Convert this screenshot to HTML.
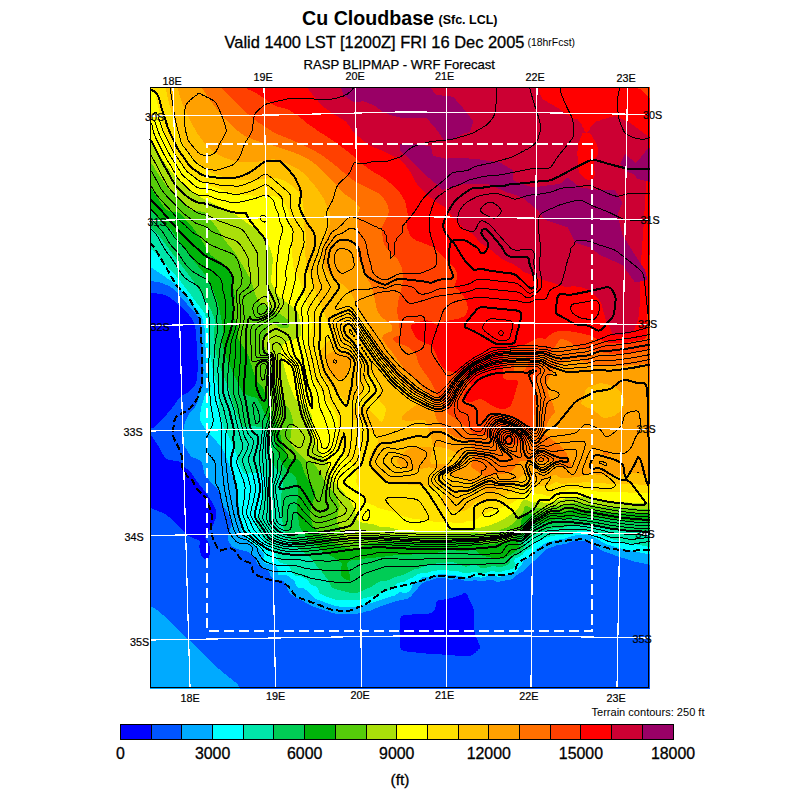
<!DOCTYPE html>
<html><head><meta charset="utf-8"><title>Cu Cloudbase</title>
<style>
html,body{margin:0;padding:0;background:#fff;}
body{width:800px;height:800px;overflow:hidden;font-family:"Liberation Sans",sans-serif;}
svg{display:block}
text{font-family:"Liberation Sans",sans-serif;fill:#000;shape-rendering:crispEdges;text-rendering:optimizeSpeed}
</style></head><body>
<svg width="800" height="800" viewBox="0 0 800 800">
<rect width="800" height="800" fill="#fff"/>
<g shape-rendering="crispEdges">
<rect x="150" y="87" width="499" height="601" fill="#0000ff"/>
<path fill="#0055ff" d="M152 87L154 87L156 87L158 87L160 87L162 87L164 87L166 87L168 87L170 87L172 87L174 87L176 87L178 87L180 87L182 87L184 87L186 87L188 87L190 87L192 87L194 87L196 87L198 87L200 87L202 87L204 87L206 87L208 87L210 87L212 87L214 87L216 87L218 87L220 87L222 87L224 87L226 87L228 87L230 87L232 87L234 87L236 87L238 87L240 87L242 87L244 87L246 87L248 87L250 87L252 87L254 87L256 87L258 87L260 87L262 87L264 87L266 87L268 87L270 87L272 87L274 87L276 87L278 87L280 87L282 87L284 87L286 87L288 87L290 87L292 87L294 87L296 87L298 87L300 87L302 87L304 87L306 87L308 87L310 87L312 87L314 87L316 87L318 87L320 87L322 87L324 87L326 87L328 87L330 87L332 87L334 87L336 87L338 87L340 87L342 87L344 87L346 87L348 87L350 87L352 87L354 87L356 87L358 87L360 87L362 87L364 87L366 87L368 87L370 87L372 87L374 87L376 87L378 87L380 87L382 87L384 87L386 87L388 87L390 87L392 87L394 87L396 87L398 87L400 87L402 87L404 87L406 87L408 87L410 87L412 87L414 87L416 87L418 87L420 87L422 87L424 87L426 87L428 87L430 87L432 87L434 87L436 87L438 87L440 87L442 87L444 87L446 87L448 87L450 87L452 87L454 87L456 87L458 87L460 87L462 87L464 87L466 87L468 87L470 87L472 87L474 87L476 87L478 87L480 87L482 87L484 87L486 87L488 87L490 87L492 87L494 87L496 87L498 87L500 87L502 87L504 87L506 87L508 87L510 87L512 87L514 87L516 87L518 87L520 87L522 87L524 87L526 87L528 87L530 87L532 87L534 87L536 87L538 87L540 87L542 87L544 87L546 87L548 87L550 87L552 87L554 87L556 87L558 87L560 87L562 87L564 87L566 87L568 87L570 87L572 87L574 87L576 87L578 87L580 87L582 87L584 87L586 87L588 87L590 87L592 87L594 87L596 87L598 87L600 87L602 87L604 87L606 87L608 87L610 87L612 87L614 87L616 87L618 87L620 87L622 87L624 87L626 87L628 87L630 87L632 87L634 87L636 87L638 87L640 87L642 87L644 87L646 87L648 87L650 87L650 89L650 91L650 93L650 95L650 97L650 99L650 101L650 103L650 105L650 107L650 109L650 111L650 113L650 115L650 117L650 119L650 121L650 123L650 125L650 127L650 129L650 131L650 133L650 135L650 137L650 139L650 141L650 143L650 145L650 147L650 149L650 151L650 153L650 155L650 157L650 159L650 161L650 163L650 165L650 167L650 169L650 171L650 173L650 175L650 177L650 179L650 181L650 183L650 185L650 187L650 189L650 191L650 193L650 195L650 197L650 199L650 201L650 203L650 205L650 207L650 209L650 211L650 213L650 215L650 217L650 219L650 221L650 223L650 225L650 227L650 229L650 231L650 233L650 235L650 237L650 239L650 241L650 243L650 245L650 247L650 249L650 251L650 253L650 255L650 257L650 259L650 261L650 263L650 265L650 267L650 269L650 271L650 273L650 275L650 277L650 279L650 281L650 283L650 285L650 287L650 289L650 291L650 293L650 295L650 297L650 299L650 301L650 303L650 305L650 307L650 309L650 311L650 313L650 315L650 317L650 319L650 321L650 323L650 325L650 327L650 329L650 331L650 333L650 335L650 337L650 339L650 341L650 343L650 345L650 347L650 349L650 351L650 353L650 355L650 357L650 359L650 361L650 363L650 365L650 367L650 369L650 371L650 373L650 375L650 377L650 379L650 381L650 383L650 385L650 387L650 389L650 391L650 393L650 395L650 397L650 399L650 401L650 403L650 405L650 407L650 409L650 411L650 413L650 415L650 417L650 419L650 421L650 423L650 425L650 427L650 429L650 431L650 433L650 435L650 437L650 439L650 441L650 443L650 445L650 447L650 449L650 451L650 453L650 455L650 457L650 459L650 461L650 463L650 465L650 467L650 469L650 471L650 473L650 475L650 477L650 479L650 481L650 483L650 485L650 487L650 489L650 491L650 493L650 495L650 497L650 499L650 501L650 503L650 505L650 507L650 509L650 511L650 513L650 515L650 517L650 519L650 521L650 523L650 525L650 527L650 529L650 531L650 533L650 535L650 537L650 539L650 541L650 543L650 545L650 547L650 549L650 551L650 553L650 555L650 557L650 559L650 561L650 563L650 565L650 567L650 569L650 571L650 573L650 575L650 577L650 579L650 581L650 583L650 585L650 587L650 589L650 591L650 593L650 595L650 597L650 599L650 601L650 603L650 605L650 607L650 609L650 611L650 613L650 615L650 617L650 619L650 621L650 623L650 625L650 627L650 629L650 631L650 633L650 635L650 637L650 639L650 641L650 643L650 645L650 647L650 649L650 651L650 653L650 655L650 657L650 659L650 661L650 663L650 665L650 667L650 669L650 671L650 673L650 675L650 677L650 679L650 681L650 683L650 685L650 687L650 689L648 689L646 689L644 689L642 689L640 689L638 689L636 689L634 689L632 689L630 689L628 689L626 689L624 689L622 689L620 689L618 689L616 689L614 689L612 689L610 689L608 689L606 689L604 689L602 689L600 689L598 689L596 689L594 689L592 689L590 689L588 689L586 689L584 689L582 689L580 689L578 689L576 689L574 689L572 689L570 689L568 689L566 689L564 689L562 689L560 689L558 689L556 689L554 689L552 689L550 689L548 689L546 689L544 689L542 689L540 689L538 689L536 689L534 689L532 689L530 689L528 689L526 689L524 689L522 689L520 689L518 689L516 689L514 689L512 689L510 689L508 689L506 689L504 689L502 689L500 689L498 689L496 689L494 689L492 689L490 689L488 689L486 689L484 689L482 689L480 689L478 689L476 689L474 689L472 689L470 689L468 689L466 689L464 689L462 689L460 689L458 689L456 689L454 689L452 689L450 689L448 689L446 689L444 689L442 689L440 689L438 689L436 689L434 689L432 689L430 689L428 689L426 689L424 689L422 689L420 689L418 689L416 689L414 689L412 689L410 689L408 689L406 689L404 689L402 689L400 689L398 689L396 689L394 689L392 689L390 689L388 689L386 689L384 689L382 689L380 689L378 689L376 689L374 689L372 689L370 689L368 689L366 689L364 689L362 689L360 689L358 689L356 689L354 689L352 689L350 689L348 689L346 689L344 689L342 689L340 689L338 689L336 689L334 689L332 689L330 689L328 689L326 689L324 689L322 689L320 689L318 689L316 689L314 689L312 689L310 689L308 689L306 689L304 689L302 689L300 689L298 689L296 689L294 689L292 689L290 689L288 689L286 689L284 689L282 689L280 689L278 689L276 689L274 689L272 689L270 689L268 689L266 689L264 689L262 689L260 689L258 689L256 689L254 689L252 689L250 689L248 689L246 689L244 689L242 689L240 689L238 689L236 689L234 689L232 689L230 689L228 689L226 689L224 689L222 689L220 689L218 689L216 689L214 689L212 689L210 689L208 689L206 689L204 689L202 689L200 689L198 689L196 689L194 689L192 689L190 689L188 689L186 689L184 689L182 689L180 689L178 689L176 689L174 689L172 689L170 689L168 689L166 689L164 689L162 689L160 689L158 689L156 689L154 689L152 689L150 689L150 687L150 685L150 683L150 681L150 679L150 677L150 675L150 673L150 671L150 669L150 667L150 665L150 663L150 661L150 659L150 657L150 655L150 653L150 651L150 649L150 647L150 645L150 643L150 641L150 639L150 637L150 635L150 633L150 631L150 629L150 627L150 625L150 623L150 621L150 619L150 617L150 615L150 613L150 611L150 609L150 607L150 605L150 603L150 601L150 599L150 597L150 595L150 593L150 591L150 589L150 587L150 585L150 583L150 581L150 579L150 577L150 575L150 573L150 571L150 569L150 567L150 565L150 563L150 561L150 559L150 557L150 555L150 553L150 551L150 549L150 547L150 545L150 543L150 541L150 539L150 537L150 535L150 533L150 531L150 529L150 527L150 525L150 523L150 521L150 519L150 517L150 515L150 513L150 511L150 509L150 507.4L152 508.5L153.1 509L154 509.4L156 510.2L158 510.9L158.1 511L160 511.8L162 512.6L163 513L164 513.5L166 514.7L166.4 515L168 516.2L168.9 517L170 517.9L171.3 519L172 519.6L173.6 521L174 521.4L175.8 523L176 523.1L178 525L179.8 527L180 527.2L181.5 529L182 529.6L183.2 531L184 532L185.1 533L186 533.9L187.7 535L188 535.3L190 536.5L191.1 537L192 537.6L194 538.6L195.5 539L196 539.3L198 539.8L199.9 541L199.7 543L199.5 545L199.4 547L199.6 549L200 550.8L200 551L200.5 553L201.1 555L202 556.6L202.3 557L204 558.6L205.3 559L206 559.3L206.9 559L208 558.6L208.9 557L209.7 555L209.9 553L209.9 551L209.8 549L209.6 547L209.3 545L208.6 543L208 541.3L207.4 541L206 539L206 538.8L204.6 537L206 535.7L206.1 535L207.5 533L208 532.6L208.8 531L210 529.8L210.4 529L211.8 527L212 526.7L212.8 525L213.8 523L214 522.6L214.6 521L215.4 519L216 517.1L216 517L216.2 515L216.2 513L216 511L216 510.9L215.4 509L214.4 507L214 506.1L213.3 505L212.3 503L212 502.3L211.2 501L210.1 499L210 498.8L208.8 497L208 495.8L207.4 495L206 493L204.5 491L204 490.4L202.9 489L202 487.8L201.4 487L200 485.2L199.8 485L198.3 483L198 482.6L196.8 481L196 479.8L195.4 479L194.1 477L194 476.8L192.7 475L192 473.9L191.2 473L190 471.7L189.3 471L188 469.9L187 469L186 468.4L184.5 467L184 466.6L182.7 465L182 463.8L181.1 463L180 462L178 461.3L176.5 461L176 460.9L174 460.6L172 460.3L170 460L168 459.6L167 459L166 458.4L164.8 457L164 456L163.4 455L162.2 453L162 452.7L161 451L160 449.2L159.9 449L158.8 447L158 445.6L157.6 445L156.4 443L156 442.2L155.1 441L154 439.1L153.9 439L152.3 437L152 436.4L150 435L150 433L150 431L150 429L150 428.7L152 428.2L154 427.4L154.5 427L156 425.9L156.9 425L158 423.9L158.8 423L160 421.8L160.7 421L162 419.7L162.6 419L164 417.5L164.4 417L166 415.1L166.1 415L167.8 413L168 412.8L169.5 411L170 410.4L171.1 409L172 407.9L172.6 407L174 405.2L174.2 405L175.6 403L176 402.4L177 401L178 399.7L178.5 399L180 397.2L180.2 397L182 395.4L183 395L184 394.4L186 393.6L187.4 393L188 392.6L189.7 391L190 390.8L191.4 389L192 388.5L193.2 387L194 386.2L194.9 385L196 383.4L196.1 383L196.5 381L196.7 379L196.9 377L197.1 375L197.4 373L197.7 371L198 369.1L198 369L198.1 367L198 365L198 364.7L197.8 363L197.6 361L197.4 359L197.3 357L197.1 355L197 353L196.9 351L196.8 349L196.7 347L196.6 345L196.6 343L196.5 341L196.4 339L196.4 337L196.3 335L196.2 333L196.1 331L196 330.3L195.6 329L195 327L194.5 325L194.1 323L194 322.8L193.1 321L192.2 319L192 318.7L190.7 317L190 316.2L189 315L188 314L187.1 313L186 311.9L185.1 311L184 309.8L183.1 309L182 307.9L181 307L180 306L178.8 305L178 304.2L176.5 303L176 302.5L174.2 301L174 300.8L172 299.1L171.9 299L170 297.7L168.7 297L168 296.7L166 295.7L164.6 295L164 294.8L162 294.3L160 293.9L158 293.6L156 293.3L154 293L152 293.1L150 293.7L150 293L150 291L150 289L150 287L150 285L150 283L150 281L150 279L150 277L150 275L150 273L150 271L150 269L150 267L150 265L150 263L150 261L150 259L150 257L150 255L150 253L150 251L150 249L150 247L150 245L150 243L150 241L150 239L150 237L150 235L150 233L150 231L150 229L150 227L150 225L150 223L150 221L150 219L150 217L150 215L150 213L150 211L150 209L150 207L150 205L150 203L150 201L150 199L150 197L150 195L150 193L150 191L150 189L150 187L150 185L150 183L150 181L150 179L150 177L150 175L150 173L150 171L150 169L150 167L150 165L150 163L150 161L150 159L150 157L150 155L150 153L150 151L150 149L150 147L150 145L150 143L150 141L150 139L150 137L150 135L150 133L150 131L150 129L150 127L150 125L150 123L150 121L150 119L150 117L150 115L150 113L150 111L150 109L150 107L150 105L150 103L150 101L150 99L150 97L150 95L150 93L150 91L150 89L150 87ZM464 593L462 593.7L461.3 595L460 595.1L458 595.9L456 596.7L455 597L454 597.3L452 597.9L450 598.4L448 598.8L446.2 599L446 599.1L444 599.5L442 600L440 600.3L438 600.3L436.9 601L436.3 603L436 603.4L435.9 605L435.6 607L435 609L434 611L432 612.5L431.1 613L430 613.3L428 613.6L426 613.8L424 613.9L422 614L420 614.1L418 614.2L416 614.3L414 614.4L412 614.5L410 614.6L408 614.7L406 614.8L404.3 615L404 615.1L402 616L400.9 617L400.2 619L400 621L400 623L400 625L400 627L400 629L400 631L400 633L400 635L400 637L400 639L400 641L400 643L400 645L400.1 647L400.8 649L402 650L404 651L404.2 651L406 651.4L408 651.7L410 651.9L412 652.1L414 652.3L416 652.5L418 652.7L420 652.9L421.5 653L422 653L424 653.3L426 653.5L428 653.7L430 653.8L432 653.9L434 654L436 654L438 654.2L440 654.3L442 654.5L444 654.6L446 654.8L448 655L448.5 655L450 655.1L452 655.3L454 655.4L456 655.6L458 655.7L460 655.9L462 656L464 656.2L466 656.3L468 656.4L470 656L472 655.2L472.6 655L474 653.5L475.3 653L476 651.5L477.6 651L478 649.5L479.7 649L479.9 647L479.5 645L478.6 643L478 642.2L477.9 641L477.1 639L476.1 637L476 636.8L475.5 635L474.8 633L474.2 631L474 629.8L473.9 629L473.8 627L473.8 625L473.8 623L473.8 621L473.8 619L473.8 617L473.8 615L473.8 613L473.7 611L473.5 609L473 607L472.1 605L472 604.6L471 603L470.1 601L470 600.3L469 599L468.1 597L468 595.5L467.2 595L466.1 593L466 593L464 593Z"/>
<path fill="#00aaff" d="M152 87L154 87L156 87L158 87L160 87L162 87L164 87L166 87L168 87L170 87L172 87L174 87L176 87L178 87L180 87L182 87L184 87L186 87L188 87L190 87L192 87L194 87L196 87L198 87L200 87L202 87L204 87L206 87L208 87L210 87L212 87L214 87L216 87L218 87L220 87L222 87L224 87L226 87L228 87L230 87L232 87L234 87L236 87L238 87L240 87L242 87L244 87L246 87L248 87L250 87L252 87L254 87L256 87L258 87L260 87L262 87L264 87L266 87L268 87L270 87L272 87L274 87L276 87L278 87L280 87L282 87L284 87L286 87L288 87L290 87L292 87L294 87L296 87L298 87L300 87L302 87L304 87L306 87L308 87L310 87L312 87L314 87L316 87L318 87L320 87L322 87L324 87L326 87L328 87L330 87L332 87L334 87L336 87L338 87L340 87L342 87L344 87L346 87L348 87L350 87L352 87L354 87L356 87L358 87L360 87L362 87L364 87L366 87L368 87L370 87L372 87L374 87L376 87L378 87L380 87L382 87L384 87L386 87L388 87L390 87L392 87L394 87L396 87L398 87L400 87L402 87L404 87L406 87L408 87L410 87L412 87L414 87L416 87L418 87L420 87L422 87L424 87L426 87L428 87L430 87L432 87L434 87L436 87L438 87L440 87L442 87L444 87L446 87L448 87L450 87L452 87L454 87L456 87L458 87L460 87L462 87L464 87L466 87L468 87L470 87L472 87L474 87L476 87L478 87L480 87L482 87L484 87L486 87L488 87L490 87L492 87L494 87L496 87L498 87L500 87L502 87L504 87L506 87L508 87L510 87L512 87L514 87L516 87L518 87L520 87L522 87L524 87L526 87L528 87L530 87L532 87L534 87L536 87L538 87L540 87L542 87L544 87L546 87L548 87L550 87L552 87L554 87L556 87L558 87L560 87L562 87L564 87L566 87L568 87L570 87L572 87L574 87L576 87L578 87L580 87L582 87L584 87L586 87L588 87L590 87L592 87L594 87L596 87L598 87L600 87L602 87L604 87L606 87L608 87L610 87L612 87L614 87L616 87L618 87L620 87L622 87L624 87L626 87L628 87L630 87L632 87L634 87L636 87L638 87L640 87L642 87L644 87L646 87L648 87L650 87L650 89L650 91L650 93L650 95L650 97L650 99L650 101L650 103L650 105L650 107L650 109L650 111L650 113L650 115L650 117L650 119L650 121L650 123L650 125L650 127L650 129L650 131L650 133L650 135L650 137L650 139L650 141L650 143L650 145L650 147L650 149L650 151L650 153L650 155L650 157L650 159L650 161L650 163L650 165L650 167L650 169L650 171L650 173L650 175L650 177L650 179L650 181L650 183L650 185L650 187L650 189L650 191L650 193L650 195L650 197L650 199L650 201L650 203L650 205L650 207L650 209L650 211L650 213L650 215L650 217L650 219L650 221L650 223L650 225L650 227L650 229L650 231L650 233L650 235L650 237L650 239L650 241L650 243L650 245L650 247L650 249L650 251L650 253L650 255L650 257L650 259L650 261L650 263L650 265L650 267L650 269L650 271L650 273L650 275L650 277L650 279L650 281L650 283L650 285L650 287L650 289L650 291L650 293L650 295L650 297L650 299L650 301L650 303L650 305L650 307L650 309L650 311L650 313L650 315L650 317L650 319L650 321L650 323L650 325L650 327L650 329L650 331L650 333L650 335L650 337L650 339L650 341L650 343L650 345L650 347L650 349L650 351L650 353L650 355L650 357L650 359L650 361L650 363L650 365L650 367L650 369L650 371L650 373L650 375L650 377L650 379L650 381L650 383L650 385L650 387L650 389L650 391L650 393L650 395L650 397L650 399L650 401L650 403L650 405L650 407L650 409L650 411L650 413L650 415L650 417L650 419L650 421L650 423L650 425L650 427L650 429L650 431L650 433L650 435L650 437L650 439L650 441L650 443L650 445L650 447L650 449L650 451L650 453L650 455L650 457L650 459L650 461L650 463L650 465L650 467L650 469L650 471L650 473L650 475L650 477L650 479L650 481L650 483L650 485L650 487L650 489L650 491L650 493L650 495L650 497L650 499L650 501L650 503L650 505L650 507L650 509L650 511L650 513L650 515L650 517L650 519L650 521L650 523L650 525L650 527L650 529L650 531L650 533L650 535L650 537L650 539L650 541L650 543L650 545L650 547L650 549L650 551L650 553L650 555L650 557L650 559L650 561L650 563L650 565L650 565.7L649.2 565L648 564.6L646 564.1L644 563.6L642 563.1L641.4 563L640 562.8L638 562.4L636 561.9L634 561.4L633 561L632 560.7L630 560.1L628 559.5L626.6 559L626 558.9L624 558.3L622 557.7L620 557.1L619.8 557L618 556.5L616 555.8L614.2 555L614 554.9L612 554.2L610 553.4L609 553L608 552.7L606 552.1L604 551.5L602.8 551L602 550.7L600 549.5L599.4 549L598 548L596.9 547L596 546.4L594.4 545L594 544.8L592 543.4L591.3 543L590 542.4L588 541.4L587 541L586 540.8L584 540.7L582 540.7L580 540.8L578 540.8L576 540.8L574 540.9L573.6 541L572 541.5L570 542.3L568 542.9L567.7 543L566 543.8L564 544.2L562 544.5L560 544.6L558 544.8L557.2 545L556 545.5L554 546.4L552 547L551.8 547L550 547.8L548 548.6L547.1 549L546 549.8L544.6 551L544 551.5L542.6 553L542 553.6L540.7 555L540 555.7L538.7 557L538 557.7L536.5 559L536 559.4L534 561L533.9 561L532 562.7L531.6 563L530 564.4L529.3 565L528 566.3L527.3 567L526 568.3L525.3 569L524 570.3L523.3 571L522 572L520.4 573L520 573.2L518 574.4L517.1 575L516 575.7L514.6 577L514 577.5L512.1 579L512 579L510 579.7L508 580.1L506 580.4L504 580.7L502.1 581L502 581L500 581.6L498 581.9L496 581.5L495.4 581L494 580.3L492 579.5L490 579.6L488 580L486 580.5L484 581L483.9 581L482 581.4L480 581.3L479 581L478 580.8L476 580.4L474 580.3L472 580.6L470 580.9L469.4 581L468 581.2L466 581L465.9 581L464 580.5L462 579.8L460 579.4L458 579.1L456.9 579L456 578.9L454.7 579L454 579.1L452 579.7L450 580L448 579.1L447.8 579L446 578.2L444 577.8L442 577.7L440 577.7L438 578L436 578.6L434.7 579L434 579.2L432 579.8L430 580.4L428 581L427.8 581L426 581.5L424 582.1L422.9 583L422 583.7L420.7 585L420 585.7L418.7 587L418 587.9L417.1 589L416 590.4L415.5 591L414 592.7L413.8 593L412 595L410.1 597L410 597.1L408 598.5L406.3 599L406 599.1L404 599.5L402 599.8L400 600.2L398 600.7L396.8 601L396 601.3L394 602L392 602.6L390.5 603L390 603.2L388 603.9L386 604.5L384.2 605L384 605.1L382 605.8L380 606.5L378.5 607L378 607.3L376 608.3L374.2 609L374 609.1L372 610.2L370 610.7L368 611L367.8 611L366 611.7L364 612.3L362 612.7L360 613L359.8 613L358 613.6L356 614L354 614.1L352 614.1L350 614.1L348 614.1L346 614.1L344 614.1L342 614.2L340 614.2L338 614.1L336 613.7L334 613L332 612.7L330 612.1L328 611.3L327.4 611L326 610.7L324 610.2L322 609.4L321 609L320 608.8L318 608.3L316 607.5L314.9 607L314 606.8L312 606.1L310.2 605L310 604.9L308 604L306.5 603L306 602.8L304 601.8L302.8 601L302 600.7L300 599.6L299.1 599L298 598.5L296 597.3L295.6 597L294 596.3L292.1 595L292 595L290 593.8L289.5 593L288.2 591L288 590.4L287.6 589L287.2 587L286.3 585L286 584.7L284.8 583L284 582L283.1 581L282 580.3L280 579.8L278 580L276 580.2L274 579.6L273.1 579L272 578L271.1 577L270 575L269.5 573L268.8 571L268 570.6L266 569.2L265.8 569L264 568.1L262.3 567L262 566.8L260 565.7L258.9 565L258 564.2L256.9 563L256.2 561L256 559.9L255.8 559L254.3 557L254 556.8L252 555.5L251.4 555L250 553.8L249 553L248 552L246.2 551L246 550.9L244 550.6L242 550.4L240 550.1L238 549.3L237.3 549L236 548.6L234 547.7L233.1 547L232 546.2L230.9 545L230 543.5L229.5 543L228.3 541L228 539.7L227.7 539L228 537.3L228 537L228.4 535L228.8 533L229.4 531L230 529.5L230.1 529L230.9 527L231.5 525L231.5 523L231 521L230.2 519L230 518.5L229.4 517L228.6 515L228 513.4L227.8 513L226.8 511L226 509.8L225.5 509L224 507L222.9 505L222.2 503L222 502.2L221.8 501L221.6 499L221.3 497L220.9 495L220.2 493L220 492.6L218.9 491L218 489.9L217.1 489L216 487.9L215.1 487L214 485.8L213.3 485L212 483.5L211.6 483L210 481.1L209.9 481L208.2 479L208 478.7L206.6 477L206 476.3L205.1 475L204 473L204 472.9L203.6 471L203.3 469L203 467L202.6 465L202 463.1L202 463L200.6 461L200 460.4L198 459.3L196.9 459L196 458.5L194 457.8L192 457.2L191.2 457L190 455.9L189.8 455L188.8 453L188 452.1L187.6 451L186.2 449L186 448.8L185.1 447L184.1 445L184 444.7L183.6 443L183.4 441L183.3 439L183.2 437L183 435L183 433L183.2 431L183.5 429L183.8 427L184 426.3L184.2 425L184.8 423L185.6 421L186 420.2L186.5 419L187.4 417L188 415.9L188.4 415L189.6 413L190 412.5L191.2 411L192 410.4L193.5 409L194 408.6L195.1 407L196 405.7L196.3 405L197.1 403L197.9 401L198 400.4L198.2 399L198.1 397L198.1 395L198.8 393L200 391.2L200.1 391L201.5 389L202 388.1L202.7 387L203.5 385L203.4 383L203.1 381L203.1 379L203.2 377L203.3 375L203.4 373L203.5 371L203.5 369L203.4 367L203.3 365L203.1 363L202.9 361L202.8 359L202.6 357L202.5 355L202.3 353L202.2 351L202.1 349L202 347L202 346.4L201.9 345L201.9 343L201.8 341L201.8 339L201.7 337L201.7 335L201.6 333L201.4 331L201.1 329L200.8 327L200.5 325L200.2 323L200 322.2L199.7 321L199 319L198 317L198 316.9L196.7 315L196 313.9L195.3 313L194 311.3L193.7 311L192 309.3L191.7 309L190 307.3L189.7 307L188 305.2L187.8 305L186.1 303L186 302.9L184.4 301L184 300.5L182.7 299L182 298.2L180.9 297L180 295.9L179.3 295L178 293.5L177.6 293L176 291.4L175.6 291L174 289.6L173.2 289L172 288L170.6 287L170 286.6L168 285.5L166.8 285L166 284.7L164 284L162 283.3L161.1 283L160 282.6L158 282.1L156 281.8L154 281.5L152 281.1L151.5 281L150 280.7L150 279L150 277L150 275L150 273L150 271L150 269L150 267L150 265L150 263L150 261L150 259L150 257L150 255L150 253L150 251L150 249L150 247L150 245L150 243L150 241L150 239L150 237L150 235L150 233L150 231L150 229L150 227L150 225L150 223L150 221L150 219L150 217L150 215L150 213L150 211L150 209L150 207L150 205L150 203L150 201L150 199L150 197L150 195L150 193L150 191L150 189L150 187L150 185L150 183L150 181L150 179L150 177L150 175L150 173L150 171L150 169L150 167L150 165L150 163L150 161L150 159L150 157L150 155L150 153L150 151L150 149L150 147L150 145L150 143L150 141L150 139L150 137L150 135L150 133L150 131L150 129L150 127L150 125L150 123L150 121L150 119L150 117L150 115L150 113L150 111L150 109L150 107L150 105L150 103L150 101L150 99L150 97L150 95L150 93L150 91L150 89L150 87ZM152 606.6L152.5 607L154 607.8L155.6 609L156 609.3L158 610.9L158.1 611L160 612.6L160.5 613L162 614.2L162.9 615L164 615.9L165.3 617L166 617.6L167.7 619L168 619.3L169.9 621L170 621.1L171.9 623L172 623.1L173.9 625L174 625.1L175.9 627L176 627.1L177.9 629L178 629.1L179.9 631L180 631.1L181.9 633L182 633.1L183.9 635L184 635.1L185.9 637L186 637.1L188 639L190 640.9L190.1 641L192 642.7L192.3 643L194 644.6L194.4 645L196 646.5L196.5 647L198 648.5L198.5 649L200 650.5L200.5 651L202 652.5L202.5 653L204 654.5L204.5 655L206 656.5L206.5 657L208 658.5L208.5 659L210 660.5L210.4 661L212 662.6L212.4 663L214 664.5L214.5 665L216 666.4L216.7 667L218 668.1L219.1 669L220 669.8L221.5 671L222 671.4L223.9 673L224 673.1L226 674.8L226.3 675L228 676.4L228.7 677L230 678.1L231.2 679L232 679.6L233.8 681L234 681.2L236 682.9L236.2 683L238 685L239.6 687L240 687.9L240.9 689L240 689L238 689L236 689L234 689L232 689L230 689L228 689L226 689L224 689L222 689L220 689L218 689L216 689L214 689L212 689L210 689L208 689L206 689L204 689L202 689L200 689L198 689L196 689L194 689L192 689L190 689L188 689L186 689L184 689L182 689L180 689L178 689L176 689L174 689L172 689L170 689L168 689L166 689L164 689L162 689L160 689L158 689L156 689L154 689L152 689L150 689L150 687L150 685L150 683L150 681L150 679L150 677L150 675L150 673L150 671L150 669L150 667L150 665L150 663L150 661L150 659L150 657L150 655L150 653L150 651L150 649L150 647L150 645L150 643L150 641L150 639L150 637L150 635L150 633L150 631L150 629L150 627L150 625L150 623L150 621L150 619L150 617L150 615L150 613L150 611L150 609L150 607L150 606.3Z"/>
<path fill="#00ffff" d="M152 87L154 87L156 87L158 87L160 87L162 87L164 87L166 87L168 87L170 87L172 87L174 87L176 87L178 87L180 87L182 87L184 87L186 87L188 87L190 87L192 87L194 87L196 87L198 87L200 87L202 87L204 87L206 87L208 87L210 87L212 87L214 87L216 87L218 87L220 87L222 87L224 87L226 87L228 87L230 87L232 87L234 87L236 87L238 87L240 87L242 87L244 87L246 87L248 87L250 87L252 87L254 87L256 87L258 87L260 87L262 87L264 87L266 87L268 87L270 87L272 87L274 87L276 87L278 87L280 87L282 87L284 87L286 87L288 87L290 87L292 87L294 87L296 87L298 87L300 87L302 87L304 87L306 87L308 87L310 87L312 87L314 87L316 87L318 87L320 87L322 87L324 87L326 87L328 87L330 87L332 87L334 87L336 87L338 87L340 87L342 87L344 87L346 87L348 87L350 87L352 87L354 87L356 87L358 87L360 87L362 87L364 87L366 87L368 87L370 87L372 87L374 87L376 87L378 87L380 87L382 87L384 87L386 87L388 87L390 87L392 87L394 87L396 87L398 87L400 87L402 87L404 87L406 87L408 87L410 87L412 87L414 87L416 87L418 87L420 87L422 87L424 87L426 87L428 87L430 87L432 87L434 87L436 87L438 87L440 87L442 87L444 87L446 87L448 87L450 87L452 87L454 87L456 87L458 87L460 87L462 87L464 87L466 87L468 87L470 87L472 87L474 87L476 87L478 87L480 87L482 87L484 87L486 87L488 87L490 87L492 87L494 87L496 87L498 87L500 87L502 87L504 87L506 87L508 87L510 87L512 87L514 87L516 87L518 87L520 87L522 87L524 87L526 87L528 87L530 87L532 87L534 87L536 87L538 87L540 87L542 87L544 87L546 87L548 87L550 87L552 87L554 87L556 87L558 87L560 87L562 87L564 87L566 87L568 87L570 87L572 87L574 87L576 87L578 87L580 87L582 87L584 87L586 87L588 87L590 87L592 87L594 87L596 87L598 87L600 87L602 87L604 87L606 87L608 87L610 87L612 87L614 87L616 87L618 87L620 87L622 87L624 87L626 87L628 87L630 87L632 87L634 87L636 87L638 87L640 87L642 87L644 87L646 87L648 87L650 87L650 89L650 91L650 93L650 95L650 97L650 99L650 101L650 103L650 105L650 107L650 109L650 111L650 113L650 115L650 117L650 119L650 121L650 123L650 125L650 127L650 129L650 131L650 133L650 135L650 137L650 139L650 141L650 143L650 145L650 147L650 149L650 151L650 153L650 155L650 157L650 159L650 161L650 163L650 165L650 167L650 169L650 171L650 173L650 175L650 177L650 179L650 181L650 183L650 185L650 187L650 189L650 191L650 193L650 195L650 197L650 199L650 201L650 203L650 205L650 207L650 209L650 211L650 213L650 215L650 217L650 219L650 221L650 223L650 225L650 227L650 229L650 231L650 233L650 235L650 237L650 239L650 241L650 243L650 245L650 247L650 249L650 251L650 253L650 255L650 257L650 259L650 261L650 263L650 265L650 267L650 269L650 271L650 273L650 275L650 277L650 279L650 281L650 283L650 285L650 287L650 289L650 291L650 293L650 295L650 297L650 299L650 301L650 303L650 305L650 307L650 309L650 311L650 313L650 315L650 317L650 319L650 321L650 323L650 325L650 327L650 329L650 331L650 333L650 335L650 337L650 339L650 341L650 343L650 345L650 347L650 349L650 351L650 353L650 355L650 357L650 359L650 361L650 363L650 365L650 367L650 369L650 371L650 373L650 375L650 377L650 379L650 381L650 383L650 385L650 387L650 389L650 391L650 393L650 395L650 397L650 399L650 401L650 403L650 405L650 407L650 409L650 411L650 413L650 415L650 417L650 419L650 421L650 423L650 425L650 427L650 429L650 431L650 433L650 435L650 437L650 439L650 441L650 443L650 445L650 447L650 449L650 451L650 453L650 455L650 457L650 459L650 461L650 463L650 465L650 467L650 469L650 471L650 473L650 475L650 477L650 479L650 481L650 483L650 485L650 487L650 489L650 491L650 493L650 495L650 497L650 499L650 501L650 503L650 505L650 507L650 509L650 511L650 513L650 515L650 517L650 519L650 521L650 523L650 525L650 527L650 529L650 531L650 533L650 535L650 537L650 539L650 541L650 543L650 545L650 547L650 549L650 551L650 553L650 554.4L648 554.1L646 553.7L644 553.3L642.4 553L642 552.9L640 552.5L638 552.2L636 551.7L634 551.3L632.8 551L632 550.8L630 550.4L628 550L626 549.6L624 549.2L623.2 549L622 548.8L620 548.3L618 547.8L616 547.2L615.4 547L614 546.6L612 545.9L610 545.3L609 545L608 544.7L606 544.1L604 543.3L603.5 543L602 542.1L600.4 541L600 540.7L598 539.4L597.2 539L596 538.4L594 537.5L593 537L592 536.5L590 535.6L588.2 535L588 534.9L586 534.6L584 534.7L582 534.9L580.5 535L580 535.1L578 535.2L576 535.4L574 535.7L572 536.1L570 536.7L569.1 537L568 537.4L566 538.2L564 538.8L562.9 539L562 539.2L560 539.4L558 539.6L556 539.9L554 540.5L552.4 541L552 541.1L550 541.7L548 542.3L546 543L545.9 543L544 544.1L542.7 545L542 545.6L540 546.8L539.7 547L538 548L536.8 549L536 550.1L535.5 551L534.2 553L534 553.3L532.3 555L532 555.2L530.2 557L530 557.1L528 558.6L526.7 559L526 559.3L524 559.1L522.8 561L522.8 563L522 564L521.4 565L520 566.6L519.7 567L518.1 569L518 569.1L516.2 571L516 571.2L514 572.7L513.2 573L512 573.7L510 574.5L508 574.9L507.8 575L506 575.4L504 575.8L502 576.3L500 576.7L498 576.7L496 576L494 575.1L493.4 575L492 574.8L491.2 575L490 575.2L488 575.8L486 576.5L484.5 577L484 577.2L482 577.6L480 577.6L478 577.1L477.5 577L476 576.6L474 576.5L472 576.8L471.1 577L470 577.3L468 577.6L466 577.5L464.1 577L464 577L462 576.5L460 576.2L458 575.9L456 575.5L454 575.3L452 575.4L450 575.3L448.7 575L448 574.8L446 574.5L444 574.3L442 574.2L440 574.2L438 574.4L436 574.9L435.5 575L434 575.5L432 576.1L430 576.7L428.7 577L428 577.2L426 577.3L424 577.2L422 577.5L420.3 579L420 579.4L418.9 581L418 581.9L416 583L415.9 583L414 583.5L412.1 585L412 585.3L411.8 587L411 589L410 590.3L409.4 591L408 592.2L406.2 593L406 593.1L404 593.2L403.5 593L402 592.5L400 592.1L398.2 593L398 593.1L396 594.9L395.9 595L394 595.7L392 596.3L390 596.9L389.7 597L388 597.5L386 598.1L384 598.8L383.5 599L382 599.5L380 600.2L378 600.9L377.7 601L376 601.6L374 602.1L372 602.7L370.8 603L370 603.2L368 603.7L366 604.2L364 604.7L362.8 605L362 605.2L360 605.7L358 606.1L356 606.5L354 606.6L352 606.6L350 606.6L348 606.6L346 606.6L344 606.6L342 606.6L340 606.6L338 606.4L336 606L334 605.4L332.7 605L332 604.8L330 604.1L328 603.4L326.9 603L326 602.7L324 602L322 601.3L321.2 601L320 600.6L318 599.8L316.2 599L316 598.9L314 597.4L313.5 597L312 595.6L311.4 595L310 593.6L309.3 593L308 591.7L307.1 591L306 589.9L304.7 589L304 588.6L302 588.2L300 588L298 587.5L297.1 587L296 585.7L295.7 585L295.4 583L294.3 581L294 580.7L292 579L290 577.3L289.7 577L288 575.7L286 575.1L284 575.3L282 575.5L280 575.3L278.6 575L278 574.3L277.5 573L277.6 571L277.5 569L276.9 567L276 565.9L274.8 565L274 564.5L272 563.7L270 563.5L268 563.6L266 563.5L264.8 563L264 562.5L262.8 561L263 559L263.9 557L264 556.4L264.3 555L264 554.3L263.4 553L262 551.2L261.8 551L260 549L258 547.2L257.5 547L256 546L254 545.1L253.6 545L252 543.5L251 543L250 541.8L248.6 541L248 540.2L247.1 539L246 537.6L245.8 537L244.1 535L244 534.9L242.9 533L242 531.8L241.7 531L241.2 529L240.9 527L240.6 525L240.4 523L240.2 521L240 519.6L239.9 519L239.8 517L239.8 515L239.7 513L239.6 511L239.4 509L239.1 507L238.9 505L238.5 503L238.1 501L238 500.7L237.7 499L237.5 497L237.3 495L237 493L236.8 491L236.5 489L236 487.1L236 487L235.3 485L234.6 483L234 481L234 480.9L233.4 479L232.8 477L232.2 475L232 474.4L231.4 473L230.8 471L230.3 469L230 467.8L229.7 467L229 465L228.4 463L228 461.6L227.8 461L227 459L226.3 457L226 456.2L225.6 455L224.7 453L224 451.4L223.8 451L222.4 449L222 448.4L220.9 447L220 445.8L219.4 445L218 443.1L217.9 443L216.3 441L216 440.6L214.5 439L214 438.5L212.6 437L212 436.4L210.7 435L210 434.1L209 433L208 431.7L207.4 431L206 429.3L205.7 429L204 427L202.4 425L202 424.3L201.4 423L200.6 421L200 419.1L200 419L199.6 417L199.7 415L200 413.9L200.2 413L200.7 411L201.1 409L201.4 407L201.8 405L202 404.2L202.5 403L203.2 401L203.7 399L204 397.6L204.2 397L205.1 395L206 393.7L206.5 393L208 391.1L208.1 391L209.8 389L210 388.6L210.7 387L210.7 385L210 383.3L209.9 383L208.6 381L208 379.7L207.8 379L207.5 377L207.4 375L207.3 373L207.2 371L207.1 369L206.9 367L206.7 365L206.6 363L206.4 361L206.2 359L206.1 357L206 355.7L206 355L205.8 353L205.7 351L205.6 349L205.5 347L205.3 345L205.2 343L205.2 341L205.1 339L205.1 337L205 335L204.9 333L204.8 331L204.6 329L204.3 327L204 325.1L204 325L203.6 323L203.2 321L202.6 319L202 317.6L201.8 317L200.7 315L200 313.9L199.4 313L198 311.1L198 311L196.5 309L196 308.4L194.8 307L194 306.1L192.9 305L192 304L191.1 303L190 301.6L189.5 301L188 299L186.4 297L186 296.5L184.6 295L184 294.3L182.9 293L182 292L181.3 291L180 289.3L179.8 289L178.3 287L178 286.6L176.5 285L176 284.5L174.1 283L174 282.9L172 281.5L171.2 281L170 280.1L168.2 279L168 278.9L166 277.4L165.3 277L164 276L162.5 275L162 274.6L160 273.3L159.5 273L158 271.9L156.6 271L156 270.6L154 269.3L153.6 269L152 268L150 267L150 265L150 263L150 261L150 259L150 257L150 255L150 253L150 251L150 249L150 247L150 245L150 243L150 241L150 239L150 237L150 235L150 233L150 231L150 229L150 227L150 225L150 223L150 221L150 219L150 217L150 215L150 213L150 211L150 209L150 207L150 205L150 203L150 201L150 199L150 197L150 195L150 193L150 191L150 189L150 187L150 185L150 183L150 181L150 179L150 177L150 175L150 173L150 171L150 169L150 167L150 165L150 163L150 161L150 159L150 157L150 155L150 153L150 151L150 149L150 147L150 145L150 143L150 141L150 139L150 137L150 135L150 133L150 131L150 129L150 127L150 125L150 123L150 121L150 119L150 117L150 115L150 113L150 111L150 109L150 107L150 105L150 103L150 101L150 99L150 97L150 95L150 93L150 91L150 89L150 87Z"/>
<path fill="#00e6aa" d="M152 87L154 87L156 87L158 87L160 87L162 87L164 87L166 87L168 87L170 87L172 87L174 87L176 87L178 87L180 87L182 87L184 87L186 87L188 87L190 87L192 87L194 87L196 87L198 87L200 87L202 87L204 87L206 87L208 87L210 87L212 87L214 87L216 87L218 87L220 87L222 87L224 87L226 87L228 87L230 87L232 87L234 87L236 87L238 87L240 87L242 87L244 87L246 87L248 87L250 87L252 87L254 87L256 87L258 87L260 87L262 87L264 87L266 87L268 87L270 87L272 87L274 87L276 87L278 87L280 87L282 87L284 87L286 87L288 87L290 87L292 87L294 87L296 87L298 87L300 87L302 87L304 87L306 87L308 87L310 87L312 87L314 87L316 87L318 87L320 87L322 87L324 87L326 87L328 87L330 87L332 87L334 87L336 87L338 87L340 87L342 87L344 87L346 87L348 87L350 87L352 87L354 87L356 87L358 87L360 87L362 87L364 87L366 87L368 87L370 87L372 87L374 87L376 87L378 87L380 87L382 87L384 87L386 87L388 87L390 87L392 87L394 87L396 87L398 87L400 87L402 87L404 87L406 87L408 87L410 87L412 87L414 87L416 87L418 87L420 87L422 87L424 87L426 87L428 87L430 87L432 87L434 87L436 87L438 87L440 87L442 87L444 87L446 87L448 87L450 87L452 87L454 87L456 87L458 87L460 87L462 87L464 87L466 87L468 87L470 87L472 87L474 87L476 87L478 87L480 87L482 87L484 87L486 87L488 87L490 87L492 87L494 87L496 87L498 87L500 87L502 87L504 87L506 87L508 87L510 87L512 87L514 87L516 87L518 87L520 87L522 87L524 87L526 87L528 87L530 87L532 87L534 87L536 87L538 87L540 87L542 87L544 87L546 87L548 87L550 87L552 87L554 87L556 87L558 87L560 87L562 87L564 87L566 87L568 87L570 87L572 87L574 87L576 87L578 87L580 87L582 87L584 87L586 87L588 87L590 87L592 87L594 87L596 87L598 87L600 87L602 87L604 87L606 87L608 87L610 87L612 87L614 87L616 87L618 87L620 87L622 87L624 87L626 87L628 87L630 87L632 87L634 87L636 87L638 87L640 87L642 87L644 87L646 87L648 87L650 87L650 89L650 91L650 93L650 95L650 97L650 99L650 101L650 103L650 105L650 107L650 109L650 111L650 113L650 115L650 117L650 119L650 121L650 123L650 125L650 127L650 129L650 131L650 133L650 135L650 137L650 139L650 141L650 143L650 145L650 147L650 149L650 151L650 153L650 155L650 157L650 159L650 161L650 163L650 165L650 167L650 169L650 171L650 173L650 175L650 177L650 179L650 181L650 183L650 185L650 187L650 189L650 191L650 193L650 195L650 197L650 199L650 201L650 203L650 205L650 207L650 209L650 211L650 213L650 215L650 217L650 219L650 221L650 223L650 225L650 227L650 229L650 231L650 233L650 235L650 237L650 239L650 241L650 243L650 245L650 247L650 249L650 251L650 253L650 255L650 257L650 259L650 261L650 263L650 265L650 267L650 269L650 271L650 273L650 275L650 277L650 279L650 281L650 283L650 285L650 287L650 289L650 291L650 293L650 295L650 297L650 299L650 301L650 303L650 305L650 307L650 309L650 311L650 313L650 315L650 317L650 319L650 321L650 323L650 325L650 327L650 329L650 331L650 333L650 335L650 337L650 339L650 341L650 343L650 345L650 347L650 349L650 351L650 353L650 355L650 357L650 359L650 361L650 363L650 365L650 367L650 369L650 371L650 373L650 375L650 377L650 379L650 381L650 383L650 385L650 387L650 389L650 391L650 393L650 395L650 397L650 399L650 401L650 403L650 405L650 407L650 409L650 411L650 413L650 415L650 417L650 419L650 421L650 423L650 425L650 427L650 429L650 431L650 433L650 435L650 437L650 439L650 441L650 443L650 445L650 447L650 449L650 451L650 453L650 455L650 457L650 459L650 461L650 463L650 465L650 467L650 469L650 471L650 473L650 475L650 477L650 479L650 481L650 483L650 485L650 487L650 489L650 491L650 493L650 495L650 497L650 499L650 501L650 503L650 505L650 507L650 509L650 511L650 513L650 515L650 517L650 519L650 521L650 523L650 525L650 527L650 529L650 531L650 533L650 535L650 537L650 539L650 541L650 543L650 545L650 547L649.7 547L648 546.7L646 546.3L644 545.9L642 545.5L640 545.2L639 545L638 544.8L636 544.4L634 544.1L632 543.7L630 543.4L628 543.1L627.6 543L626 542.7L624 542.2L622 541.8L620 541.4L618.2 541L618 540.9L616 540.3L614 539.7L612 539.2L611.3 539L610 538.6L608 538L606 537.4L604.9 537L604 536.7L602 535.9L600 535.1L599.9 535L598 534.2L596 533.4L595 533L594 532.6L592 531.8L590 531.2L589.1 531L588 530.8L586 530.7L584 530.8L582.3 531L582 531L580 531.2L578 531.4L576 531.6L574 531.7L572 532L570 532.4L568.2 533L568 533.1L566 533.7L564 534.4L562 534.9L561 535L560 535.1L558 535.2L556 535.3L554 535.6L552 536.1L550 536.6L548.6 537L548 537.1L546 537.6L544 538.3L542.7 539L542 539.3L540 540.5L538.5 541L538 541.2L536 541.6L534 542.8L533.8 543L533 545L532.3 547L532 547.5L530.4 549L530 549.2L528 549.7L526 550.3L525 551L524 552.2L523.5 553L522.3 555L522 555.2L520 556.4L518.6 557L518 557.3L516 558.2L514.7 559L514 561L515.3 563L515.6 565L514.7 567L514 567.9L512.6 569L512 569.3L510 569.5L508 569.6L506 570.1L504 570.7L503.2 571L502 571.4L500 572.1L498 572.4L496 572L494 571.3L492 571.2L490 571.6L488 572.2L486 572.8L485.3 573L484 573.3L482 573.7L480 573.5L478.5 573L478 572.8L476 572L474 571.8L472 572.1L470 572.7L469.1 573L468 573.3L466 573.4L464 573.1L463.7 573L462 572.5L460 571.7L458 571L457.9 571L456 570.6L454 570.6L452 570.6L450 570.6L448 570.3L446 570L444 569.6L442 569.5L440 569.8L438 570.2L436 570.7L434.6 571L434 571.1L432 571.4L430 571.8L428 572.4L426 573L424 572.9L422 572.9L421.5 573L420 573.3L418 574.2L416.6 575L416 575.5L414 576.8L413.7 577L412 577.8L410 578.7L409.3 579L408 579.7L406 580.7L405.3 581L404 581.9L402 582.3L400 582.5L398 582.9L397.8 583L396 584.3L395.2 585L394 586.6L393.6 587L392 588.5L391.2 589L390 589.6L388 590.5L386.8 591L386 591.3L384 592.1L382 592.9L381.8 593L380 593.6L378 594.3L376.2 595L376 595.1L374 595.7L372 596.3L370 596.8L369.4 597L368 597.3L366 597.8L364 598.3L362 598.9L361.5 599L360 599.4L358 599.9L356 600.3L354 600.4L352 600.4L350 600.4L348 600.4L346 600.4L344 600.4L342 600.4L340 600.3L338 600.1L336 599.7L334 599.1L333.7 599L332 598.4L330 597.7L328 597.1L327.7 597L326 596.4L324 595.7L322.3 595L322 594.8L320 593.4L319.6 593L318.7 591L318.4 589L318 588.2L317.1 587L316 586.5L314 585.9L312 585.2L311.6 585L310 583.5L309.5 583L308.6 581L308 580L306 579.1L305.6 579L304 578.2L303.1 577L302 576.6L300 576.4L298 576.4L296 576L294.4 575L294 574.7L292.5 573L292 572.1L291.4 571L290.6 569L290 567.4L289.7 567L288.1 565L288 565L286 564.3L284 563.8L282 563.1L281.7 563L280 562.4L278.3 561L278 560.4L277.3 559L276.8 557L276.3 555L276 553.8L275.7 553L274.3 551L274 550.7L272.5 549L272 548.5L270.5 547L270 546.5L268.5 545L268 544.5L266.7 543L266 542.2L265.1 541L264 539.5L263.6 539L262.2 537L262 536.7L260.8 535L260 533.8L259.5 533L258.6 531L258 529.3L257.9 529L257.4 527L256.7 525L256.1 523L256 522.3L255.9 521L256 520.5L256.4 519L257.2 517L258 515.2L258.1 515L259 513L259.7 511L260 509.8L260.3 509L260.8 507L261.2 505L261.5 503L261.8 501L262 499.3L262 499L262.2 497L262.3 495L262.6 493L263.2 491L264 489.3L264.2 489L265.4 487L266 485.4L266.3 485L267.4 483L266.8 481L266 479.3L266 479L265.1 477L264 475.2L263.9 475L262.3 473L262 472.8L260 472.2L258 472.4L256 472.6L254 472.8L252.6 473L252 473.1L250 473.4L248 473.7L246 473.8L244 473.4L243.6 473L242.2 471L242 470.5L241.4 469L240.5 467L240 466L239.5 465L238.6 463L238 461.2L237.9 461L237.5 459L237 457L236.4 455L236 453.5L235.9 453L235.3 451L234.5 449L234 447.7L233.7 447L232.9 445L232 443.1L232 443L231.1 441L230.1 439L230 438.8L229.1 437L228 435.1L227.9 435L226.8 433L226 431.6L225.7 431L224.5 429L224 427.9L223.6 427L222.9 425L222.4 423L222 421.6L221.9 421L221.3 419L220.8 417L220.2 415L220 413.8L219.8 413L219.5 411L219.3 409L219 407L218.8 405L218.6 403L218.5 401L218.5 399L218.4 397L218.4 395L218.5 393L218.5 391L218.5 389L218 387L218 386.9L217.5 385L216.8 383L216 381L216 380.9L215.3 379L214.7 377L214.1 375L214 374.5L213.6 373L213.2 371L212.8 369L212.4 367L212 365L212 364.8L211.7 363L211.4 361L211.1 359L210.8 357L210.5 355L210.3 353L210.1 351L210 350.6L209.8 349L209.6 347L209.4 345L209.2 343L209 341L208.8 339L208.7 337L208.5 335L208.4 333L208.2 331L208.1 329L208 327.6L208 327L207.9 325L207.7 323L207.4 321L206.8 319L206 317.1L206 317L205.3 315L204.3 313L204 312.5L203.1 311L202 309.4L201.7 309L200.1 307L200 306.9L198.5 305L198 304.4L196.9 303L196 302L195.2 301L194 299.4L193.7 299L192.3 297L192 296.6L190.9 295L190 293.8L189.4 293L188 291.2L187.9 291L186.3 289L186 288.6L184.8 287L184 285.9L183.3 285L182 283.2L181.8 283L180.4 281L180 280.6L178.6 279L178 278.3L176.8 277L176 276.1L175.1 275L174 273.8L173.3 273L172 271.5L171.6 271L170 269.3L169.7 269L168 267.1L167.9 267L166.1 265L166 264.8L164.4 263L164 262.5L162.7 261L162 260.2L160.9 259L160 258L159 257L158 255.9L157.1 255L156 253.9L155.1 253L154 251.9L153 251L152 250L150.6 249L150 248.6L150 247L150 245L150 243L150 241L150 239L150 237L150 235L150 233L150 231L150 229L150 227L150 225L150 223L150 221L150 219L150 217L150 215L150 213L150 211L150 209L150 207L150 205L150 203L150 201L150 199L150 197L150 195L150 193L150 191L150 189L150 187L150 185L150 183L150 181L150 179L150 177L150 175L150 173L150 171L150 169L150 167L150 165L150 163L150 161L150 159L150 157L150 155L150 153L150 151L150 149L150 147L150 145L150 143L150 141L150 139L150 137L150 135L150 133L150 131L150 129L150 127L150 125L150 123L150 121L150 119L150 117L150 115L150 113L150 111L150 109L150 107L150 105L150 103L150 101L150 99L150 97L150 95L150 93L150 91L150 89L150 87Z"/>
<path fill="#00cc55" d="M152 87L154 87L156 87L158 87L160 87L162 87L164 87L166 87L168 87L170 87L172 87L174 87L176 87L178 87L180 87L182 87L184 87L186 87L188 87L190 87L192 87L194 87L196 87L198 87L200 87L202 87L204 87L206 87L208 87L210 87L212 87L214 87L216 87L218 87L220 87L222 87L224 87L226 87L228 87L230 87L232 87L234 87L236 87L238 87L240 87L242 87L244 87L246 87L248 87L250 87L252 87L254 87L256 87L258 87L260 87L262 87L264 87L266 87L268 87L270 87L272 87L274 87L276 87L278 87L280 87L282 87L284 87L286 87L288 87L290 87L292 87L294 87L296 87L298 87L300 87L302 87L304 87L306 87L308 87L310 87L312 87L314 87L316 87L318 87L320 87L322 87L324 87L326 87L328 87L330 87L332 87L334 87L336 87L338 87L340 87L342 87L344 87L346 87L348 87L350 87L352 87L354 87L356 87L358 87L360 87L362 87L364 87L366 87L368 87L370 87L372 87L374 87L376 87L378 87L380 87L382 87L384 87L386 87L388 87L390 87L392 87L394 87L396 87L398 87L400 87L402 87L404 87L406 87L408 87L410 87L412 87L414 87L416 87L418 87L420 87L422 87L424 87L426 87L428 87L430 87L432 87L434 87L436 87L438 87L440 87L442 87L444 87L446 87L448 87L450 87L452 87L454 87L456 87L458 87L460 87L462 87L464 87L466 87L468 87L470 87L472 87L474 87L476 87L478 87L480 87L482 87L484 87L486 87L488 87L490 87L492 87L494 87L496 87L498 87L500 87L502 87L504 87L506 87L508 87L510 87L512 87L514 87L516 87L518 87L520 87L522 87L524 87L526 87L528 87L530 87L532 87L534 87L536 87L538 87L540 87L542 87L544 87L546 87L548 87L550 87L552 87L554 87L556 87L558 87L560 87L562 87L564 87L566 87L568 87L570 87L572 87L574 87L576 87L578 87L580 87L582 87L584 87L586 87L588 87L590 87L592 87L594 87L596 87L598 87L600 87L602 87L604 87L606 87L608 87L610 87L612 87L614 87L616 87L618 87L620 87L622 87L624 87L626 87L628 87L630 87L632 87L634 87L636 87L638 87L640 87L642 87L644 87L646 87L648 87L650 87L650 89L650 91L650 93L650 95L650 97L650 99L650 101L650 103L650 105L650 107L650 109L650 111L650 113L650 115L650 117L650 119L650 121L650 123L650 125L650 127L650 129L650 131L650 133L650 135L650 137L650 139L650 141L650 143L650 145L650 147L650 149L650 151L650 153L650 155L650 157L650 159L650 161L650 163L650 165L650 167L650 169L650 171L650 173L650 175L650 177L650 179L650 181L650 183L650 185L650 187L650 189L650 191L650 193L650 195L650 197L650 199L650 201L650 203L650 205L650 207L650 209L650 211L650 213L650 215L650 217L650 219L650 221L650 223L650 225L650 227L650 229L650 231L650 233L650 235L650 237L650 239L650 241L650 243L650 245L650 247L650 249L650 251L650 253L650 255L650 257L650 259L650 261L650 263L650 265L650 267L650 269L650 271L650 273L650 275L650 277L650 279L650 281L650 283L650 285L650 287L650 289L650 291L650 293L650 295L650 297L650 299L650 301L650 303L650 305L650 307L650 309L650 311L650 313L650 315L650 317L650 319L650 321L650 323L650 325L650 327L650 329L650 331L650 333L650 335L650 337L650 339L650 341L650 343L650 345L650 347L650 349L650 351L650 353L650 355L650 357L650 359L650 361L650 363L650 365L650 367L650 369L650 371L650 373L650 375L650 377L650 379L650 381L650 383L650 385L650 387L650 389L650 391L650 393L650 395L650 397L650 399L650 401L650 403L650 405L650 407L650 409L650 411L650 413L650 415L650 417L650 419L650 421L650 423L650 425L650 427L650 429L650 431L650 433L650 435L650 437L650 439L650 441L650 443L650 445L650 447L650 449L650 451L650 453L650 455L650 457L650 459L650 461L650 463L650 465L650 467L650 469L650 471L650 473L650 475L650 477L650 479L650 481L650 483L650 485L650 487L650 489L650 491L650 493L650 495L650 497L650 499L650 501L650 503L650 505L650 507L650 509L650 511L650 513L650 515L650 517L650 519L650 521L650 523L650 525L650 527L650 529L650 531L650 532.6L648 532.4L646 532.3L644 532.2L642 532.1L640 532L638 531.9L636 531.8L634 531.7L632 531.6L630 531.5L628 531.4L626 531.3L624 531.1L622 531L621.9 531L620 530.8L618 530.5L616 530.1L614 529.7L612 529.3L610.6 529L610 528.9L608 528.5L606 528.1L604 527.7L602 527.3L600.9 527L600 526.8L598 526.3L596 525.9L594 525.5L592 525.1L591.4 525L590 524.8L588 524.5L586 524.5L584 524.7L582 524.9L581 525L580 525.1L578 525.3L576 525.6L574 525.8L572 525.9L570 526L568 526.3L566 526.7L565 527L564 527.3L562 528L560 528.3L558 528.2L556 528L554 528.2L552 528.7L550.8 529L550 529.2L548 529.7L546 530.2L544 530.8L543.4 531L542 531.5L540 532.5L538.8 533L538 533.4L536 534.1L534.1 535L534 535L532 536.5L531.6 537L530 537.9L528 538.7L526.8 539L526 539.2L524 540.1L523 541L522.8 543L523.9 545L524 545.8L524.3 547L524 547.2L522.8 549L522 549.9L521.2 551L520 552.9L519.9 553L518 554.6L517.4 555L516 555.6L514 556.5L513.2 557L512 557.9L510.7 559L510 560.6L509.7 561L509.6 563L508 564.8L507.7 565L506 565.6L504 566.2L502 566.7L500.7 567L500 567.1L498 567.1L497.5 567L496 566.4L494 565.9L492 566.1L490 566.7L488.9 567L488 567.3L486 567.8L484 568.2L482 568.2L480 567.5L479.3 567L478 565.9L476.6 565L476 564.6L474 564.1L472 564.5L471 565L470 565.4L468 566.3L466 566.7L464 566.3L462 565.5L460.6 565L460 564.7L458 563.9L456 563.2L455.4 563L454 562.4L452 561.7L450 561.6L448 562L446 562.6L444 563L443.9 563L442 563.1L440 563.1L438 563.2L436 563.4L434 563.9L432 564.4L430 564.9L429.5 565L428 565.3L426 565.7L424 566.3L422.7 567L422 567.3L420 568.1L418 568.7L416.9 569L416 569.2L414 569.6L412 570.3L410.7 571L410 571.4L408 572.6L407.3 573L406 573.5L404 574.4L402.7 575L402 575.2L400 575.7L398 576.1L396 576.8L395.5 577L394 577.5L392 578.4L390.9 579L390 579.4L388 580.2L386 580.8L384 580.8L382 580.8L381.2 581L380 581.3L378 582.4L377.2 583L376 583.7L374.2 585L374 585.1L372 586.3L370.7 587L370 587.3L368 588.2L366.3 589L366 589.1L364 590L362 590.8L361.6 591L360 591.7L358 592.4L356.3 593L356 593.1L354 593.4L352 593.2L351 593L350 592.8L348 592.2L346 591.7L344 591.2L343.1 591L342 590.8L340 590.3L338 589.8L336 589.3L334.9 589L334 588.7L332 587.3L331.7 587L330.5 585L330 584.2L329.4 583L328.4 581L328 580.3L327.2 579L326 577.2L325.8 577L324.4 575L324 574.5L322.9 573L322 571.9L321.3 571L320 569.4L319.6 569L318 567.3L317.7 567L316 565L314.5 563L314 562.4L312.9 561L312 559.8L311.3 559L310 557.5L309.5 557L308 555.6L307.4 555L306 554L304.7 553L304 552.5L302 551.1L301.8 551L300 549.8L298.8 549L298 548.5L296 547L295.9 547L294.1 545L294 544.9L292.6 543L292 542.1L291.2 541L290 539.2L289.8 539L288.4 537L288 536.4L287 535L286 533.5L285.7 533L284.5 531L284 529.6L283.8 529L283.3 527L283 525L282.6 523L282.3 521L282 519L282 518.9L281.7 517L281.3 515L281.1 513L281 511L281.1 509L281.1 507L281.1 505L281.1 503L281.1 501L281.1 499L281.1 497L281.2 495L281.5 493L282 491L282 490.7L282.3 489L282.6 487L282.8 485L283 483L283.1 481L282.9 479L282 477.1L282 477L280.6 475L280 474.2L279.2 473L278 471.3L277.8 471L276.4 469L276 468.5L274.9 467L274 465.6L273.6 465L272.6 463L272 461.2L271.9 461L271.5 459L271 457L270.5 455L270 453L270 452.8L269.6 451L269.3 449L269 447L268.7 445L268.4 443L268.1 441L268 440.7L267.6 439L267 437L266.5 435L266 433L266 432.8L265.4 431L264.6 429L264 428.2L262 427.2L260.4 427L260 427L258 426.7L256 426.5L254 426.3L252 426.3L250 426.4L248 426.5L246 426.8L244 427L242 426.2L241.1 425L240.3 423L240 422.3L239.5 421L238.7 419L238 417L238 416.9L237.3 415L236.5 413L236 411.6L235.8 411L235 409L234.3 407L234 406.2L233.6 405L232.9 403L232.3 401L232 400.1L231.7 399L231.1 397L230.5 395L230 393L229.4 391L228.7 389L228 387.1L228 387L227.2 385L226.5 383L226 381.7L225.7 381L224.9 379L224.1 377L224 376.8L223.2 375L222.4 373L222 372.1L221.5 371L220.8 369L220.1 367L220 366.8L219.4 365L218.8 363L218.2 361L218 360.5L217.6 359L217 357L216.5 355L216 353L216 352.9L215.7 351L215.4 349L215.2 347L214.9 345L214.6 343L214.5 341L214.4 339L214.1 337L214 336.4L213.8 335L213.7 333L213.8 331L214 329.6L214.1 329L214.5 327L214.8 325L215 323L214.9 321L214.5 319L214 317.6L213.8 317L213 315L212.3 313L212 312.1L211.6 311L210.7 309L210 307.5L209.7 307L208.5 305L208 304.1L207.3 303L206.1 301L206 300.9L204.8 299L204 297.7L203.6 297L202.3 295L202 294.5L201.1 293L200 291.3L199.8 291L198.6 289L198 288.1L197.3 287L196.1 285L196 284.9L194.8 283L194 281.9L193.3 281L192 279.3L191.8 279L190.3 277L190 276.6L188.8 275L188 273.9L187.3 273L186 271.3L185.8 271L184.2 269L184 268.7L182.7 267L182 266.1L181.2 265L180 263.4L179.7 263L178.2 261L178 260.7L176.7 259L176 258.1L175.1 257L174 255.5L173.6 255L172.1 253L172 252.8L170.6 251L170 250.2L169.1 249L168 247.5L167.6 247L166 245L166 244.9L164.5 243L164 242.3L163 241L162 239.6L161.5 239L160 237L158.4 235L158 234.6L156.5 233L156 232.5L154.5 231L154 230.5L152.5 229L152 228.6L150 227L150 225L150 223L150 221L150 219L150 217L150 215L150 213L150 211L150 209L150 207L150 205L150 203L150 201L150 199L150 197L150 195L150 193L150 191L150 189L150 187L150 185L150 183L150 181L150 179L150 177L150 175L150 173L150 171L150 169L150 167L150 165L150 163L150 161L150 159L150 157L150 155L150 153L150 151L150 149L150 147L150 145L150 143L150 141L150 139L150 137L150 135L150 133L150 131L150 129L150 127L150 125L150 123L150 121L150 119L150 117L150 115L150 113L150 111L150 109L150 107L150 105L150 103L150 101L150 99L150 97L150 95L150 93L150 91L150 89L150 87Z"/>
<path fill="#00b30a" d="M152 87L154 87L156 87L158 87L160 87L162 87L164 87L166 87L168 87L170 87L172 87L174 87L176 87L178 87L180 87L182 87L184 87L186 87L188 87L190 87L192 87L194 87L196 87L198 87L200 87L202 87L204 87L206 87L208 87L210 87L212 87L214 87L216 87L218 87L220 87L222 87L224 87L226 87L228 87L230 87L232 87L234 87L236 87L238 87L240 87L242 87L244 87L246 87L248 87L250 87L252 87L254 87L256 87L258 87L260 87L262 87L264 87L266 87L268 87L270 87L272 87L274 87L276 87L278 87L280 87L282 87L284 87L286 87L288 87L290 87L292 87L294 87L296 87L298 87L300 87L302 87L304 87L306 87L308 87L310 87L312 87L314 87L316 87L318 87L320 87L322 87L324 87L326 87L328 87L330 87L332 87L334 87L336 87L338 87L340 87L342 87L344 87L346 87L348 87L350 87L352 87L354 87L356 87L358 87L360 87L362 87L364 87L366 87L368 87L370 87L372 87L374 87L376 87L378 87L380 87L382 87L384 87L386 87L388 87L390 87L392 87L394 87L396 87L398 87L400 87L402 87L404 87L406 87L408 87L410 87L412 87L414 87L416 87L418 87L420 87L422 87L424 87L426 87L428 87L430 87L432 87L434 87L436 87L438 87L440 87L442 87L444 87L446 87L448 87L450 87L452 87L454 87L456 87L458 87L460 87L462 87L464 87L466 87L468 87L470 87L472 87L474 87L476 87L478 87L480 87L482 87L484 87L486 87L488 87L490 87L492 87L494 87L496 87L498 87L500 87L502 87L504 87L506 87L508 87L510 87L512 87L514 87L516 87L518 87L520 87L522 87L524 87L526 87L528 87L530 87L532 87L534 87L536 87L538 87L540 87L542 87L544 87L546 87L548 87L550 87L552 87L554 87L556 87L558 87L560 87L562 87L564 87L566 87L568 87L570 87L572 87L574 87L576 87L578 87L580 87L582 87L584 87L586 87L588 87L590 87L592 87L594 87L596 87L598 87L600 87L602 87L604 87L606 87L608 87L610 87L612 87L614 87L616 87L618 87L620 87L622 87L624 87L626 87L628 87L630 87L632 87L634 87L636 87L638 87L640 87L642 87L644 87L646 87L648 87L650 87L650 89L650 91L650 93L650 95L650 97L650 99L650 101L650 103L650 105L650 107L650 109L650 111L650 113L650 115L650 117L650 119L650 121L650 123L650 125L650 127L650 129L650 131L650 133L650 135L650 137L650 139L650 141L650 143L650 145L650 147L650 149L650 151L650 153L650 155L650 157L650 159L650 161L650 163L650 165L650 167L650 169L650 171L650 173L650 175L650 177L650 179L650 181L650 183L650 185L650 187L650 189L650 191L650 193L650 195L650 197L650 199L650 201L650 203L650 205L650 207L650 209L650 211L650 213L650 215L650 217L650 219L650 221L650 223L650 225L650 227L650 229L650 231L650 233L650 235L650 237L650 239L650 241L650 243L650 245L650 247L650 249L650 251L650 253L650 255L650 257L650 259L650 261L650 263L650 265L650 267L650 269L650 271L650 273L650 275L650 277L650 279L650 281L650 283L650 285L650 287L650 289L650 291L650 293L650 295L650 297L650 299L650 301L650 303L650 305L650 307L650 309L650 311L650 313L650 315L650 317L650 319L650 321L650 323L650 325L650 327L650 329L650 331L650 333L650 335L650 337L650 339L650 341L650 343L650 345L650 347L650 349L650 351L650 353L650 355L650 357L650 359L650 361L650 363L650 365L650 367L650 369L650 371L650 373L650 375L650 377L650 379L650 381L650 383L650 385L650 387L650 389L650 391L650 393L650 395L650 397L650 399L650 401L650 403L650 405L650 407L650 409L650 411L650 413L650 415L650 417L650 419L650 421L650 423L650 425L650 427L650 429L650 431L650 433L650 435L650 437L650 439L650 441L650 443L650 445L650 447L650 449L650 451L650 453L650 455L650 457L650 459L650 461L650 463L650 465L650 467L650 469L650 471L650 473L650 475L650 477L650 479L650 481L650 483L650 485L650 487L650 489L650 491L650 493L650 495L650 497L650 499L650 501L650 503L650 505L650 507L650 509L650 511L650 513L650 515L650 517L650 519L650 521L650 521.6L648 521.6L646 521.5L644 521.3L642 521.2L640 521.1L638 521L637.3 521L636 520.9L634 520.9L632 520.8L630 520.7L628 520.6L626 520.5L624 520.4L622 520.3L620 520.2L618 520.1L616 519.8L614 519.6L612 519.4L610 519.2L608.2 519L608 519L606 518.8L604 518.6L602 518.4L600 518.2L598 518L596 517.7L594 517.5L592 517.3L590 517.1L589.2 517L588 516.9L586 516.8L584 516.8L582 516.8L580 516.8L578 516.8L576 516.9L575.1 517L574 517.1L572 517.6L570 518.1L568 518.6L566.1 519L566 519L564 519.4L562 519.5L560 519.3L558.1 519L558 519L557.7 519L556 519.1L554 519.7L552 520.6L550.7 521L550 521.2L548 521.7L546 522.2L544 522.7L542.9 523L542 523.2L540 523.7L538 524.2L536 524.4L534 524.4L532 524.2L530 524L528 523.5L526.7 523L526 522.5L525 523L524 524L523.8 525L523.8 527L524 528.1L524.2 529L525 531L525.5 533L524.1 535L524 535L522 536.2L521 537L520 537.9L519 539L518.1 541L518.3 543L519 545L519.1 547L518 548.9L517.9 549L516.1 551L516 551.1L514 552.7L513.5 553L512 553.7L510 554.9L509.8 555L508 556L506.3 557L506 557.3L504 558.5L502 558.9L500 558.8L498 558.4L496 558.2L494 558L492 557.7L490 557.4L488 557L487.9 557L486 556.6L484 556.2L482 555.5L481.3 555L480 554.2L478.8 553L478 552.2L476.7 551L476 550.3L474 549.5L472 549.6L470 550.2L468 550.7L466.4 551L466 551.1L464 551.1L462.9 551L462 550.9L460 550.7L458 550.6L456 550.5L454 550.3L452 550.2L450 550.2L448 550.4L446 550.8L445.1 551L444 551.2L442 551.7L440 552.2L438 552.6L436 553L434 553.3L432 553.4L430 553.6L428 553.7L426 553.8L424 553.9L422 554L420 554.2L418 554.3L416 554.4L414 554.4L412 554.5L410 554.5L408 554.5L406 554.5L404 554.5L402 554.6L400 554.8L398 554.9L397.4 555L396 555.1L394 555.3L392 555.6L390 555.8L388 556.1L386 556.4L384 556.7L382 556.9L381 557L380 557.1L378 557.4L376 557.5L374 557.6L372 557.7L370 557.8L368 558L366 558.3L364 558.7L362.7 559L362 559.2L360 559.5L358 559.7L356 559.7L354 559.8L352 560L350 560.8L349.4 561L348 562.7L347.3 563L346.8 565L347.4 567L348 568.4L348.1 569L348.6 571L349.2 573L349.8 575L350 576L350.2 577L350.4 579L350 581L348 580.3L346 579.3L345.3 579L344 578.3L342 577.2L341.8 577L340.7 575L340.5 573L340.6 571L340.9 569L341.3 567L341.8 565L341.6 563L340 562L338.9 561L338 560.4L336 559.1L335.9 559L334 557.7L332.8 557L332 556.5L330 555.3L329.4 555L328 554.2L326 553L325.9 553L324 551.9L322.5 551L322 550.7L320 549.2L319.8 549L318 547.5L317.4 547L316 545.8L315 545L314 544.1L312.7 543L312 542.4L310.4 541L310 540.7L308.3 539L308 538.7L306.6 537L306 536.2L305.1 535L304 533.5L303.6 533L302.2 531L302 530.8L300.8 529L300 527.2L299.9 527L299.3 525L299 523L298.6 521L298.3 519L298 517L298 516.9L297.7 515L297.3 513L297 511L296.8 509L296.8 507L296.9 505L297.1 503L297.3 501L297.5 499L297.7 497L297.9 495L298 493.4L298 493L298.1 491L298 489L297.7 487L297.4 485L297.1 483L296.8 481L296.4 479L296 477.8L295.6 477L294 475.1L293.9 475L292 473.7L291 473L290 472.3L288.4 471L288 470.7L286.4 469L286 468.6L284.8 467L284 465.9L283.4 465L282.1 463L282 462.9L280.9 461L280 459L280 458.9L279.3 457L278.5 455L278 453.6L277.8 453L277.2 451L276.6 449L276.1 447L276 446.6L275.6 445L275.2 443L274.7 441L274.1 439L274 438.4L273.7 437L273.2 435L272.7 433L272.1 431L272 430.5L271.6 429L271.1 427L270.4 425L270 424.1L269.5 423L268.6 421L268 419.9L267.6 419L266.6 417L266 415.9L265.6 415L264.6 413L264 411.7L263.7 411L262.7 409L262 407.4L261.8 407L260.8 405L260 403.5L259.7 403L258.7 401L258 399.7L257.5 399L256 397.7L254 397.2L253.1 397L252 396.8L250 396.2L248 395.4L247 395L246 394.5L244 393.5L243.4 393L242 391.3L241.8 391L240.8 389L240 387.4L239.8 387L238.8 385L238 383.4L237.8 383L236.9 381L236 379L236 378.9L235.2 377L234.2 375L234 374.6L233.2 373L232.2 371L232 370.6L231.3 369L230.3 367L230 366.2L229.5 365L228.6 363L228 361.7L227.7 361L226.9 359L226 357.1L226 357L225.2 355L224.4 353L224 351.5L223.9 351L223.4 349L223.1 347L222.8 345L222.4 343L222.2 341L222.1 339L222.3 337L222.6 335L222.8 333L222.9 331L222.8 329L222.6 327L222.3 325L222 323L222 322.7L221.7 321L221.3 319L220.9 317L220.6 315L220.2 313L220 312.2L219.7 311L219.3 309L218.8 307L218.2 305L218 304.1L217.7 303L217.1 301L216.4 299L216 298L215.6 297L214.9 295L214.1 293L214 292.7L213.4 291L212.5 289L212 288L211.5 287L210.5 285L210 284L209.5 283L208.5 281L208 280L207.5 279L206.5 277L206 276.2L205.3 275L204 273.3L203.8 273L202.1 271L202 270.9L200.5 269L200 268.4L198.8 267L198 266L197.2 265L196 263.5L195.7 263L194.1 261L194 260.8L192.7 259L192 258.1L191.2 257L190 255.5L189.7 255L188.2 253L188 252.8L186.7 251L186 250L185.2 249L184 247.4L183.7 247L182.2 245L182 244.7L180.7 243L180 242L179.2 241L178 239.3L177.8 239L176.3 237L176 236.6L174.9 235L174 233.8L173.5 233L172 231L170.2 229L170 228.8L168 227.1L167.8 227L166 225.5L165.4 225L164 223.8L163 223L162 222.1L160.8 221L160 220.3L158.7 219L158 218.3L156.8 217L156 216L155.1 215L154 213.5L153.7 213L152.6 211L152 209.9L151.5 209L150 207L150 205L150 203L150 201L150 199L150 197L150 195L150 193L150 191L150 189L150 187L150 185L150 183L150 181L150 179L150 177L150 175L150 173L150 171L150 169L150 167L150 165L150 163L150 161L150 159L150 157L150 155L150 153L150 151L150 149L150 147L150 145L150 143L150 141L150 139L150 137L150 135L150 133L150 131L150 129L150 127L150 125L150 123L150 121L150 119L150 117L150 115L150 113L150 111L150 109L150 107L150 105L150 103L150 101L150 99L150 97L150 95L150 93L150 91L150 89L150 87Z"/>
<path fill="#55cc0a" d="M152 87L154 87L156 87L158 87L160 87L162 87L164 87L166 87L168 87L170 87L172 87L174 87L176 87L178 87L180 87L182 87L184 87L186 87L188 87L190 87L192 87L194 87L196 87L198 87L200 87L202 87L204 87L206 87L208 87L210 87L212 87L214 87L216 87L218 87L220 87L222 87L224 87L226 87L228 87L230 87L232 87L234 87L236 87L238 87L240 87L242 87L244 87L246 87L248 87L250 87L252 87L254 87L256 87L258 87L260 87L262 87L264 87L266 87L268 87L270 87L272 87L274 87L276 87L278 87L280 87L282 87L284 87L286 87L288 87L290 87L292 87L294 87L296 87L298 87L300 87L302 87L304 87L306 87L308 87L310 87L312 87L314 87L316 87L318 87L320 87L322 87L324 87L326 87L328 87L330 87L332 87L334 87L336 87L338 87L340 87L342 87L344 87L346 87L348 87L350 87L352 87L354 87L356 87L358 87L360 87L362 87L364 87L366 87L368 87L370 87L372 87L374 87L376 87L378 87L380 87L382 87L384 87L386 87L388 87L390 87L392 87L394 87L396 87L398 87L400 87L402 87L404 87L406 87L408 87L410 87L412 87L414 87L416 87L418 87L420 87L422 87L424 87L426 87L428 87L430 87L432 87L434 87L436 87L438 87L440 87L442 87L444 87L446 87L448 87L450 87L452 87L454 87L456 87L458 87L460 87L462 87L464 87L466 87L468 87L470 87L472 87L474 87L476 87L478 87L480 87L482 87L484 87L486 87L488 87L490 87L492 87L494 87L496 87L498 87L500 87L502 87L504 87L506 87L508 87L510 87L512 87L514 87L516 87L518 87L520 87L522 87L524 87L526 87L528 87L530 87L532 87L534 87L536 87L538 87L540 87L542 87L544 87L546 87L548 87L550 87L552 87L554 87L556 87L558 87L560 87L562 87L564 87L566 87L568 87L570 87L572 87L574 87L576 87L578 87L580 87L582 87L584 87L586 87L588 87L590 87L592 87L594 87L596 87L598 87L600 87L602 87L604 87L606 87L608 87L610 87L612 87L614 87L616 87L618 87L620 87L622 87L624 87L626 87L628 87L630 87L632 87L634 87L636 87L638 87L640 87L642 87L644 87L646 87L648 87L650 87L650 89L650 91L650 93L650 95L650 97L650 99L650 101L650 103L650 105L650 107L650 109L650 111L650 113L650 115L650 117L650 119L650 121L650 123L650 125L650 127L650 129L650 131L650 133L650 135L650 137L650 139L650 141L650 143L650 145L650 147L650 149L650 151L650 153L650 155L650 157L650 159L650 161L650 163L650 165L650 167L650 169L650 171L650 173L650 175L650 177L650 179L650 181L650 183L650 185L650 187L650 189L650 191L650 193L650 195L650 197L650 199L650 201L650 203L650 205L650 207L650 209L650 211L650 213L650 215L650 217L650 219L650 221L650 223L650 225L650 227L650 229L650 231L650 233L650 235L650 237L650 239L650 241L650 243L650 245L650 247L650 249L650 251L650 253L650 255L650 257L650 259L650 261L650 263L650 265L650 267L650 269L650 271L650 273L650 275L650 277L650 279L650 281L650 283L650 285L650 287L650 289L650 291L650 293L650 295L650 297L650 299L650 301L650 303L650 305L650 307L650 309L650 311L650 313L650 315L650 317L650 319L650 321L650 323L650 325L650 327L650 329L650 331L650 333L650 335L650 337L650 339L650 341L650 343L650 345L650 347L650 349L650 351L650 353L650 355L650 357L650 359L650 361L650 363L650 365L650 367L650 369L650 371L650 373L650 375L650 377L650 379L650 381L650 383L650 385L650 387L650 389L650 391L650 393L650 395L650 397L650 399L650 401L650 403L650 405L650 407L650 409L650 411L650 413L650 415L650 417L650 419L650 421L650 423L650 425L650 427L650 429L650 431L650 433L650 435L650 437L650 439L650 441L650 443L650 445L650 447L650 449L650 451L650 453L650 455L650 457L650 459L650 461L650 463L650 465L650 467L650 469L650 471L650 473L650 475L650 477L650 479L650 481L650 483L650 485L650 487L650 489L650 491L650 493L650 495L650 497L650 499L650 501L650 503L650 505L650 507L650 509L650 511L650 513L650 514L648 514L646 513.9L644 513.8L642 513.7L640 513.7L638 513.6L636 513.6L634 513.5L632 513.4L630 513.4L628 513.3L626 513.3L624 513.2L622 513.2L620 513.1L618 513L617.6 513L616 512.9L614 512.8L612 512.7L610 512.6L608 512.5L606 512.4L604 512.3L602 512.1L600 511.8L598 511.5L596 511.2L594.5 511L594 510.9L592 510.6L590 510.3L588 510.1L586 509.9L584 509.7L582 509.6L580 509.5L578 509.3L576 509.2L574 509.1L572 509.4L570 509.9L568 510.5L566.3 511L566 511.1L564 511.6L562 511.8L560 511.6L558 511.3L556 511.4L554 512.1L552.2 513L552 513.1L550 513.8L548 514L546 513.7L544 513.4L542 513.3L540 513.8L538 514.6L536 515L534 514.7L532 514.1L530 513.7L528 513.9L526 514.6L525.4 515L524 516L523 517L522 518.5L521.7 519L521.1 521L520.8 523L520.6 525L520.5 527L520.4 529L520 530.8L519.9 531L518.3 533L518 533.2L516.3 535L516 535.3L514.3 537L514 537.4L512.4 539L512 539.5L510 540.6L508.7 541L508 541.2L506 541.6L504 542L502 542.4L500 542.8L498.9 543L498 543.2L496 543.4L494 543.6L492 543.8L490 543.9L488 544.1L486 544.3L484 544.4L482 544.1L480.1 543L480 542.9L478 541.1L477.8 541L476 539.7L474 539.2L472 539.5L470 540.1L468 540.7L466.5 541L466 541.1L464 541.3L462 541.1L460.9 541L460 540.9L458 540.7L456 540.6L454 540.5L452 540.5L450 540.8L448.8 541L448 541.2L446 541.4L444 541.6L442 541.7L440 541.9L438 542.1L436 542.3L434 542.4L432 542.5L430 542.5L428 542.5L426 542.5L424 542.5L422 542.5L420 542.5L418 542.5L416 542.5L414 542.4L412 542.3L410 542.2L408 542.1L406 542L404 541.8L402 541.7L400 541.6L398 541.5L396 541.4L394 541.3L392 541.2L390 541.1L388 541.1L386 541.3L384 541.6L382 541.9L380 542.2L378 542.6L376.3 543L376 543.1L374 543.4L372 543.5L370 543.3L368 543.7L366 544.5L365.1 545L364 545.5L362 546.7L361.5 547L360 547.7L358 548.3L356 548.5L354 548.5L352 548.5L350 548.5L348 548.3L346 547.9L344 547.1L343.8 547L342 546.3L340 545.5L338.6 545L338 544.7L336 543.9L334.4 543L334 542.8L332 541.5L331.2 541L330 540.2L328.1 539L328 539L326 537.7L324.9 537L324 536.4L322 535L320 533.4L319.6 533L318 531.7L317.2 531L316 530L315 529L314 527.9L313.4 527L312.5 525L312 523.3L311.9 523L311.5 521L311.1 519L310.6 517L310.2 515L310.1 513L310.3 511L310.8 509L311.3 507L311.9 505L312 504.6L312.6 503L313.3 501L314 499L314.8 497L315.4 495L315.3 493L314.3 491L314 490.6L313.4 489L312.4 487L312 486.4L311.3 485L310.1 483L310 482.9L308.8 481L308 479.6L307.6 479L306.5 477L306 476.2L305.5 475L304.7 473L304 471.6L303.8 471L303.1 469L302.4 467L302 465.7L301.8 465L301 463L300 461.5L299.7 461L298 459.4L297.1 459L296 458.6L294 458.9L293.7 459L292 459.7L290 459.4L289.7 459L288.3 457L288 456.5L287.3 455L286.3 453L286 452.5L285.3 451L284.4 449L284 447.9L283.7 447L282.9 445L282.2 443L282 442.1L281.7 441L281.3 439L280.9 437L280.4 435L280 433.5L279.9 433L279.5 431L279 429L278.5 427L278 425.6L277.8 425L277 423L276 421.2L275.9 421L275 419L274 417.2L273.9 417L273 415L272 413L272 412.9L271.4 411L270.7 409L270.1 407L270 406.8L269.5 405L268.9 403L268.2 401L268 400.6L267.4 399L266.6 397L266 395.5L265.8 395L265 393L264.2 391L264 390L263.5 389L262.3 387L262 385.9L260.4 385L260 383.8L258.1 383L258 382.8L256.6 381L256 379.2L256 379L255.5 377L254.4 375L254 373.7L253.9 373L253.2 371L252.3 369L252 367.4L252 367L251.4 365L250.5 363L250 361L250 360.9L249.6 359L248.8 357L248 355L247 353L246 351.7L245.8 351L244.5 349L244 348.5L243.4 347L242 345L240.8 343L240 341.8L239.7 341L238.6 339L238 337L238 335.9L238 335L238 334L238.1 333L238.3 331L238.5 329L238.2 327L238 326.3L237.4 325L236.1 323L236 322.6L235.3 321L234.5 319L234.2 317L234.1 315L234 313L234 311L234.1 309L234 307L234.1 305L234.2 303L234.4 301L234.5 299L234.5 297L234.5 295L234.4 293L234.2 291L234 290.5L233.5 289L232.8 287L232.3 285L232.1 283L232 282.1L231.9 281L231.8 279L231.5 277L230.8 275L230 273.6L229.7 273L228.5 271L228 270.2L227.3 269L226.2 267L226 266.7L224.8 265L224 264L222.7 263L222 262.5L220 261.4L219.2 261L218 260.3L216 259.1L215.9 259L214 257.6L213.3 257L212 256L210.8 255L210 254.1L209.1 253L208 251.1L207.9 251L206.9 249L206 247.5L205.7 247L204.5 245L204 244.2L203.2 243L202 241L200.7 239L200 237.9L199.4 237L198.1 235L198 234.9L196.7 233L196 232.1L195.2 231L194 229.4L193.7 229L192.2 227L192 226.8L190.6 225L190 224.3L188.8 223L188 222.3L186.8 221L186 220.2L185 219L184 217.9L183.2 217L182 215.6L181.4 215L180 213.6L179 213L178 212.5L176 212L174 211.7L172 211.5L170 211.2L169.2 211L168 210.7L166 209.6L165.4 209L164 207.3L163.8 207L162.5 205L162 204.3L161.1 203L160 201.3L159.8 201L158.4 199L158 198.4L157.1 197L156 195.5L155.7 195L154.3 193L154 192.6L152.9 191L152 189.7L151.3 189L150 187.7L150 187L150 185L150 183L150 181L150 179L150 177L150 175L150 173L150 171L150 169L150 167L150 165L150 163L150 161L150 159L150 157L150 155L150 153L150 151L150 149L150 147L150 145L150 143L150 141L150 139L150 137L150 135L150 133L150 131L150 129L150 127L150 125L150 123L150 121L150 119L150 117L150 115L150 113L150 111L150 109L150 107L150 105L150 103L150 101L150 99L150 97L150 95L150 93L150 91L150 89L150 87Z"/>
<path fill="#aae00a" d="M152 87L154 87L156 87L158 87L160 87L162 87L164 87L166 87L168 87L170 87L172 87L174 87L176 87L178 87L180 87L182 87L184 87L186 87L188 87L190 87L192 87L194 87L196 87L198 87L200 87L202 87L204 87L206 87L208 87L210 87L212 87L214 87L216 87L218 87L220 87L222 87L224 87L226 87L228 87L230 87L232 87L234 87L236 87L238 87L240 87L242 87L244 87L246 87L248 87L250 87L252 87L254 87L256 87L258 87L260 87L262 87L264 87L266 87L268 87L270 87L272 87L274 87L276 87L278 87L280 87L282 87L284 87L286 87L288 87L290 87L292 87L294 87L296 87L298 87L300 87L302 87L304 87L306 87L308 87L310 87L312 87L314 87L316 87L318 87L320 87L322 87L324 87L326 87L328 87L330 87L332 87L334 87L336 87L338 87L340 87L342 87L344 87L346 87L348 87L350 87L352 87L354 87L356 87L358 87L360 87L362 87L364 87L366 87L368 87L370 87L372 87L374 87L376 87L378 87L380 87L382 87L384 87L386 87L388 87L390 87L392 87L394 87L396 87L398 87L400 87L402 87L404 87L406 87L408 87L410 87L412 87L414 87L416 87L418 87L420 87L422 87L424 87L426 87L428 87L430 87L432 87L434 87L436 87L438 87L440 87L442 87L444 87L446 87L448 87L450 87L452 87L454 87L456 87L458 87L460 87L462 87L464 87L466 87L468 87L470 87L472 87L474 87L476 87L478 87L480 87L482 87L484 87L486 87L488 87L490 87L492 87L494 87L496 87L498 87L500 87L502 87L504 87L506 87L508 87L510 87L512 87L514 87L516 87L518 87L520 87L522 87L524 87L526 87L528 87L530 87L532 87L534 87L536 87L538 87L540 87L542 87L544 87L546 87L548 87L550 87L552 87L554 87L556 87L558 87L560 87L562 87L564 87L566 87L568 87L570 87L572 87L574 87L576 87L578 87L580 87L582 87L584 87L586 87L588 87L590 87L592 87L594 87L596 87L598 87L600 87L602 87L604 87L606 87L608 87L610 87L612 87L614 87L616 87L618 87L620 87L622 87L624 87L626 87L628 87L630 87L632 87L634 87L636 87L638 87L640 87L642 87L644 87L646 87L648 87L650 87L650 89L650 91L650 93L650 95L650 97L650 99L650 101L650 103L650 105L650 107L650 109L650 111L650 113L650 115L650 117L650 119L650 121L650 123L650 125L650 127L650 129L650 131L650 133L650 135L650 137L650 139L650 141L650 143L650 145L650 147L650 149L650 151L650 153L650 155L650 157L650 159L650 161L650 163L650 165L650 167L650 169L650 171L650 173L650 175L650 177L650 179L650 181L650 183L650 185L650 187L650 189L650 191L650 193L650 195L650 197L650 199L650 201L650 203L650 205L650 207L650 209L650 211L650 213L650 215L650 217L650 219L650 221L650 223L650 225L650 227L650 229L650 231L650 233L650 235L650 237L650 239L650 241L650 243L650 245L650 247L650 249L650 251L650 253L650 255L650 257L650 259L650 261L650 263L650 265L650 267L650 269L650 271L650 273L650 275L650 277L650 279L650 281L650 283L650 285L650 287L650 289L650 291L650 293L650 295L650 297L650 299L650 301L650 303L650 305L650 307L650 309L650 311L650 313L650 315L650 317L650 319L650 321L650 323L650 325L650 327L650 329L650 331L650 333L650 335L650 337L650 339L650 341L650 343L650 345L650 347L650 349L650 351L650 353L650 355L650 357L650 359L650 361L650 363L650 365L650 367L650 369L650 371L650 373L650 375L650 377L650 379L650 381L650 383L650 385L650 387L650 389L650 391L650 393L650 395L650 397L650 399L650 401L650 403L650 405L650 407L650 409L650 411L650 413L650 415L650 417L650 419L650 421L650 423L650 425L650 427L650 429L650 431L650 433L650 435L650 437L650 439L650 441L650 443L650 445L650 447L650 449L650 451L650 453L650 455L650 457L650 459L650 461L650 463L650 465L650 467L650 469L650 471L650 473L650 475L650 477L650 479L650 481L650 483L650 485L650 487L650 489L650 491L650 493L650 495L650 497L650 499L650 501L650 503L650 505L650 507L650 508.9L648 508.8L646 508.8L644 508.7L642 508.7L640 508.6L638 508.6L636 508.5L634 508.4L632 508.4L630 508.3L628 508.3L626 508.2L624 508.1L622 508.1L620 508L618 507.9L616 507.8L614 507.7L612 507.6L610 507.5L608 507.4L606 507.3L604 507.1L603.2 507L602 506.8L600 506.5L598 506.1L596 505.7L594 505.4L592.1 505L592 505L590 504.6L588 504.2L586 503.9L584 503.7L582 503.5L580 503.3L578 503.1L576.7 503L576 502.9L574 502.9L572 502.9L571.7 503L570 503.4L568 504L566 504.6L564.8 505L564 505.3L562 505.7L560 505.8L558 505.8L556 506L554 506.5L552.5 507L552 507.2L550 507.9L548 508.4L546 508.5L544 508.2L542 507.8L540 507.6L538 507.8L536 508.3L534 508.5L532 508.2L530 507.5L529 507L528 506.5L526 506L524.5 507L524 508.1L523.8 509L523.7 511L522.5 513L522 513.5L520.5 515L520 515.7L518.8 517L518 518.2L517.3 519L516 520.8L515.8 521L514 522.7L513.6 523L512 524.3L511.1 525L510 525.8L508 526.9L507.9 527L506 527.9L504 528.6L502.9 529L502 529.3L500 530.1L498 530.8L497.3 531L496 531.4L494 531.9L492 532.4L490 532.8L488.9 533L488 533.2L486 533.6L484 534L482 534.1L480 533.8L478 533.5L476 533.2L474 533.2L472 533.4L470 533.7L468 534L466 534.3L464 534.6L462 534.8L460 534.9L458 534.8L456 534.8L454 534.7L452 534.6L450 534.9L449.7 535L448 535.6L446 536.3L444 536.6L442 536.8L440 536.9L438 536.8L436 536.8L434 536.8L432 536.9L430 537L428 537L426 537L424.4 537L424 537L422 537L421.9 537L420 537L418 537L416 537L414 536.9L412 536.8L410 536.7L408 536.6L406 536.4L404 536.2L402 536.1L400 535.9L398 535.7L396 535.5L394 535.3L392 535.1L391.2 535L390 534.8L388 534.7L386 534.7L384 534.9L383.6 535L382 535.2L380 535.5L378 535.9L376 536L374 535.7L372.2 535L372 534.9L370 534.5L368 534.7L366 534.9L364 535L362 534.9L361.6 535L360 535.6L359.2 537L358 538L357.4 539L356 540.3L355.2 541L354 541.6L352 541.9L350 541.2L349.7 541L348 539.5L347.5 539L346 537.4L345.5 537L344 535.2L343.8 535L342.5 533L342 532.2L341.3 531L340.2 529L340 528.7L338.9 527L338 525.2L337.9 525L337.1 523L337 521L337.1 519L337.4 517L337.7 515L338 513.8L338.1 513L338.6 511L339.1 509L339.6 507L339.5 505L338.6 503L338 501.3L337.9 501L337.1 499L336.3 497L336 496.4L335.3 495L334 493.2L333.8 493L332.2 491L332 490.8L330.5 489L330 488.4L328.8 487L328 486L327.2 485L326 483.1L325.9 483L324.7 481L324 479.7L323.6 479L322.5 477L322 476L321.4 475L320.4 473L320 472.3L319.2 471L318 469.4L317.7 469L316.3 467L316 466.6L314.8 465L314 463.8L313 463L312 462.2L310 461.8L308 461.6L306.6 461L306 460.7L304.3 459L304 458.7L302.7 457L302 456.2L300.9 455L300 454L298.8 453L298 452.2L296.6 451L296 450.4L294.8 449L294 448.1L293.2 447L292 445.5L291.6 445L290.6 443L290.3 441L290.4 439L290.6 437L290.8 435L291 433L291.3 431L291.7 429L292 427.8L292.3 427L292.9 425L293.2 423L292.9 421L292.4 419L292 417.4L291.9 417L291.4 415L290.8 413L290.2 411L290 410.7L289 409L288 407.6L287.5 407L286.1 405L286 404.8L284.7 403L284 401.9L283.4 401L282.4 399L282 398L281.6 397L280.7 395L280 393.1L280 393L279.1 391L278.4 389L278 388L277.6 387L277 385L276.4 383L276 381.1L276 381L275.6 379L275.1 377L274.7 375L274.3 373L274 371.5L273.9 371L273.3 369L272.6 367L272 365L271.3 363L270.6 361L270 359L269.2 357L268.5 355L268 353.4L267.8 353L266.8 351L266 349.9L265.5 349L264.3 347L264 346.5L263.3 345L262.7 343L262.5 341L262.4 339L263.1 337L264 336.3L264.8 335L266 333.4L266.2 333L267 331L267.8 329L268 328.5L268.5 327L269.4 325L270 324.1L272 323.3L274 323.9L276 325L278 326.2L279.3 327L280 327.4L282 328.2L284 328.5L286 328.4L288 327.9L289.1 327L289.5 325L289.3 323L288.7 321L288 320L287.1 319L286 318.1L284.5 317L284 316.7L282 315.4L281.3 315L280 314.1L278.2 313L278 312.9L276 311.5L275.2 311L274 310.2L272.3 309L272 308.8L270 307.5L269.2 307L268 306.4L266 305.4L265.2 305L264 304.4L262 303.6L260.3 303L260 302.8L258.1 301L258 300.7L257.2 299L256.4 297L256 296L255.6 295L254.9 293L254.3 291L254 290.1L253.7 289L253.1 287L252.5 285L252 283.2L251.9 283L251.1 281L250.2 279L250 278.4L249.3 277L248 275L248 274.9L247 273L246 271.3L245.9 271L244.6 269L244 267.8L243.6 267L242.3 265L242 264.5L241.2 263L240 261.2L239.9 261L238.7 259L238 257.9L237.6 257L236.3 255L236 254.5L235.1 253L234 251.5L233.7 251L232 249L230.4 247L230 246.6L228.7 245L228 244.3L227 243L226 241.9L225.5 241L224.1 239L224 238.9L222.8 237L222 235.8L221.5 235L220.2 233L220 232.7L219 231L218 229.5L217.7 229L216.3 227L216 226.6L214.8 225L214 224.1L213.2 223L212 221.3L211.8 221L210.5 219L210 218.3L209.1 217L208 215.3L207.8 215L206 213.1L205.9 213L204 212.1L202 211.6L200 211.3L198 211.1L196.8 211L196 210.9L194 210.6L192 210.1L190 209L189.9 209L188 207.4L187.6 207L186 205.6L185.3 205L184 203.9L183 203L182 202.2L180.5 201L180 200.6L178 199.1L177.9 199L176 197.1L175.9 197L174.2 195L174 194.8L172.4 193L172 192.5L170.7 191L170 190.2L168.9 189L168 187.9L167.2 187L166 185.4L165.7 185L164.4 183L164 182.5L163 181L162 179.5L161.7 179L160.4 177L160 176.5L159 175L158 173.5L157.7 173L156.4 171L156 170.4L155.1 169L154 167.2L153.9 167L152.5 165L152 164.2L151 163L150 161.9L150 161L150 159L150 157L150 155L150 153L150 151L150 149L150 147L150 145L150 143L150 141L150 139L150 137L150 135L150 133L150 131L150 129L150 127L150 125L150 123L150 121L150 119L150 117L150 115L150 113L150 111L150 109L150 107L150 105L150 103L150 101L150 99L150 97L150 95L150 93L150 91L150 89L150 87Z"/>
<path fill="#ffff00" d="M152 87L154 87L156 87L158 87L160 87L162 87L164 87L166 87L168 87L170 87L172 87L174 87L176 87L178 87L180 87L182 87L184 87L186 87L188 87L190 87L192 87L194 87L196 87L198 87L200 87L202 87L204 87L206 87L208 87L210 87L212 87L214 87L216 87L218 87L220 87L222 87L224 87L226 87L228 87L230 87L232 87L234 87L236 87L238 87L240 87L242 87L244 87L246 87L248 87L250 87L252 87L254 87L256 87L258 87L260 87L262 87L264 87L266 87L268 87L270 87L272 87L274 87L276 87L278 87L280 87L282 87L284 87L286 87L288 87L290 87L292 87L294 87L296 87L298 87L300 87L302 87L304 87L306 87L308 87L310 87L312 87L314 87L316 87L318 87L320 87L322 87L324 87L326 87L328 87L330 87L332 87L334 87L336 87L338 87L340 87L342 87L344 87L346 87L348 87L350 87L352 87L354 87L356 87L358 87L360 87L362 87L364 87L366 87L368 87L370 87L372 87L374 87L376 87L378 87L380 87L382 87L384 87L386 87L388 87L390 87L392 87L394 87L396 87L398 87L400 87L402 87L404 87L406 87L408 87L410 87L412 87L414 87L416 87L418 87L420 87L422 87L424 87L426 87L428 87L430 87L432 87L434 87L436 87L438 87L440 87L442 87L444 87L446 87L448 87L450 87L452 87L454 87L456 87L458 87L460 87L462 87L464 87L466 87L468 87L470 87L472 87L474 87L476 87L478 87L480 87L482 87L484 87L486 87L488 87L490 87L492 87L494 87L496 87L498 87L500 87L502 87L504 87L506 87L508 87L510 87L512 87L514 87L516 87L518 87L520 87L522 87L524 87L526 87L528 87L530 87L532 87L534 87L536 87L538 87L540 87L542 87L544 87L546 87L548 87L550 87L552 87L554 87L556 87L558 87L560 87L562 87L564 87L566 87L568 87L570 87L572 87L574 87L576 87L578 87L580 87L582 87L584 87L586 87L588 87L590 87L592 87L594 87L596 87L598 87L600 87L602 87L604 87L606 87L608 87L610 87L612 87L614 87L616 87L618 87L620 87L622 87L624 87L626 87L628 87L630 87L632 87L634 87L636 87L638 87L640 87L642 87L644 87L646 87L648 87L650 87L650 89L650 91L650 93L650 95L650 97L650 99L650 101L650 103L650 105L650 107L650 109L650 111L650 113L650 115L650 117L650 119L650 121L650 123L650 125L650 127L650 129L650 131L650 133L650 135L650 137L650 139L650 141L650 143L650 145L650 147L650 149L650 151L650 153L650 155L650 157L650 159L650 161L650 163L650 165L650 167L650 169L650 171L650 173L650 175L650 177L650 179L650 181L650 183L650 185L650 187L650 189L650 191L650 193L650 195L650 197L650 199L650 201L650 203L650 205L650 207L650 209L650 211L650 213L650 215L650 217L650 219L650 221L650 223L650 225L650 227L650 229L650 231L650 233L650 235L650 237L650 239L650 241L650 243L650 245L650 247L650 249L650 251L650 253L650 255L650 257L650 259L650 261L650 263L650 265L650 267L650 269L650 271L650 273L650 275L650 277L650 279L650 281L650 283L650 285L650 287L650 289L650 291L650 293L650 295L650 297L650 299L650 301L650 303L650 305L650 307L650 309L650 311L650 313L650 315L650 317L650 319L650 321L650 323L650 325L650 327L650 329L650 331L650 333L650 335L650 337L650 339L650 341L650 343L650 345L650 347L650 349L650 351L650 353L650 355L650 357L650 359L650 361L650 363L650 365L650 367L650 369L650 371L650 373L650 375L650 377L650 379L650 381L650 383L650 385L650 387L650 389L650 391L650 393L650 395L650 397L650 399L650 401L650 403L650 405L650 407L650 409L650 411L650 413L650 415L650 417L650 419L650 421L650 423L650 425L650 427L650 429L650 431L650 433L650 435L650 437L650 439L650 441L650 443L650 445L650 447L650 449L650 451L650 453L650 455L650 457L650 459L650 461L650 463L650 465L650 467L650 469L650 471L650 473L650 475L650 477L650 479L650 481L650 483L650 485L650 487L650 489L650 491L650 493L650 495L650 497L650 499L650 501L650 503L650 503.4L648 503.4L646 503.3L644 503.2L642 503.2L640 503.1L638 503L637.9 503L636 502.9L634 502.8L632 502.7L630 502.6L628 502.5L626 502.4L624 502.3L622 502.2L620 502.1L618 501.9L616 501.8L614 501.6L612 501.4L610 501.3L608 501.1L606.4 501L606 501L604 500.8L602 500.5L600 500.1L598 499.7L596 499.3L594.4 499L594 498.9L592 498.5L590 498.1L588 497.7L586 497.5L584 497.4L582 497.4L580 497.3L578 497.3L576 497.2L574.4 497L574 496.9L572 496.7L570 497L568 497.6L566 498.3L564.2 499L564 499.1L562 499.7L560 500L558 499.9L556 500.2L554.3 501L554 501.1L552 502.1L550 502.8L549 503L548 503.2L546 503.4L544 503L542 502.1L540 501.5L538 501.6L536 502.1L534 502.6L532 502.6L530 501.7L529 501L528 500.4L526 499.8L524 500.2L522.6 501L522 501.5L520.9 503L520 505L520 505.2L519.2 507L518 509L516 510.7L515.6 511L514 512.2L512.9 513L512 513.7L510.1 515L510 515.1L508 516.4L507.1 517L506 517.7L504 518.9L503.8 519L502 519.9L500 520.9L499.7 521L498 521.8L496 522.8L495.6 523L494 523.7L492 524.5L490.5 525L490 525.1L488 525.7L486 526.3L484 527L483.9 527L482 527.4L480 527.7L478 527.8L476 527.7L474 527.7L472 527.9L470 528.1L468 528.5L466 528.9L465.7 529L464 529.4L462 529.9L460 530.1L458 530L456 529.5L454.3 529L454 528.9L452 528.3L450 528.2L448 528.7L447.3 529L446 529.8L444 530.9L443.3 531L442 531.2L440.9 531L440 530.9L438 530.5L436 530.5L434 530.8L433 531L432 531.2L430 531.4L428 531.5L426 531.5L424 531.5L422 531.5L420 531.5L418 531.5L416 531.5L414 531.5L412 531.3L410 531.2L408 531L406 530.7L404 530.5L402 530.2L400 529.8L398 529.5L396 529.1L395.5 529L394 528.6L392 528.1L390 527.6L388 527.2L386.5 527L386 526.9L384 526.8L382 526.7L380 526.6L378 526.3L376 525.2L375.7 525L374 524.3L372 523.8L370 523.6L368 523.5L366 523.4L364 523.2L362.9 523L362 522.7L360 521.3L358.8 521L358 520.1L357 519L356.2 517L356 516L355.8 515L355.4 513L354.9 511L354.2 509L354 508.6L353.6 507L352.8 505L352 503.7L351.7 503L350.4 501L350 500.5L348.8 499L348 498L347.2 497L346 495.5L345.7 495L344.2 493L344 492.8L342.6 491L342 490.3L340.8 489L340 488.1L338.9 487L338 486L337 485L336 483.9L335.3 483L334 481.3L333.8 481L332.5 479L332 478.3L331.2 477L330 475L329.4 473L329 471L328.7 469L328.3 467L328 465.5L327.9 465L327.1 463L326 461.5L325.2 461L324 459.8L322.8 459L322 457.6L321.8 457L321.2 455L320.3 453L320 452.3L319.6 451L318.7 449L318 447.6L317.7 447L316.7 445L316 443.4L315.8 443L314.8 441L314 439.3L313.8 439L313 437L312.7 435L312.7 433L312.6 431L312.6 429L312.6 427L312.5 425L312.4 423L312.4 421L312.3 419L312.2 417L312 416.2L311.7 415L310.6 413L310 412L309.4 411L308.1 409L308 408.9L306.8 407L306 406.1L305.1 405L304 404.2L302.2 403L302 402.9L300 401.8L298.6 401L298 400.6L296 399.2L295.8 399L294.5 397L294 396.1L293.6 395L292.8 393L292 391.2L291.9 391L291.2 389L290.4 387L290 386.2L289.6 385L288.8 383L288.1 381L288 380.6L287.6 379L287 377L286.4 375L286 373.9L285.8 373L285.2 371L284.7 369L284.1 367L284 366.6L283.7 365L283.2 363L282.7 361L282.1 359L282 358.6L281.7 357L281.3 355L281.1 353L281.2 351L281.7 349L282 347.3L282.2 347L283.1 345L283.8 343L284 342.8L286 342L288 341.2L288.6 341L290 340.8L292 340.2L294 339.5L295.5 339L296 338.9L298 338.2L299.5 337L300 336.6L300.8 335L301.1 333L301.1 331L300.9 329L300.7 327L300.5 325L300.2 323L300 321.5L299.9 321L299.6 319L299.2 317L298.8 315L298.2 313L298 312.5L297.1 311L296 309.7L295.2 309L294 308L292.7 307L292 306.4L290.1 305L290 304.9L288 303.4L287.4 303L286 301.9L284.7 301L284 300.4L282.1 299L282 298.9L280 297.2L279.7 297L278 295.1L278 295L276.7 293L276 291.8L275.6 291L274.5 289L274 288.2L273.4 287L272.3 285L272 284.5L271.4 283L271 281L271 279L271.2 277L271.5 275L271.7 273L271.8 271L272 269L272.2 267L272.4 265L272.7 263L272.9 261L272.8 259L272.5 257L272 255L272 254.8L271.5 253L270.9 251L270.3 249L270 248.3L269.4 247L268.3 245L268 244.5L267 243L266 241.5L265.7 241L264.2 239L264 238.8L262.4 237L262 236.5L260.6 235L260 234.3L258.9 233L258 232L257.2 231L256 229.7L255.3 229L254 227.8L252.9 227L252 226.3L250.1 225L250 225L248 223.6L247.1 223L246 222.2L244.3 221L244 220.8L242 219.3L241.7 219L240 217.8L238.9 217L238 216.4L236 215.1L235.9 215L234 213.7L232.8 213L232 212.5L230 211.5L228.8 211L228 210.6L226 209.8L224.3 209L224 208.9L222 208L220 207L219.9 207L218 206L216.2 205L216 204.9L214 203.8L212.3 203L212 202.8L210 201.8L208.3 201L208 200.9L206 199.8L204.2 199L204 198.9L202 197.9L200.3 197L200 196.8L198 195.5L197.4 195L196 194L194.5 193L194 192.6L192 191.2L191.6 191L190 189.9L188.8 189L188 188.5L186.1 187L186 187L184 185.1L183.9 185L182 183.2L181.8 183L180 181.2L179.8 181L178 179.2L177.8 179L176 177.1L175.9 177L174 175L172.3 173L172 172.6L170.8 171L170 169.9L169.3 169L168 167.2L167.8 167L166.3 165L166 164.6L164.9 163L164 161.7L163.5 161L162.3 159L162 158.6L161 157L160 155.4L159.8 155L158.5 153L158 152.1L157.3 151L156.2 149L156 148.7L155.1 147L154 145.1L153.9 145L152.7 143L152 141.8L151.3 141L150 139.1L150 139L150 137L150 135L150 133L150 131L150 129L150 127L150 125L150 123L150 121L150 119L150 117L150 115L150 113L150 111L150 109L150 107L150 105L150 103L150 101L150 99L150 97L150 95L150 93L150 91L150 89L150 87Z"/>
<path fill="#ffe000" d="M152 87L154 87L156 87L158 87L160 87L162 87L164 87L166 87L168 87L170 87L172 87L174 87L176 87L178 87L180 87L182 87L184 87L186 87L188 87L190 87L192 87L194 87L196 87L198 87L200 87L202 87L204 87L206 87L208 87L210 87L212 87L214 87L216 87L218 87L220 87L222 87L224 87L226 87L228 87L230 87L232 87L234 87L236 87L238 87L240 87L242 87L244 87L246 87L248 87L250 87L252 87L254 87L256 87L258 87L260 87L262 87L264 87L266 87L268 87L270 87L272 87L274 87L276 87L278 87L280 87L282 87L284 87L286 87L288 87L290 87L292 87L294 87L296 87L298 87L300 87L302 87L304 87L306 87L308 87L310 87L312 87L314 87L316 87L318 87L320 87L322 87L324 87L326 87L328 87L330 87L332 87L334 87L336 87L338 87L340 87L342 87L344 87L346 87L348 87L350 87L352 87L354 87L356 87L358 87L360 87L362 87L364 87L366 87L368 87L370 87L372 87L374 87L376 87L378 87L380 87L382 87L384 87L386 87L388 87L390 87L392 87L394 87L396 87L398 87L400 87L402 87L404 87L406 87L408 87L410 87L412 87L414 87L416 87L418 87L420 87L422 87L424 87L426 87L428 87L430 87L432 87L434 87L436 87L438 87L440 87L442 87L444 87L446 87L448 87L450 87L452 87L454 87L456 87L458 87L460 87L462 87L464 87L466 87L468 87L470 87L472 87L474 87L476 87L478 87L480 87L482 87L484 87L486 87L488 87L490 87L492 87L494 87L496 87L498 87L500 87L502 87L504 87L506 87L508 87L510 87L512 87L514 87L516 87L518 87L520 87L522 87L524 87L526 87L528 87L530 87L532 87L534 87L536 87L538 87L540 87L542 87L544 87L546 87L548 87L550 87L552 87L554 87L556 87L558 87L560 87L562 87L564 87L566 87L568 87L570 87L572 87L574 87L576 87L578 87L580 87L582 87L584 87L586 87L588 87L590 87L592 87L594 87L596 87L598 87L600 87L602 87L604 87L606 87L608 87L610 87L612 87L614 87L616 87L618 87L620 87L622 87L624 87L626 87L628 87L630 87L632 87L634 87L636 87L638 87L640 87L642 87L644 87L646 87L648 87L650 87L650 89L650 91L650 93L650 95L650 97L650 99L650 101L650 103L650 105L650 107L650 109L650 111L650 113L650 115L650 117L650 119L650 121L650 123L650 125L650 127L650 129L650 131L650 133L650 135L650 137L650 139L650 141L650 143L650 145L650 147L650 149L650 151L650 153L650 155L650 157L650 159L650 161L650 163L650 165L650 167L650 169L650 171L650 173L650 175L650 177L650 179L650 181L650 183L650 185L650 187L650 189L650 191L650 193L650 195L650 197L650 199L650 201L650 203L650 205L650 207L650 209L650 211L650 213L650 215L650 217L650 219L650 221L650 223L650 225L650 227L650 229L650 231L650 233L650 235L650 237L650 239L650 241L650 243L650 245L650 247L650 249L650 251L650 253L650 255L650 257L650 259L650 261L650 263L650 265L650 267L650 269L650 271L650 273L650 275L650 277L650 279L650 281L650 283L650 285L650 287L650 289L650 291L650 293L650 295L650 297L650 299L650 301L650 303L650 305L650 307L650 309L650 311L650 313L650 315L650 317L650 319L650 321L650 323L650 325L650 327L650 329L650 331L650 333L650 335L650 337L650 339L650 341L650 343L650 345L650 347L650 349L650 351L650 353L650 355L650 357L650 359L650 361L650 363L650 365L650 367L650 369L650 371L650 373L650 375L650 377L650 379L650 381L650 383L650 385L650 387L650 389L650 391L650 393L650 395L650 397L650 399L650 401L650 403L650 405L650 407L650 409L650 411L650 413L650 415L650 417L650 419L650 421L650 423L650 425L650 427L650 429L650 431L650 433L650 435L650 437L650 439L650 441L650 443L650 445L650 447L650 449L650 451L650 453L650 455L650 457L650 459L650 461L650 463L650 465L650 467L650 469L650 471L650 473L650 475L650 477L650 479L650 481L650 483L650 485L650 487L650 489L650 491L650 493L650 493.5L648 493.4L646 493.3L644 493.2L642 493.1L640 493L639.8 493L638 492.9L636 492.8L634 492.7L632 492.6L630 492.5L628 492.5L626 492.4L624 492.3L622 492.2L620 492.1L618 492.1L616 492.1L614 492.2L612 492.3L610 492.3L608 492.3L606 492.2L604 492.1L602 492L600 491.9L598 491.7L596 491.4L594.2 491L594 491L592 490.4L590 489.8L588 489.3L586.2 489L586 489L584 488.9L582 488.9L580 488.9L578 488.9L576 488.9L574 488.8L572 489L571.8 489L570 489.3L568 489.9L566 490.5L564.2 491L564 491.1L562 491.3L560 491.2L558.7 491L558 490.9L557.5 491L556 491.3L554 492.8L553.8 493L552 494.9L551.8 495L550 496.2L548 496.3L546 495.5L544.5 495L544 494.8L542 494.3L540 494L538 493.7L536 493.5L534 493.4L532 493.2L530.4 493L530 493L528 492.9L527.3 493L526 493.2L524 494.7L523.7 495L522 496.1L520.8 497L520 497.5L518 498.8L517.7 499L516 500.2L514.9 501L514 501.7L512 502.8L511.7 503L510 503.9L508 504.9L507.7 505L506 505.8L504 506.7L503 507L502 507.4L500 508.1L498 508.8L497.3 509L496 509.5L494 510.3L492.3 511L492 511.1L490 511.9L488 512.7L487.3 513L486 513.5L484 514.3L482.4 515L482 515.2L480 516.5L479.4 517L478 518.2L477.1 519L476 519.8L474 520.6L472 521L471.3 521L470 521.1L468 521.2L466 521.6L464 522.4L462.7 523L462 523.3L460 523.5L458 523.3L456 523L455.7 523L454 522.7L452 522.5L450 522.3L448 522.3L446 522.3L444 522.4L442 522.4L440 522.2L438 522L436 521.8L434 521.6L432 521.4L430 521.1L429.3 521L428 520.7L426 520.3L424 520L422 519.7L420 519.5L418 519.3L416 519.1L414.4 519L414 518.9L412 518.6L410 518.1L408 517.6L406 517.1L405.7 517L404 516.4L402 515.8L400 515L399.9 515L398 514L396 513.1L395.8 513L394 512.2L392 511.5L390 511L388 510.5L386 510L384 509.6L382 509.1L381.3 509L380 508.6L378 507.8L376.3 507L376 506.7L374 505.4L372.7 505L372 504.7L370 504L368 503.1L367.9 503L366 501.2L365.9 501L364.6 499L364 498.1L363.4 497L362 495L361.1 493L360.2 491L360 490.5L359.5 489L358.7 487L358 485.5L357.7 485L356.5 483L356.2 481L356.6 479L356.8 477L356.5 475L356.2 473L356 471.5L355.9 471L355.5 469L355 467L354.1 465L354 465L352 463.7L351.5 463L350 461.8L349.4 461L348 459.2L347.9 459L346.5 457L346 456.3L345.1 455L344 453.4L343.7 453L342.3 451L342 450.6L340.9 449L340 447.7L339.5 447L338.3 445L338 444.3L337.5 443L337.2 441L337.2 439L337.3 437L337.5 435L337.7 433L337.8 431L337.8 429L337.9 427L337.9 425L338 423.2L338 423L338 421L338 420.9L337.6 419L336.9 417L336.1 415L336 414.8L335.2 413L334.1 411L334 410.8L332.8 409L332 407.8L331.4 407L330 405L328.5 403L328 402.3L327.1 401L326 399.3L325.8 399L324.5 397L324 396.2L323.2 395L322 393L320.7 391L320 389.9L319.4 389L318.1 387L318 386.9L316.8 385L316 383.2L315.9 383L314.8 381L314 379.2L313.9 379L312.8 377L312 375L312 374.9L311.2 373L310.7 371L310.2 369L310 368.1L309.7 367L309.2 365L308.8 363L308.4 361L308 359.1L308 359L307.4 357L306.9 355L306.5 353L306.2 351L306.4 349L306.9 347L307.4 345L307.9 343L308 342.5L308.4 341L308.9 339L309.4 337L309.9 335L310 334.5L310.4 333L311 331L311.6 329L312 327.7L312.3 327L312.6 325L312.2 323L312 322.4L311.6 321L311 319L310.4 317L310 315.6L309.8 315L309.2 313L308.7 311L308.1 309L308 308.6L307.6 307L307.2 305L306.7 303L306.3 301L306 299.6L305.9 299L305.3 297L304.7 295L304 293L303.1 291L302.4 289L302 287.5L301.8 287L301.1 285L300.4 283L300 281.6L299.8 281L298.9 279L298.1 277L298 276.9L297 275L296.1 273L296 272.8L295 271L294.2 269L294 268.4L293.5 267L293.2 265L293 263L292.8 261L292.6 259L292.4 257L292.2 255L292 253L292 252.5L291.9 251L291.8 249L291.8 247L291.8 245L291.8 243L291.8 241L291.8 239L291.8 237L291.8 235L291.8 233L291.7 231L291.5 229L291 227L290.5 225L290.2 223L290 221L290 220.5L289.8 219L289.5 217L289.2 215L288.7 213L288.1 211L288 210.4L287.3 209L286.3 207L286 205.9L285.4 205L284.1 203L284 202.9L282.4 201L282 200.7L280.2 199L280 198.9L278 197.7L277 197L276 196.7L274 196.1L272 196L270 196.1L268 196.2L266 196.3L264 196.4L262 196.3L260 196L258 195.9L256 195.7L254 195.6L252 195.5L250 195.4L248 195.2L246.3 195L246 195L244 194.7L242 194.3L240 194L238 193.6L236 193.3L234.4 193L234 192.9L232 192.6L230 192.3L228 191.9L226 191.3L225.2 191L224 190.6L222 190L220 189.3L219.2 189L218 188.6L216 188L214 187.3L213.2 187L212 186.6L210 185.8L208.4 185L208 184.8L206 183.7L204.8 183L204 182.6L202 181.5L201.1 181L200 180.4L198 179.3L197.5 179L196 178.2L194 177L192 175.5L191.4 175L190 173.7L189.2 173L188 171.8L187.2 171L186 169.8L185.2 169L184 167.8L183.2 167L182 165.7L181.3 165L180 163.5L179.6 163L178.1 161L178 160.9L176.7 159L176 157.9L175.4 157L174 155L174 154.9L172.7 153L172 151.9L171.5 151L170.3 149L170 148.3L169.4 147L168.7 145L168 143.3L167.9 143L167.1 141L166.4 139L166 138L165.6 137L165 135L164.4 133L164 131.3L163.9 131L163.4 129L162.9 127L162.4 125L162 123.3L161.9 123L161.4 121L161 119L160.5 117L160.1 115L160 114.4L159.7 113L159.3 111L158.8 109L158.4 107L158 105L157.3 103L156.7 101L156.4 99L156.1 97L156 96.1L155.4 95L154.6 93L154.1 91L154 90.6L152.1 89L152 88.5L150 87.3L150 87Z"/>
<path fill="#ffc000" d="M166 87L168 87L170 87L172 87L174 87L176 87L178 87L180 87L182 87L184 87L186 87L188 87L190 87L192 87L194 87L196 87L198 87L200 87L202 87L204 87L206 87L208 87L210 87L212 87L214 87L216 87L218 87L220 87L222 87L224 87L226 87L228 87L230 87L232 87L234 87L236 87L238 87L240 87L242 87L244 87L246 87L248 87L250 87L252 87L254 87L256 87L258 87L260 87L262 87L264 87L266 87L268 87L270 87L272 87L274 87L276 87L278 87L280 87L282 87L284 87L286 87L288 87L290 87L292 87L294 87L296 87L298 87L300 87L302 87L304 87L306 87L308 87L310 87L312 87L314 87L316 87L318 87L320 87L322 87L324 87L326 87L328 87L330 87L332 87L334 87L336 87L338 87L340 87L342 87L344 87L346 87L348 87L350 87L352 87L354 87L356 87L358 87L360 87L362 87L364 87L366 87L368 87L370 87L372 87L374 87L376 87L378 87L380 87L382 87L384 87L386 87L388 87L390 87L392 87L394 87L396 87L398 87L400 87L402 87L404 87L406 87L408 87L410 87L412 87L414 87L416 87L418 87L420 87L422 87L424 87L426 87L428 87L430 87L432 87L434 87L436 87L438 87L440 87L442 87L444 87L446 87L448 87L450 87L452 87L454 87L456 87L458 87L460 87L462 87L464 87L466 87L468 87L470 87L472 87L474 87L476 87L478 87L480 87L482 87L484 87L486 87L488 87L490 87L492 87L494 87L496 87L498 87L500 87L502 87L504 87L506 87L508 87L510 87L512 87L514 87L516 87L518 87L520 87L522 87L524 87L526 87L528 87L530 87L532 87L534 87L536 87L538 87L540 87L542 87L544 87L546 87L548 87L550 87L552 87L554 87L556 87L558 87L560 87L562 87L564 87L566 87L568 87L570 87L572 87L574 87L576 87L578 87L580 87L582 87L584 87L586 87L588 87L590 87L592 87L594 87L596 87L598 87L600 87L602 87L604 87L606 87L608 87L610 87L612 87L614 87L616 87L618 87L620 87L622 87L624 87L626 87L628 87L630 87L632 87L634 87L636 87L638 87L640 87L642 87L644 87L646 87L648 87L650 87L650 89L650 91L650 93L650 95L650 97L650 99L650 101L650 103L650 105L650 107L650 109L650 111L650 113L650 115L650 117L650 119L650 121L650 123L650 125L650 127L650 129L650 131L650 133L650 135L650 137L650 139L650 141L650 143L650 145L650 147L650 149L650 151L650 153L650 155L650 157L650 159L650 161L650 163L650 165L650 167L650 169L650 171L650 173L650 175L650 177L650 179L650 181L650 183L650 185L650 187L650 189L650 191L650 193L650 195L650 197L650 199L650 201L650 203L650 205L650 207L650 209L650 211L650 213L650 215L650 217L650 219L650 221L650 223L650 225L650 227L650 229L650 231L650 233L650 235L650 237L650 239L650 241L650 243L650 245L650 247L650 249L650 251L650 253L650 255L650 257L650 259L650 261L650 263L650 265L650 267L650 269L650 271L650 273L650 275L650 277L650 279L650 281L650 283L650 285L650 287L650 289L650 291L650 293L650 295L650 297L650 299L650 301L650 303L650 305L650 307L650 309L650 311L650 313L650 315L650 317L650 319L650 321L650 323L650 325L650 327L650 329L650 331L650 333L650 335L650 337L650 339L650 341L650 343L650 345L650 347L650 349L650 351L650 353L650 355L650 357L650 359L650 361L650 363L650 365L650 367L650 369L650 371L650 373L650 375L650 377L650 379L650 381L650 383L650 385L650 387L650 389L650 391L650 393L650 395L650 397L650 399L650 401L650 403L650 405L650 407L650 409L650 411L650 413L650 415L650 417L650 419L650 421L650 423L650 425L650 427L650 429L650 431L650 433L650 435L650 437L650 439L650 441L650 443L650 445L650 447L650 449L650 451L650 453L650 455L650 457L650 459L650 461L650 463L650 465L650 467L650 469L650 471L650 473L650 475L650 477L650 479L650 481L650 483L650 485L650 485.5L648 485.2L646 485L645.9 485L644 484.8L642 484.7L640 484.6L638 484.5L636 484.4L634 484.3L632 484.2L630 484.1L628 484L626 483.9L624 483.8L622 483.8L620 483.9L618 484L616 484L614 484L612 483.9L610 483.8L608 483.6L606 483.5L604 483.4L602 483.3L600 483.2L598 483.1L596.4 483L596 483L594 482.9L592 482.7L590 482.5L588 482.4L586 482.3L584 482.4L582 482.5L580 482.5L578 482.6L576 482.6L574 482.7L572 482.9L570.9 483L570 483.1L568 483.4L566 483.7L564 483.9L562 483.9L560 483.4L559 483L558 482.6L556 482.2L554 482.7L553.5 483L552 484L550.3 485L550 485.2L548 485.8L546 486L544 486L542 486L540 486L538 485.9L536 485.9L534 486L532 486.1L530 486.2L528 486L526 485.5L524 485.3L522 485.6L520 486.3L518.7 487L518 487.5L516.1 489L516 489.1L514 490.7L513.6 491L512 492.1L510.3 493L510 493.2L508 494.2L506.3 495L506 495.2L504 496.2L502.1 497L502 497.1L500 497.9L498 498.6L497 499L496 499.4L494 500.1L492 500.7L491.1 501L490 501.3L488 501.8L486 502.2L484 502.4L482 502.5L480 502.2L478 501.8L476 501.4L474.4 503L474 503.2L472.7 505L472 505.5L470.4 507L470 507.3L468 508.9L467.9 509L466 510.1L464 510.8L462.9 511L462 511.1L460 511.1L458 511L456 510.8L454 510.7L452 510.4L450 509.8L448.4 509L448 508.8L446 507.4L445.5 507L444 505.8L443.1 505L442 503.4L441.6 503L441.2 501L441.6 499L442 497.2L442.1 497L442.7 495L443.2 493L443.5 491L442 489.7L441.3 489L440 488.7L438 488L436 487.7L434 487.5L432 487.2L430.9 487L430 486.9L428 486.7L426 486.5L424 486.2L422 485.9L420 485.7L418 485.4L416 485.2L414 485L413.7 485L412 484.9L410 484.7L408 484.5L406 484.3L404 484.1L402 483.9L400 483.6L398 483.4L396 483.1L395.4 483L394 482.7L392 482.2L390 481.7L388 481.1L387.4 481L386 480.7L384 480.1L382 479.2L381.7 479L380 477.9L378.9 477L378 476.2L376.5 475L376 474.6L374.2 473L374 472.8L372.5 471L372 470.2L371.3 469L370.4 467L370 466L369.6 465L369 463L369 461L369.2 459L369.3 457L369.6 455L370 454.4L370.9 453L372 451.5L372.4 451L373.7 449L374 448.6L375.1 447L376 445.6L376.4 445L377.6 443L378 442L378.5 441L378.4 439L378 438.3L377 437L376 436L374.8 435L374 434.3L372.6 433L372 432.5L370.3 431L370 430.7L368.3 429L368 428.7L366.7 427L366 426L365.5 425L364.4 423L364 422.4L362.6 421L362 420.6L360 420.2L358 420.2L356 420.2L354 420L352.1 419L352 418.6L351.9 417L352 415.5L352.1 415L352.3 413L352.6 411L353.3 409L354 408.3L356 407.7L358 407.3L359.8 407L360 407L362 406.6L364 406.4L366 406.9L366.2 407L368 408.2L368.8 409L370 410.1L370.9 411L372 412.1L372.9 413L374 414.2L374.8 415L376 416.5L376.5 417L378 418.9L378.1 419L379.9 421L380 421.1L382 422.1L382.8 421L383.7 419L384 418.1L384.2 417L384.7 415L385.2 413L385.8 411L386 409.1L386 409L386 408.9L385.3 407L384 405.4L383.6 405L382 403.3L381.7 403L380 401.1L380 401L378.9 399L378.7 397L379 395L379.4 393L379.8 391L380 389.9L380.1 389L380.2 387L380 386L379.7 385L378.4 383L378 382.4L376.8 381L376 379.9L375.3 379L374 377.2L373.8 377L372.1 375L372 374.8L370 373.2L368 374.9L368 375L367.4 377L366.7 379L366 381L365.5 383L365 385L364.4 387L364 388.4L363.8 389L363.3 391L362.8 393L362 394.8L361.9 395L360 396.7L359.5 397L358 397.7L356 398.4L354 399L353.9 399L352 399.9L350 400.6L348 401L346 400.6L344 399.4L343.5 399L342 397.8L341.2 397L340 395.8L339.2 395L338 393.8L337.2 393L336 391.8L335.3 391L334 389.8L333.3 389L332 387.7L331.4 387L330 385.4L329.6 385L328 383.1L327.9 383L326.4 381L326 380.5L325.1 379L324 377L322.9 375L322 373.1L321.9 373L320.9 371L320.2 369L320 368.1L319.7 367L319.4 365L319.3 363L319.1 361L319 359L318.9 357L318.8 355L319 353L319.8 351L320 350.8L321.4 349L322 348.5L323.1 347L324 345.9L324.7 345L326 343.5L326.5 343L328 341.7L328.9 341L330 340.1L331.5 339L332 338.4L333.5 337L333.7 335L333 333L332 331.1L332 331L331 329L330 327.1L330 327L329 325L328.1 323L328 322.8L327.3 321L326.5 319L326 317.9L325.7 317L324.9 315L324 313L324 312.9L323.3 311L322.5 309L322 307.9L321.7 307L320.9 305L320 303L319.2 301L318.4 299L318 298L317.6 297L316.9 295L316.1 293L316 292.7L315.4 291L314.7 289L314 287L313.4 285L312.7 283L312 281L311.3 279L310.6 277L310 275.6L309.8 275L309.1 273L308.3 271L308 270.3L307.5 269L306.9 267L306.4 265L306.1 263L306 262.2L305.9 261L305.7 259L305.5 257L305.3 255L305.2 253L305.1 251L305.2 249L305.4 247L305.6 245L305.8 243L306 241.2L306 241L306.2 239L306.3 237L306.1 235L306 234.5L305.7 233L305.3 231L304.8 229L304.3 227L304 225L303.9 223L303.8 221L303.9 219L303.9 217L304 215L304 213.1L304 213L303.9 211L303.7 209L303.3 207L303 205L302.7 203L302.5 201L302.2 199L302 198.5L301.6 197L300.5 195L300 194.3L299 193L298 191.8L297.3 191L296 189.4L295.6 189L294 187.3L293.7 187L292 185.6L291.1 185L290 184.2L288.1 183L288 182.9L286 181.7L284.6 181L284 180.7L282 179.9L280 179.2L279.2 179L278 178.6L276 178.1L274 177.9L272 178L270 178.2L268 178.4L266 178.7L264 178.9L263.4 179L262 179.2L260 179.4L258 179.6L256 179.8L254 180L252 180.2L250 180.3L248 180.4L246 180.4L244 180.2L242 180L240 179.8L238 179.7L236 179.5L234 179.4L232 179.2L230.1 179L230 179L228 178.6L226 178L224 177.3L223.1 177L222 176.6L220 175.9L218 175.2L217.6 175L216 174.4L214 173.7L212.4 173L212 172.8L210 171.7L208.9 171L208 170.4L206.2 169L206 168.8L204 167.3L203.6 167L202 165.7L201.1 165L200 164.2L198.6 163L198 162.5L196.4 161L196 160.6L194.5 159L194 158.4L192.8 157L192 156.1L191 155L190 153.8L189.3 153L188 151.5L187.6 151L186.1 149L186 148.8L185 147L184 145L184 144.9L183.1 143L182.2 141L182 140.5L181.3 139L180.4 137L180 136L179.6 135L178.7 133L178 131.1L178 131L177.2 129L176.5 127L176 125.5L175.8 125L175.1 123L174.5 121L174 119.7L173.8 119L173.1 117L172.5 115L172 113.5L171.9 113L171.3 111L170.7 109L170.1 107L170 106.8L169.5 105L169 103L168.5 101L168 99L168 98.8L167.6 97L167.2 95L166.8 93L166.4 91L166.1 89L166 88.1L165.9 87ZM448.9 457L448 457.4L447.3 459L448 459.4L450 460.5L451.9 461L452 461L453.6 459L452 457.6L450.4 457L450 456.9Z"/>
<path fill="#ffa000" d="M178 87L180 87L182 87L184 87L186 87L188 87L190 87L192 87L194 87L196 87L198 87L200 87L202 87L204 87L206 87L208 87L210 87L212 87L214 87L216 87L218 87L220 87L222 87L224 87L226 87L228 87L230 87L232 87L234 87L236 87L238 87L240 87L242 87L244 87L246 87L248 87L250 87L252 87L254 87L256 87L258 87L260 87L262 87L264 87L266 87L268 87L270 87L272 87L274 87L276 87L278 87L280 87L282 87L284 87L286 87L288 87L290 87L292 87L294 87L296 87L298 87L300 87L302 87L304 87L306 87L308 87L310 87L312 87L314 87L316 87L318 87L320 87L322 87L324 87L326 87L328 87L330 87L332 87L334 87L336 87L338 87L340 87L342 87L344 87L346 87L348 87L350 87L352 87L354 87L356 87L358 87L360 87L362 87L364 87L366 87L368 87L370 87L372 87L374 87L376 87L378 87L380 87L382 87L384 87L386 87L388 87L390 87L392 87L394 87L396 87L398 87L400 87L402 87L404 87L406 87L408 87L410 87L412 87L414 87L416 87L418 87L420 87L422 87L424 87L426 87L428 87L430 87L432 87L434 87L436 87L438 87L440 87L442 87L444 87L446 87L448 87L450 87L452 87L454 87L456 87L458 87L460 87L462 87L464 87L466 87L468 87L470 87L472 87L474 87L476 87L478 87L480 87L482 87L484 87L486 87L488 87L490 87L492 87L494 87L496 87L498 87L500 87L502 87L504 87L506 87L508 87L510 87L512 87L514 87L516 87L518 87L520 87L522 87L524 87L526 87L528 87L530 87L532 87L534 87L536 87L538 87L540 87L542 87L544 87L546 87L548 87L550 87L552 87L554 87L556 87L558 87L560 87L562 87L564 87L566 87L568 87L570 87L572 87L574 87L576 87L578 87L580 87L582 87L584 87L586 87L588 87L590 87L592 87L594 87L596 87L598 87L600 87L602 87L604 87L606 87L608 87L610 87L612 87L614 87L616 87L618 87L620 87L622 87L624 87L626 87L628 87L630 87L632 87L634 87L636 87L638 87L640 87L642 87L644 87L646 87L648 87L650 87L650 89L650 91L650 93L650 95L650 97L650 99L650 101L650 103L650 105L650 107L650 109L650 111L650 113L650 115L650 117L650 119L650 121L650 123L650 125L650 127L650 129L650 131L650 133L650 135L650 137L650 139L650 141L650 143L650 145L650 147L650 149L650 151L650 153L650 155L650 157L650 159L650 161L650 163L650 165L650 167L650 169L650 171L650 173L650 175L650 177L650 179L650 181L650 183L650 185L650 187L650 189L650 191L650 193L650 195L650 197L650 199L650 201L650 203L650 205L650 207L650 209L650 211L650 213L650 215L650 217L650 219L650 221L650 223L650 225L650 227L650 229L650 231L650 233L650 235L650 237L650 239L650 241L650 243L650 245L650 247L650 249L650 251L650 253L650 255L650 257L650 259L650 261L650 263L650 265L650 267L650 269L650 271L650 273L650 275L650 277L650 279L650 281L650 283L650 285L650 287L650 289L650 291L650 293L650 295L650 297L650 299L650 301L650 303L650 305L650 307L650 309L650 311L650 313L650 315L650 317L650 319L650 321L650 323L650 325L650 327L650 329L650 331L650 333L650 335L650 337L650 339L650 341L650 343L650 345L650 347L650 349L650 351L650 353L650 355L650 357L650 359L650 361L650 363L650 365L650 367L650 369L650 371L650 373L650 375L650 377L650 379L650 381L650 383L650 385L650 387L650 389L650 391L650 393L650 395L650 397L650 399L650 401L650 403L650 405L650 407L650 409L650 411L650 413L650 415L650 417L650 419L650 421L650 423L650 425L650 427L650 429L650 431L650 433L650 435L650 437L650 439L650 441L650 443L650 445L650 447L650 449L650 451L650 453L650 455L650 457L650 459L650 461L650 463L650 465L650 467L650 469L650 471L650 473L650 475L650 476.8L648 476.1L646 475.6L644 475.1L643.6 475L642 474.4L640 473.8L638 473.4L636 473.1L634.5 473L634 473L632 473L631.9 473L630 473.2L628 473.6L626 474.1L624 474.8L623.4 475L622 475.4L620 476L618 476.3L616 476.4L614 476.2L612 476.1L610 475.9L608 475.7L606 475.5L604 475.3L602 475.1L600.3 475L600 475L598 474.8L596 474.5L594 474.4L592 474.2L590 474.1L588 474.2L586 474.8L585.4 475L584 475.4L582 476L580 476.5L578 476.9L577.3 477L576 477.2L574 477.3L572 477.5L570 477.6L568 477.8L566 478L564 478.2L562 478.2L560 477.7L559 477L558 476.3L556 475L554 474.9L553.8 475L552 475.8L550 477L548 478.1L546.3 479L546 479.1L544 479.8L542 479.9L540 479.8L538 479.5L536 479.3L534 479.2L533 479L532 478.8L530 477.9L528.8 477L528 476.4L526 475.1L525.5 475L524 474.7L523.3 475L522 475.6L520.4 477L520 477.4L518.4 479L518 479.5L516.3 481L516 481.3L514 482.6L513.2 483L512 483.6L510 484.5L509 485L508 485.4L506 486.3L504.2 487L504 487.1L502 487.9L500 488.7L499.3 489L498 489.5L496 490.4L494.5 491L494 491.2L492 491.9L490 492.2L488 492.1L486 491.6L484.4 491L484 490.8L482 489.5L481.6 489L480 487.3L479.8 487L478.4 485L478 484.5L476.6 483L476 482.5L474 481.6L472 481.5L470 481.6L468 481.5L466.7 481L466 480.8L464 479.6L463.2 479L462 478.3L460 477.3L459.1 477L458 476.7L456 476.5L454 476.5L452 476.5L450 475.4L449.7 475L448 473.8L447.2 473L446 472.3L444 471.4L442.6 471L442 470.8L440 470.2L438 469.6L436 469.1L435.1 469L434 468.5L432 468L430 467.4L428 467.5L426 467.9L424 468.4L422 468.8L421.1 469L420 469.1L418 469.3L416 469.5L414 469.5L412 469.4L410 469.2L408.3 469L408 469L406 468.6L404 468.2L402 467.4L401.3 467L400 465.9L399.1 465L398 463.8L397.3 463L396.6 461L397.6 459L398 458.6L399.4 457L400 456.4L401.4 455L402 454.4L403.5 453L404 452.5L405.7 451L406 450.8L408 449.4L408.8 449L410 448.4L412 447.7L414 447.3L416 447.2L418 447.1L420 447L420.3 447L422 447L424 446.9L426 446.9L428 447L428.2 447L430 447.1L432 448L432.1 449L432 449.7L431.8 451L431.3 453L430.9 455L430.5 457L430.3 459L430.2 461L430.8 463L432 464.1L434 464.3L436 464.4L438 464.2L440 464.1L442 464.2L444 464.4L446 464.5L448 464.8L449.8 465L450 465L452 465.3L454 465.5L456 465.3L456.8 465L458 464.2L459 463L459.8 461L459.6 459L458.9 457L458 455L458 454.9L456.6 453L456 452.4L454 451.4L453.2 451L452 450.5L450 449.6L448.5 449L448 448.8L446 448.2L444 447.8L442 447.5L440 447.3L438 447.1L437 447L436 446.9L434 446.8L432.5 445L432.3 443L432 441.2L432 441L431.4 439L430.9 437L430.3 435L430 434L429.6 433L429 431L428.6 429L428.1 427L428 426.4L427.5 425L426.7 423L426 421.2L425.6 421L424 419.9L422 420L420 420.2L418 420.3L416 420.4L414 420.5L412 420.6L410 420.7L408 420.7L406 420.7L404 420.4L402 419.6L401.5 419L401.6 417L402 416.2L403 415L404 414L405.3 413L406 412.4L407.9 411L408 410.9L410 409.5L410.7 409L412 408.1L413.5 407L414 406.7L416 405.3L416.6 405L418 404.1L419.4 403L420 401L419.2 399L418 397.5L417.6 397L416 395.6L415.3 395L414 393.9L413 393L412 392.2L410.6 391L410 390.4L408.3 389L408 388.8L406 387.1L405.9 387L404 385.3L403.7 385L402 383.2L401.9 383L400.1 381L400 380.9L398.4 379L398 378.5L396.7 377L396 376.2L395 375L394 373.8L393.3 373L392 371.4L391.7 371L390 369L388.2 367L388 366.7L386.5 365L386 364.4L384.9 363L384 361.8L383.4 361L382.1 359L382 358.8L380.8 357L380 355.6L379.6 355L378.3 353L378 352.5L376.8 351L376 349.8L375.3 349L374.2 347L374 346.6L373.1 345L372.1 343L372 342.8L370.8 341L370 339.2L369.8 339L369.4 337L369.4 335L369.5 333L369.6 331L369.7 329L368.9 327L368 325.6L367.6 325L366.1 323L366 322.8L364.7 321L364 319.5L363.7 319L362.3 317L362 316L361.4 315L360.1 313L360 312.5L359.2 311L358.1 309L358 308.1L357.5 307L356.2 305L356 303.5L355.9 303L354.7 301L354 299L354 298.8L353.1 297L352 295L350.6 293L350 291.8L349.8 291L348 289.2L347.9 289L346 287.2L345.9 287L344 285.6L343.7 285L342 284.2L341 283L340 282.8L338 281.1L337.9 281L336 279.7L335.4 279L334 278.4L332.3 277L332 276.9L330 275.2L329.9 275L328.2 273L328 272.7L327.1 271L326 269.1L326 269L325 267L324 265L323.2 263L322.7 261L322.5 259L322.4 257L322.4 255L322.4 253L322.4 251L322.5 249L322.7 247L323.3 245L324 243L324.9 241L325.7 239L326 238L326.4 237L326.9 235L327.4 233L328 231L328 230.9L328.5 229L329.1 227L329.6 225L329.8 223L329.9 221L329.9 219L329.9 217L329.9 215L329.8 213L329.1 211L328.2 209L328 208.7L327.4 207L326.4 205L326 204.2L325.7 203L324.8 201L324 199.3L323.9 199L322.8 197L322 195.9L321.5 195L320.1 193L320 192.8L318.8 191L318 189.9L317.4 189L316 187.2L315.8 187L314.2 185L314 184.8L312.5 183L312 182.4L310.8 181L310 180.1L309 179L308 177.9L307.1 177L306 175.9L305.1 175L304 173.9L303.1 173L302 172L300.9 171L300 170.3L298 169L297.9 169L296 168L294 167L292 166L290 165L288 164.1L286 163.3L285.3 163L284 162.5L282 161.8L280 161L279.9 161L278 160.3L276 159.7L274 159.4L272 159.4L270 159.7L268 160L266 160.3L264 160.6L262 161L261.9 161L260 161.3L258 161.6L256 161.7L254 161.7L252 161.7L250 161.7L248 161.7L246 161.7L244 161.7L242 161.7L240 161.7L238 161.5L236 161.2L235.2 161L234 160.7L232 160L230 159.5L228.4 159L228 158.9L226 158.2L224 157.5L222.7 157L222 156.7L220 155.5L219.2 155L218 154.2L216.1 153L216 152.9L214 151.5L213.2 151L212 150.2L210.2 149L210 148.8L208 147.1L207.9 147L206.1 145L206 144.9L204.5 143L204 142.3L203 141L202 139.7L201.5 139L200 137.2L199.9 137L198.4 135L198 134.5L197.1 133L196 131.2L195.9 131L194.8 129L194 127.6L193.7 127L192.6 125L192 124L191.5 123L190.4 121L190 120.3L189.4 119L188.4 117L188 116.2L187.5 115L186.6 113L186 111.7L185.7 111L184.8 109L184 107.3L183.9 107L183.1 105L182.2 103L182 102.6L181.5 101L180.8 99L180.2 97L180 96.5L179.6 95L179 93L178.4 91L178 89.7L177.8 89L177.5 87ZM593.5 385L592 386.1L590 386.9L588.4 387L588 387.8L586 388.9L585.6 389L585.3 391L584.7 393L584.1 395L584 395.6L583.9 397L582.8 399L582 401L582 401.4L581 403L582 404.2L582.1 405L584 405.5L585.1 407L586 407.1L588 407.8L590 408.7L590.4 409L592 409.5L594 410.7L594.4 411L596 412.2L597 413L598 413.8L599.4 415L600 415.6L601.9 417L602 417.1L604 417.8L606 417.8L608 417.5L610 417.1L610.7 417L612 416.7L614 415.9L615.3 415L616 414.5L618 413L620 411.5L620.6 411L622 409.2L622.1 409L623.2 407L623.8 405L624 403.9L624.3 403L624.2 401L624 400.3L623.8 399L623.2 397L622.5 395L622 394.1L621.5 393L620 391.3L619.7 391L618 389.5L617.4 389L616 387.9L614.8 387L614 386.6L612 385.8L610 385.1L609.6 385L608 384.6L606 384.1L604 383.7L602 383.3L600 383.3L598 383.7L596 384.4L594 385ZM330 352.8L332 351.8L334 351.4L336 351.8L338 352.6L339.2 353L340 353.3L342 353.9L344 354L346 353.9L348 353.7L350 353.7L351.3 355L351.8 357L352 358.2L352.1 359L352.1 361L352 361.9L351.9 363L351.3 365L350.4 367L350 367.8L349.2 369L348.1 371L348 371.2L347 373L346 375L346 375.1L344.9 377L344 378.3L342.5 379L342 379.1L340.8 379L340 378.9L338 378.4L336 377.9L334 377.2L333.7 377L332 375.7L331.4 375L330 373.3L329.8 373L328.6 371L328 370L327.5 369L326.8 367L326.3 365L326 363.3L326 363L325.8 361L325.7 359L325.7 357L326 356.1L326.8 355L328 354.2L329.7 353Z"/>
<path fill="#ff7000" d="M202 87L204 87L206 87L208 87L210 87L212 87L214 87L216 87L218 87L220 87L222 87L224 87L226 87L228 87L230 87L232 87L234 87L236 87L238 87L240 87L242 87L244 87L246 87L248 87L250 87L252 87L254 87L256 87L258 87L260 87L262 87L264 87L266 87L268 87L270 87L272 87L274 87L276 87L278 87L280 87L282 87L284 87L286 87L288 87L290 87L292 87L294 87L296 87L298 87L300 87L302 87L304 87L306 87L308 87L310 87L312 87L314 87L316 87L318 87L320 87L322 87L324 87L326 87L328 87L330 87L332 87L334 87L336 87L338 87L340 87L342 87L344 87L346 87L348 87L350 87L352 87L354 87L356 87L358 87L360 87L362 87L364 87L366 87L368 87L370 87L372 87L374 87L376 87L378 87L380 87L382 87L384 87L386 87L388 87L390 87L392 87L394 87L396 87L398 87L400 87L402 87L404 87L406 87L408 87L410 87L412 87L414 87L416 87L418 87L420 87L422 87L424 87L426 87L428 87L430 87L432 87L434 87L436 87L438 87L440 87L442 87L444 87L446 87L448 87L450 87L452 87L454 87L456 87L458 87L460 87L462 87L464 87L466 87L468 87L470 87L472 87L474 87L476 87L478 87L480 87L482 87L484 87L486 87L488 87L490 87L492 87L494 87L496 87L498 87L500 87L502 87L504 87L506 87L508 87L510 87L512 87L514 87L516 87L518 87L520 87L522 87L524 87L526 87L528 87L530 87L532 87L534 87L536 87L538 87L540 87L542 87L544 87L546 87L548 87L550 87L552 87L554 87L556 87L558 87L560 87L562 87L564 87L566 87L568 87L570 87L572 87L574 87L576 87L578 87L580 87L582 87L584 87L586 87L588 87L590 87L592 87L594 87L596 87L598 87L600 87L602 87L604 87L606 87L608 87L610 87L612 87L614 87L616 87L618 87L620 87L622 87L624 87L626 87L628 87L630 87L632 87L634 87L636 87L638 87L640 87L642 87L644 87L646 87L648 87L650 87L650 89L650 91L650 93L650 95L650 97L650 99L650 101L650 103L650 105L650 107L650 109L650 111L650 113L650 115L650 117L650 119L650 121L650 123L650 125L650 127L650 129L650 131L650 133L650 135L650 137L650 139L650 141L650 143L650 145L650 147L650 149L650 151L650 153L650 155L650 157L650 159L650 161L650 163L650 165L650 167L650 169L650 171L650 173L650 175L650 177L650 179L650 181L650 183L650 185L650 187L650 189L650 191L650 193L650 195L650 197L650 199L650 201L650 203L650 205L650 207L650 209L650 211L650 213L650 215L650 217L650 219L650 221L650 223L650 225L650 227L650 229L650 231L650 233L650 235L650 237L650 239L650 241L650 243L650 245L650 247L650 249L650 251L650 253L650 255L650 257L650 259L650 261L650 263L650 265L650 267L650 269L650 271L650 273L650 275L650 277L650 279L650 281L650 283L650 285L650 287L650 289L650 291L650 293L650 295L650 297L650 299L650 301L650 303L650 305L650 307L650 309L650 311L650 313L650 315L650 317L650 319L650 321L650 323L650 325L650 327L650 329L650 331L650 333L650 335L650 337L650 339L650 341L650 343L650 345L650 347L650 349L650 351L650 353L650 355L650 357L650 359L650 361L650 363L650 365L650 367L650 369L650 371L650 373L650 375L650 377L650 379L650 381L650 383L650 385L650 385.7L649.9 385L649.6 383L649.3 381L649 379L648.7 377L648.4 375L648.2 373L648 371L648 370.9L647.7 369L647.3 367L646.4 365L646 364.6L644 364.2L642 364.4L640 364.6L638 364.8L636 364.9L635.2 365L634 365.1L632 365.3L630 365.4L628 365.5L626 365.6L624 365.8L622 365.9L620 366L618 366.1L616 366.2L614 366.3L612 366.3L610 366.2L608 366L606 365.8L604 365.6L602 365.4L600 365.2L598 365L597.8 365L596 364.8L594 364.6L592 364.4L590 363.8L588 363.1L587.6 363L586 362.4L584 361.8L582 361.3L580.8 361L580 360.7L578 360.1L576 359.6L574 359.5L572 359.7L570 360.3L568.1 361L568 361L566 361.6L564 362.4L562.4 363L562 363.2L560 363.9L558 364.8L557.7 365L556 366.9L555.9 367L554.5 369L554 369.7L553.2 371L552 372.7L551.8 373L550.6 375L550 376L549.5 377L548.5 379L548 380.1L547.6 381L547.2 383L547.3 385L547.8 387L548 388L548.2 389L548.3 391L548.4 393L548.7 395L549.5 397L550 397.9L550.6 399L551.7 401L552 401.9L552.5 403L553.2 405L553.8 407L554 408.4L554.3 409L555 411L555.3 413L554 413.6L553.2 415L552 415.5L551.2 417L550 418.1L549.7 419L548.7 421L548 422.2L547.7 423L546.8 425L546 426.4L545.8 427L545 429L544.3 431L544.3 433L545.7 435L546 435.2L548 436.6L548.6 437L550 438L551.3 439L552 439.5L554 441L556 442.6L556.4 443L558 444.3L558.9 445L560 445.9L561.3 447L562 447.6L563.6 449L564 449.4L565.1 451L566 452.3L566.3 453L567.2 455L568 456.7L568.1 457L568.9 459L569.7 461L570 461.8L570.4 463L571 465L571.4 467L570 467.9L568 467.8L566 467.6L564 467.5L562 467.3L560.6 467L560 466.7L558 465.4L557.3 465L556 463.9L554.3 463L554 462.8L552 461.6L550 461.1L548.8 461L548 460.7L546 460.5L544 460.6L542 460.8L540 461L540 461.1L538 461.4L536 461.9L535.9 461L534 460.4L532 460.4L530 460.4L528 460.5L526 460.6L524 460.9L522.2 461L522 461L520 461.2L518.2 463L518 463L516.9 465L516 465.5L515.5 467L514 468.4L513.8 469L512 471L510 472.3L508.4 473L508 473.1L506 473.4L504 473.7L502 473.9L500 474.1L498 474.4L496 474.8L495.2 475L494 475.3L492 475.8L490 476.2L488 476.6L486 476.6L484 475.9L482.5 475L482 474.6L480 473.3L479.5 473L478 471.7L476.6 471L476 470.2L474 469.1L473.4 469L472 467.2L470.5 467L471.3 465L471.9 463L472 461.7L472.1 461L472.7 459L473.4 457L473.8 455L474 453.6L474.1 453L474 452.8L473.8 451L472.8 449L472 448.1L471.8 447L470.6 445L470 444.3L469.3 443L468 441.7L467 441L466 440.3L464 439.4L462 439L461.9 439L460 438.7L458 438.3L456 437.5L454.4 437L454 436.7L452 435.1L451.5 435L450 434.2L448.6 433L448 432.8L446.5 431L446 430.8L444.3 429L444 428.9L442.6 427L442 426.8L441 425L440 424.4L439.3 423L438 421.9L437.7 421L436.5 419L436 418.1L435.7 417L435.3 415L435.1 413L434.9 411L434.7 409L434.5 407L434 405.3L433.9 405L433.1 403L432.1 401L432 400.9L431 399L430 397.2L429.9 397L428.6 395L428 394.2L427 393L426 391.7L425.4 391L424 389.4L423.7 389L422 387.1L421.9 387L420 385L418 383L416 381L414 379L412 377L410.1 375L410 374.9L408.1 373L408 372.9L406.1 371L406 370.9L404.3 369L404 368.5L402.9 367L402 365.8L401.4 365L400 363L398.6 361L398 360.2L397.1 359L396 357.6L395.6 357L394 355L392.6 353L392 352.2L391.2 351L390 349.5L389.6 349L388 347.1L387.9 347L386.3 345L386 344.6L384.9 343L384 341.6L383.6 341L382.5 339L382.3 337L383.7 335L384 334.8L386 333.5L387.5 333L388 332.7L390 331.7L391.9 331L392 330.9L392.4 329L392.2 327L392 326.5L391.3 325L390 323.7L389.2 323L388 322.1L386.4 321L386 320.7L384 319.1L383.9 319L382 317.1L381.9 317L380 315L378.3 313L378 312.4L377.3 311L376.7 309L376.3 307L376 305.5L375.9 305L375.6 303L375.2 301L374.8 299L374.4 297L374 295.8L373.8 295L373.3 293L372.7 291L372.1 289L372 288.6L371.6 287L370.9 285L370 283.3L369.8 283L368.8 281L368 279.7L367.6 279L366.5 277L366 276.2L365.3 275L364.2 273L364 272.6L363.4 271L362.6 269L362 267.4L361.8 267L361.2 265L360.4 263L360 262L359.6 261L358.8 259L358.2 257L358 255.3L358 255L357.9 253L357.8 251L357.7 249L357.6 247L357.6 245L357.5 243L357.5 241L357.5 239L357.6 237L357.6 235L357.7 233L357.7 231L357.7 229L357.7 227L357.7 225L357.7 223L357.7 221L357.7 219L357.7 217L357.8 215L358 213.4L358.1 213L358.8 211L359.7 209L359.8 207L358 205.1L357.9 205L356.1 203L356 202.9L354.1 201L354 200.9L352 199.2L351.8 199L350 197.7L349 197L348 196.4L346 195L344 193.5L343.5 193L342 191.5L341.6 191L340 189.2L339.9 189L338.2 187L338 186.8L336.5 185L336 184.4L334.7 183L334 182.3L332.8 181L332 180.2L330.8 179L330 178.2L328.8 177L328 176.2L326.8 175L326 174.3L324.8 173L324 172.2L322.8 171L322 170.2L320.8 169L320 168.3L318.7 167L318 166.4L316.4 165L316 164.7L314 163.2L313.8 163L312 161.7L311 161L310 160.3L308.1 159L308 158.9L306 157.8L304.5 157L304 156.8L302 155.9L300 155.1L299.8 155L298 154.3L296 153.5L294.8 153L294 152.7L292 151.9L290 151.1L289.8 151L288 150.4L286 149.7L284 149.1L283.8 149L282 148.4L280 147.8L278 147.1L277.6 147L276 146.5L274 145.9L272 145.3L271 145L270 144.7L268 144.2L266 143.6L264 143.1L263.8 143L262 142.5L260 142L258 141.3L257.2 141L256 140.5L254 139.8L252 139L251.9 139L250 138.3L248 137.6L246.7 137L246 136.6L244 135.4L243.5 135L242 133.9L240.8 133L240 132.4L238.1 131L238 130.9L236 129.4L235.5 129L234 127.7L233.2 127L232 125.9L231.1 125L230 123.9L229.1 123L228 121.9L227.1 121L226 119.9L225.1 119L224 117.9L223.2 117L222 115.6L221.5 115L220 113L218.4 111L218 110.5L216.8 109L216 107.9L215.3 107L214 105.3L213.8 105L212.3 103L212 102.6L210.8 101L210 99.8L209.4 99L208.1 97L208 96.9L206.6 95L206 94.1L205.2 93L204 91.2L203.9 91L202.6 89L202 87.7L201.7 87ZM604 451.6L606 451.5L608 452.3L608.8 453L608.5 455L608 455.2L606 455.4L604.2 455L604 454.9L602.7 453Z"/>
<path fill="#ff4000" d="M222 87L224 87L226 87L228 87L230 87L232 87L234 87L236 87L238 87L240 87L242 87L244 87L246 87L248 87L250 87L252 87L254 87L256 87L258 87L260 87L262 87L264 87L266 87L268 87L270 87L272 87L274 87L276 87L278 87L280 87L282 87L284 87L286 87L288 87L290 87L292 87L294 87L296 87L298 87L300 87L302 87L304 87L306 87L308 87L310 87L312 87L314 87L316 87L318 87L320 87L322 87L324 87L326 87L328 87L330 87L332 87L334 87L336 87L338 87L340 87L342 87L344 87L346 87L348 87L350 87L352 87L354 87L356 87L358 87L360 87L362 87L364 87L366 87L368 87L370 87L372 87L374 87L376 87L378 87L380 87L382 87L384 87L386 87L388 87L390 87L392 87L394 87L396 87L398 87L400 87L402 87L404 87L406 87L408 87L410 87L412 87L414 87L416 87L418 87L420 87L422 87L424 87L426 87L428 87L430 87L432 87L434 87L436 87L438 87L440 87L442 87L444 87L446 87L448 87L450 87L452 87L454 87L456 87L458 87L460 87L462 87L464 87L466 87L468 87L470 87L472 87L474 87L476 87L478 87L480 87L482 87L484 87L486 87L488 87L490 87L492 87L494 87L496 87L498 87L500 87L502 87L504 87L506 87L508 87L510 87L512 87L514 87L516 87L518 87L520 87L522 87L524 87L526 87L528 87L530 87L532 87L534 87L536 87L538 87L540 87L542 87L544 87L546 87L548 87L550 87L552 87L554 87L556 87L558 87L560 87L562 87L564 87L566 87L568 87L570 87L572 87L574 87L576 87L578 87L580 87L582 87L584 87L586 87L588 87L590 87L592 87L594 87L596 87L598 87L600 87L602 87L604 87L606 87L608 87L610 87L612 87L614 87L616 87L618 87L620 87L622 87L624 87L626 87L628 87L630 87L632 87L634 87L636 87L638 87L640 87L642 87L644 87L646 87L648 87L650 87L650 89L650 91L650 93L650 95L650 97L650 99L650 101L650 103L650 105L650 107L650 109L650 111L650 113L650 115L650 117L650 119L650 121L650 123L650 125L650 127L650 129L650 131L650 133L650 135L650 137L650 139L650 141L650 143L650 145L650 147L650 149L650 151L650 153L650 155L650 157L650 159L650 161L650 163L650 165L650 167L650 169L650 171L650 173L650 175L650 177L650 179L650 181L650 183L650 185L650 187L650 189L650 191L650 193L650 195L650 197L650 199L650 201L650 203L650 205L650 207L650 209L650 211L650 213L650 215L650 217L650 219L650 221L650 223L650 225L650 227L650 229L650 231L650 233L650 235L650 237L650 239L650 241L650 243L650 245L650 247L650 249L650 251L650 253L650 255L650 257L650 259L650 261L650 263L650 265L650 267L650 269L650 271L650 273L650 275L650 277L650 279L650 281L650 283L650 285L650 287L650 289L650 291L650 293L650 295L650 297L650 299L650 301L650 303L650 305L650 307L650 309L650 311L650 313L650 315L650 317L650 319L650 321L650 323L650 325L650 327L650 329L650 331L650 333L650 335L650 337L650 339L650 339.8L649.8 341L649.5 343L649 345L648.4 347L648 348L647.2 349L646 350.3L644 350.9L643.4 351L642 351.2L640 351.6L638 351.9L636 352.2L634 352.5L632 352.8L630.1 353L630 353L628 353.2L626 353.3L624 353.4L622 353.5L620 353.6L618 353.7L616 353.9L614 353.9L612 353.9L610 353.8L608 353.4L606 353.1L605.5 353L604 352.7L602 352.4L600 352L598 351.7L596 351.3L594.6 351L594 350.9L592 350.5L590 350L588 349.4L586.1 349L586 349L584 348.5L582 348.1L580 347.7L578 347.3L577.2 347L576 346.6L574 345.3L573.7 345L572 343.4L571.5 343L570 341.8L568.4 341L568 340.8L566 340L564 339.4L562 339L560 339.5L558.5 341L558 341.8L557.3 343L556.1 345L556 345.2L554.8 347L554 347.9L553.3 349L552 350.6L551.8 351L550.3 353L550 353.4L548.6 355L548 355.6L546 356.2L544.1 355L544 355L542 353.5L540.4 353L540 352.8L539.7 353L538.8 355L538.3 357L538 358.3L537.9 359L537.7 361L538 363L538.9 365L539.8 367L540 368.1L540.2 369L540 369.9L539.8 371L539.2 373L538.7 375L538.2 377L538 377.7L537.7 379L537.2 381L536.7 383L536.3 385L536.1 387L536 389L536 389.8L535.9 391L535.9 393L535.8 395L535.7 397L535.7 399L535.5 401L535.2 403L534.9 405L534.6 407L534.5 409L534.5 411L534.6 413L534.5 415L534.2 417L534 419L533.8 421L533.6 423L533.4 425L532.9 427L532.2 429L532 429.4L531.1 431L530 432.7L529.8 433L528.4 435L528 436L527.3 437L526.5 439L526 440.9L525.9 441L524.1 443L524 443L522 443L520.9 443L520 443L519.9 443L518 443.1L516 443.5L514 444L512 444.6L510 445L509.9 445L508 445.1L506.6 445L506 445L504 444.7L502 444.4L500 444.1L498 443.6L496.6 443L496 442.6L494 441.2L493.8 441L492 439.5L491.3 439L490 438L488.4 437L488 436.8L486 435.6L484.2 435L484 434.9L482 433.8L480 433.7L478 434.7L476 435L474 434.3L472.3 433L472 432.8L470.3 431L470 430.7L468.4 429L468 428.6L466.3 427L466 426.8L464 425.1L463.9 425L462 423.4L461.5 423L460 421.9L458.8 421L458 420.5L456 419.1L455.8 419L454 417.8L452.8 417L452 416.4L450 415L448 413.3L447.7 413L446 411L444.4 409L444 408.4L443.2 407L442.6 405L442.5 403L442.6 401L442 399.7L441.6 399L440 398.1L439.1 397L438 396L437.4 395L436.4 393L436 392.2L435.5 391L434.6 389L434 387.6L433.7 387L432.7 385L432 383.7L431.5 383L430.2 381L430 380.7L428.9 379L428 377.7L427.5 377L426.2 375L426 374.7L424.8 373L424 371.9L423.3 371L422 369.2L421.9 369L420.5 367L420 366.2L419.2 365L418.4 363L418 361.8L417.8 361L417.3 359L416.7 357L416.1 355L416 354.7L415 353L414 351.9L413.1 351L412 350.1L410.6 349L410 348.5L408.1 347L408 346.9L406 345.7L404.1 345L404 345L402 344.4L400 343.8L398 343.1L397.7 343L396 342.3L394 341.1L393.9 341L392.8 339L394 337.7L394.8 337L396 336.6L398 335.9L400 335.1L400.2 335L401.2 333L400.7 331L400 329.5L399.7 329L399.1 327L399.1 325L399.2 323L398.9 321L398.5 319L398.1 317L398 316.6L397.7 315L397.3 313L397.3 311L397.4 309L397.5 307L397.6 305L397.9 303L398 302.1L398.2 301L398.7 299L399.2 297L399.7 295L400 293.7L400.2 293L400.8 291L401.3 289L401.8 287L402 285.7L402.1 285L402.5 283L402.9 281L403.2 279L403.2 277L402.9 275L402.6 273L402.3 271L402 269.3L401.9 269L401.4 267L400.5 265L400 263.8L399.7 263L398.6 261L398 260L397.4 259L396 258L395.3 257L394 256.3L392.9 255L392 254.4L390.8 253L390 252.3L389 251L388 249.8L387.4 249L386 247.1L386 247L384.6 245L384 243.7L383.7 243L383.2 241L382.9 239L382.6 237L382.3 235L382 233L382 232.9L381.7 231L381.6 229L382 227L382 226.9L382.9 225L383.9 223L384 222.7L385.1 221L385.9 219L386 218.7L386.9 217L387.8 215L388 213.7L388.4 213L388.9 211L388.4 209L388 207.2L388 207L387.4 205L386.3 203L386 202.7L385.3 201L384 199.1L384 199L382.7 197L382 196.3L380.7 195L380 194.4L378 193.2L377.5 193L376 192.2L374 191.2L373.5 191L372 190.2L370 189.2L369.6 189L368 188.2L366 187.2L365.6 187L364 186.2L362 185.2L361.6 185L360 184.2L358 183.1L357.8 183L356 181.9L354.6 181L354 180.6L352 179.2L351.8 179L350 177.7L349 177L348 176.3L346.4 175L346 174.7L344.1 173L344 172.9L342 171.2L341.8 171L340 169.4L339.5 169L338 167.7L337.2 167L336 166L334.8 165L334 164.3L332.3 163L332 162.7L330 161.2L329.7 161L328 159.7L327.1 159L326 158.2L324.4 157L324 156.7L322 155.3L321.5 155L320 154L318.2 153L318 152.9L316 151.7L314.6 151L314 150.7L312 149.5L310.9 149L310 148.4L308 147.4L307.2 147L306 146.3L304 145.4L303 145L302 144.5L300 143.6L298.6 143L298 142.7L296 141.8L294.1 141L294 140.9L292 140L290 139.2L289.5 139L288 138.3L286 137.5L284.6 137L284 136.8L282 135.9L280 135.2L279.6 135L278 134.3L276 133.5L274.9 133L274 132.6L272 131.4L271.3 131L270 130.1L268.3 129L268 128.8L266 127.5L265.3 127L264 126.1L262.3 125L262 124.8L260 123.5L259.2 123L258 122.2L256.3 121L256 120.8L254 119.2L253.8 119L252 117.5L251.5 117L250 115.7L249.2 115L248 114L246.9 113L246 112.2L244.6 111L244 110.5L242.3 109L242 108.8L240.1 107L240 106.9L238.1 105L238 104.9L236.1 103L236 102.9L234.1 101L234 100.9L232.1 99L232 98.9L230.2 97L230 96.8L228.2 95L228 94.8L226.2 93L226 92.8L224.2 91L224 90.7L222.4 89L222 88.4L221.1 87ZM519.4 357L518 357.3L516 358.1L515 359L514.2 361L514.1 363L514 364.5L514 365L513.9 367L514 369L514 369.2L514.5 371L516 371.8L518 372.1L520 371.9L522 371.2L522.4 371L524 370L525.1 369L526 368.1L526.9 367L528 365L528.5 363L528.1 361L528 360.8L526.9 359L526 357.5L525 357L524 356.6L522 356.6L520 356.9Z"/>
<path fill="#ff0000" d="M246 87L248 87L250 87L252 87L254 87L256 87L258 87L260 87L262 87L264 87L266 87L268 87L270 87L272 87L274 87L276 87L278 87L280 87L282 87L284 87L286 87L288 87L290 87L292 87L294 87L296 87L298 87L300 87L302 87L304 87L306 87L308 87L310 87L312 87L314 87L316 87L318 87L320 87L322 87L324 87L326 87L328 87L330 87L332 87L334 87L336 87L338 87L340 87L342 87L344 87L346 87L348 87L350 87L352 87L354 87L356 87L358 87L360 87L362 87L364 87L366 87L368 87L370 87L372 87L374 87L376 87L378 87L380 87L382 87L384 87L386 87L388 87L390 87L392 87L394 87L396 87L398 87L400 87L402 87L404 87L406 87L408 87L410 87L412 87L414 87L416 87L418 87L420 87L422 87L424 87L426 87L428 87L430 87L432 87L434 87L436 87L438 87L440 87L442 87L444 87L446 87L448 87L450 87L452 87L454 87L456 87L458 87L460 87L462 87L464 87L466 87L468 87L470 87L472 87L474 87L476 87L478 87L480 87L482 87L484 87L486 87L488 87L490 87L492 87L494 87L496 87L498 87L500 87L502 87L504 87L506 87L508 87L510 87L512 87L514 87L516 87L518 87L520 87L522 87L524 87L526 87L528 87L530 87L532 87L534 87L536 87L538 87L540 87L542 87L544 87L546 87L548 87L550 87L552 87L554 87L556 87L558 87L560 87L562 87L564 87L566 87L568 87L570 87L572 87L574 87L576 87L578 87L580 87L582 87L584 87L586 87L588 87L590 87L592 87L594 87L596 87L598 87L600 87L602 87L604 87L606 87L608 87L610 87L612 87L614 87L616 87L618 87L620 87L622 87L624 87L626 87L628 87L630 87L632 87L634 87L636 87L638 89L640 89L642 91L644 93L646 95L648 97L650 99L650 101L650 103L650 105L650 107L650 109L650 111L650 113L650 115L650 117L650 119L650 121L650 123L650 125L650 127L650 129L650 131L650 133L650 135L650 137L650 139L650 141L650 143L650 145L650 147L650 149L650 151L650 153L650 155L650 157L650 159L650 161L650 163L650 165L650 167L650 169L650 171L650 173L650 175L650 177L650 179L650 181L650 183L650 185L650 187L650 189L650 191L650 193L650 195L650 197L650 199L650 201L650 203L650 205L650 207L650 209L650 211L650 213L650 215L650 217L650 219L650 221L650 223L650 225L650 227L650 229L650 231L650 233L650 235L650 237L650 239L650 241L650 243L650 244.7L650 245L649.9 247L649.8 249L649.7 251L649.6 253L649.5 255L649.4 257L649.3 259L649.2 261L649.2 263L649.1 265L649 267L648.9 269L648.8 271L648.8 273L648.7 275L648.6 277L648.6 279L648.5 281L648.4 283L648.4 285L648.3 287L648.2 289L648.2 291L648.1 293L648 295L648 296.7L648 297L647.9 299L647.8 301L647.8 303L647.7 305L647.6 307L647.6 309L647.5 311L647.5 313L647.4 315L647.4 317L647.3 319L647.3 321L647.2 323L647.1 325L647.1 327L647 329L646.9 331L646.8 333L646.6 335L646.2 337L646 337.6L644.3 339L644 339.2L642 339.7L640 340.2L638 340.6L636 341L634 341.4L632 341.8L630 342.2L628 342.5L626 342.7L624 342.8L622 342.9L620.5 343L620 343L618 343.2L616 343.3L614 343.3L612 343.2L610.6 343L610 342.9L608 342.4L606 341.8L604 341.1L603.6 341L602 340.5L600 339.9L598 339.1L597.6 339L596 338.4L594 337.5L592.8 337L592 336.5L590 335.6L588.1 335L588 334.9L586 334.4L584 333.9L582 333.5L580 333.1L579.1 333L578 332.7L576 332.3L574 331.9L572 331.6L570 331.4L568 331.4L566 331.3L564 331.3L562 331.3L560 331.3L558 331.4L556 331.6L554 332.4L553 333L552 333.5L550.1 335L550 335.1L548 336.7L547.4 337L546 338.5L544 338.9L542 337.9L540 337.6L538 338L536 339L535.9 339L534 339.9L532.1 341L532 341L530 342L528.2 343L528 343.1L526 344L524.2 345L524 345.1L522 345.7L520 346.3L518 346.9L517.6 347L516 347.3L514 347.7L512 348.1L510 348.5L508 348.9L507.7 349L506 349.6L504.1 351L504 351.1L503.4 353L503.2 355L503.2 357L503.1 359L503 361L503 363L502.9 365L502.9 367L502.8 369L502.8 371L502.7 373L502.7 375L502.8 377L504 379L506 379.6L508 379.8L510 379.8L512 379.8L514 379.8L516 380L518 380.9L518.1 381L518 382.7L518 383L517.4 385L516.8 387L516.3 389L516 390.4L515.8 391L515.1 393L514.5 395L514 397L514 397.2L513.4 399L512.6 401L512 403L512 403.1L510.9 405L510 406.3L509.4 407L508 407.4L506 408.4L504.4 409L504 409L502 409.2L500.7 409L500 408.9L498 408.2L496 407.4L495 407L494 406.5L492 405.6L490.9 405L490 404.4L488 403.1L487.8 403L486 401.7L484.8 401L484 400.4L482 399.3L480 399L478 399.4L476 400.2L474.4 401L474 401.1L472 401.7L470 402.1L468 401.9L466.6 401L466 400.4L465.2 399L464.7 397L464.4 395L464.4 393L465.2 391L466 390.1L468 389.4L469.5 389L470 388.7L471.7 387L471.1 385L470 383.1L469.9 383L468.6 381L468 380.2L467.2 379L466 377.3L465.8 377L464.1 375L464 374.9L462 374L460 373.6L458 373.1L457.5 373L456 372.7L454 372.2L452 371.8L450 371.4L448 371.1L447.2 371L446 370.8L444 369L442.5 367L442 366.5L441.1 365L440 363.4L439.8 363L438.8 361L438 359.2L437.9 359L437.3 357L436.4 355L436 354.2L435.5 353L434.7 351L434 349.7L433.7 349L432.8 347L432 345.9L430.8 345L430 344.7L428 344.1L426 343.5L424.9 343L424 342.6L422 341.7L420.7 341L420 340.6L418 339.3L417.6 339L416 337.4L415.6 337L414.3 335L414 334.4L413.3 333L412.4 331L412 330L411.6 329L411.1 327L411.6 325L412 324.7L414 323.7L415.9 323L416 323L418 322.2L420 321.4L421.4 321L422 320.7L424 320.4L426 320.4L428 320.5L430 320.8L430.8 321L432 321.5L434 323L434 323.2L436 324.9L438 324L439.4 323L440 322.9L442 322.1L444 321.5L446 321L446.1 321L448 320.6L450 320.3L452 320L454 319.5L456 319.1L456.7 319L458 318.7L460 318L462 317.3L462.8 317L464 316.3L465.7 315L466 314.6L466.7 313L467.4 311L467.7 309L467.7 307L467.4 305L466.9 303L466.2 301L466 300.4L465.3 299L464 297L462.6 295L462 294.1L461 293L460 291.7L459 291L458 289.7L456.6 289L456 287.9L454.8 287L454.6 285L455.5 283L456 282.4L456.3 281L457 279L457.4 277L457.3 275L456.7 273L456 271L456 270.9L455 269L454 267.4L453.7 267L452 265.2L451.8 265L450 263L448 261.1L447.9 261L446 259.4L445.5 259L444 257.8L443.1 257L442 255.9L441.1 255L440 253.8L439.3 253L438 251.7L437.4 251L436 249.6L435.4 249L434 247.8L432.8 247L432 246.6L430 245.7L428 245L426 244.2L424 243.4L422.9 243L422 242.5L420 241.7L418 241.1L417.2 241L416 240.4L414 239.2L413.6 239L412 237.4L411.7 237L410 235L409.3 233L408.3 231L408 230.5L407.6 229L406.9 227L406.6 225L406.8 223L407.1 221L407.4 219L407.6 217L407.7 215L407.6 213L407.2 211L406.7 209L406.4 207L406 205L406 204.9L405.6 203L404.9 201L404 199.4L403.8 199L402.6 197L402 196L401.4 195L400 193L398.3 191L398 190.7L396.3 189L396 188.7L394.3 187L394 186.7L392.2 185L392 184.8L390 183L388 181.3L387.6 181L386 179.7L385.1 179L384 178.2L382.2 177L382 176.9L380 175.7L378.8 175L378 174.6L376 173.4L375.3 173L374 172.3L372 171.1L371.9 171L370 169.7L369 169L368 168.3L366.3 167L366 166.8L364 165.3L363.6 165L362 163.8L361 163L360 162.1L358.7 161L358 160.3L356.6 159L356 158.5L354.3 157L354 156.7L352 155L350 153.4L349.5 153L348 151.9L346.9 151L346 150.3L344.4 149L344 148.7L342 147.2L341.8 147L340 145.7L339 145L338 144.3L336.2 143L336 142.8L334 141.4L333.5 141L332 139.9L330.7 139L330 138.5L328 137.2L327.7 137L326 135.9L324.5 135L324 134.7L322 133.4L321.3 133L320 132.2L318.1 131L318 130.9L316 129.5L315.2 129L314 128.1L312.4 127L312 126.7L310 125.3L309.6 125L308 123.9L306.8 123L306 122.3L304.4 121L304 120.7L302 119L300 117.4L299.5 117L298 115.8L296.8 115L296 114.5L294 113.2L293.7 113L292 111.9L290.6 111L290 110.6L288 109.5L286.7 109L286 108.7L284 108.2L282 107.8L280 107.4L278.4 107L278 106.9L276 106.2L274 105.2L273.6 105L272 103.9L270.6 103L270 102.6L268 101.2L267.7 101L266 99.8L264.9 99L264 98.3L262.1 97L262 96.9L260 95.5L259.3 95L258 94.2L256 93.1L255.9 93L254 92.1L252 91.2L251.6 91L250 90.2L248 89.3L247.4 89L246 88.1L244.3 87Z"/>
<path fill="#cc0033" d="M308 87L310 87L312 87L314 87L316 87L318 87L320 87L322 87L324 87L326 87L328 87L330 87L332 87L334 87L336 87L338 87L340 87L342 87L344 87L346 87L348 87L350 87L352 87L354 87L356 87L358 87L360 87L362 87L364 87L366 87L368 87L370 87L372 87L374 87L376 87L378 87L380 87L382 87L384 87L386 87L388 87L390 87L392 87L394 87L396 87L398 87L400 87L402 87L404 87L406 87L408 87L410 87L412 87L414 87L416 87L418 87L420 87L422 87L424 87L426 87L428 87L430 87L432 87L434 87L436 87L438 87L440 87L442 87L444 87L446 87L448 87L450 87L452 87L454 87L456 87L458 87L460 87L462 87L464 87L466 87L468 87L470 87L472 87L474 87L476 87L478 87L480 87L482 87L484 87L486 87L488 87L490 87L492 87L494 87L496 87L498 87L500 87L502 87L504 87L506 87L508 87L510 87L512 87L514 87L516 87L518 87L520 87L522 87L524 87L526 87L528 87L530 87L532 87L534 87L536 87L537.1 87L538 88.1L538.4 89L539.3 91L539.9 93L540 93.3L540.6 95L541.4 97L542 98L542.9 99L544 100L545.6 101L546 101.2L548 102.4L549.1 103L550 103.5L552 104.6L552.7 105L554 105.7L556 106.9L556.3 107L558 108.2L559.5 109L560 109.6L562 110.9L562.3 111L564 112.5L565.7 113L566 113.5L568 114.9L568.9 115L570 116.5L571.7 117L572 117.7L574 119L576 119L578 119L578 121L580 123L582 125L582 127L584 129L584 131L586 133L584 133L582 133.3L582 135L581.3 137L580.1 139L580 139L579.4 141L578.6 143L578 145L578 145.2L577.8 147L577.6 149L577.5 151L577.4 153L577.4 155L577.6 157L577.9 159L578 161L578 163L578 163.1L578.1 165L578.3 167L578.5 169L578.9 171L579.7 173L580 173.5L581.2 175L582 175.8L583.3 177L584 177.6L585.9 179L586 179.1L588 179.7L590 179.6L592 179.1L592.2 179L594 177.6L594.4 177L594.8 175L594.7 173L594.5 171L594.3 169L594.1 167L594 166.1L593.8 165L593.5 163L594 161.5L594.1 161L595.2 159L596 157.7L596.4 157L597.5 155L598 153.6L598.3 153L598.5 151L598.1 149L598 148.6L597.5 147L596.8 145L596 143L594.8 141L594 139.1L593.7 139L592.3 137L592 135.1L590.8 135L590 133L588 133L586 133L588 131L590 129L590 127L592 125L594 123L596 121L598 121L600 120.6L602 119.6L602.7 119L604 119L606 118.6L608 117.8L610 117.2L610.4 117L612 116.8L614 116.4L616 116.5L618 117L620 117.9L622 118.9L622.2 119L624 119.9L626 120.9L626.2 121L628 121.9L630 123L632 124.4L632.9 125L634 125.9L635.5 127L636 127.4L638 128.8L638.2 129L640 130.4L640.9 131L642 131.8L643.7 133L644 133.3L646 134.8L646.3 135L648 136.6L648.5 137L649.4 139L649.1 141L648.9 143L648.7 145L648.5 147L648.4 149L648.2 151L648.1 153L648 154.5L648 155L647.8 157L647.6 159L647.5 161L647.4 163L647.2 165L647.1 167L647 169L646.9 171L646.8 173L646.7 175L646.6 177L646.4 179L646.4 181L646.3 183L646.2 185L646.1 187L646 188.2L645.9 189L645.8 191L645.7 193L645.5 195L645.4 197L645.3 199L645.2 201L645 203L644.9 205L644.8 207L644.6 209L644.5 211L644.4 213L644.3 215L644.2 217L644 219L644 219.7L643.9 221L643.8 223L643.6 225L643.5 227L643.3 229L643.2 231L643.1 233L642.9 235L642.8 237L642.6 239L642.5 241L642.3 243L642.2 245L642.1 247L642 248.1L641.9 249L641.8 251L641.7 253L641.5 255L641.4 257L641.3 259L641.2 261L641.1 263L641 265L640.9 267L640.8 269L640.7 271L640.6 273L640.6 275L640.5 277L640.4 279L640.3 281L640.3 283L640.2 285L640.1 287L640.1 289L640 291L640 291.2L639.9 293L639.9 295L639.8 297L639.8 299L639.7 301L639.6 303L639.6 305L639.5 307L639.4 309L639.3 311L639.2 313L639 315L638.6 317L638.1 319L638 319.5L637.5 321L636.7 323L636 324.9L636 325L635.2 327L634.4 329L634 329.8L633.3 331L632 332.1L630.4 333L630 333.1L628 333.7L626 334.2L624 334.5L622 334.9L621.2 335L620 335.2L618 335.3L616 335.3L614 335.1L613.8 335L612 333.3L611.8 333L611.1 331L610.4 329L610 327.9L609.7 327L608.6 325L608 324.2L607.2 323L606.1 321L606 320.8L605.5 319L605.1 317L604.6 315L604 313L603.3 311L602.7 309L602.3 307L602 305.6L601.9 305L601.1 303L600 301.4L599.8 301L598.2 299L598 298.8L596.5 297L596 296.4L594.7 295L594 294.3L592.5 293L592 292.5L590.1 291L590 290.9L588 289.6L586.8 289L586 288.7L584 288L582 287.6L580 287.1L579.2 287L578 286.8L576 286.5L574 286.4L572 286.4L570 286.6L568 286.7L566 286.8L564 286.5L562 285.9L560 285.3L559.3 285L558 284.7L556 283.9L554 283.1L553.8 283L552 282.4L550 281.9L548 281.5L546.1 281L546 281L544 280.3L542 279.4L541.2 279L540 278.4L538 277.3L537.3 277L536 276.3L534 275.4L532.8 275L532 274.7L530 274.1L528 273.6L526.1 273L526 273L524 271.9L522.8 271L522 270.5L520.1 269L520 268.9L518 267.3L517.6 267L516 265.9L514.6 265L514 264.7L512 263.7L510.5 263L510 262.8L508 261.9L506 261L504 260.1L502.1 259L502 258.9L500 257.5L499.4 257L498 255.9L497 255L496 254.1L494.7 253L494 252.4L492.3 251L492 250.7L490 249.2L489.8 249L488 247.8L486.8 247L486 246.5L484 245.2L483.6 245L482 244L480.6 243L480 242.6L478.4 241L478 240.4L477.1 239L476 237.2L475.8 237L474 235L472 233.5L471.1 233L470 232.3L468 231.1L467.8 231L466 229.9L464.8 229L464 228.3L462.7 227L462 226.3L460.9 225L460 224.1L459 223L458 222L457 221L456 220L454.7 219L454 218.2L452.6 217L452 216.2L451.2 215L450 213.4L449.8 213L448.2 211L448 210.7L446.5 209L446 208.5L444.4 207L444 206.7L442 205.4L441.4 205L440 204.3L438 203.2L437.8 203L436 201.9L434.8 201L434 200.4L432.2 199L432 198.8L430 197.1L429.8 197L428 195.4L427.6 195L426 193.4L425.6 193L424 191.4L423.6 191L422 189.4L421.6 189L420 187.4L419.6 187L418 185.3L417.7 185L416.2 183L416 182.7L415.1 181L414 179L413.1 177L412 175L411 173L410 171.5L409.7 171L408.3 169L408 168.7L406.7 167L406 166.1L405.2 165L404 163.5L403.6 163L402 161L400 159.1L399.8 159L398 158L396 157.2L395.6 157L394 156.4L392 155.5L390.7 155L390 154.6L388 153.6L386.6 153L386 152.7L384 151.7L382.5 151L382 150.7L380 149.8L378 149.1L377.8 149L376 148.2L374 147.4L372.8 147L372 146.6L370 145.4L369.2 145L368 144.1L366.5 143L366 142.6L364 141.2L363.7 141L362 139.6L361.2 139L360 137.9L358.9 137L358 136.1L356.7 135L356 134.3L354.6 133L354 132.4L352.8 131L352 130L351.3 129L350 127.2L349.9 127L348.6 125L348 124.2L347.1 123L346 121.9L344.9 121L344 120.3L342 119.2L341.7 119L340 117.9L338.3 117L338 116.8L336 115.5L335.1 115L334 114.2L332.1 113L332 112.9L330 111.5L329.2 111L328 110.1L326.2 109L326 108.8L324 107.3L323.6 107L322 105.4L321.7 105L320 103.2L319.8 103L318 101L316.2 99L316 98.7L314.6 97L314 96.3L312.9 95L312 94L311.1 93L310 91.6L309.6 91L308.5 89L308 87.2L307.9 87Z"/>
<path fill="#990066" d="M340.6 87.0L343.8 95.6L353.0 101.8L364.0 101.4L375.0 105.8L382.8 112.0L390.6 115.0L400.0 117.5L415.6 117.5L426.6 118.0L437.5 130.8L443.8 140.0L451.5 140.0L462.5 134.0L470.0 132.0L473.4 121.4L462.5 107.3L453.0 96.7L436.0 94.8L429.7 87.0Z"/>
<path fill="#990066" d="M400.0 144.0L415.6 144.0L431.0 146.4L432.8 155.8L446.9 158.9L450.0 157.5L475.0 158.8L500.0 162.5L512.5 170.0L512.5 180.0L532.5 187.5L560.0 183.8L567.5 177.5L580.0 187.5L600.0 190.0L615.0 190.0L622.5 202.5L617.5 215.0L622.5 235.0L635.0 255.0L645.0 270.0L647.5 280.0L635.0 282.5L622.5 265.0L600.0 255.0L590.0 247.5L575.0 242.5L567.5 227.5L545.0 220.0L537.5 210.0L522.5 197.5L507.5 192.5L487.5 183.8L465.0 183.8L450.0 187.5L442.0 190.0L436.0 183.9L425.0 174.5L412.5 162.0L400.0 150.3Z"/>
<path fill="#990066" d="M620.3 163.5L625.0 154.0L636.0 163.0L648.4 148.0L649.5 148.0L649.5 182.0L637.5 179.0L634.0 174.5L626.5 171.4Z"/>
</g>
<g fill="none" stroke="#000" shape-rendering="crispEdges"><path stroke-width="1" d="M650 541.8L648 541.9L646 542L644 542.3L642 542.6L640 542.9L639.5 543L638 543.3L636 543.7L634 544L632 544.3L630 544.2L628 543.8L626 543.1L625.4 543L624 542.7L622 542.4L620 542.3L618 542.3L616 542.3L614 542.3L612 542.2L610 541.9L608 541.2L607.5 541L606 540.3L604 539.4L603.1 539L602 538.5L600 537.8L598 537.2L597.5 537L596 536.6L594 536L592 535.3L591.3 535L590 534.6L588 533.9L586 533.2L584.8 533L584 532.9L582 532.7L580 532.7L578 532.8L576 532.8L574 532.9L572.7 533L572 533L570 533.2L568 533.3L566 533.4L564 533.6L562 533.7L560 533.8L558 533.8L556 533.8L554 533.6L552 533.6L550 533.8L548 534.6L547.2 535L546 535.8L544.2 537L544 537.2L542 538.6L541.4 539L540 540L538.1 541L538 541.1L536 542.2L534.4 543L534 543.2L532 544.4L531.1 545L530 545.7L528 546.9L527.9 547L526 548.3L524.8 549L524 549.5L522 550.9L521.8 551L520 552.3L518.8 553L518 553.5L516 554.4L514.4 555L514 555.2L512 556.4L511.4 557L510 558.4L509.5 559L508 560.7L507.6 561L506 562.5L504.7 563L504 563.3L502 563.5L500 563.4L498 563.4L496 563.4L494 563.5L492 563.7L490 563.8L488 563.9L486 564L484 564L482 564.1L480 564.1L478 564.1L476 564.2L474 564.3L472 564.4L470 564.4L468 564.5L466 564.5L464 564.5L462 564.5L460 564.5L458 564.4L456 564.3L454 564.3L452 564.2L450 564.2L448 564.2L446 564.1L444 564.1L442 564.1L440 564.1L438 564.1L436 564.1L434 564.2L432 564.4L430 564.6L428 564.9L426.9 565L426 565.1L424 565.4L422 565.7L420 565.9L418 566.2L416 566.4L414 566.6L412 566.7L410 566.8L408 566.7L406 566.6L404 566.5L402 566.4L400 566.3L398 566.2L396 566.1L394 566L392 566L390 566L388 566.1L386 566.4L384 566.9L383.7 567L382 567.6L380 568.3L378 568.9L377.6 569L376 569.6L374 570.3L372 570.9L371.6 571L370 571.6L368 572.3L366.1 573L366 573L364 574.1L362.5 575L362 575.3L360 576.7L359.5 577L358 578L356.5 579L356 579.3L354 580.6L353.3 581L352 581.7L350 582.4L348 582.7L346 582.7L344 582.6L342 582.5L340 582.4L338 582.3L336 582.1L334 582L332 581.9L330 581.7L328 581.4L326 581L325.9 581L324 580.7L322 580.3L320 579.9L318 579.6L316 579.2L315.2 579L314 578.8L312 578.4L310 577.9L308 577.2L307.5 577L306 576.5L304 575.8L302 575.1L301.7 575L300 574.5L298 573.9L296 573.2L295.4 573L294 572.6L292 571.9L290 571.4L288 571.1L286.3 571L286 571L285.8 571L284 571.1L282 571.2L280 571.4L278 571.5L276 571.5L274 571.4L272 571L272 571L270 570.4L268 569.8L266 569.1L265.7 569L264 568.4L262 567.5L261.4 567L260 565.5L259.7 565L258.7 563L258 561.5L257.8 561L256.5 559L256 558.5L254.3 557L254 556.8L252 555L252 554.9L251.2 553L252 551.1L252 551L252.7 549L252.2 547L252 546.8L250 545L250 545L248 544L246 543.5L244 543.4L242 543.5L240 543.3L239.3 543L238 542.6L236 541.3L235.7 541L234 539.1L233.9 539L232.3 537L232 536.5L230.8 535L230 533.6L229.6 533L228.6 531L228.1 529L228 528.4L227.7 527L227.2 525L226.8 523L226.3 521L226 519.4L225.9 519L225.4 517L224.8 515L224.3 513L224 511.6L223.8 511L223.3 509L222.8 507L222.3 505L222 503.3L221.9 503L221.5 501L221.1 499L220.7 497L220.3 495L220 493.5L219.9 493L219.3 491L218.6 489L218 487.4L217.7 487L216.3 485L216 483.8L215.7 483L215.5 481L215.5 479L215.6 477L215.7 475L215.8 473L215.8 471L215.9 469L215.8 467L215.5 465L214.9 463L214.1 461L214 460.5L212.6 459L212 457.5L210.8 457L210 455.2L209 455L208 453.1L207.1 453L206 451L206 449L206 447L206 445L206 443L206 441L206 439L206.6 437L208 435.2L208 435L208.6 433L209.9 431L210 430.9L210.5 429L211.6 427L212 426.4L212.3 425L212.8 423L213.1 421L213.1 419L212.9 417L212.6 415L212.2 413L212 411.8L211.8 411L211.4 409L211.1 407L210.9 405L210.7 403L210.5 401L210.3 399L210.1 397L210 396.4L209.8 395L209.6 393L209.4 391L209.3 389L209.3 387L209.2 385L209.1 383L208.9 381L208.6 379L208.5 377L208.4 375L208.4 373L208.4 371L208.4 369L208.4 367L208.5 365L208.6 363L208.8 361L208.9 359L209.1 357L209.2 355L209.3 353L209.3 351L209.4 349L209.5 347L209.5 345L209.6 343L209.6 341L209.7 339L209.8 337L209.9 335L209.8 333L209.7 331L209.6 329L209.5 327L209.4 325L209.3 323L209.2 321L209.1 319L209 317L208.8 315L208.6 313L208.2 311L208 310.4L207.6 309L206.8 307L206.1 305L206 304.6L205.4 303L204.7 301L204 299L204 298.9L203.3 297L202.6 295L202 293.2L201.9 293L201.1 291L200.2 289L200 288.7L198.7 287L198 286.4L196.1 285L196 284.9L194 283.7L192.8 283L192 282.6L190 281.4L189.3 281L188 280.2L186.3 279L186 278.7L184.1 277L184 276.9L182.5 275L182 274.4L181 273L180 271.4L179.7 271L178.4 269L178 268.3L177.2 267L176 265.2L175.9 265L174.6 263L174 262L173.3 261L172 259L172 258.9L170.7 257L170 256.1L169.1 255L168 253.7L167.4 253L166 251.1L165.9 251L164.6 249L164 247.9L163.5 247L162.4 245L162 244.4L161.2 243L160.1 241L160 240.8L159 239L158 237.3L157.8 237L156.5 235L156 234.3L155 233L154 231.9L153.2 231L152 229.8L150.9 229L150 228.4M650 537.9L648 537.9L646 537.9L644 538L642 538.1L640 538.3L638 538.6L636 538.9L635.6 539L634 539.3L632 539.5L630 539.5L628 539L628 539L626 538.5L624 538.1L622 537.8L620 537.7L618 537.6L616 537.5L614 537.5L612 537.4L610 537.1L609.7 537L608 536.4L606 535.6L604.7 535L604 534.7L602 534.1L600 533.5L598 533L597.9 533L596 532.5L594 532L592 531.4L590.9 531L590 530.7L588 530.2L586 529.7L584 529.4L582 529.2L580 529L578.8 529L578 529L576 529L575.1 529L574 529L572 529.1L570 529.2L568 529.3L566 529.4L564 529.6L562 529.8L560 529.9L558 530.1L556 530.1L554 530L552 530L550 530.1L548 530.6L546.8 531L546 531.4L544 532.4L542.9 533L542 533.6L540 534.9L539.7 535L538 536L536 537L536 537L534 538.1L532.5 539L532 539.3L530 540.8L529.7 541L528 542.4L527.2 543L526 543.9L524.4 545L524 545.3L522 546.6L521.2 547L520 547.8L518 548.8L517.1 549L516 549.3L514 549.5L512 549.7L510 550.6L509.5 551L508 552.7L507.8 553L506.3 555L506 555.3L504.1 557L504 557.1L502 557.8L500 558L498 558.1L496 558.1L494 558.3L492 558.4L490 558.5L488 558.5L486 558.6L484 558.6L482 558.7L480 558.7L478 558.7L476 558.7L474 558.7L472 558.7L470 558.7L468 558.7L466 558.7L464 558.6L462 558.6L460 558.6L458 558.5L456 558.4L454 558.3L452 558.3L450 558.3L448 558.3L446 558.3L444 558.3L442 558.3L440 558.3L438 558.3L436 558.3L434 558.3L432 558.3L430 558.4L428 558.6L426 558.8L424.1 559L424 559L422 559.3L420 559.5L418 559.6L416 559.7L414 559.7L412 559.7L410 559.6L408 559.5L406 559.4L404 559.3L402 559.2L400 559.1L398.3 559L398 559L396 558.9L394 558.8L392 558.7L390 558.6L388 558.5L386 558.5L384 558.6L382 558.9L381.6 559L380 559.4L378 560L376 560.7L375.1 561L374 561.4L372 562L370 562.6L368.3 563L368 563.1L366 563.5L364 563.8L362 564.2L360 564.8L359.5 565L358 565.7L356 566.9L355.9 567L354 568.2L352.7 569L352 569.4L350 570.2L348 570.6L346 570.6L344 570.5L342 570.4L340 570.3L338 570.3L336 570.3L334 570.5L332 570.7L330 570.8L328 570.8L326 570.7L324 570.3L322 570L320 569.6L318 569.3L316 569.1L314.8 569L314 569L312 569L311.8 569L310 569L309.8 569L308 568.9L306 568.5L304 568L302 567.4L300.9 567L300 566.7L298 566.2L296 565.7L294 565.3L292 565.1L290 565.1L288 565.1L286 565.1L284 565.3L282 565.4L280 565.4L278 565.3L276.1 565L276 565L274 564.5L272 563.9L270 563.2L269.3 563L268 562.6L266 561.8L264.6 561L264 560.6L262.5 559L262 558.4L261.1 557L260 555.4L259.7 555L258.2 553L258 552.3L257.7 551L257.4 549L256.4 547L256 546.7L254.2 545L254 544.9L252 543.4L251.5 543L250 541.9L248.6 541L248 540.6L246 539.7L244 539.2L243.2 539L242 538.8L240 538.2L238.2 537L238 536.8L236.6 535L236 534.1L235.4 533L234.4 531L234 529.9L233.7 529L233 527L232.5 525L232 523.3L231.9 523L231.4 521L230.9 519L230.4 517L230 515.4L229.9 515L229.4 513L228.9 511L228.5 509L228.1 507L228 506.4L227.7 505L227.3 503L226.9 501L226.5 499L226.1 497L226 496.4L225.7 495L225.3 493L224.9 491L224.5 489L224.2 487L224 485.4L223.9 485L223.7 483L223.5 481L223.3 479L223.1 477L222.9 475L222.7 473L222.5 471L222.3 469L222.1 467L222 465.6L221.9 465L221.8 463L221.7 461L221.6 459L221.6 457L221.6 455L221.6 453L221.6 451L221.6 449L221.6 447L221.6 445L221.6 443L221.6 441L221.6 439L221.5 437L221.3 435L221.1 433L221 431L221 429L221.1 427L221.3 425L221.2 423L220.9 421L220.4 419L220 417L220 417L219.6 415L219.2 413L218.7 411L218.2 409L218 408.3L217.6 407L217 405L216.4 403L216 401.4L215.9 401L215.5 399L215.2 397L214.9 395L214.7 393L214.4 391L214.3 389L214.2 387L214.1 385L214 383L214 382.8L213.9 381L213.7 379L213.4 377L213.3 375L213.2 373L213.1 371L213.1 369L213.2 367L213.3 365L213.5 363L213.7 361L214 359L214 358.5L214.2 357L214.3 355L214.5 353L214.6 351L214.7 349L214.8 347L214.9 345L215.1 343L215.4 341L215.8 339L216 338.2L216.3 337L216.8 335L217.1 333L217.3 331L217.2 329L217.2 327L217.1 325L217 323L216.9 321L216.8 319L216.9 317L217 315L217.1 313L217.2 311L217.2 309L217 307L216.7 305L216.2 303L216 302.1L215.7 301L215 299L214.3 297L214 296L213.6 295L212.9 293L212.3 291L212 290.2L211.6 289L211.2 287L210.7 285L210 283.4L209.8 283L208.2 281L208 280.8L206 279.2L205.7 279L204 277.9L202.2 277L202 276.9L200 275.8L198.5 275L198 274.7L196 273.6L195.1 273L194 272.3L192.2 271L192 270.9L190 269.1L189.9 269L188 267.2L187.8 267L186.1 265L186 264.9L184.6 263L184 262.1L183.2 261L182 259.1L182 259L180.7 257L180 255.9L179.4 255L178 253L178 253L176.4 251L176 250.6L174.5 249L174 248.5L172.6 247L172 246.4L170.8 245L170 244L169.3 243L168.1 241L168 240.8L167 239L166 237.3L165.8 237L164.6 235L164 234L163.3 233L162 231.3L161.8 231L160.1 229L160 228.9L158.4 227L158 226.6L156.6 225L156 224.3L154.8 223L154 222.1L152.9 221L152 220.1L150.5 219L150 218.7M650 534.9L648 534.8L646 534.7L644 534.6L642 534.6L640 534.5L638 534.6L636 534.7L634 534.8L632 535L630 534.9L628 534.7L626 534.3L624 534L622 533.8L620 533.5L618 533.3L616 533.1L614 533L613.9 533L612 532.9L610 532.5L608 532L606 531.3L604.9 531L604 530.8L602 530.3L600 529.9L598 529.5L596 529.1L595.6 529L594 528.6L592 528.1L590 527.6L588 527.1L587.4 527L586 526.8L584 526.5L582 526.2L580 526L578 525.9L576 525.7L574 525.6L572 525.6L570 525.6L568 525.7L566 525.9L564 526L562 526.2L560 526.5L558 526.7L556 526.8L554 526.9L552 527L551.7 527L550 527.1L548 527.5L546 528.1L544 528.9L543.8 529L542 529.8L540 530.8L539.6 531L538 531.9L536 532.8L535.6 533L534 533.8L532 535L532 535L530 536.7L529.6 537L528 538.5L527.5 539L526 540.4L525.3 541L524 542L522.6 543L522 543.4L520 544.3L518 544.7L516 544.5L514 544L512 544L510 544.4L508.3 545L508 545.1L506 546.4L505.4 547L504.3 549L504 549.5L503.2 551L502 552.4L500.9 553L500 553.4L498 553.7L496 553.8L494 553.9L492 553.9L490 554L488 554L486 554L484 554L482 554L480 554L478 554L476 554L474 554L472 554L470 554L468 554L466 553.9L464 553.8L462 553.7L460 553.7L458 553.6L456 553.5L454 553.4L452 553.3L450 553.3L448 553.3L446 553.3L444 553.3L442 553.3L440 553.3L438 553.3L436 553.3L434 553.3L432 553.3L430 553.3L428 553.4L426 553.5L424 553.7L422 553.8L420 553.9L418 553.9L416 553.9L414 553.8L412 553.7L410 553.6L408 553.5L406 553.4L404 553.3L402 553.2L400 553.1L399 553L398 553L396 552.9L394 552.8L392 552.7L390 552.6L388 552.5L386 552.4L384 552.3L382 552.3L380 552.4L378 552.6L376.4 553L376 553.1L374 553.7L372 554.2L370 554.6L368 554.9L367.3 555L366 555.2L364 555.4L362 555.7L360 555.9L358 556.2L356 556.7L355.1 557L354 557.4L352 558.4L350.4 559L350 559.2L348 559.5L346 559.6L344 559.6L342 559.7L340 559.9L338 560.1L336 560.4L334 560.6L332 560.9L331 561L330 561.1L328 561.3L326 561.2L324 561L323.6 561L322 560.8L320 560.7L318 560.7L316 560.8L314 560.9L313.4 561L312 561.1L310 561.3L308 561.3L306 561.2L305.2 561L304 560.8L302 560.3L300 559.9L298 559.7L296 559.5L294 559.4L292 559.3L290 559.2L288 559.2L286 559.2L284 559.2L282 559.1L280.9 559L280 558.9L278 558.4L276 557.9L274 557.3L272.9 557L272 556.7L270 556.1L268 555.3L267.4 555L266 554.1L264.9 553L264 552.1L263.3 551L262 549.2L261.9 549L260.2 547L260 546.8L258 545.2L257.7 545L256 543.9L254.8 543L254 542.4L252.1 541L252 540.9L250 539.3L249.6 539L248 537.8L246.5 537L246 536.7L244 535.7L242.6 535L242 534.6L240.3 533L240 532.6L239.1 531L238.3 529L238 528.1L237.6 527L237 525L236.4 523L236 521.8L235.8 521L235.2 519L234.7 517L234.1 515L234 514.5L233.6 513L233.2 511L232.8 509L232.4 507L232 505.1L232 505L231.6 503L231.2 501L230.8 499L230.4 497L230 495.1L230 495L229.6 493L229.2 491L228.8 489L228.5 487L228.2 485L228 483.1L228 483L227.8 481L227.6 479L227.4 477L227.2 475L227 473L226.8 471L226.6 469L226.4 467L226.2 465L226 463L226 462.7L225.9 461L225.9 459L225.9 457L225.9 455L225.9 453L225.9 451L225.9 449L225.9 447L225.9 445L225.9 443L225.9 441L225.9 439L225.8 437L225.8 435L226 433.4L226 433L226.6 431L227.3 429L227.6 427L227.4 425L227 423L226.6 421L226.1 419L226 418.7L225.6 417L225.1 415L224.7 413L224.2 411L224 410.5L223.6 409L222.9 407L222.2 405L222 404.6L221.4 403L220.7 401L220 399L220 398.8L219.5 397L219.1 395L218.8 393L218.5 391L218.4 389L218.4 387L218.3 385L218.3 383L218.3 381L218.3 379L218.2 377L218.1 375L218 373.7L218 373L217.9 371L217.9 369L218 367L218 366.9L218.2 365L218.4 363L218.6 361L218.9 359L219.1 357L219.4 355L219.6 353L219.7 351L219.9 349L220 347.7L220.1 347L220.4 345L220.9 343L221.5 341L222 339.3L222.1 339L222.8 337L223.4 335L224 333L224 332.9L224.4 331L224.7 329L224.8 327L224.8 325L224.8 323L224.8 321L225 319L225.2 317L225.5 315L225.7 313L225.9 311L226 309L225.9 307L225.8 305L225.5 303L225.3 301L225 299L224.7 297L224.2 295L224 294.1L223.7 293L223.1 291L222.5 289L222.1 287L222 285L222 284.9L222 283L221.6 281L220.6 279L220 278.3L218.8 277L218 276.2L216.7 275L216 274.3L214.5 273L214 272.5L212.1 271L212 271L210 269.7L208.6 269L208 268.7L206 267.8L204.4 267L204 266.8L202 265.7L200.9 265L200 264.4L198.1 263L198 262.9L196 261.1L195.8 261L194 259.3L193.7 259L192 257.5L191.6 257L190 255.4L189.7 255L188.1 253L188 252.8L186.8 251L186 250L185.3 249L184 247.4L183.6 247L182 245.3L181.7 245L180 243.3L179.7 243L178 241.2L177.8 241L176 239.2L175.8 239L174.1 237L174 236.8L172.8 235L172 233.9L171.5 233L170.1 231L170 230.9L168.5 229L168 228.3L166.9 227L166 226L165.2 225L164 223.6L163.4 223L162 221.3L161.7 221L160 219L160 219L158.2 217L158 216.8L156.4 215L156 214.5L154.6 213L154 212.4L152.6 211L152 210.4L150 209L150 209.0M650 529L648 528.9L646 528.7L644 528.6L642 528.5L640 528.4L638 528.2L636 528.1L634 528L632 527.9L630 527.7L628 527.5L626 527.2L624.1 527L624 527L622 526.7L620 526.5L618 526.2L616 526L614 525.7L612 525.5L610 525.2L609.1 525L608 524.8L606 524.4L604 524.1L602 523.7L600 523.3L598.4 523L598 522.9L596 522.6L594 522.2L592 521.8L590 521.5L588 521.2L586.5 521L586 520.9L584 520.7L582 520.4L580 520.2L578 519.9L576 519.6L574 519.3L572.3 519L572 518.9L570 518.8L568 518.8L566 519L565.3 519L564 519L562.6 519L562 519L560 518.8L558 518.7L556 518.5L554 518.3L552 518.2L550 518.5L548.7 519L548 519.4L546 520.6L545.3 521L544 521.9L542.2 523L542 523.1L540 524.4L539 525L538 525.6L536 526.7L535.4 527L534 527.8L532.1 529L532 529L530 530.7L529.7 531L528 532.6L527.6 533L526 534.6L525.6 535L524 536.5L523.3 537L522 538L520 538.7L518 538.4L516 537.7L514 537.5L512 537.8L510 538.4L508 538.9L507.8 539L506 539.7L504 540.4L502 540.9L501.7 541L500 541.6L498 542L496 542.2L494 542.4L492 542.6L490 542.9L488.8 543L488 543.2L486 543.5L484 543.8L482 544.1L480 544.3L478 544.6L476 544.8L474 544.9L472 545L471 545L470 545L468 545.1L466 545.3L464 545.4L462 545.6L460 545.8L458 546L456 546.2L454 546.3L452 546.5L450 546.6L448 546.6L446 546.7L444 546.7L442 546.7L440 546.7L438 546.7L436 546.7L434 546.7L432 546.7L430 546.7L428 546.7L426 546.6L424 546.6L422 546.5L420 546.5L418 546.4L416 546.3L414 546.2L412 546.1L410 546L408 545.8L406 545.7L404 545.6L402 545.5L400 545.4L398 545.3L396 545.2L394 545.1L392 545L392 545L390 544.9L388 544.8L386 544.7L384 544.6L382 544.5L380 544.4L378 544.3L376 544.2L374 544.2L372 544.2L370 544.3L368 544.4L366 544.5L364 544.6L362 544.8L360 544.9L359.4 545L358 545.2L356 545.4L354 545.6L352 545.8L350 546L348 546.2L346 546.4L344 546.6L342 546.9L341 547L340 547.2L338 547.5L336 547.7L334 548L332 548.3L330 548.6L328 548.9L327.1 549L326 549.2L324 549.5L322 549.7L320 549.9L318 550.1L316 550.3L314 550.5L312 550.7L310 550.9L309.4 551L308 551.2L306 551.3L304 551.5L302 551.6L300 551.6L298 551.6L296 551.6L294 551.6L292 551.5L290 551.4L288 551.3L286 551.2L285.1 551L284 550.8L282 550.4L280 549.9L278 549.3L277 549L276 548.7L274 548.1L272 547.5L270.6 547L270 546.8L268 546L266 545L266 545L264 543.9L262.5 543L262 542.7L260 541.3L259.6 541L258 539.5L257.4 539L256 537.5L255.5 537L254 535.6L253.4 535L252 533.7L251.2 533L250 531.7L249.4 531L248.1 529L248 528.7L247.3 527L246.6 525L246 523L246 523L245.3 521L244.5 519L244 517.8L243.7 517L242.9 515L242.4 513L242.3 511L242.6 509L242.9 507L243.3 505L243.6 503L243.8 501L244 499.7L244.1 499L244.3 497L244.5 495L244.7 493L244.9 491L245 489L245 487L244.7 485L244.2 483L244 482.4L243.6 481L242.9 479L242.1 477L242 476.7L241.3 475L240.5 473L240 471.6L239.7 471L238.9 469L238.1 467L238 466.6L237.4 465L236.8 463L236.7 461L237.2 459L238 457.4L238.2 457L239.2 455L240 453.7L240.4 453L241.5 451L242 449.9L242.4 449L242.9 447L242.9 445L242.3 443L242 442.3L241.5 441L240.8 439L240.3 437L240 435.9L239.8 435L239.3 433L238.8 431L238.3 429L238 427.8L237.8 427L237.3 425L236.8 423L236.3 421L236 419.7L235.8 419L235.4 417L234.9 415L234.5 413L234.2 411L234 410.3L233.7 409L233.1 407L232.5 405L232 403.7L231.7 403L231 401L230.2 399L230 398.4L229.5 397L228.8 395L228.3 393L228 391.3L228 391L227.8 389L227.8 387L227.8 385L227.8 383L227.8 381L227.8 379L227.8 377L227.9 375L228 373L228 372.2L228.1 371L228.2 369L228.4 367L228.7 365L228.9 363L229.2 361L229.4 359L229.6 357L229.9 355L230 353.8L230.1 353L230.2 351L230.3 349L230.4 347L230.7 345L231 343L231.5 341L232 339.1L232 339L232.6 337L233.3 335L233.9 333L234 332.8L234.6 331L235.2 329L235.7 327L236 325.8L236.2 325L236.5 323L236.8 321L237 319L237.2 317L237.5 315L237.6 313L237.7 311L237.6 309L237.4 307L237.2 305L237 303L236.8 301L236.6 299L236.4 297L236.2 295L236.3 293L236.8 291L238 289L238 289L239.9 287L240 286.8L241.1 285L241.7 283L241.9 281L242 279.3L242 279L242 277.6L242 277L241.8 275L241.5 273L241 271L240.3 269L240 267.9L239.7 267L239.3 265L238.8 263L238.1 261L238 260.7L237.1 259L236 257.4L235.7 257L234 255.1L233.8 255L232 253.7L230.5 253L230 252.8L228 252L226 251.2L225.5 251L224 250.4L222 249.7L220.3 249L220 248.9L218 248L216 247.2L215.6 247L214 246.3L212 245.5L211 245L210 244.5L208 243.3L207.7 243L206 241.7L205.2 241L204 239.9L203 239L202 238.1L200.6 237L200 236.5L198 235.3L197.3 235L196 234.4L194 233.4L193.4 233L192 232L190.9 231L190 230.2L188.8 229L188 228.2L186.7 227L186 226.3L184.7 225L184 224.3L182.5 223L182 222.6L180.1 221L180 220.9L178.1 219L178 218.9L176.3 217L176 216.7L174.5 215L174 214.4L172.8 213L172 212L171.1 211L170 209.8L169.3 209L168 207.6L167.5 207L166 205.5L165.6 205L164 203.3L163.7 203L162 201.1L161.9 201L160.1 199L160 198.9L158.3 197L158 196.7L156.7 195L156 194L155.3 193L154.1 191L154 190.8L152.9 189L152 187.4L151.7 187L150.1 185L150 184.8M650 526L648 525.9L646 525.8L644 525.6L642 525.5L640 525.4L638 525.2L636 525.1L634.4 525L634 525L632 524.8L630 524.6L628 524.4L626 524.2L624 523.9L622 523.7L620 523.4L618 523.2L616.7 523L616 522.9L614 522.6L612 522.4L610 522L608 521.7L606 521.3L604.2 521L604 521L602 520.6L600 520.2L598 519.8L596 519.5L594 519.1L593.5 519L592 518.7L590 518.4L588 518.2L586 517.9L584 517.7L582 517.4L580 517.1L579.3 517L578 516.8L576 516.3L574 515.8L572 515.4L570 515.2L568 515.3L566 515.7L564 516.1L562 516.3L560 516.3L558 516.1L556 515.9L554 515.7L552 515.7L550 515.9L548 516.7L547.6 517L546 517.9L544.4 519L544 519.2L542 520.6L541.3 521L540 521.9L538.2 523L538 523.1L536 524.3L534.9 525L534 525.5L532 526.9L531.8 527L530 528.5L529.5 529L528 530.4L527.4 531L526 532.4L525.4 533L524 534.3L523.1 535L522 535.9L520 536.6L518 536.3L516 535.9L514 535.9L512 536.3L510 536.8L509.4 537L508 537.5L506 538.2L504 538.8L503.2 539L502 539.4L500 539.9L498 540.3L496 540.5L494 540.6L492 540.8L490 541L489.9 541L488 541.3L486 541.6L484 541.9L482 542.1L480 542.4L478 542.7L476 542.9L474 543L473.3 543L472 543L470 543L468 543.1L466 543.1L464 543.3L462 543.4L460 543.6L458 543.8L456 544L454 544.2L452 544.4L450 544.5L448 544.5L446 544.6L444 544.6L442 544.6L440 544.6L438 544.6L436 544.6L434 544.6L432 544.6L430 544.6L428 544.6L426 544.5L424 544.5L422 544.4L420 544.3L418 544.2L416 544.1L414 544L412 543.9L410 543.8L408 543.7L406 543.6L404 543.5L402 543.4L400 543.3L398 543.2L396 543.1L394 543L393.9 543L392 542.9L390 542.8L388 542.7L386 542.6L384 542.5L382 542.3L380 542.2L378 542L376 541.9L374 541.9L372 541.9L370 541.9L368 542L366 542.1L364 542.2L362 542.3L360 542.4L358 542.6L356 542.7L354 542.9L352.9 543L352 543.1L350 543.3L348 543.5L346 543.7L344 543.9L342 544.1L340 544.3L338 544.6L336 544.8L334.7 545L334 545.1L332 545.4L330 545.7L328 545.9L326 546.2L324 546.5L322 546.8L320 547L320 547L318 547.2L316 547.5L314 547.7L312 547.9L310 548.1L308 548.3L306 548.5L304 548.7L302 548.8L300 548.9L298 549L297.6 549L296 549L294 549.1L292 549.1L290 549L289.3 549L288 548.9L286 548.8L284 548.5L282 548L280 547.5L278.5 547L278 546.9L276 546.2L274 545.6L272.2 545L272 544.9L270 544.2L268 543.3L267.3 543L266 542.3L264 541L264 541L262 539.2L261.8 539L260.2 537L260 536.7L258.7 535L258 534.1L256.9 533L256 532L255 531L254 529.7L253.5 529L252.4 527L252 525.9L251.6 525L250.8 523L250 521.3L249.9 521L248.8 519L248 517.5L247.7 517L246.9 515L246.5 513L246.6 511L247 509L247.5 507L248 505L248 504.8L248.4 503L248.8 501L249.2 499L249.5 497L249.8 495L250 493.1L250 493L250.2 491L250.3 489L250.3 487L250 485L250 484.9L249.6 483L249.1 481L248.6 479L248 477L248 477L247.4 475L246.7 473L246 471.3L245.9 471L245.1 469L244.3 467L244 466.2L243.5 465L242.9 463L242.5 461L242.8 459L243.5 457L244 456L244.5 455L245.6 453L246 452.2L246.6 451L247.3 449L247.9 447L248 446.4L248.2 445L248.1 443L248 442.7L247.2 441L246 439.4L245.8 439L244.7 437L244 435L244 435L243.4 433L242.9 431L242.4 429L242 427.3L241.9 427L241.4 425L240.9 423L240.5 421L240 419L240 419L239.6 417L239.2 415L238.9 413L238.6 411L238.2 409L238 407.7L237.9 407L237.4 405L236.8 403L236.1 401L236 400.8L235.3 399L234.6 397L234 395.1L234 395L233.5 393L233.2 391L233.1 389L233.1 387L233.1 385L233.1 383L233.1 381L233.2 379L233.3 377L233.4 375L233.6 373L233.7 371L233.9 369L234 367.6L234.1 367L234.3 365L234.5 363L234.7 361L235 359L235.2 357L235.4 355L235.5 353L235.5 351L235.5 349L235.5 347L235.5 345L235.6 343L235.7 341L236 339.1L236 339L236.4 337L237 335L237.5 333L238 331.5L238.1 331L238.8 329L239.3 327L239.8 325L240 323.7L240.1 323L240.4 321L240.6 319L240.8 317L240.9 315L240.8 313L240.7 311L240.6 309L240.4 307L240.1 305L240 303.9L239.9 303L239.7 301L239.5 299L239.5 297L239.8 295L240 294.5L240.9 293L242 292L243.4 291L244 290.6L246 289.2L246.3 289L248 287.5L248.6 287L249.8 285L250 284.3L250.3 283L250.5 281L250.4 279L250.4 277L250.3 275L250.1 273L250 271.6L249.9 271L249.6 269L249.1 267L248.7 265L248.4 263L248.4 261L248.2 259L248 258.2L247.6 257L246.7 255L246 253.8L245.5 253L244.3 251L244 250.5L243.1 249L242 247.3L241.8 247L240.4 245L240 244.4L238.7 243L238 242.3L236 241L235.9 241L234 240.1L232 239.4L230.9 239L230 238.7L228 238L226 237.3L225.3 237L224 236.5L222 235.7L220.4 235L220 234.8L218 234.1L216 233.4L215.1 233L214 232.6L212 231.6L211.2 231L210 230.2L208.6 229L208 228.5L206.1 227L206 227L204 225.9L202 225.2L201.4 225L200 224.6L198 224.1L196 223.3L195.5 223L194 222.1L192.7 221L192 220.4L190.5 219L190 218.5L188.3 217L188 216.8L186 215.3L185.6 215L184 213.9L182.8 213L182 212.3L180.7 211L180 210.3L178.9 209L178 208L177.1 207L176 205.7L175.4 205L174 203.6L173.5 203L172 201.5L171.5 201L170 199.5L169.5 199L168 197.4L167.6 197L166 195.2L165.8 195L164.1 193L164 192.9L162.5 191L162 190.2L161.2 189L160.1 187L160 186.9L159 185L158 183.3L157.9 183L156.8 181L156 179.5L155.7 179L154.7 177L154 175.7L153.6 175L152.5 173L152 172.1L151.1 171L150 169.5M260 304.9L259.9 305L258 306.9L257.9 307L257.1 309L257.1 311L257.8 313L258 313.3L260 314.2L262 314L264 313.2L264.4 313L266 311.5L266.5 311L267.2 309L267.1 307L266.2 305L266 304.7L264 303.3L262 303.7ZM650 523L649.7 523L648 522.9L646 522.8L644 522.6L642 522.5L640 522.4L638 522.2L636 522.1L634 522L632 521.8L630 521.6L628 521.4L626 521.1L625.1 521L624 520.9L622 520.6L620 520.4L618 520.1L616 519.9L614 519.6L612 519.3L610.2 519L610 519L608 518.6L606 518.2L604 517.9L602 517.5L600 517.1L599.4 517L598 516.7L596 516.4L594 516L592 515.7L590 515.4L588 515.1L587.1 515L586 514.9L584 514.6L582 514.3L580 513.9L578 513.4L576.8 513L576 512.7L574 512.1L572 511.7L570 511.5L568 511.6L566 511.9L564 512.6L563.1 513L562 513.3L560 513.7L558 513.7L556 513.6L554 513.5L552 513.4L550 513.7L548 514.5L547.1 515L546 515.7L544 517L543.9 517L542 518.3L540.9 519L540 519.6L538 520.9L537.8 521L536 522.1L534.6 523L534 523.4L532 524.8L531.8 525L530 526.5L529.5 527L528 528.4L527.4 529L526 530.4L525.4 531L524 532.3L523.2 533L522 533.9L520 534.7L518 534.6L516 534.4L514 534.5L512 534.9L511.8 535L510 535.6L508 536.2L506 536.8L505.5 537L504 537.5L502 538.1L500 538.6L498 538.9L496.6 539L496 539.1L494 539.2L492 539.4L490 539.6L488 539.8L486 540L484 540.3L482 540.6L480 540.8L478.7 541L478 541.1L476 541.3L474 541.4L472 541.5L470 541.4L468 541.4L466 541.4L464 541.5L462 541.6L460 541.7L458 541.9L456 542L454 542.2L452 542.4L450 542.5L448 542.6L446 542.6L444 542.6L442 542.6L440 542.6L438 542.6L436 542.6L434 542.6L432 542.6L430 542.6L428 542.6L426 542.6L424 542.6L422 542.5L420 542.4L418 542.3L416 542.2L414 542.1L412 542L410 541.9L408 541.8L406 541.7L404 541.6L402 541.5L400 541.4L398 541.3L396 541.2L394 541.1L392.4 541L392 541L390 540.9L388 540.8L386 540.6L384 540.5L382 540.3L380 540.1L378 540L376 539.8L374 539.8L372 539.8L370 539.8L368 539.9L366 539.9L364 540L362 540.1L360 540.1L358 540.2L356 540.3L354 540.5L352 540.6L350 540.8L348 541L347.6 541L346 541.2L344 541.4L342 541.6L340 541.8L338 542L336 542.2L334 542.5L332 542.7L330 542.9L329.5 543L328 543.2L326 543.5L324 543.7L322 544L320 544.3L318 544.5L316 544.8L314 545L314 545L312 545.2L310 545.5L308 545.7L306 545.9L304 546.1L302 546.2L300 546.4L298 546.5L296 546.6L294 546.7L292 546.7L290 546.7L288 546.7L286 546.5L284 546.2L282 545.7L280 545.1L279.5 545L278 544.5L276 543.9L274 543.2L273.4 543L272 542.5L270 541.6L268.8 541L268 540.5L266.1 539L266 538.9L264.4 537L264 536.4L263.1 535L262 533.3L261.8 533L260.4 531L260 530.5L258.8 529L258 527.8L257.4 527L256.3 525L256 524.6L255.1 523L254 521.4L253.8 521L252.5 519L252 518.1L251.4 517L250.7 515L250.6 513L250.9 511L251.4 509L251.9 507L252 506.5L252.4 505L252.9 503L253.4 501L253.8 499L254 498.3L254.3 497L254.7 495L255.1 493L255.4 491L255.6 489L255.6 487L255.3 485L254.9 483L254.4 481L254 479.4L253.9 479L253.4 477L252.9 475L252.3 473L252 471.8L251.8 471L251.1 469L250.4 467L250 465.9L249.7 465L248.9 463L248.4 461L248.3 459L248.8 457L249.7 455L250 454.4L250.6 453L251.4 451L252 449.1L252 449L252.6 447L253.1 445L253.5 443L253.5 441L252.7 439L252 438.2L250.7 437L250 436.3L248.9 435L248 433.5L247.8 433L247.1 431L246.5 429L246 427L246 426.9L245.5 425L245.1 423L244.6 421L244.2 419L244 417.7L243.9 417L243.6 415L243.2 413L242.9 411L242.6 409L242.3 407L242 405.2L242 405L241.6 403L241 401L240.4 399L240 397.8L239.7 397L239.1 395L238.7 393L238.5 391L238.4 389L238.4 387L238.4 385L238.5 383L238.6 381L238.8 379L238.9 377L239.1 375L239.2 373L239.4 371L239.5 369L239.7 367L239.9 365L240 363.9L240.1 363L240.3 361L240.5 359L240.7 357L240.8 355L240.8 353L240.8 351L240.8 349L240.8 347L240.7 345L240.7 343L240.7 341L240.7 339L240.8 337L241.1 335L241.4 333L241.8 331L242 330.4L242.4 329L242.9 327L243.3 325L243.7 323L243.9 321L244 319.6L244 319L244.1 317L244 315.9L244 315L243.8 313L243.6 311L243.5 309L243.2 307L243 305L242.8 303L242.7 301L242.9 299L243.7 297L244 296.5L245.7 295L246 294.8L248 293.5L248.9 293L250 292.3L252 291.1L252.1 291L254 289.8L255.1 289L256 288.2L257.3 287L258 285.8L258.5 285L258.8 283L258.9 281L258.8 279L258.7 277L258.6 275L258.5 273L258.4 271L258.2 269L258 267L258 266.6L257.8 265L257.6 263L257.5 261L257.6 259L257.7 257L257.6 255L257.2 253L256.3 251L256 250.5L255.1 249L254 247.2L253.9 247L252.7 245L252 243.9L251.4 243L250.2 241L250 240.7L249 239L248 237.4L247.7 237L246.5 235L246 234.2L245.2 233L244 231.4L243.6 231L242 229.5L241.1 229L240 228.4L238 227.6L236.2 227L236 226.9L234 226.2L232 225.6L230.4 225L230 224.9L228 224.1L226 223.4L225 223L224 222.6L222 221.9L220 221.3L219.2 221L218 220.6L216 219.7L214.7 219L214 218.6L212 217.4L211.3 217L210 216.4L208 215.7L206 215.2L205.1 215L204 214.7L202 214.3L200 213.8L198 213.2L197.7 213L196 212.1L194.4 211L194 210.7L192 209.2L191.7 209L190 207.9L188.5 207L188 206.7L186 205.4L185.5 205L184 203.7L183.3 203L182 201.7L181.4 201L180 199.5L179.5 199L178 197.5L177.5 197L176 195.5L175.5 195L174 193.5L173.5 193L172 191.4L171.6 191L170 189.2L169.9 189L168.4 187L168 186.4L167.1 185L166 183L166 183L164.9 181L164 179.4L163.8 179L162.7 177L162 175.8L161.6 175L160.5 173L160 172.1L159.4 171L158.4 169L158 168.3L157.4 167L156.3 165L156 164.3L155.3 163L154.3 161L154 160.4L153.2 159L152.1 157L152 156.8L150.6 155L150 154.2M264 296.5L263 297L262 297.5L260 298.9L259.9 299L258 300.5L257.4 301L256 302.2L255.1 303L254 304.3L253.5 305L252.9 307L252.9 309L253.2 311L253.7 313L254 314.1L254.3 315L256 317L256 317L258 317.3L259.8 317L260 317L262 316.3L264 315.6L265.2 315L266 314.5L268 313.1L268.2 313L269.9 311L270 310.7L270.9 309L271.3 307L271.1 305L270.3 303L270 302.3L269.3 301L268.2 299L268 298.6L266.5 297L266 296.6ZM264 362.9L263.8 363L262 364L261 365L260.4 367L260.2 369L260.2 371L260.3 373L260.5 375L260.9 377L261.6 379L262 380.1L264 379.7L264.1 379L264.5 377L264.9 375L265.2 373L265.6 371L266 369L266 368.8L266.1 367L266.1 365L266 364.7L264.2 363L264 362.9M650 517.1L648.6 517L648 517L646 516.8L644 516.7L642 516.5L640 516.4L638 516.2L636 516.1L634 515.9L632 515.7L630 515.5L628 515.3L626 515L625.9 515L624 514.8L622 514.5L620 514.3L618 514L616 513.8L614 513.5L612 513.2L611.1 513L610 512.8L608 512.4L606 512.1L604 511.7L602 511.3L600.3 511L600 510.9L598 510.6L596 510.2L594 509.9L592 509.5L590 509.2L588.5 509L588 508.9L586 508.5L584 508L582 507.3L581.1 507L580 506.6L578 505.9L576 505.2L575.4 505L574 504.6L572 504.3L570 504.3L568 504.4L566 504.5L564 504.7L562.9 505L562 505.2L560 506.4L559.1 507L558 507.7L556 508.5L554 508.8L552 508.9L551.6 509L550 509.3L548 510.1L546.4 511L546 511.2L544 512.5L543.3 513L542 513.9L540.3 515L540 515.2L538 516.5L537.3 517L536 517.8L534.3 519L534 519.2L532 520.8L531.8 521L530 522.6L529.6 523L528 524.6L527.6 525L526 526.5L525.5 527L524 528.5L523.4 529L522 530.2L520.4 531L520 531.2L518 531.5L516 531.6L514 532L512 532.5L510.5 533L510 533.1L508 533.8L506 534.4L504.2 535L504 535.1L502 535.6L500 536.1L498 536.4L496 536.6L494 536.7L492 536.8L490 537L489.7 537L488 537.1L486 537.3L484 537.5L482 537.7L480 537.9L478 538.2L476 538.4L474 538.5L472 538.5L470 538.4L468 538.3L466 538.3L464 538.2L462 538.2L460 538.2L458 538.3L456 538.4L454 538.5L452 538.6L450 538.8L448 538.8L446 538.9L444 538.9L442 538.9L440 538.9L438 538.9L436 538.9L434 538.9L432 538.9L430 538.9L428 538.9L426 538.8L424 538.8L422 538.7L420 538.6L418 538.5L416 538.4L414 538.3L412 538.2L410 538.1L408 538L406 537.9L404 537.8L402 537.7L400 537.6L398 537.5L396 537.4L394 537.3L392 537.2L390 537L389.9 537L388 536.8L386 536.7L384 536.5L382 536.3L380 536.1L378 535.9L376 535.8L374 535.7L372 535.7L370 535.7L368 535.7L366 535.8L364 535.8L362 535.8L360 535.8L358 535.8L356 535.8L354 535.7L352 535.7L350 535.8L348 535.9L346 536.2L344 536.5L342 536.8L340.3 537L340 537L338 537.3L336 537.5L334 537.7L332 537.9L330 538.1L328 538.3L326 538.6L324 538.9L323.2 539L322 539.2L320 539.5L318 539.8L316 540L314 540.3L312 540.5L310 540.8L308.2 541L308 541L306 541.3L304 541.5L302 541.7L300 541.9L298 542.1L296 542.2L294 542.3L292 542.4L290 542.4L288 542.3L286 542L284 541.6L282 541L281.9 541L280 540.4L278 539.7L276 539L276 539L274 538.1L272.3 537L272 536.8L270.2 535L270 534.7L268.8 533L268 531.8L267.5 531L266.2 529L266 528.7L264.9 527L264 525.7L263.5 525L262 523L262 523L260.5 521L260 520L259.4 519L258.8 517L258.8 515L259.1 513L259.6 511L260 509.5L260.1 509L260.6 507L261.1 505L261.5 503L261.9 501L262 500.5L262.2 499L262.5 497L262.6 495L262.8 493L262.9 491L262.9 489L262.8 487L262.6 485L262.4 483L262.1 481L262 479.9L261.9 479L261.6 477L261.3 475L261 473L260.7 471L260.4 469L260.2 467L260 465.7L259.9 465L259.6 463L259.3 461L259.1 459L259 457L259.2 455L259.5 453L259.9 451L260 450.6L260.3 449L260.6 447L260.9 445L261.2 443L261.4 441L261.5 439L261.7 437L261.8 435L262 433.9L262.1 433L262.3 431L262.5 429L262.7 427L262.8 425L262.9 423L262.9 421L263.3 419L264 418.1L264.3 417L265.2 415L266 414L266.3 413L266.9 411L267.6 409L268 407.7L268.1 407L268.5 405L268.8 403L268.9 401L268.9 399L268.7 397L268.6 395L268.4 393L268.4 391L268.4 389L268.4 387L268.5 385L268.6 383L268.7 381L268.8 379L268.9 377L269.1 375L269.2 373L269.3 371L269.5 369L269.6 367L269.6 365L269.5 363L269 361L268 359.7L266 359L264 359.2L262 359.6L260 360.1L258 360.6L256.6 361L256 361.3L254 361.8L252.2 361L252 360.8L251.5 359L251.3 357L251.2 355L251.1 353L251.1 351L251.1 349L251 347L251 345L250.9 343L250.9 341L250.9 339L250.8 337L250.8 335L250.8 333L250.8 331L251 329L251.4 327L252 326L252.8 325L254 324.3L256 323.4L256.7 323L258 322.5L260 321.6L261.2 321L262 320.7L264 319.8L265.6 319L266 318.8L268 317.9L269.6 317L270 316.8L272 315.4L272.5 315L274 313.4L274.3 313L275.8 311L276 310.7L277.2 309L278 307.6L278.3 307L279.1 305L279.1 303L278.6 301L278 299.4L277.8 299L277 297L276.3 295L276 293.8L275.8 293L275.6 291L275.7 289L276 287.5L276.1 287L276.5 285L276.6 283L276.7 281L276.6 279L276.5 277L276.4 275L276.3 273L276.2 271L276.2 269L276.2 267L276.4 265L276.8 263L277.2 261L277.5 259L277.7 257L277.9 255L278 253.9L278.1 253L278.3 251L278.5 249L278.7 247L279 245L279.4 243L279.9 241L280 240.5L280.3 239L280.7 237L281.3 235L282 233L282 233L282.7 231L282.8 229L282.2 227L282 226.6L281.3 225L280.4 223L280 221.7L279.8 221L279.4 219L279 217L278.5 215L278 213.3L277.9 213L277 211L276.1 209L276 208.7L275.3 207L274.7 205L274.2 203L274 202.3L273.5 201L272.1 199L272 198.9L270 197.1L269.9 197L268 195.7L266 195L264 195.3L262 196L260 196.8L259.3 197L258 197.5L256 198.2L254 198.8L253.3 199L252 199.4L250 199.9L248 200.3L246 200.8L245 201L244 201.2L242 201.7L240 202.1L238 202.6L236 202.9L234.3 203L234 203L233.8 203L232 202.8L230 202.3L228 201.6L226 201L225.9 201L224 200.5L222 200.1L220 199.8L218 199.4L216.7 199L216 198.8L214 198L212 197.1L211.6 197L210 196.4L208 195.8L206 195.5L204 195.3L202 195.4L200 195.3L198.2 195L198 195L196 194.2L194 193.1L193.8 193L192 191.9L190.9 191L190 190.3L188.6 189L188 188.4L186.6 187L186 186.4L184.5 185L184 184.5L182.4 183L182 182.7L180.2 181L180 180.8L178.4 179L178 178.4L177.1 177L176 175.2L175.9 175L174.8 173L174 171.6L173.7 171L172.6 169L172 168L171.4 167L170.3 165L170 164.6L169 163L168 161.4L167.7 161L166.5 159L166 158.2L165.4 157L164.3 155L164 154.4L163.3 153L162.3 151L162 150.4L161.3 149L160.3 147L160 146.4L159.3 145L158.3 143L158 142.4L157.3 141L156.3 139L156 138.4L155.3 137L154.5 135L154 133.5L153.8 133L153.3 131L152.8 129L152.5 127L152 125L152 124.9L151.1 123L150 122.3M264 215L264 215L265.7 217L266 217.7L266.3 219L266.1 221L266 221.3L264 222.2L262 221.1L261.8 221L260.3 219L260.2 217L262 215L263.9 215ZM512 366.9L510.8 367L510 367L508 367.2L506 367.5L504 367.8L502 368.1L500 368.4L498 368.7L496 368.9L495.6 369L494 369.3L492 369.7L490 370.3L488 370.9L487.8 371L486 371.7L484 372.4L482.1 373L482 373L480 373.9L478 374.8L477.7 375L476 376.2L475.1 377L474 378L472.9 379L472 379.9L470.9 381L470 381.9L469 383L468 384L467.1 385L466 386.4L465.6 387L464.3 389L464 389.5L463.2 391L462 392.8L461.9 393L460.7 395L460 396L459.4 397L458.3 399L458 399.7L457.5 401L457.1 403L457 405L457.3 407L458 409L458 409L459.6 411L460 411.4L462 412.4L464 413L464 413L466 413.8L467.6 415L468 415.6L468.6 417L468.9 419L469 421L469.1 423L469.3 425L469.9 427L470 427.1L471.3 429L472 429.6L474 430.7L474.8 431L476 431.2L478 431.5L480 431.4L481 431L482 430.3L482.7 429L483.8 427L484 426.7L485.1 425L486 423.7L486.5 423L488 421L488 421L489.5 419L490 418.5L491.6 417L492 416.7L494 415.9L496 415.8L498 416L500 416.4L502 416.9L502.5 417L504 417.3L506 417.7L508 418.1L510 418.7L510.8 419L512 419.4L514 420.3L515.2 421L516 421.4L518 422.7L518.5 423L520 423.9L521.7 425L522 425.2L524 426.4L524.8 427L526 427.7L527.9 429L528 429.1L530 430.4L530.8 431L532 432.1L533.2 433L534 433.7L536 433.8L536.8 433L538 431.3L538.2 431L538.7 429L539 427L539.2 425L539.2 423L539.3 421L539.3 419L539.4 417L539.6 415L539.7 413L540 411L540 410.7L540.2 409L540.4 407L540.5 405L540.6 403L540.8 401L541 399L541 397L540.6 395L540.1 393L540 392.7L539.5 391L538.9 389L538.2 387L538 386.2L537.6 385L537 383L536.4 381L536 379L536.3 377L538 375.2L538.2 375L540 373.4L540.3 373L541.1 371L540.5 369L540 368.5L538 367.1L537.6 367L536 366.7L534 366.6L532 366.6L530 366.7L528 366.7L526 366.8L524 366.8L522 366.8L520 366.8L518 366.8L516 366.9L514 366.9L512 366.9M254 402.3L254.3 403L255.5 405L256 405.6L256.5 407L257.4 409L258 410.5L258.2 411L258.8 413L259.3 415L259.7 417L259.8 419L259.3 421L258.2 423L258 423.3L256 423.6L255.7 423L255.2 421L254.8 419L254.4 417L254 415.3L254 415L253.8 413L253.5 411L253.3 409L253 407L252.8 405L253.1 403ZM650 514.1L648 514L646 513.8L644 513.7L642 513.5L640 513.4L638 513.2L636 513.1L635.2 513L634 512.9L632 512.7L630 512.5L628 512.2L626 512L624 511.7L622 511.5L620 511.2L618.3 511L618 511L616 510.7L614 510.4L612 510.1L610 509.7L608 509.4L606.1 509L606 509L604 508.6L602 508.2L600 507.9L598 507.5L596 507.1L595.3 507L594 506.8L592 506.4L590 506L588 505.6L586.1 505L586 505L584 504.3L582 503.5L580.6 503L580 502.8L578 502L576 501.4L574.4 501L574 500.9L572 500.7L570 500.7L568 500.8L566 500.9L565 501L564 501.1L562 501.3L560 501.9L558.2 503L558 503.1L556 504.9L555.8 505L554 505.9L552 506.4L550 507L550 507L548 507.8L546 509L546 509L544 510.2L542.9 511L542 511.6L540 512.9L539.9 513L538 514.3L536.9 515L536 515.6L534.1 517L534 517.1L532 518.7L531.7 519L530 520.5L529.5 521L528 522.4L527.4 523L526 524.4L525.4 525L524 526.4L523.4 527L522 528.2L520.8 529L520 529.4L518 529.9L516 530.2L514 530.6L512.8 531L512 531.2L510 531.8L508 532.4L506.3 533L506 533.1L504 533.7L502 534.3L500 534.8L498.9 535L498 535.1L496 535.3L494 535.4L492 535.5L490 535.6L488 535.7L486 535.8L484 536L482 536.2L480 536.4L478 536.6L476 536.8L474 536.9L472 536.9L470 536.8L468 536.7L466 536.6L464 536.6L462 536.5L460 536.4L458 536.5L456 536.5L454 536.6L452 536.7L450 536.8L448 536.9L446 536.9L444 536.9L442 536.9L440 536.9L438 536.9L436 536.9L434 536.9L432 536.9L430 536.9L428 536.9L426 536.9L424 536.8L422 536.7L420 536.6L418 536.5L416 536.4L414 536.3L412 536.2L410 536.1L408 536L406 535.9L404 535.8L402 535.7L400 535.6L398 535.5L396 535.4L394 535.3L392 535.1L390.2 535L390 535L388 534.8L386 534.6L384 534.4L382 534.2L380 534L378 533.8L376 533.6L374 533.6L372 533.6L370 533.6L368 533.6L366 533.6L364 533.6L362 533.5L360 533.5L358 533.4L356 533.3L354 533.1L352 533.1L350 533.1L348 533.3L346 533.6L344 534L342 534.3L340 534.6L338 534.9L337.5 535L336 535.2L334 535.4L332 535.6L330 535.9L328 536.1L326 536.4L324 536.7L322.2 537L322 537L320 537.3L318 537.6L316 537.9L314 538.2L312 538.4L310 538.7L308 538.9L307.6 539L306 539.2L304 539.5L302 539.7L300 539.9L298 540.1L296 540.3L294 540.4L292 540.4L290 540.3L288 540L286 539.7L284 539.2L283.4 539L282 538.6L280 538L278 537.2L277.5 537L276 536.3L274.1 535L274 534.9L272.1 533L272 532.8L270.6 531L270 530.3L269.1 529L268 527.3L267.8 527L266.5 525L266 524.3L265.1 523L264 521.2L263.9 521L263 519L262.8 517L263 515L263.4 513L263.9 511L264 510.3L264.2 509L264.5 507L264.7 505L264.9 503L265 501L265.1 499L265.1 497L265.2 495L265.2 493L265.1 491L265.1 489L265 487L264.8 485L264.6 483L264.4 481L264.2 479L264 477.1L264 477L263.8 475L263.6 473L263.4 471L263.3 469L263.2 467L263.1 465L263 463L262.9 461L262.7 459L262.6 457L262.5 455L262.6 453L262.7 451L263 449L263.2 447L263.4 445L263.6 443L263.7 441L263.8 439L264 437L264 436.9L264.3 435L264.7 433L265.1 431L265.5 429L266 427.1L266 427L266.4 425L266.9 423L267.5 421L268 419.7L268.2 419L268.9 417L269.5 415L270 413L270 412.8L270.3 411L270.7 409L271 407L271.2 405L271.3 403L271.2 401L271 399L270.8 397L270.6 395L270.3 393L270.2 391L270.1 389L270 387L270 385L270.1 383L270.2 381L270.3 379L270.4 377L270.5 375L270.6 373L270.7 371L270.9 369L271 367L271 365L270.9 363L270.6 361L270 359.1L269.9 359L268 357.7L266 357.5L264 357.7L262 357.9L260 358L258 357.9L256.3 357L256 356.2L255.6 355L255.5 353L255.4 351L255.4 349L255.3 347L255.3 345L255.2 343L255.2 341L255.1 339L255.1 337L255.1 335L255.2 333L255.5 331L256 329.6L256.3 329L258 327.1L258.1 327L260 325.7L260.9 325L262 324.4L264 323L264.1 323L266 322L267.5 321L268 320.8L270 319.7L271.2 319L272 318.6L274 317.2L274.3 317L276 315.5L276.4 315L277.9 313L278 312.9L279.4 311L280 310.1L280.8 309L282 307L282 306.9L282.9 305L283.4 303L283.3 301L283 299L282.8 297L282.8 295L283.2 293L283.7 291L284 289.9L284.3 289L284.8 287L285.3 285L285.7 283L286 281L286 280.6L286 279L286 277.3L286 277L285.9 275L285.8 273L285.9 271L286 269.8L286.1 269L286.5 267L287.1 265L287.7 263L288 261.4L288.1 261L288.4 259L288.6 257L288.8 255L289.1 253L289.4 251L289.8 249L290 248.4L290.5 247L291.2 245L291.8 243L292 241.7L292.1 241L292.2 239L292.3 237L292.6 235L293 233L293.1 231L292.4 229L292 228.3L291.3 227L290 225.1L290 225L288.7 223L288 221.6L287.7 221L286.7 219L286 217L286 217L285.5 215L285 213L284.3 211L284 210.1L283.6 209L282.9 207L282.5 205L282.4 203L282.5 201L282.3 199L282 198.4L281.3 197L280 195.5L279.5 195L278 193.6L277.3 193L276 191.9L275 191L274 190.2L272.6 189L272 188.5L270.2 187L270 186.8L268 185.4L266.9 185L266 184.7L264 184.9L263.9 185L262 186L260.4 187L260 187.2L258 188.2L256.1 189L256 189.1L254 189.8L252 190.6L251 191L250 191.4L248 192L246 192.6L244.3 193L244 193.1L242 193.5L240 194L238 194.4L236 194.6L234 194.5L232 194.1L230 193.5L228 193.1L227.5 193L226 192.8L224 192.7L222 192.6L220 192.4L218 192L216 191.4L215 191L214 190.6L212 190L210 189.6L208 189.3L206 189L205.9 189L204 188.9L202 188.8L200 188.5L198 187.8L196.5 187L196 186.7L194 185.2L193.8 185L192 183.4L191.6 183L190 181.5L189.5 181L188 179.8L187 179L186 178.2L184.5 177L184 176.6L182.5 175L182 174.4L181.1 173L180 171.2L179.9 171L178.7 169L178 167.7L177.6 167L176.4 165L176 164.4L175.1 163L174 161.4L173.7 161L172.3 159L172 158.5L171 157L170 155.4L169.7 155L168.7 153L168 151.7L167.6 151L166.6 149L166 147.7L165.6 147L164.6 145L164 143.7L163.6 143L162.6 141L162 139.7L161.6 139L160.6 137L160 135.7L159.7 135L158.8 133L158 131L158 130.9L157.4 129L156.7 127L156.1 125L156 124.7L155.5 123L154.6 121L154 120.2L152 119.6L150 119.8M508 364.9L507 365L506 365.1L504 365.4L502 365.7L500 366L498 366.3L496 366.6L494 366.9L493.7 367L492 367.4L490 368L488 368.7L487.2 369L486 369.5L484 370.2L482 370.9L481.7 371L480 371.6L478 372.5L477.1 373L476 373.7L474.3 375L474 375.3L472.1 377L472 377.1L470.1 379L470 379.1L468.1 381L468 381.1L466.1 383L466 383.2L464.5 385L464 385.7L463.1 387L462 388.8L461.9 389L460.7 391L460 392.1L459.4 393L458.2 395L458 395.3L457.1 397L456.1 399L456 399.2L455.3 401L454.6 403L454.2 405L454 406.9L454 407L454 407.4L454.1 409L454.4 411L454.8 413L455.3 415L456 416.9L456.1 417L457.3 419L458 420L459.1 421L460 422.2L460.5 423L461.3 425L462 426.8L462.1 427L463.3 429L464 429.8L465 431L466 432.1L467 433L468 433.7L470 434.5L472 434.7L474 434.8L476 434.9L477.4 435L478 435.1L480 435.3L482 435.3L483.4 435L484 434.7L484.8 433L485.1 431L485.6 429L486 428.2L486.6 427L487.9 425L488 424.9L489.4 423L490 422.2L490.9 421L492 419.7L492.8 419L494 418.2L496 417.7L498 417.8L500 418.1L502 418.4L504 418.9L504.5 419L506 419.3L508 419.8L510 420.3L511.9 421L512 421L514 422L515.7 423L516 423.2L518 424.4L518.9 425L520 425.7L522 426.9L522.1 427L524 428.2L525.2 429L526 429.5L528 430.9L528.1 431L530 432.6L530.5 433L532 434.8L532.3 435L534 436.8L536 437L536 437L536 437L538 435.1L538.1 435L539.2 433L540 431.1L540 431L540.7 429L541 427L541.2 425L541.3 423L541.4 421L541.5 419L541.7 417L541.9 415L542 414.1L542.1 413L542.4 411L542.7 409L543 407L543.2 405L543.5 403L544 401.1L544 401L544.8 399L545.1 397L544.8 395L544.2 393L544 392.5L543.5 391L542.9 389L542.3 387L542 386.2L541.6 385L541 383L540.6 381L540.5 379L541.3 377L542 376.1L542.6 375L543.7 373L544 372.2L544.5 371L544.1 369L544 368.9L542.4 367L542 366.7L540 365.4L538.8 365L538 364.8L536 364.5L534 364.5L532 364.5L530 364.4L528 364.4L526 364.4L524 364.4L522 364.5L520 364.5L518 364.5L516 364.5L514 364.6L512 364.6L510 364.7L508 364.9M650 511L648 510.8L646 510.7L644 510.5L642 510.4L640 510.2L638 510.1L636 509.9L634 509.7L632 509.5L630 509.3L628 509L627.8 509L626 508.8L624 508.5L622 508.2L620 508L618 507.8L616 507.5L614 507.2L612.7 507L612 506.9L610 506.5L608 506.1L606 505.8L604 505.4L602 505L601.9 505L600 504.6L598 504.2L596 503.9L594 503.5L592 503.1L591.7 503L590 502.5L588 501.9L586 501.1L585.6 501L584 500.4L582 499.6L580.3 499L580 498.9L578 498.2L576 497.5L574 497.2L572 497L570 497.1L568 497.2L566 497.3L564 497.4L562 497.6L560 497.8L558 498.4L557.1 499L556 499.8L554.8 501L554 501.8L552.6 503L552 503.3L550 504.2L548.4 505L548 505.2L546 506.3L544.9 507L544 507.6L542 509L541.9 509L540 510.2L538.9 511L538 511.6L536.1 513L536 513L534 514.4L533.3 515L532 516L531 517L530 517.9L528.9 519L528 519.8L526.8 521L526 521.8L524.8 523L524 523.8L522.8 525L522 525.7L520.4 527L520 527.2L518 527.9L516 528.3L514 528.9L513.8 529L512 529.4L510 530L508 530.7L507.2 531L506 531.3L504 531.9L502 532.5L500.6 533L500 533.1L498 533.4L496 533.5L494 533.6L492 533.7L490 533.8L488 533.9L486 534L484 534.1L482 534.3L480 534.5L478 534.7L476 534.9L475 535L474 535L472 535L471.3 535L470 534.9L468 534.8L466 534.7L464 534.6L462 534.5L460 534.4L458 534.3L456 534.3L454 534.4L452 534.5L450 534.6L448 534.6L446 534.6L444 534.6L442 534.6L440 534.6L438 534.6L436 534.6L434 534.6L432 534.6L430 534.6L428 534.6L426 534.5L424 534.4L422 534.3L420 534.3L418 534.1L416 534L414 533.9L412 533.8L410 533.7L408 533.6L406 533.5L404 533.4L402 533.3L400 533.3L398 533.2L396 533.1L394.3 533L394 533L392 532.8L390 532.6L388 532.4L386 532.1L384 531.9L382 531.7L380 531.5L378 531.4L376 531.2L374 531.1L372 531.1L370 531.1L368 531.1L366.1 531L366 531L364 530.9L362 530.7L360 530.5L358 530.4L356 530.2L354 530.1L352 530.1L350 530.2L348 530.5L346 530.8L345.2 531L344 531.2L342 531.6L340 532L338 532.3L336 532.6L334 533L333.9 533L332 533.2L330 533.5L328 533.8L326 534.1L324 534.4L322 534.8L320.6 535L320 535.1L318 535.4L316 535.7L314 535.9L312 536.1L310 536.4L308 536.6L306 536.9L305.5 537L304 537.2L302 537.4L300 537.7L298 537.9L296 538.1L294 538.2L292 538.1L290 537.9L288 537.6L286 537.1L285.4 537L284 536.6L282 536L280 535.4L279.2 535L278 534.4L276.1 533L276 532.9L274.1 531L274 530.9L272.4 529L272 528.5L270.8 527L270 525.9L269.4 525L268.1 523L268 522.7L267.2 521L266.7 519L266.6 517L266.8 515L267 513L267.2 511L267.3 509L267.4 507L267.4 505L267.4 503L267.4 501L267.4 499L267.4 497L267.3 495L267.2 493L267.2 491L267.1 489L267 487L266.9 485L266.8 483L266.7 481L266.6 479L266.4 477L266.4 475L266.3 473L266.3 471L266.3 469L266.3 467L266.4 465L266.4 463L266.3 461L266.1 459L266 458.6L265.7 457L265.4 455L265.3 453L265.3 451L265.4 449L265.5 447L265.6 445L265.7 443L265.7 441L265.8 439L266 437L266 437L266.3 435L266.7 433L267.2 431L267.7 429L268 427.7L268.2 427L268.7 425L269.4 423L270 421.3L270.1 421L270.9 419L271.7 417L272 415.8L272.2 415L272.6 413L273 411L273.3 409L273.5 407L273.6 405L273.5 403L273.3 401L273 399L272.7 397L272.5 395L272.2 393L272 391.3L272 391L271.8 389L271.7 387L271.6 385L271.6 383L271.6 381L271.7 379L271.7 377L271.9 375L272 373L272 372.4L272.1 371L272.2 369L272.3 367L272.3 365L272.2 363L272.1 361L272 360.7L271.6 359L270.4 357L270 356.6L268 356L266 355.9L264 355.9L262 355.6L260.5 355L260 354L259.6 353L259.5 351L259.4 349L259.4 347L259.3 345L259.3 343L259.2 341L259.2 339L259.3 337L259.6 335L260 333.7L260.3 333L262 331L262 331L264 329.4L264.5 329L266 327.9L267.2 327L268 326.4L269.9 325L270 325L272 323.6L273.3 323L274 322.7L276 322.3L278 322.5L279.3 323L280 323.2L282 324L284 324.7L286 325L286 325L286 325L288 323.4L288.1 323L288.4 321L288.5 319L288.5 317L288.5 315L288.5 313L288.4 311L288.5 309L288.6 307L288.8 305L289.1 303L289.6 301L290 299.7L290.2 299L290.9 297L291.5 295L292 293L292 293L292.5 291L293 289L293.5 287L294 285.3L294.1 285L294.6 283L295 281L295.3 279L295.5 277L295.5 275L295.7 273L296 271.7L296.2 271L296.7 269L297.4 267L298 265.1L298 265L298.6 263L299 261L299.4 259L299.7 257L300 255.8L300.2 255L300.9 253L301.7 251L302 250.2L302.5 249L303.2 247L303.8 245L304 243L304 243L304 242.8L304 241L303.8 239L303.8 237L303.7 235L303.5 233L302.8 231L302 229.7L301.6 229L300.2 227L300 226.8L298.7 225L298 224L297.3 223L296.1 221L296 220.8L295.1 219L294.1 217L294 216.9L293.1 215L292.3 213L292 212.3L291.6 211L290.9 209L290.4 207L290.2 205L290.3 203L290.6 201L290.8 199L290.8 197L290.3 195L290 194.4L289 193L288 192L286.9 191L286 190.2L284.6 189L284 188.5L282.2 187L282 186.8L280 185.1L279.9 185L278 183.4L277.6 183L276 181.7L275.2 181L274 179.9L272.9 179L272 178.2L270.5 177L270 176.6L268 175.1L267.7 175L266 174.3L264 174.4L262.7 175L262 175.3L260 176.8L259.7 177L258 178.3L256.9 179L256 179.6L254 180.6L253 181L252 181.4L250 182.3L248.2 183L248 183.1L246 183.9L244 184.6L242.9 185L242 185.3L240 185.8L238 186.1L236 186.2L234 186L232 185.7L230 185.5L228 185.5L226 185.4L224 185.4L222 185.4L220 185.1L219.3 185L218 184.7L216 184.3L214 183.8L212 183.5L210 183.2L208.8 183L208 182.9L206 182.6L204 182.4L202 182L200 181.3L199.4 181L198 180.1L196.6 179L196 178.5L194.1 177L194 176.9L192 175.4L191.4 175L190 174L188.7 173L188 172.4L186.6 171L186 170.3L185 169L184 167.4L183.7 167L182.5 165L182 164.3L181.1 163L180 161.4L179.7 161L178.3 159L178 158.6L176.9 157L176 155.7L175.5 155L174.2 153L174 152.7L173 151L172 149.1L172 149L171 147L170 145.1L170 145L169 143L168 141.1L168 141L167 139L166 137.1L166 137L165 135L164 133L164 133L163.1 131L162.4 129L162 127.9L161.7 127L161 125L160.4 123L160 121.9L159.7 121L159 119L158.3 117L158 116L157.5 115L156.4 113L156 112.3L154.6 113L154 113.2L152.8 115L152 115.7L150.7 117L150 117.3M350 329.4L349 331L349.9 333L350 333.1L352 334.9L352.6 333L352 331.7L351.4 331L350 329.4M354 335L353.3 335L353.9 337L354 337.1L354.1 337L354 335ZM356 338.7L355.8 339L356 339.5L356.1 339ZM358 342.7L358 343L358 343.1L358.1 343ZM360 344.6L359.7 345L360 345.8L360.2 345ZM362 347.3L361.8 349L362 349.3L362.5 349ZM364 350.2L363.5 351L364 352.2L364.4 351L364 350.2M366 352.9L365.4 353L365.9 355L366 355.2L366.5 355L366.1 353L366 352.9M368 356.1L367.6 357L368 357.9L368.4 357ZM370 358.8L369.4 359L369.9 361L370 361.4L370.8 361L370.1 359ZM372 361.5L371.1 363L371.5 365L371.7 367L371.8 369L372 370L372.2 371L373 373L374 374.9L374 375L375.2 377L376 378.3L376.4 379L377.6 381L378 381.7L378.8 383L380 385L380 385.1L381.1 387L382 389L382 389L382.4 391L382 392.4L381.8 393L380.5 395L380 395.6L378.7 397L378 397.7L376.8 399L376 399.9L374.9 401L374 402L373 403L372 404.1L371.2 405L370 406.3L369.3 407L368 408.5L367.7 409L366.7 411L366.6 413L367.2 415L367.8 417L368 417.6L368.7 419L369.5 421L370 422.6L370.2 423L371.1 425L371.8 427L372 427.8L372.6 429L373.3 431L373.9 433L374 433.6L374.6 435L376 437L378 437L378 437L378 437L380 436.5L382 436L384 435.5L385.9 435L386 435L388 434.2L390 433.6L392 433L392 433L394 432.2L396 431.5L397.7 431L398 430.9L400 430L402 429.3L402.8 429L404 428.4L406 427.4L407.1 427L408 426.5L410 425.5L411.2 425L412 424.7L414 424L416 423.6L418 423.2L420 423.2L422 423.4L424 423.8L426 424.1L428 424.2L430 424.1L432 424L434 423.7L436 423.5L438 423.3L440 423.5L442 423.9L444 424.6L445.2 425L446 425.3L448 426L450 426.7L450.7 427L452 427.6L454 428.8L454.2 429L456 430.5L456.5 431L458 432.4L458.5 433L460 434.4L460.5 435L462 436.4L462.8 437L464 437.7L466 438.2L468 438.3L470 438.2L472 438.1L474 438.1L476 438.2L478 438.5L480 438.8L481.8 439L482 439L484 439.2L486 439.1L486.3 439L487.7 437L487.7 435L487.5 433L487.5 431L488 429.2L488.1 429L489.2 427L490 425.8L490.6 425L492 423.1L492.1 423L493.8 421L494 420.9L496 419.8L498 419.5L500 419.6L502 419.9L504 420.3L506 420.8L507 421L508 421.2L510 421.8L512 422.5L513 423L514 423.5L516 424.7L516.5 425L518 425.9L519.7 427L520 427.2L522 428.5L522.8 429L524 429.8L525.7 431L526 431.2L528 432.8L528.2 433L529.9 435L530 435.1L531.3 437L532 438L533 439L534 440L536 440.1L537.3 439L538 438.4L539 437L540 435.2L540.1 435L541.2 433L542 431L542 430.9L542.8 429L543.4 427L543.7 425L543.8 423L544 421.2L544 421L544.3 419L544.6 417L544.9 415L545.2 413L545.4 411L545.7 409L546 407L546 406.9L546.4 405L547.2 403L548 401.9L549.1 401L550 400.3L552 399.5L553.8 399L554 398.9L556 397.9L557.8 397L558 396.7L559.2 395L558.9 393L558 392.3L556 391.4L554.8 391L554 390.8L552 390.3L550 389.5L549.5 389L548 387.6L547.7 387L546.6 385L546 384L545.7 383L545.2 381L545.1 379L545.7 377L546 376.3L547.3 375L548 374.3L550 374.1L552 374.8L552.9 375L554 375.2L556 375.2L556.7 375L556 374.5L555.4 373L554 372.5L552 371.2L551.8 371L550 370.3L548.6 369L548 368.6L546.2 367L546 366.9L544 365.3L543.6 365L542 364L540 363.1L539.5 363L538 362.7L536 362.6L534 362.5L532 362.5L530 362.4L528 362.4L526 362.4L524 362.4L522 362.4L520 362.4L518 362.4L516 362.5L514 362.5L512 362.6L510 362.7L508 362.9L506.6 363L506 363.1L504 363.3L502 363.6L500 363.9L498 364.2L496 364.5L494 364.8L493.4 365L492 365.3L490 366L488 366.8L487.4 367L486 367.6L484 368.3L482.1 369L482 369L480 369.8L478 370.6L477.3 371L476 371.7L474.2 373L474 373.1L472 374.8L471.8 375L470 376.7L469.7 377L468 378.7L467.7 379L466 380.8L465.8 381L464 382.9L463.9 383L462.3 385L462 385.5L461.1 387L460 388.7L459.8 389L458.6 391L458 392L457.4 393L456.2 395L456 395.5L455.2 397L454.3 399L454 399.7L453.4 401L452.4 403L452 404L451.3 405L450 406.8L449.7 407L448 408.3L446.7 409L446 409.4L444 410.4L442.6 411L442 411.3L440 411.9L438 412L436 411.6L434.3 411L434 410.9L432 410.3L430 409.7L428.4 409L428 408.8L426 408.1L424 407L424 407L422 406L420.1 405L420 404.9L418 404L416.1 403L416 402.9L414 402L412.2 401L412 400.9L410 399.8L408.8 399L408 398.4L406.2 397L406 396.8L404 395.2L403.8 395L402 393.5L401.4 393L400 391.8L399.1 391L398 390.1L396.8 389L396 388.3L394.5 387L394 386.6L392.3 385L392 384.7L390.3 383L390 382.7L388.6 381L388 380.3L386.9 379L386 377.8L385.3 377L384 375.3L383.7 375L382.1 373L382 372.8L380.5 371L380 370.4L378.7 369L378 368.1L376.9 367L376 366L374.9 365L374 363.8L372.9 363L372 361.5M600 461.6L599.5 463L600 463.2L602 463.8L604 465L604 465L606 465.4L607.2 465L606.1 463L606 463L604 462.2L602 461.5L600 461.6M638 472L637.9 473L638 473.2L638 473ZM386 498.8L385.8 499L386 500.5L386.1 501L387.4 503L388 503.6L389.2 505L390 505.8L391.1 507L392 507.9L393.1 509L394 509.9L395.1 511L396 511.9L397.1 513L398 513.9L399.1 515L400 515.9L401.2 517L402 517.8L403.3 519L404 519.6L405.9 521L406 521L408 521.8L410 522.1L412 522.3L414 522.4L416 522.4L418 522.3L420 522.1L422 521.7L424 521.2L424.8 521L426 520.5L428 519.3L428.4 519L428.8 517L428.2 515L428 514.7L427.1 513L426 511.1L425.9 511L424.7 509L424 507.9L423.4 507L422.2 505L422 504.7L420.8 503L420 501.9L419.1 501L418 500.2L416 499.3L414.5 499L414 498.9L412 498.6L410 498.3L408 498.1L406 497.8L404 497.6L402 497.4L400 497.2L398 497.1L396 497.1L394 497.2L392 497.3L390 497.4L388 497.8ZM486 508.6L485.2 509L484 510.1L483.3 511L482.9 513L483.2 515L484 516.2L486 517L488 516.7L490 516.2L492 515.4L493 515L494 514.5L496 513.3L496.5 513L498 511.4L498.4 511L498 510L497.4 509L496 508.5L494 508.1L492 507.8L490 507.7L488 507.9L486 508.6M368 509.7L366.8 511L366 511.6L365 513L364 514.2L363.5 515L362.5 517L362.2 519L364 520.6L366 520.8L368 519.7L368.5 519L369.2 517L369.6 515L369.8 513L369.8 511ZM354.2 87L354 87.2L352.7 89L352 90.1L350.9 91L350 92.2L348.5 93L348 93.7L346 94.9L345.3 95L344 95.8L342 96.6L340 97L340 97L338 97.5L336 98.3L334 98.8L332 99L332 99L330 99.2L328 99.2L326 99.1L324 99L322 99L320 99L318 99L316 99L314 99L313.7 99L312 98.9L310 98.9L308 98.8L306 98.8L304 98.8L302 98.8L300 98.7L298 98.7L296 98.6L294 98.6L292 98.6L290 98.7L288 98.8L286.9 99L286 99.2L284 99.7L282 100.2L280 100.7L278.2 101L278 101.1L276 101.5L274 102L272 102.6L270 103L269.9 103L268 103.5L266 104.2L264.2 105L264 105.1L262 106.8L261.9 107L260 108.6L259.8 109L258 110.5L257.7 111L256 112.6L255.8 113L254.6 115L254 116.6L253.9 117L253.5 119L253.3 121L253.1 123L252.9 125L252.7 127L252.5 129L252 131L252 131.1L251.2 133L250.1 135L250 135.1L248.8 137L248 138.2L247.5 139L246.2 141L246 141.3L245.1 143L244.2 145L244 145.5L243.5 147L242.8 149L242.1 151L242 151.3L241.4 153L240.7 155L240 156.4L239.7 157L238.4 159L238 159.6L236.9 161L236 162L235.1 163L234 164L232.5 165L232 165.3L230 166.1L228 166.8L227.3 167L226 167.4L224 168L222 168.7L221.1 169L220 169.3L218 169.8L216 170.1L214 170.1L212 169.9L210 169.7L208 169.3L206.9 169L206 168.7L204 167.9L202.5 167L202 166.7L200 165.5L199.3 165L198 164.1L196.5 163L196 162.6L194.4 161L194 160.5L192.9 159L192 157.8L191.5 157L190.1 155L190 154.9L188.7 153L188 152L187.2 151L186 149.4L185.7 149L184 147.1L184 147L182.4 145L182 144.3L181.4 143L180.8 141L180.2 139L180 138.1L179.7 137L179.2 135L178.6 133L178.1 131L178 130.7L177.5 129L176.9 127L176.4 125L176 123L176 123L175.6 121L175.1 119L174.8 117L174.4 115L174.1 113L174 112.5L173.7 111L173.4 109L173.1 107L172.8 105L172.4 103L172.1 101L172 100.2L171.8 99L171.5 97L171.1 95L170.9 93L170.6 91L170.5 89L170.3 87M650 359.7L648 359.9L646 360.3L644 360.6L642 361L642 361L640 361.4L638 361.8L636 362.1L634 362.5L632 362.9L631.1 363L630 363.2L628 363.5L626 363.7L624 364L622 364.3L620 364.5L618 364.8L616 365L616 365L614 365.2L612 365.5L610 365.6L608 365.6L606 365.5L604 365.4L602 365.3L600 365.1L598 365.1L596 365.2L594 365.5L592 366L590 366.5L588 366.9L587.1 367L586 367.1L584 367.3L582 367.4L580 367.6L578 367.7L576 367.8L574 368L572 368.2L570 368.4L568 368.6L566 368.5L564 368.2L562 367.7L560 367.1L559.6 367L558 366.5L556 365.8L554 365.1L553.7 365L552 364.4L550 363.6L548.8 363L548 362.6L546 361.4L545.4 361L544 360.2L542 359.3L540.2 359L540 359L538 358.8L536 358.7L534 358.7L532 358.6L530 358.5L528 358.5L526 358.4L524 358.4L522 358.4L520 358.4L518 358.5L516 358.5L514 358.6L512 358.7L510 358.8L508 359L507.4 359L506 359.1L504 359.3L502 359.5L500 359.8L498 360.1L496 360.4L494 360.8L493.3 361L492 361.4L490 362.1L488 363L487.9 363L486 363.9L484 364.7L483.3 365L482 365.5L480 366.2L478.1 367L478 367L476 368.1L474.5 369L474 369.3L472 370.8L471.8 371L470 372.5L469.4 373L468 374.4L467.3 375L466 376.3L465.3 377L464 378.3L463.3 379L462 380.4L461.4 381L460 382.7L459.8 383L458.4 385L458 385.6L457.1 387L456 388.8L455.9 389L454.8 391L454 392.4L453.7 393L452.6 395L452 396.3L451.6 397L450.3 399L450 399.5L448.7 401L448 401.7L446.5 403L446 403.4L444 404.7L443.6 405L442 405.9L440 406.8L438.2 407L438 407L437.8 407L436 406.8L434 406.2L432 405.5L430.7 405L430 404.7L428 403.8L426.5 403L426 402.7L424 401.6L422.8 401L422 400.6L420 399.5L419 399L418 398.5L416 397.5L415.1 397L414 396.4L412 395.2L411.8 395L410 393.7L409.2 393L408 392L406.8 391L406 390.3L404.5 389L404 388.6L402.2 387L402 386.8L400 385.1L399.9 385L398 383.4L397.6 383L396 381.6L395.4 381L394 379.7L393.4 379L392 377.4L391.6 377L390 375L390 375L388.4 373L388 372.5L386.8 371L386 370L385.2 369L384 367.6L383.5 367L382 365.3L381.8 365L380.1 363L380 362.9L378.4 361L378 360.5L376.9 359L376 357.8L375.4 357L374.1 355L374 354.9L372.7 353L372 352L371.3 351L370 349.1L369.9 349L368.5 347L368 346.2L367.1 345L366 343.4L365.7 343L364.4 341L364 340.5L363 339L362 337.5L361.7 337L360.4 335L360 334.5L359.1 333L358 331.4L357.8 331L356.5 329L356 328.3L355.1 327L354 325.3L353.8 325L352.2 323L352 322.7L350 321L349.9 321L348 320.6L346.1 321L346 321L344 321.9L342.1 323L342 323.1L340.5 325L340.2 327L340.6 329L341.1 331L341.6 333L342 334.1L342.3 335L343.1 337L344 338.6L344.4 339L346 340.3L347.4 341L348 341.3L350 342.6L350.3 343L352 344.8L352.1 345L353.6 347L354 347.6L354.9 349L356 350.6L356.2 351L357.6 353L358 353.6L358.9 355L360 356.6L360.3 357L361.6 359L362 359.6L362.8 361L363.8 363L364 363.6L364.4 365L364.5 367L364.4 369L364.1 371L364 372.5L364 373L363.9 375L364 375.4L364.3 377L365 379L366 380.9L366 381L367.2 383L368 384.4L368.3 385L369.3 387L369.7 389L369.3 391L368 393L368 393L366.2 395L366 395.2L364.2 397L364 397.2L362.3 399L362 399.3L360.8 401L360 402.3L359.7 403L359.1 405L358.8 407L358.5 409L358.5 411L358.8 413L359.4 415L360 416.8L360.1 417L360.8 419L361.5 421L362 422.7L362.1 423L362.6 425L362.9 427L363 429L363 431L362.9 433L362.8 435L362.6 437L362.4 439L362.2 441L362 442.1L361.9 443L361.4 445L361 447L360.4 449L360 450.7L359.9 451L359.4 453L358.9 455L358.3 457L358 458.1L357.7 459L356.9 461L356 462.3L355.5 463L354 464.5L353.4 465L352 466.1L350.9 467L350 467.8L348.4 469L348 469.4L346 471L345.9 471L344 472.6L343.5 473L342 474.4L341.4 475L340 476.6L339.7 477L338.5 479L338 480.1L337.7 481L337.3 483L337.2 485L337.5 487L338 488.4L338.3 489L339.7 491L340 491.4L341.5 493L342 493.6L343.6 495L344 495.3L346 496.8L346.3 497L348 498.1L349.4 499L350 499.4L352 500.6L352.6 501L354 502L355.1 503L356 505L355.6 507L354.8 509L354 510.4L353.7 511L352.5 513L352 513.8L351.3 515L350 517L350 517L348.4 519L348 519.5L346 520.9L345.6 521L344 521.6L342 522.1L340 522.6L338.5 523L338 523.1L336 523.7L334 524.4L332.2 525L332 525.1L330 525.7L328 526.3L326 526.8L325.1 527L324 527.2L322 527.5L320 527.9L318 528.2L316 528.3L314 527.9L312.3 527L312 526.8L310 525.1L309.9 525L308 523.2L307.8 523L306 521.3L305.7 521L304 519.3L303.7 519L302 517.4L301.6 517L300 515.4L299.6 515L298 513.4L297.4 513L296 512L294 512.1L293.4 513L292.7 515L292.3 517L292.1 519L292 519.7L291.9 521L291.7 523L291.5 525L291.2 527L290.5 529L290 529.7L288 530.7L286 530.6L284 530.3L282 529.6L280.7 529L280 528.6L278 527L278 527L276.1 525L276 524.9L274.5 523L274 522.1L273.4 521L272.9 519L272.7 517L272.6 515L272.5 513L272.5 511L272.4 509L272.3 507L272.2 505L272.1 503L272 501.4L272 501L271.8 499L271.7 497L271.5 495L271.4 493L271.2 491L271.1 489L271.1 487L271.4 485L271.9 483L272 482.6L272.4 481L272.8 479L273.1 477L273.3 475L273.4 473L273.5 471L273.6 469L273.7 467L273.7 465L273.5 463L273.3 461L273.1 459L273.1 457L273.3 455L273 453L272 451L272 451L271 449L270.3 447L270 445.8L269.9 445L269.7 443L269.7 441L269.7 439L269.9 437L270 436.3L270.2 435L270.7 433L271.2 431L271.8 429L272 428.4L272.5 427L273.3 425L274 423.5L274.2 423L275.2 421L276 419.2L276.1 419L276.8 417L277.4 415L277.8 413L278 411L278 410.3L278 409L278 408.1L278 407L277.8 405L277.5 403L277.2 401L276.9 399L276.6 397L276.3 395L276 393.2L276 393L275.7 391L275.4 389L275.2 387L275 385L274.8 383L274.7 381L274.6 379L274.6 377L274.6 375L274.7 373L274.8 371L274.9 369L274.9 367L274.9 365L274.9 363L274.7 361L274.5 359L274.1 357L274 356.5L273.4 355L272 353.2L271.6 353L270 352L268.4 351L268 350.1L267.6 349L267.4 347L267.5 345L267.7 343L268 342.1L268.4 341L270 339L270 339L272 337.5L272.8 337L274 336.3L276 335.9L278 336.2L279.9 337L280 337.1L282 338.2L283.1 339L284 339.8L284.9 341L285.8 343L286 343.5L286.4 345L287 347L287.5 349L288 350.7L288.1 351L288.9 353L290 355L290 355L291.5 357L292 357.6L293.2 359L294 359.8L295.1 361L296 362L296.8 363L297.8 365L298 365.4L298.6 367L299.1 369L299.5 371L299.8 373L300 373.8L300.3 375L300.7 377L301.1 379L301.5 381L301.8 383L302 384L302.2 385L302.6 387L303 389L303.3 391L303.7 393L304 394.7L304.1 395L304.6 397L305 399L305.5 401L305.9 403L306 403.3L306.5 405L307 407L307.6 409L308 410.6L308.1 411L308.8 413L309.4 415L310 417L310 417.1L310.8 419L311.6 421L312 421.9L312.5 423L313.4 425L314 426.4L314.3 427L315.2 429L316 430.9L316.1 431L317.1 433L317.9 435L318 435.3L318.9 437L319.7 439L320 440L320.5 441L321.1 443L321.4 445L321.7 447L322 447.5L324 449L326 448.3L327.4 447L328 446L328.4 445L329 443L329.3 441L329.5 439L329.5 437L329.3 435L328.9 433L328.4 431L328 429.7L327.8 429L327.2 427L326.6 425L326 423.1L326 423L325.3 421L324.7 419L324 417L324 416.9L323.2 415L322.2 413L322 412.6L321.2 411L320.4 409L320 407.8L319.8 407L319.4 405L319 403L318.7 401L318.4 399L318.1 397L318 396.4L317.8 395L317.4 393L316.8 391L316 389L316 389L314.9 387L314 385.4L313.8 385L313 383L312.3 381L312 379.7L311.8 379L311.4 377L311 375L310.5 373L310.1 371L310 370.4L309.7 369L309.3 367L308.9 365L308.4 363L308 361L308 361L307.5 359L307 357L306.5 355L306 353L306 352.9L305.5 351L305 349L304.5 347L304 345L304 344.8L303.6 343L303.2 341L302.9 339L302.7 337L302.7 335L302.7 333L302.8 331L302.8 329L302.8 327L302.7 325L302.6 323L302.4 321L302.2 319L302.1 317L302 316.2L301.9 315L301.7 313L301.6 311L301.7 309L302 307.4L302.1 307L302.9 305L304 303.1L304.1 303L305.3 301L306 299.9L306.6 299L307.8 297L308 296.7L309.1 295L310 293.6L310.4 293L311.7 291L312 290.6L312.9 289L313.4 287L313.3 285L312.8 283L312.4 281L312.1 279L312 278.5L311.8 277L311.5 275L311.4 273L311.7 271L312 269.6L312.1 269L312.7 267L313.4 265L314 263.2L314.1 263L314.8 261L315.6 259L316 258L316.4 257L317.2 255L318 253L318 252.9L318.6 251L319.1 249L319.8 247L320 246.3L320.5 245L321.2 243L322 241.1L322.1 241L322.8 239L323.7 237L324 236.2L324.5 235L325.3 233L326 231.2L326.1 231L326.7 229L327.4 227L327.9 225L328 223L327.7 221L327.4 219L327.1 217L326.8 215L326.7 213L327 211L327.8 209L328 208.6L328.8 207L330 205.1L330 205L331.2 203L332 201.5L332.3 201L333.1 199L333.8 197L334 196.1L334.3 195L334.8 193L335.3 191L335.9 189L336 188.8L336.7 187L337.8 185L338 184.7L339.5 183L340 182.5L341.6 181L342 180.6L343.8 179L344 178.8L345.9 177L346 176.9L347.8 175L348 174.7L349.4 173L350 171.7L350.6 171L351.5 169L352 167.2L352.1 167L353 165L353.9 163L354 162.7L356 162.7L357.2 163L358 163L360 163.2L362 163.4L364 163.4L366 163.1L366.9 163L368 162.8L370 162.3L372 161.9L374 161.5L376 161.3L378 161.3L380 161.3L382 161.3L384 161.4L386 161.3L387.7 161L388 160.9L390 160.4L392 159.7L394 159.1L394.3 159L396 158.4L398 157.7L399.8 157L400 156.9L402 155.8L403 155L404 154.2L405.3 153L406 152.3L407.3 151L408 150.3L409.4 149L410 148.6L412 147.3L412.5 147L414 146.4L416 145.7L418 145.1L418.3 145L420 144.5L422 143.9L424 143.4L425.3 143L426 142.8L428 142.2L430 141.8L432 141.4L434 141.2L435.9 141L436 141L438 140.8L440 140.6L442 140.5L444 140.3L446 140.1L448 139.9L450 139.6L452 139.2L452.8 139L454 138.7L456 138.2L458 137.6L460 137.1L460.2 137L462 136.5L464 135.9L466 135.4L467.2 135L468 134.8L470 134.1L472 133.3L472.7 133L474 132.4L476 131.3L476.6 131L478 130.2L480 129L480 129L482 127.8L483.3 127L484 126.6L486 125.3L486.4 125L488 123.6L488.7 123L490 121.4L490.4 121L491.9 119L492 118.9L493.3 117L494 115.6L494.3 115L494.9 113L495.4 111L495.6 109L495.8 107L495.9 105L496 104.1L496.1 103L496.2 101L496.4 99L496.5 97L496.6 95L496.6 93L496.6 91L496.2 89L496 88.2L495.4 87M636 410.9L636.6 411L638 411.3L638.9 413L639.5 415L639.9 417L640 418.5L640 419L640.1 421L640.1 423L640.1 425L640 427L640 427.1L639.8 429L639.3 431L638.4 433L638 433.5L637 435L636 436.6L635.8 437L634.8 439L634.1 441L634 441.4L633.2 443L632.4 445L632 446.2L631.4 447L630 449L630 449L628 450.8L627.7 451L626 452.3L624.8 453L624 453.3L622 453.6L620 453.7L618 453.7L616 453.5L614 453.3L612 453L611.9 453L610 452.5L608 452L606 451.6L604 451.2L603.3 451L602 450.6L600 450L598 449.5L596 449.1L595.6 449L594 448.7L592.4 449L592 449.1L590 450.9L589.9 451L588.9 453L588 455L588 455.1L587.2 457L586.4 459L586 460.1L585.7 461L584.9 463L584.1 465L584 465.3L583.3 467L582.7 469L582.1 471L582.2 473L584 474.3L586 474.4L588 474.1L590 473.8L592 473.3L593 473L594 472.8L596 472.3L598 472L600 472.1L602 472.9L602.2 473L604 474.2L605.2 475L606 475.7L607.9 477L608 477.1L610 478.7L610.4 479L612 480.5L612.7 481L614 482.4L614.6 483L615.7 485L614.2 487L614 487.1L612 487.9L610 488.5L608 488.9L606 488.9L604 488.8L602 488.5L600 488.1L598 487.9L596 487.7L594 487.6L592 487.6L590 487.5L588 487.5L586 487.4L584 487.1L583.3 487L582 486.7L580 486.2L578 485.7L576 485.2L574.2 485L574 485L572 485L571.8 485L570 485.2L568 485.5L566 485.9L564 486.3L562 486.8L561.3 487L560 487.3L558 487.9L556 488.5L554.8 489L554 489.3L552 490.3L550 491L548 490.4L546.6 489L546 488L545.6 487L546 485L546 485L547.3 483L548 482L548.8 481L550 479.2L550.2 479L550.6 477L550 476.8L549.7 477L548 477.9L546 478.5L544 478.9L543.7 479L542 479.6L540.9 481L540 482.1L539.4 483L538 484.1L536.9 485L536 485.6L534.3 487L534 487.3L532.6 489L532 489.8L531.2 491L530 492.7L529.8 493L528.3 495L528 495.4L526.4 497L526 497.5L524 498.5L522 498.8L520 498.7L518 498.6L516 498.6L514 498.6L512 498.8L510 498.7L508 498.4L506 497.6L504.9 497L504 496.6L502 495.4L501.1 495L500 494.4L498 493.7L496 493.2L495.2 493L494 492.7L492 492.4L490 492.2L488 492.3L486 492.8L485.4 493L484 493.6L482 494.5L481 495L480 495.5L478 496.5L476.9 497L476 497.5L474 498.5L472.9 499L472 499.5L470 500.5L469.1 501L468 501.7L466.2 503L466 503.2L464.6 505L464 506L463.4 507L462 508.5L461.6 509L460 510.4L459.4 511L458 512.2L456.9 513L456 513.7L454 514.7L452 514.3L450.6 513L450 512.2L449.2 511L448 509.2L447.9 509L446.7 507L446 506L445.4 505L444.1 503L444 502.8L442.9 501L442 499.6L441.6 499L440.2 497L440 496.8L438.6 495L438 494.3L436.8 493L436 492.2L434.8 491L434 490.3L432.6 489L432 488.5L430.5 487L430 486.4L429 485L428.3 483L428.1 481L428.2 479L428.8 477L430 475.2L430.1 475L431.8 473L432 472.8L433.9 471L434 470.8L435.7 469L436 468.1L436.5 467L436.6 465L436.4 463L436.2 461L436 460L435.8 459L435.4 457L434.9 455L434.4 453L434 451L434 450.5L433.9 449L434 447.2L434 447L434.3 445L434.8 443L436 441.1L436.1 441L438 440.3L440 440.6L441.2 441L442 441.2L444 442L446 442.7L446.8 443L448 443.3L450 443.8L452 444.1L454 444.4L456 444.6L458 444.7L460 444.9L462 444.9L464 444.7L466 444.5L468 444.4L470 444.4L472 444.5L474 444.8L475.5 445L476 445.1L478 445.3L480 445.6L482 445.9L484 446.2L486 446.5L488 446.8L490 447L492 447L494 445L493.8 443L493.3 441L492.7 439L492.2 437L492 436.3L491.7 435L491.5 433L492 431L492 430.9L493.1 429L494 427.7L494.5 427L496 425.1L496.1 425L498 423.5L499.6 423L500 422.9L502 422.9L502.5 423L504 423.2L506 423.6L508 424L510 424.6L511 425L512 425.4L514 426.4L514.9 427L516 427.6L518 428.9L518.1 429L520 430.2L521.2 431L522 431.6L523.7 433L524 433.3L525.6 435L526 435.5L527 437L528 438.6L528.2 439L529.4 441L530 442.3L530.4 443L531.5 445L532 446L533.5 447L534 447.2L534.4 447L536 446.4L537.8 445L538 444.8L540 443.2L540.5 443L542 441.9L543.7 441L544 440.8L546 439.3L546.5 439L548 438L550 437.1L550.3 437L552 436.6L554 436.3L556 436.1L558 435.8L560 435.6L562 435.4L564 435.2L565.4 435L566 434.9L568 434.6L570 434.3L572 433.8L574 433.3L575 433L576 432.5L578 431.2L578.3 431L580 429.3L580.3 429L582 427L582 427L584 425.1L584.3 425L586 424.3L588 424.4L590 425L590.1 425L592 425.7L594 426.5L595.2 427L596 427.4L598 428.3L599.3 429L600 429.6L601.5 431L602 431.7L603 433L604 434.8L604.2 435L606 436.7L608 436.7L610 435.6L610.8 435L612 434.1L613.4 433L614 432.6L616 431L616 431L618 429.3L618.4 429L620 427.3L620.3 427L621.5 425L622 423.8L622.3 423L622.9 421L623.5 419L624 417.3L624.1 417L625.1 415L626 414L627.6 413L628 412.8L630 412.1L632 411.6L634 411.2L635.2 411ZM408 446.9L410 446.4L412 446.2L414 446.2L416 446.6L417 447L418 447.4L420 448.4L421.2 449L422 449.5L424 450.6L424.7 451L426 452.3L426.7 453L426.8 455L426 456.7L425.9 457L424.6 459L424 459.8L423.1 461L422 462.5L421.6 463L420.2 465L420 465.4L419.2 467L418.8 469L418.5 471L418 471.9L417.3 473L416 473.8L414 474.4L412 474.8L410.6 475L410 475.1L408 475.4L406 475.6L404 475.9L402 476.2L400 476.4L398 476.7L396 476.9L394 477L392 476.8L390 476.2L388.1 475L388 474.9L386 473.2L385.7 473L384 471.5L383.5 471L382 469.7L381.3 469L380 467.9L379.1 467L378 465.9L377.1 465L376 463.1L375.9 463L375.8 461L376 460.3L376.4 459L377.5 457L378 456.1L378.7 455L380 453.2L380.2 453L381.6 451L382 450.6L383.5 449L384 448.7L386 448L388 447.9L390 448L392 448.3L394 448.7L395.7 449L396 449L398 449.1L398.9 449L400 448.9L402 448.4L404 447.9L406 447.4L407.4 447ZM650 354.7L648 354.9L647.5 355L646 355.3L644 355.6L642 356L640 356.4L638 356.7L636.7 357L636 357.1L634 357.5L632 357.9L630 358.2L628 358.5L626 358.7L624 359L624 359L622 359.2L620 359.5L618 359.7L616 360L614 360.2L612 360.5L610 360.6L608 360.6L606 360.5L604 360.4L602 360.3L600 360.3L598 360.4L596 360.8L595.2 361L594 361.3L592 361.9L590 362.6L588.1 363L588 363L586 363.3L584 363.5L582 363.6L580 363.8L578 363.9L576 364.1L574 364.3L572 364.5L570 364.8L568.4 365L568 365L566 365.2L564 365.2L562.7 365L562 364.9L560 364.4L558 363.8L556 363.2L555.4 363L554 362.5L552 361.8L550 361L550 361L548 360L546.4 359L546 358.8L544 357.8L542 357.2L540.1 357L540 357L538 356.9L536 356.8L534 356.7L532 356.7L530 356.6L528 356.5L526 356.5L524 356.4L522 356.4L520 356.4L518 356.5L516 356.5L514 356.6L512 356.7L510 356.9L508.1 357L508 357L506 357.2L504 357.3L502 357.5L500 357.8L498 358L496 358.4L494 358.8L493.4 359L492 359.4L490 360.2L488.1 361L488 361.1L486 362L484 362.9L483.7 363L482 363.7L480 364.5L478.7 365L478 365.3L476 366.3L474.8 367L474 367.5L472 369L472 369L470 370.5L469.4 371L468 372.3L467.2 373L466 374.1L465.1 375L464 376.1L463.2 377L462 378.2L461.2 379L460 380.3L459.4 381L458 382.7L457.8 383L456.4 385L456 385.7L455.2 387L454 389L454 389L452.9 391L452 392.7L451.8 393L450.6 395L450 396L449.3 397L448 398.6L447.6 399L446 400.6L445.6 401L444 402.2L442.8 403L442 403.5L440 404.5L438 404.8L436 404.6L434 404.1L432 403.3L431.2 403L430 402.4L428 401.4L427.3 401L426 400.3L424 399.1L423.7 399L422 398.1L420 397L420 397L418 396L416.1 395L416 394.9L414 393.7L412.9 393L412 392.3L410.4 391L410 390.7L408.1 389L408 388.9L406 387.2L405.7 387L404 385.5L403.4 385L402 383.7L401.1 383L400 382L398.9 381L398 380.2L396.7 379L396 378.4L394.7 377L394 376.3L392.9 375L392 373.9L391.3 373L390 371.4L389.7 371L388 369L388 369L386.4 367L386 366.6L384.6 365L384 364.3L382.9 363L382 362L381.2 361L380 359.6L379.5 359L378 357L378 357L376.5 355L376 354.2L375.1 353L374 351.3L373.8 351L372.4 349L372 348.5L371 347L370 345.6L369.6 345L368.2 343L368 342.7L366.8 341L366 339.8L365.4 339L364 337L364 336.9L362.7 335L362 334L361.4 333L360.1 331L360 330.9L358.8 329L358 327.8L357.5 327L356.2 325L356 324.8L354.8 323L354 321.8L353.4 321L352 319.3L351.7 319L350 317.6L348 317.1L346 317.6L344 318.4L342.6 319L342 319.3L340 320.2L338.7 321L338 321.6L336.9 323L336.6 325L336.8 327L337.3 329L337.9 331L338 331.3L338.5 333L339.1 335L339.7 337L340 338L340.4 339L341.2 341L342 342.3L342.8 343L344 343.8L346 344.6L347.2 345L348 345.3L350 346.6L350.4 347L352 348.8L352.2 349L353.6 351L354 351.6L355 353L356 354.5L356.3 355L357.7 357L358 357.5L358.9 359L360 360.9L360.1 361L360.9 363L361.2 365L361.2 367L360.9 369L360.7 371L360.4 373L360.1 375L360 377L360.1 379L360.6 381L361.5 383L362 384L362.5 385L363.3 387L363.5 389L362.6 391L362 391.8L361 393L360 394.1L359.2 395L358 396.6L357.8 397L356.9 399L356.3 401L356 402.9L356 403L355.7 405L355.5 407L355.4 409L355.4 411L355.6 413L356 414.6L356.1 415L356.7 417L357.2 419L357.6 421L357.8 423L357.9 425L357.8 427L357.6 429L357.5 431L357.3 433L357.1 435L357 437L356.8 439L356.6 441L356.4 443L356.1 445L356 445.6L355.7 447L355.3 449L354.7 451L354.2 453L354 453.8L353.7 455L353 457L352 459L352 459.1L350.4 461L350 461.4L348.1 463L348 463.1L346 464.7L345.6 465L344 466.3L343.3 467L342 468.1L341.2 469L340 470.3L339.5 471L338 473L338 473L336.7 475L336 476.3L335.6 477L334.8 479L334.2 481L334 482.2L333.8 483L333.5 485L333.3 487L333.3 489L333.5 491L334 492.8L334.1 493L335.3 495L336 496L336.7 497L338 498.7L338.2 499L339.8 501L340 501.3L341.4 503L342 503.8L343.1 505L344 506L345 507L346 508.4L346.4 509L346.5 511L346 512.3L345.6 513L344 514.5L343.2 515L342 515.5L340 516.3L338.1 517L338 517L336 517.8L334 518.6L332.9 519L332 519.3L330 520.1L328 520.8L327.4 521L326 521.4L324 521.9L322 522.3L320 522.6L318 522.8L316 522.6L314 521.6L313.2 521L312 520L310.9 519L310 518.1L308.8 517L308 516.2L306.8 515L306 514.2L304.9 513L304 512L303.2 511L302 509.5L301.7 509L300.2 507L300 506.7L298.6 505L298 504.4L296 503.2L294.6 503L294 502.9L293.3 503L292 503.2L290 504.1L289.2 505L288.3 507L288 508.7L288 509L287.8 511L287.7 513L287.6 515L287.4 517L287.3 519L287.1 521L286.7 523L286 524.6L285.6 525L284 525.7L282 525.5L280.9 525L280 524.6L278.1 523L278 522.9L276.7 521L276 519.4L275.9 519L275.5 517L275.4 515L275.3 513L275.2 511L275.1 509L274.9 507L274.8 505L274.6 503L274.4 501L274.2 499L274 497.7L273.9 497L273.7 495L273.5 493L273.3 491L273.2 489L273.3 487L273.7 485L274 484.1L274.4 483L275.1 481L275.8 479L276 478.3L276.4 477L276.8 475L277.1 473L277.3 471L277.4 469L277.4 467L277.4 465L277.4 463L277.6 461L278 459.6L278.3 459L279.5 457L280 455.3L280.1 455L280 454.7L279.6 453L278 451L278 451L276 449L276 449L274 447.1L274 447L272.8 445L272.1 443L272 442.4L271.8 441L271.8 439L271.9 437L272 436.3L272.2 435L272.7 433L273.3 431L274 429.2L274.1 429L274.9 427L275.9 425L276 424.7L276.8 423L277.8 421L278 420.5L278.7 419L279.4 417L279.9 415L280 414.6L280.2 413L280.3 411L280.2 409L280 407L280 407L279.7 405L279.4 403L279.1 401L278.8 399L278.5 397L278.2 395L278 393.8L277.9 393L277.6 391L277.3 389L277.1 387L276.8 385L276.6 383L276.4 381L276.2 379L276.1 377L276.1 375L276.1 373L276.2 371L276.2 369L276.3 367L276.3 365L276.2 363L276.1 361L276 360.3L275.9 359L275.7 357L275.4 355L274.8 353L274 351.6L273.5 351L272.2 349L272 347.3L272 347L272 346.8L272.7 345L274 343.4L275.1 343L276 342.7L278 343L278 343L280 344.4L280.5 345L281.6 347L282 347.8L282.5 349L283.4 351L284 351.8L284.7 353L286 354.5L286.3 355L288 356.8L288.2 357L290 358.7L290.2 359L292 360.6L292.4 361L294 362.6L294.3 363L295.8 365L296 365.5L296.6 367L297.2 369L297.6 371L298 372.9L298 373L298.4 375L298.8 377L299.2 379L299.6 381L299.9 383L300 383.4L300.3 385L300.7 387L301 389L301.4 391L301.7 393L302 394.3L302.1 395L302.5 397L303 399L303.4 401L303.8 403L304 403.7L304.3 405L304.8 407L305.3 409L305.8 411L306 411.6L306.4 413L307 415L307.6 417L308 418L308.4 419L309.2 421L310 422.9L310 423L310.9 425L311.8 427L312 427.5L312.7 429L313.5 431L314 432.1L314.4 433L315.3 435L316 436.7L316.1 437L316.9 439L317.5 441L317.8 443L317.7 445L317.3 447L317.1 449L317.8 451L318 451.2L320 452.5L321.2 453L322 453.2L324 453.3L324.8 453L326 452.6L328 451.3L328.4 451L330 449.4L330.4 449L331.5 447L332 445.7L332.2 445L332.8 443L333.2 441L333.7 439L334 437.7L334.2 437L334.5 435L334.8 433L335.1 431L335.1 429L335 427L334.7 425L334.2 423L334 422.2L333.6 421L333 419L332.4 417L332 416L331.6 415L330.7 413L330 411.6L329.7 411L328.6 409L328 408L327.4 407L326.4 405L326 404L325.6 403L325 401L324.6 399L324.3 397L324 395.3L324 395L323.6 393L323.2 391L322.4 389L322 388.2L321.4 387L320.2 385L320 384.8L318.9 383L318 381.5L317.7 381L316.8 379L316.1 377L316 376.6L315.6 375L315.1 373L314.7 371L314.3 369L314 367.6L313.9 367L313.5 365L313 363L312.6 361L312.1 359L312 358.5L311.6 357L311.1 355L310.6 353L310.1 351L310 350.4L309.6 349L309.2 347L308.8 345L308.5 343L308.3 341L308.3 339L308.3 337L308.4 335L308.4 333L308.5 331L308.6 329L308.6 327L308.6 325L308.6 323L308.4 321L308.3 319L308.1 317L308 315.6L308 315L307.9 313L308 311L308 311L308.5 309L309.4 307L310 306.1L310.6 305L311.9 303L312 302.8L313.2 301L314 299.7L314.5 299L315.9 297L316 296.8L317.3 295L318 294.1L318.8 293L320 291.2L320.2 291L321.3 289L321.7 287L321.3 285L320.4 283L320 282.1L319.6 281L319 279L318.6 277L318 275L318 274.9L317.5 273L317.1 271L317.1 269L317.4 267L317.9 265L318 264.6L318.5 263L319.2 261L320 259L320 259L320.7 257L321.3 255L321.8 253L322 252.1L322.2 251L322.7 249L323.4 247L324 245.8L324.5 245L325.7 243L326 242.6L327.1 241L328 239.4L328.2 239L329.2 237L330 235.3L330.1 235L331.4 233L332 232.2L333.5 231L334 230.6L336 229.4L336.7 229L338 228L339.3 227L340 226.3L341.4 225L342 224.4L343.4 223L344 222.3L345.3 221L346 220.2L347.3 219L348 218.2L350 217L350.1 217L352 216.7L353.3 217L354 217.1L356 217.8L358 218.7L358.7 219L360 219.5L362 220.3L363.7 221L364 221.1L366 221.9L368 222.9L368.3 223L370 223.9L372 224.9L372.4 225L374 226L376 226.9L377 227L378 227.8L380 228.9L381.5 229L382 230L384 231L384 233L384 233L386 235L386 237L386 239L386 241L386 241L388 243L388 245L388 247L388 249L388 249L390 251L390 253L390 255L390 257L390 259L390 259L390 259L392 257L392 257L394 255L394 255L394 253L394 251L394 249L394 247L394 245L394 243L396 241L396 241L396 239L398 237L398 237L400 235L400 235L402 233L402 233L402 231L402 229L402 227L403.4 225L404 224.9L404.7 223L406 222.6L406.5 221L408 220.2L408.3 219L410 217.6L410.2 217L412 215L412 215L413.4 213L414 212.5L414.9 211L416 209.6L416.3 209L417.6 207L418 206.4L418.8 205L420 203.2L420.1 203L421.3 201L422 200.2L422.8 199L424 197.7L424.6 197L426 195.5L426.5 195L428 193.4L428.5 193L430 191.5L430.6 191L432 189.7L432.9 189L434 188.1L435.4 187L436 186.5L437.9 185L438 184.9L440 183.3L440.4 183L442 181.5L442.8 181L444 179.9L445.2 179L446 178.3L447.5 177L448 176.5L449.3 175L450 174.5L452 173.1L452.3 173L454 172.4L456 172L458 171.7L460 171.4L462 171.2L464 171L464.3 171L466 170.7L468 170.2L470 169.3L470.6 169L472 168L474 167L474.1 167L476 166.2L478 165.7L480 165.3L481.6 165L482 164.9L484 164.5L486 164L488 163.6L490 163.2L491.1 163L492 162.7L494 162.2L496 161.6L498 161.1L498.5 161L500 160.5L502 159.9L504 159.4L505.6 159L506 158.9L508 158.3L510 157.7L512 157L512.1 157L514 155.9L516 155L516 155L518 153.8L520 153L520 153L522 151.7L523.8 151L524 150.8L526 149.5L527.7 149L528 148.8L530 147.5L531.2 147L532 146.2L533.4 145L534 144.4L535.4 143L536 142.3L537 141L538 139.3L538 139L538.5 137L539.1 135L539.8 133L540 132.2L540.1 131L540.4 129L540.5 127L540.4 125L540 123L540 122.9L539.6 121L539 119L538.4 117L538 115.5L537.9 115L537.3 113L536.6 111L536 109.3L535.9 109L535.2 107L534.5 105L534 103.4L533.9 103L533.3 101L532.7 99L532.2 97L532 96.4L531.6 95L531 93L530.4 91L530 89.2L530 89L529.6 87M198 93.5L200 93.2L202 94.4L202.3 95L204 95.3L206 96.4L206.5 97L208 97.4L210 98.5L210.5 99L212 99.6L213.9 101L214 101L215.9 103L216 103.1L217.1 105L218 106.7L218.1 107L219 109L219.8 111L220 111.5L220.6 113L221.4 115L222 116.4L222.2 117L223 119L223.7 121L224 122L224.3 123L225 125L225.6 127L226 128.6L226.1 129L226.2 131L226 131.8L225.7 133L224.7 135L224 136.3L223.6 137L222.4 139L222 139.7L221.2 141L220.1 143L220 143.3L219 145L218.1 147L218 147.7L217.2 149L216.3 151L216 151.6L214.4 153L214 153.3L212 154.6L210.6 155L210 155.1L208 155.2L206 155.2L204 155.2L202.7 155L202 154.9L200 154L198.8 153L198 152.4L196.8 151L196 150.2L195 149L194 147.8L193.4 147L192 145.4L191.7 145L190 143L190 143L188.7 141L188 139.7L187.7 139L187.2 137L186.7 135L186.2 133L186 132.4L185.8 131L185.4 129L185 127L184.7 125L184.4 123L184.2 121L184.2 119L184.3 117L184.4 115L184.6 113L184.7 111L185 109L185.4 107L185.9 105L186 104.7L187.4 103L188 101.8L189.4 101L190 100L191.7 99L192 98.4L194 97L194.1 97L196 95.2L197.4 95ZM500 424.9L502 424.6L504 424.7L506 425L506 425L508 425.4L510 426L512 426.8L512.3 427L514 427.9L515.8 429L516 429.1L518 430.4L518.9 431L520 431.8L521.5 433L522 433.5L523.5 435L524 435.7L524.9 437L526 438.8L526.1 439L527.2 441L528 442.9L528 443L528.7 445L529.2 447L529.8 449L530 449.4L532 450.9L534 450.4L536 449.1L536.1 449L538 447.4L538.6 447L540 446.1L542 445.6L544 445.8L546 446.2L548 446.3L550 445.8L551.7 445L552 444.8L554 444L556 443.5L558 443.2L560 443L560.1 443L562 442.8L564 442.6L566 442.4L568 442.2L570 442L572 441.8L574 441.6L576 441.4L578 441.2L580 441L582 441L584 441.6L585 443L585.2 445L584.9 447L584.4 449L584 450.4L583.8 451L583.1 453L582.4 455L582 456.1L581.6 457L580.9 459L580.1 461L580 461.2L579.3 463L578.5 465L578 466.3L577.7 467L576.9 469L576.1 471L576 471.2L575 473L574 474.2L572 474.5L570 473.2L569.8 473L568 471.4L567.7 471L566 469.3L565.7 469L564 467.4L563.4 467L562 466.3L560 466L558 466.3L556.1 467L556 467L554 468.5L553.3 469L552 470.1L550.9 471L550 471.8L548.5 473L548 473.4L546 474.8L545.3 475L544 475.4L542 475.1L541.7 475L540 474.3L538.1 473L538 472.9L536 471.9L534.8 473L535.4 475L536 476.6L536.2 477L536.7 479L536.4 481L536 481.5L534.8 483L534 483.7L532.6 485L532 485.7L530.8 487L530 488.1L529.2 489L528 490.6L527.6 491L526 492.6L525.2 493L524 493.6L522 493.8L520 493.4L518.7 493L518 492.8L516 492.2L514 491.7L512 491.1L511.7 491L510 490.6L508 490.1L506 489.7L504 489.2L503.2 489L502 488.8L500 488.5L498 488.2L496 488L494 487.7L492 487.4L490 487.1L488 487.1L486 487.7L484 488.5L483 489L482 489.6L480 490.6L479.3 491L478 491.7L476 492.8L475.6 493L474 493.9L472 494.9L471.9 495L470 496L468 497L468 497L466 497.9L464 498.8L463.6 499L462 500.3L461.3 501L460 502.7L459.7 503L458 504.7L456.9 505L456 505.3L455.5 505L454 504L453.3 503L452 501.4L451.7 501L450 499L450 499L448 497L448 497L446 495.1L445.9 495L444 493.4L443.5 493L442 491.8L441.1 491L440 490.1L438.6 489L438 488.5L436.1 487L436 486.9L434 485.2L433.8 485L432.2 483L432 482.3L431.6 481L431.6 479L432 477.8L432.3 477L433.7 475L434 474.7L436 473L436 473L438 471.5L438.8 471L440 470.1L441.9 469L442 468.9L444 467.4L444.7 467L446 465.8L447.3 465L448 464L449.2 463L450 461.7L450.6 461L452 459.2L452.2 459L453.7 457L454 456.6L455 455L456 453.8L456.6 453L458 451.5L458.4 451L460 450L461.4 449L462 448.8L464 448L466 447.5L468 447.3L470 447.4L472 447.6L474 447.9L476 448.2L478 448.5L480 448.8L481.7 449L482 449L484 449.3L486 449.6L488 449.9L490 450.2L492 450.4L494 450.6L496 450.3L496.9 449L496.9 447L496.5 445L496 443.4L495.9 443L495.1 441L494.5 439L494 437.5L493.8 437L493.5 435L493.6 433L494 431.9L494.4 431L495.7 429L496 428.6L497.3 427L498 426.2L499.9 425ZM390 452.3L392 452.1L394 452.5L396 453L396.1 453L398 453.5L400 454.1L402 454.7L403.3 455L404 455.2L406 455.6L408 456.2L409.3 457L410 457.9L410.6 459L411.2 461L411.7 463L412 463.9L412.4 465L412.8 467L412.6 469L412 469.8L410 470.8L409.4 471L408 471.3L406 471.6L404 471.8L402 472.1L400 472.3L398 472.5L396 472.4L394 472L392.1 471L392 471L390 469.3L389.6 469L388 467.6L387.4 467L386 465.7L385.3 465L384 463.3L383.7 463L383.2 461L383.8 459L384 458.6L385 457L386 455.6L386.4 455L388 453.2L388.3 453ZM620.1 87L620 87.1L619.5 89L619 91L618.5 93L618.2 95L618 96.1L617.9 97L617.5 99L617.3 101L617.2 103L617.2 105L617.4 107L617.6 109L617.9 111L618 111.7L618.1 113L618.4 115L618.6 117L619 119L619.6 121L620 122.1L620.3 123L621.1 125L621.9 127L622 127.2L622.8 129L623.7 131L624 131.6L625 133L626 134L627.6 135L628 135.2L630 136.1L632 136.9L632.3 137L634 137.7L636 138.3L638 138.8L640 139L640 139L642 139.1L644 139L644.8 139L646 138.9L648 138.5L650 137.7M650 349.7L648 349.9L646 350.3L644 350.6L642 351L642 351L640 351.4L638 351.7L636 352.1L634 352.5L632 352.9L631.1 353L630 353.2L628 353.5L626 353.7L624 354L622 354.2L620 354.5L618 354.7L616 355L616 355L614 355.2L612 355.5L610 355.6L608 355.6L606 355.5L604 355.4L602 355.4L600 355.6L598 356.1L596 356.6L594.9 357L594 357.3L592 358L590 358.6L588.6 359L588 359.2L586 359.5L584 359.7L582 359.9L580 360L578 360.2L576 360.4L574 360.6L572 360.9L571 361L570 361.1L568 361.4L566 361.7L564 361.9L562 361.8L560 361.6L558 361.2L557.4 361L556 360.6L554 359.9L552 359.2L551.5 359L550 358.4L548 357.4L547.3 357L546 356.3L544 355.6L542 355.2L540 355L538.9 355L538 355L536 354.9L534 354.8L532 354.7L530 354.6L528 354.6L526 354.5L524 354.5L522 354.4L520 354.5L518 354.5L516 354.6L514 354.7L512 354.8L510 354.9L508.9 355L508 355.1L506 355.2L504 355.4L502 355.5L500 355.8L498 356L496 356.4L494 356.8L493.4 357L492 357.5L490 358.3L488.3 359L488 359.2L486 360.1L484 361L484 361L482 361.9L480 362.7L479.3 363L478 363.5L476 364.5L475.1 365L474 365.7L472.2 367L472 367.1L470 368.6L469.5 369L468 370.3L467.1 371L466 372L465 373L464 374L463 375L462 376L461 377L460 378L459.1 379L458 380.2L457.3 381L456 382.7L455.8 383L454.5 385L454 385.8L453.3 387L452.1 389L452 389.2L450.9 391L450 392.5L449.6 393L448.2 395L448 395.2L446.5 397L446 397.5L444.5 399L444 399.5L442.1 401L442 401.1L440 402.1L438 402.6L436 402.5L434 401.9L432 401.1L431.9 401L430 400L428.1 399L428 398.9L426 397.8L424.6 397L424 396.7L422 395.6L420.9 395L420 394.5L418 393.5L417.2 393L416 392.3L414.1 391L414 390.9L412 389.3L411.6 389L410 387.6L409.3 387L408 385.9L407 385L406 384.1L404.7 383L404 382.4L402.4 381L402 380.6L400.2 379L400 378.9L398 377.1L397.9 377L396 375.1L395.9 375L394.2 373L394 372.8L392.6 371L392 370.3L390.9 369L390 367.9L389.2 367L388 365.6L387.5 365L386 363.3L385.8 363L384 361L384 361L382.3 359L382 358.7L380.6 357L380 356.2L379.1 355L378 353.6L377.6 353L376.2 351L376 350.7L374.8 349L374 347.8L373.4 347L372 345L372 344.9L370.6 343L370 342.1L369.2 341L368 339.2L367.8 339L366.5 337L366 336.3L365.1 335L364 333.4L363.7 333L362.4 331L362 330.4L361.1 329L360 327.3L359.8 327L358.5 325L358 324.3L357.1 323L356 321.3L355.8 321L354.4 319L354 318.4L352.9 317L352 315.8L351 315L350 314.1L348 313.7L346 314.1L344 314.9L343.8 315L342 315.8L340 316.7L339.2 317L338 317.6L336 318.6L335.2 319L334 320.1L333.3 321L332.9 323L333.1 325L333.6 327L334 328.4L334.2 329L334.8 331L335.4 333L335.9 335L336 335.2L336.5 337L337.1 339L337.7 341L338 341.8L338.4 343L339.4 345L340 345.9L341.3 347L342 347.4L344 348.1L346 348.6L347.3 349L348 349.2L350 350.5L350.4 351L352 352.7L352.2 353L353.7 355L354 355.5L355 357L356 358.6L356.2 359L357.2 361L357.8 363L358 365L357.8 367L357.5 369L357.2 371L356.9 373L356.6 375L356.4 377L356.2 379L356.1 381L356.4 383L356.9 385L357.3 387L357 389L356 390.9L355.9 391L354.8 393L354 395L354 395L353.5 397L353.2 399L352.9 401L352.7 403L352.4 405L352.2 407L352.1 409L352 411L352.1 413L352.3 415L352.5 417L352.6 419L352.6 421L352.5 423L352.3 425L352.2 427L352 429L352 429L351.8 431L351.7 433L351.5 435L351.3 437L351.2 439L351 441L350.9 443L350.6 445L350.4 447L350 449L350 449L349.5 451L349 453L348.3 455L348 455.5L347.1 457L346 458.2L345.2 459L344 460.1L343 461L342 461.9L341 463L340 464L339.3 465L338 466.8L337.8 467L336.6 469L336 469.9L335.3 471L334.1 473L334 473.2L333 475L332.2 477L332 477.5L331.6 479L331.1 481L330.8 483L330.4 485L330.1 487L330 487.5L329.8 489L329.5 491L329.4 493L329.5 495L330 497L330 497L331 499L332 500.4L332.4 501L333.9 503L334 503.1L335.3 505L336 506.1L336.6 507L337.2 509L336.5 511L336 511.3L334 512.6L333.3 513L332 513.6L330 514.4L328.4 515L328 515.2L326 515.9L324 516.5L322 516.9L321.6 517L320 517.2L318 517.1L317.6 517L316 516.4L314 515L314 515L312 513.1L311.9 513L310 511.1L309.9 511L308.2 509L308 508.7L306.8 507L306 505.9L305.4 505L304.1 503L304 502.8L302.8 501L302 499.9L301.3 499L300 497.3L299.6 497L298 495.8L296 495.3L294 495.3L292 495.5L290 495.8L288 496.2L286 496.9L285.9 497L284.3 499L284 499.7L283.6 501L283.3 503L283.1 505L282.9 507L282.8 509L282.6 511L282.5 513L282.4 515L282.1 517L282 517.5L280 518L279.7 517L279.3 515L279.1 513L278.8 511L278.4 509L278 507.1L278 507L277.7 505L277.5 503L277.2 501L276.9 499L276.5 497L276.1 495L276 494.3L275.8 493L275.6 491L275.4 489L275.6 487L276 485.2L276.1 485L276.9 483L277.7 481L278 480.4L278.6 479L279.4 477L280 475.2L280.1 475L280.7 473L281 471L281.3 469L281.5 467L281.9 465L282 464.8L282.9 463L284 461.6L284.5 461L286 459.2L286.2 459L287.4 457L287.4 455L286.2 453L286 452.8L284.3 451L284 450.8L282 449L282 449L280 447.3L279.7 447L278 445.6L277.4 445L276 443.6L275.6 443L274.6 441L274.1 439L274.1 437L274.4 435L275 433L275.8 431L276 430.4L276.6 429L277.6 427L278 426.1L278.5 425L279.5 423L280 421.9L280.4 421L281.3 419L282 417.1L282 417L282.5 415L282.6 413L282.5 411L282.4 409L282.1 407L282 406.5L281.8 405L281.5 403L281.2 401L280.8 399L280.5 397L280.2 395L280 393.8L279.9 393L279.6 391L279.4 389L279.1 387L278.8 385L278.5 383L278.3 381L278.1 379L278 378.4L277.9 377L277.8 375L277.7 373L277.7 371L277.7 369L277.8 367L277.8 365L277.7 363L277.7 361L277.7 359L277.7 357L277.8 355L278 354.1L280 353.2L282 354.5L282.5 355L284 356.2L284.8 357L286 358L287.1 359L288 359.7L289.5 361L290 361.4L291.8 363L292 363.2L293.6 365L294 365.6L294.7 367L295.3 369L295.8 371L296 371.8L296.2 373L296.6 375L296.9 377L297.3 379L297.7 381L298 382.7L298.1 383L298.4 385L298.7 387L299 389L299.4 391L299.8 393L300 394L300.2 395L300.5 397L300.9 399L301.3 401L301.8 403L302 403.9L302.2 405L302.6 407L303.1 409L303.6 411L304 412.4L304.2 413L304.7 415L305.3 417L306 418.7L306.1 419L306.9 421L307.7 423L308 423.6L308.6 425L309.4 427L310 428.2L310.3 429L311.2 431L312 432.8L312.1 433L312.9 435L313.7 437L314 438L314.3 439L314.6 441L314.5 443L314 444.9L314 445L313.3 447L312.7 449L312.5 451L313.1 453L314 453.8L315.9 455L316 455.1L318 455.9L320 456.6L321.7 457L322 457.1L323.3 457L324 457L326 456.2L327.8 455L328 454.9L330 453.4L330.5 453L332 451.7L332.8 451L334 449.3L334.2 449L335.1 447L335.7 445L336 443.8L336.2 443L336.7 441L337.2 439L337.8 437L338 436L338.3 435L338.8 433L339.2 431L339.7 429L340 427.5L340.1 427L340.5 425L340.7 423L340.8 421L340.8 419L340.5 417L340 415L340 415L339.2 413L338.3 411L338 410.5L337.2 409L336 407L336 407L334.9 405L334 403.5L333.7 403L332.6 401L332 399.8L331.6 399L330.8 397L330.3 395L330 393.8L329.8 393L329.4 391L328.8 389L328 387.2L327.9 387L326.7 385L326 383.8L325.5 383L324.2 381L324 380.8L322.9 379L322 377.6L321.6 377L320.7 375L320 373.3L319.9 373L319.4 371L318.9 369L318.5 367L318.1 365L318 364.8L317.6 363L317.2 361L316.7 359L316.2 357L316 356.1L315.7 355L315.2 353L314.8 351L314.4 349L314 347L314 346.5L313.9 345L313.8 343L313.8 341L313.9 339L314 337L314 336.3L314.1 335L314.1 333L314.2 331L314.3 329L314.4 327L314.4 325L314.4 323L314.4 321L314.3 319L314.2 317L314.1 315L314.3 313L315 311L316 309L316 309L317.2 307L318 305.8L318.6 305L320 303L320 303L321.4 301L322 300.2L322.9 299L324 297.4L324.3 297L325.8 295L326 294.7L327.2 293L328 291.9L328.6 291L329.7 289L330 287.8L330.2 287L330 286.3L329.7 285L328.5 283L328 282.2L327.3 281L326.3 279L326 278.3L325.5 277L324.9 275L324.3 273L324 272.1L323.6 271L323.1 269L322.7 267L322.8 265L323.1 263L323.6 261L324 259.6L324.2 259L324.6 257L325 255L325.3 253L325.6 251L326 249.6L326.2 249L327.2 247L328 245.8L328.6 245L330 243.2L330.1 243L331.6 241L332 240.4L333 239L334 237.4L334.4 237L336 235.6L337.3 235L338 234.7L340 234L342 233.3L342.6 233L344 232.2L345.7 231L346 230.7L348 229.2L348.5 229L350 228.3L352 228.2L354 228.8L354.4 229L356 229.8L357.6 231L358 231.4L359.4 233L360 233.8L360.9 235L362 236.5L362.4 237L363.9 239L364 239.1L365.1 241L365.8 243L366 243.8L366.3 245L366.7 247L367 249L367.3 251L367.7 253L368 254.4L368.1 255L368.6 257L369.2 259L369.9 261L370 261.5L370.5 263L371 265L371.4 267L371.8 269L372 269.7L372.3 271L373.3 273L374 273.8L375 275L376 275.8L377.5 277L378 277.4L380 278.6L380.9 279L382 279.5L384 280L386 279.9L388 279.3L388.5 279L390 278.3L392 277.2L392.5 277L394 276.2L396 275.2L396.4 275L398 274.3L400 273.6L402 273.3L404 273.2L406 273.3L408 273.5L410 273.6L412 273.7L414 273.8L416 273.7L418 273.5L420 273.1L420.6 273L422 272.6L424 271.9L426 271.1L426.4 271L428 270.3L430 269.5L431.2 269L432 268.6L434 267.4L434.6 267L436 265.1L436 265L436.3 263L436.4 261L436.4 259L436.4 257L436.2 255L436 253.4L435.9 253L435.4 251L434.8 249L434.2 247L434 246.5L433.5 245L432.9 243L432.2 241L432 240.2L431.7 239L431.1 237L430.6 235L430.1 233L430 232.5L429.6 231L429.2 229L429 227L429 225L429.1 223L429.2 221L429.4 219L429.6 217L429.9 215L430 214.4L430.3 213L430.9 211L431.5 209L432 207.6L432.2 207L432.9 205L433.6 203L434 202L434.4 201L435.6 199L436 198.5L437.4 197L438 196.5L439.9 195L440 194.9L442 193.6L442.8 193L444 192.2L445.8 191L446 190.8L448 189.5L448.8 189L450 188.3L452 187.3L452.6 187L454 186.5L456 185.9L458 185.2L458.6 185L460 184.4L462 183.4L462.8 183L464 182.4L466 181.4L466.8 181L468 180.5L470 179.8L472 179.2L472.8 179L474 178.7L476 178.2L478 177.7L480 177.3L481.3 177L482 176.9L484 176.5L486 176.1L488 175.9L490 175.8L492 175.7L494 175.6L496 175.5L498 175.2L499.4 175L500 174.9L502 174.6L504 174.2L506 173.8L508 173.4L510 173.1L510.3 173L512 172.7L514 172.3L516 171.9L518 171.5L520 171.1L520.3 171L522 170.6L524 170.2L526 169.8L528 169.4L529.9 169L530 169L532 168.7L534 168.4L536 168.1L538 168L540 168L542 168.1L544 168.3L546 168.5L548 168.4L550 167.6L550.8 167L552 165.7L552.5 165L553.7 163L554 162.6L554.9 161L556 159.3L556.2 159L557.5 157L558 156.4L559.1 155L560 153.8L560.7 153L562 151.4L562.3 151L563.9 149L564 148.9L565.6 147L566 146.5L567.2 145L568 144L568.9 143L570 141.6L570.5 141L572 139L572 138.9L573 137L573.5 135L573.7 133L573.7 131L573.6 129L573.5 127L573.3 125L573.2 123L572.9 121L572.4 119L572 117.9L571.7 117L570.8 115L570 113.5L569.8 113L568.8 111L568 109.5L567.8 109L566.8 107L566 105.3L565.9 105L565 103L564.1 101L564 100.7L563.3 99L562.5 97L562 95.9L561.7 95L561 93L560.4 91L560.2 89L560.5 87M502 426.5L504 426.3L506 426.5L508 426.9L508.5 427L510 427.4L512 428.3L513.4 429L514 429.3L516 430.6L516.6 431L518 432L519.3 433L520 433.6L521.4 435L522 435.9L522.8 437L524 439L524 439L524.9 441L525.6 443L526 445L526 445.2L526.1 447L526.5 449L527.1 451L528 452.8L528.1 453L530 454.2L532 453.9L533.8 453L534 452.9L536 451.4L536.5 451L538 449.7L539.2 449L540 448.5L542 448.2L544 448.7L544.6 449L546 449.5L548 450.4L549.7 451L550 451.1L552 451.5L554 451.6L556 451.4L557.5 451L558 450.9L560 450.5L562 450.2L564 450L566 449.8L568 449.6L570 449.4L572 449.2L574 449.3L576 450.1L576.7 451L576.8 453L576.5 455L576 456.9L576 457L575.3 459L574.5 461L574 462.4L573.8 463L572.9 465L572 466.8L571.8 467L570 468L568 467.4L567.5 467L566 466.1L564.3 465L564 464.9L562 464.1L560 463.9L558 464.1L556 464.6L555.1 465L554 465.6L552 467L551.9 467L550 468.6L549.5 469L548 470.3L547 471L546 471.8L544 472.6L542 472.5L540 471.5L539.3 471L538 470.1L536.8 469L536 468.3L534.6 467L534 466.4L532.3 465L532 464.8L530 464.4L529.2 465L528.8 467L529.2 469L529.8 471L530 471.4L530.8 473L531.8 475L532 475.5L532.7 477L533.2 479L532.8 481L532 482L531.2 483L530 484.3L529.4 485L528 486.7L527.7 487L526 488.6L525.3 489L524 489.7L522 489.8L520 489.4L518.6 489L518 488.8L516 488.2L514 487.6L512 487.1L511.7 487L510 486.6L508 486.3L506 486.1L504 485.9L502 485.8L500 485.7L498 485.5L496 485.3L494.5 485L494 484.9L492 484.4L490 484L488 484.1L486 484.6L484.9 485L484 485.4L482 486.4L480.9 487L480 487.5L478 488.6L477.2 489L476 489.7L474 490.8L473.6 491L472 491.9L470 492.9L469.8 493L468 493.8L466 494.5L464 494.8L463 495L462 495.2L460 496.2L458.7 497L458 497.5L456 497.5L455.1 497L454 496.5L452 495L452 495L450 493.5L449.4 493L448 491.9L446.8 491L446 490.4L444.2 489L444 488.8L442 487.3L441.7 487L440 485.7L439.1 485L438 484.1L436.8 483L436 482L435.3 481L434.9 479L435.3 477L436 476L436.7 475L438 474L439.2 473L440 472.4L442 471.1L442.2 471L444 469.8L445.6 469L446 468.7L448 467.6L449.4 467L450 466.6L452 465.5L453 465L454 464.2L455.5 463L456 462.5L457.3 461L458 460.2L458.9 459L460 457.6L460.4 457L461.9 455L462 454.9L463.5 453L464 452.5L465.8 451L466 450.9L468 450.2L470 450.1L472 450.3L474 450.6L476 450.9L477 451L478 451.1L480 451.4L482 451.7L484 452L486 452.3L488 452.6L490 452.9L490.5 453L492 453.3L494 453.8L496 454.4L497.7 455L498 455.1L500 455.7L502 455.6L502.7 455L502.2 453L502 452.8L500.9 451L500 449.3L499.9 449L499.1 447L498.3 445L498 444.2L497.5 443L496.8 441L496.1 439L496 438.7L495.5 437L495.4 435L495.8 433L496 432.7L497 431L498 429.6L498.4 429L500 427.4L500.7 427ZM394 456.7L396 456.4L398 456.7L399.2 457L400 457.2L402 458L404 459L404 459L406 460.8L406.2 461L407.3 463L407.8 465L406.5 467L406 467.2L404 467.7L402 468L400 468L398 467.8L396.2 467L396 466.9L394 465.3L393.6 465L392 463.1L391.9 463L391.2 461L391.6 459L392 458.4L393.3 457ZM650 339.7L648 339.9L646 340.3L644 340.6L642 341L642 341L640 341.4L638 341.7L636 342.1L634 342.5L632 342.9L631.1 343L630 343.2L628 343.5L626 343.7L624 344L622 344.2L620 344.5L618 344.7L616 345L616 345L614 345.2L612 345.5L610 345.6L608 345.7L606 345.8L604 346.1L602 346.6L600.9 347L600 347.3L598 348L596 348.7L595.1 349L594 349.4L592 350.1L590 350.8L589.3 351L588 351.4L586 351.8L584 352.1L582 352.3L580 352.5L578 352.7L576 353L576 353L574 353.3L572 353.6L570 353.8L568 354.1L566 354.4L564 354.7L562 355L561.7 355L560 355.2L558 355.2L556 355L555.9 355L554 354.6L552 354L550 353.2L549.5 353L548 352.4L546 351.7L544 351.4L542 351.2L540 351.1L538 351.1L536.5 351L536 351L534 350.9L532 350.8L530 350.7L528 350.6L526 350.6L524 350.5L522 350.5L520 350.5L518 350.5L516 350.6L514 350.7L512 350.9L510.5 351L510 351L508 351.2L506 351.3L504 351.5L502 351.6L500 351.8L498 352L496 352.3L494 352.8L493.4 353L492 353.5L490 354.3L488.6 355L488 355.3L486 356.2L484.4 357L484 357.2L482 358.1L480.1 359L480 359L478 359.9L476 360.9L475.8 361L474 362L472.6 363L472 363.4L470 364.9L469.9 365L468 366.4L467.2 367L466 368L464.8 369L464 369.7L462.6 371L462 371.5L460.5 373L460 373.5L458.5 375L458 375.6L456.6 377L456 377.6L454.7 379L454 379.8L453 381L452 382.5L451.6 383L450.3 385L450 385.5L448.9 387L448 388.2L447.3 389L446 390.6L445.6 391L444 392.8L443.8 393L442 395L441.9 395L440 396.7L439.5 397L438 397.6L436 397.6L434.1 397L434 397L432 395.9L430.3 395L430 394.8L428 393.6L426.9 393L426 392.5L424 391.4L423.3 391L422 390.2L420 389.1L419.8 389L418 387.7L417 387L416 386.2L414.6 385L414 384.5L412.3 383L412 382.7L410 381L410 381L408 379.2L407.7 379L406 377.5L405.4 377L404 375.7L403.1 375L402 374L400.9 373L400 372.1L398.9 371L398 370.1L397.1 369L396 367.8L395.3 367L394 365.5L393.6 365L392 363.2L391.8 363L390.1 361L390 360.9L388.4 359L388 358.6L386.6 357L386 356.3L384.9 355L384 354L383.2 353L382 351.5L381.6 351L380.2 349L380 348.8L378.8 347L378 345.9L377.4 345L376 343.1L376 343L374.6 341L374 340.1L373.2 339L372 337.3L371.8 337L370.4 335L370 334.4L369 333L368 331.6L367.6 331L366.2 329L366 328.7L364.9 327L364 325.7L363.6 325L362.2 323L362 322.7L360.9 321L360 319.7L359.6 319L358.2 317L358 316.7L356.9 315L356 313.7L355.5 313L354.1 311L354 310.8L352.6 309L352 308.3L350.2 307L350 306.9L348 306.4L346 306.8L345.4 307L344 307.4L342 308L340 308.7L338.8 309L338 309.2L336 309.1L335.7 309L335.8 307L336 306.6L337 305L338 303.5L338.4 303L339.9 301L340 300.9L341.5 299L342 298.3L343.1 297L344 296L345.1 295L346 294.2L347.8 293L348 292.9L350 291.8L351.5 291L352 290.8L354 289.8L356 289.2L357.7 289L358 289L358.2 289L360 289.3L362 289.7L364 289.9L366 289.7L368 289.4L369.5 289L370 288.9L372 288.3L374 287.7L376 287.2L377.4 287L378 286.9L378.6 287L380 287.1L382 287.7L384 288.1L386 288.2L388 287.7L389.4 287L390 286.7L392 285.7L394 285L394.1 285L396 284.7L398 284.7L400 284.9L401 285L402 285.1L404 285.4L406 285.6L408 286L410 286.4L412 286.9L412.2 287L414 288L415.2 289L416 290L416.7 291L418 292.6L418.4 293L420 293.9L422 294.2L424 294.1L426 293.7L428 293.2L428.7 293L430 292.6L432 291.9L434 291L434 291L436 290.1L438 289.3L439 289L440 288.7L442 288.3L444 288.2L446 288L448 287.8L450 287.6L452 287.3L454 287L454.2 287L456 286.7L458 286.4L460 286.1L462 285.7L464 285.3L465.2 285L466 284.8L468 284.2L470 283.4L470.7 283L472 282.3L474 281.1L474.2 281L476 280.1L478 279.3L480 279L482 279L484 279.2L486 279.5L488 279.7L490 280L492 280.3L494 280.5L496 280.7L498 281L498.3 281L500 281.2L502 281.4L504 281.6L506 281.8L508 282L510 282.2L512 282.4L514 282.7L515.2 283L516 283.2L518 284.1L519.2 285L520 285.5L521.7 287L522 287.2L523.9 289L524 289.1L526 291L526 291L528 292.7L529 293L530 293.2L530.8 293L532 292.7L534 291.4L534.5 291L536 289.6L536.5 289L537.6 287L537.9 285L537.7 283L537.3 281L537 279L536.7 277L536.4 275L536 273.1L536 273L535.6 271L535.1 269L534.4 267L534 265.2L533.9 265L533.8 263L533.9 261L534 259.1L534 259L534.2 257L534.2 255L534.1 253L534 252.6L533.3 251L532 250L530 249.6L528 249.6L526 249.7L524 249.8L522 249.9L520 250L518 250L516 250.1L514 249.9L512 249.2L511.8 249L510 247.4L509.7 247L508 245.2L507.8 245L506 243L506 243L504.2 241L504 240.8L502.5 239L502 238.5L500.7 237L500 236.3L498.9 235L498 234L497.2 233L496 231.7L495.4 231L494 229.3L493.7 229L492 227L492 227L490 225L490 225L488 223.4L487.3 223L486 222.2L484 221.3L482.9 221L482 220.8L481.2 221L480 221.4L478.8 223L478 224.4L477.7 225L476.7 227L476 228.6L475.7 229L474.3 231L474 231.3L472 231.7L470 231.3L469 231L468 230.6L466 229.9L464 229.3L463.1 229L462 228.4L460.1 227L460 226.9L458.8 225L458.1 223L458 222.6L457.8 221L457.8 219L457.9 217L458 216.5L458.2 215L458.7 213L459.6 211L460 210.2L460.7 209L462 207.1L462.1 207L463.7 205L464 204.7L465.8 203L466 202.8L468 201.4L468.7 201L470 200.3L472 199.3L472.5 199L474 198.2L476 197.2L476.3 197L478 196.2L480 195.6L482 195.2L483.3 195L484 194.9L486 194.6L488 194.2L490 193.9L492 193.7L494 193.7L496 193.7L498 193.9L500 194.3L502 194.9L502.3 195L504 195.6L506 196.3L508 196.8L508.6 197L510 197.5L512 198.4L514 199L516 199L518 198.6L520 197.9L522 197.3L522.8 197L524 196.7L526 196.1L528 195.6L530 195.2L531.5 195L532 194.9L534 194.8L536 194.6L538 194.3L540 194L542 193.7L544 193.3L545.8 193L546 193L548 192.6L550 192.2L552 191.6L553.6 191L554 190.9L556 190.2L558 189.4L559.2 189L560 188.7L562 188.2L564 187.9L566 187.7L568 187.5L570 187.4L572 187.3L574 187.1L575.7 187L576 187L578 186.8L580 186.4L582 186.1L584 185.8L586 185.6L588 185.5L590 185.7L592 186.2L593.9 187L594 187L596 187.9L598 188.8L598.4 189L600 189.7L602 190.6L602.8 191L604 191.5L606 192.4L607.3 193L608 193.3L610 194.2L611.9 195L612 195L614 195.7L616 196.1L618 196.1L620 195.8L622 195.3L623.2 195L624 194.8L626 194.3L628 193.9L630 193.6L632 193.4L634 193.4L636 193.4L638 193.4L640 193.4L642 193.4L644 193.4L646 193.4L648 193.4L650 193.4M340 248.5L342 248.4L344 248.7L344.9 249L346 249.3L348 250.1L349.6 251L350 251.3L351.5 253L352 254L352.4 255L352.9 257L353.3 259L353.7 261L354 262.6L354.1 263L354.2 265L354 266.1L353.7 267L352 268.8L351.7 269L350 270.1L348.3 271L348 271.2L346 272.2L344.2 273L344 273.1L342 273.4L341 273L340 272.6L338.4 271L338 270.5L337.1 269L336.1 267L336 266.7L335.3 265L334.7 263L334.3 261L334.1 259L334.2 257L334.6 255L335.3 253L336 251.8L336.6 251L338 249.6L339 249ZM326 336.7L328 335.1L328.7 337L329.9 339L330 339.1L330.6 341L331.4 343L332 344.3L332.2 345L332.8 347L333.5 349L334 350.1L334.4 351L335.6 353L336 353.4L338 354.7L338.9 355L340 355.4L342 355.8L344 356.2L346 356.7L346.9 357L348 357.5L349.7 359L350 359.5L350.6 361L350.8 363L350.6 365L350.2 367L350 367.8L349.6 369L348.9 371L348.2 373L348 373.6L347.1 375L346 376.7L345.7 377L344 378.8L343.7 379L342 380.4L340 380.9L338 380L337.1 379L336 378L335.2 377L334 375.5L333.6 375L332.2 373L332 372.7L330.9 371L330 369.7L329.6 369L328.4 367L328 366.1L327.6 365L326.9 363L326.4 361L326 359.2L326 359L325.6 357L325.2 355L325 353L325 351L325 349L325.1 347L325.2 345L325.3 343L325.5 341L325.7 339L326 337ZM290 424.2L292 424.3L293.6 425L294 425.2L296 426.4L296.8 427L298 428L299 429L300 430.2L300.7 431L302 432.7L302.2 433L303.5 435L304 436.2L304.3 437L304.3 439L304 440.4L303.8 441L303.1 443L302.3 445L302 445.7L301 447L300 447.8L298 447.5L297.2 447L296 446.3L294.2 445L294 444.9L292 443.3L291.7 443L290 441.6L289.3 441L288 439.8L287.2 439L286 437.3L285.8 437L285.3 435L285.6 433L286 431.3L286.1 431L286.8 429L287.6 427L288 426.1L289.1 425ZM504 430.2L506 429.7L508 429.8L510 430.3L511.6 431L512 431.2L514 432.4L514.9 433L516 434L517.1 435L518 436.2L518.6 437L519.6 439L520 440.3L520.2 441L520.4 443L520.2 445L520 447L520.2 449L520.7 451L521.1 453L521.5 455L521.1 457L520 457.9L518 457.3L517.6 457L516 456.3L514 455.1L513.9 455L512 453.9L510.6 453L510 452.6L508 451.4L507.4 451L506 450.2L504.5 449L504 448.6L502.7 447L502 445.9L501.5 445L500.6 443L500 441.3L499.9 441L499.4 439L499.2 437L499.7 435L500 434.4L500.9 433L502 431.6L502.7 431ZM540 452.9L542 452.7L542.9 453L544 453.4L546 454.4L547.2 455L548 455.5L550 456.6L550.8 457L552 457.9L553.4 459L553.2 461L552 461.8L550.4 463L550 463.2L548 464.4L547.2 465L546 465.9L544.3 467L544 467.2L542 467.6L540 467.1L539.8 467L538 465.9L537 465L536 464.1L534.9 463L534 461.8L533.2 461L533 459L534 457.8L534.6 457L536 455.8L536.8 455L538 454L539.8 453ZM468 456.5L470 455.5L472 455.3L474 455.4L476 455.7L478 456L480 456.2L482 456.6L484 456.9L484.5 457L486 457.4L488 458L490 458.9L490.2 459L492 460.2L493 461L494 461.8L495.4 463L496 463.5L498 465L498 465L500 466.1L502 466.4L504 466.4L506 466.1L508 465.9L510 465.6L512 465.4L514 465.1L515.2 465L516 464.9L518 464.8L520 464.7L520.7 465L522 465.7L522.6 467L523.4 469L524 470.2L524.2 471L524.8 473L525.6 475L526 476.2L526.2 477L526.4 479L526 479.9L525.2 481L524 481.8L522 482.2L520 482.1L518 481.9L516 481.7L514 481.7L512 481.6L510 481.7L508 481.7L506 481.8L504 481.8L502 481.8L500 481.7L498 481.3L497.2 481L496 480.1L494.8 479L494 478.2L492 477.8L490 478.2L488 478.8L487.4 479L486 479.5L484 480.2L482.2 481L482 481.1L480 482.1L478.2 483L478 483.1L476 484.2L474.5 485L474 485.3L472 486.2L470 487L470 487L468 487.4L466 487.4L464 487.1L463.3 487L462 486.7L460 486.4L458 486.3L456 486.6L454 486.6L452 485.9L450.5 485L450 484.7L448 483.3L447.6 483L446 481.8L445 481L444 480.1L442.9 479L442 477.2L441.9 477L442 476.8L442.6 475L444 473.6L444.5 473L446 472L447.5 471L448 470.7L450 469.8L451.6 469L452 468.8L454 468L456 467L456.1 467L458 465.9L459.6 465L460 464.7L462 463.2L462.2 463L464 461.1L464.1 461L465.7 459L466 458.6L467.5 457ZM308 461.9L310 461.8L312 462.1L314 462.6L315.5 463L316 463.1L318 463.8L320 464.3L322 464.6L324 464.4L326 463.7L327.5 463L328 462.8L330 462.3L330.8 463L330.5 465L330 466.2L329.6 467L328.6 469L328 470.2L327.6 471L326.8 473L326.2 475L326 475.8L325.7 477L325.3 479L324.9 481L324.5 483L324.1 485L324 485.6L323.6 487L323.1 489L322.7 491L322.3 493L322 494.3L321.7 495L321.1 497L320.6 499L320.1 501L320 501.4L318 501.9L317.3 501L316 499.1L315.9 499L315.1 497L314.2 495L314 494.4L313.5 493L312.8 491L312.1 489L312 488.6L311.5 487L310.8 485L310.2 483L310 482.5L309.6 481L309.1 479L308.6 477L308.2 475L308 473.9L307.8 473L307.4 471L307 469L306.7 467L306.4 465L306.6 463ZM650 334.6L648 334.9L647.4 335L646 335.2L644 335.6L642 336L640 336.4L638 336.7L636.6 337L636 337.1L634 337.5L632 337.8L630 338.2L628 338.5L626 338.7L624 339L623.9 339L622 339.2L620 339.5L618 339.7L616 340L614 340.2L612 340.5L610 340.7L608 341L607.9 341L606 341.4L604 341.9L602 342.6L600.8 343L600 343.3L598 344L596 344.7L595.2 345L594 345.4L592 346.1L590 346.8L589.5 347L588 347.5L586 348L584 348.3L582 348.6L580 348.8L578.5 349L578 349.1L576 349.3L574 349.6L572 349.9L570 350.2L568 350.5L566 350.8L564.3 351L564 351L562 351.3L560 351.6L558 351.8L556 351.9L554 351.7L552 351.3L551.2 351L550 350.6L548 350L546 349.5L544 349.3L542 349.2L540 349.1L538.3 349L538 349L536 348.9L534 348.8L532 348.8L530 348.7L528 348.6L526 348.5L524 348.4L522 348.3L520 348.4L518 348.5L516 348.6L514 348.7L512 348.9L510.5 349L510 349L508 349.2L506 349.3L504 349.4L502 349.6L500 349.7L498 349.8L496 350.1L494 350.5L492.7 351L492 351.2L490 352.1L488.3 353L488 353.1L486 354.1L484.2 355L484 355.1L482 356L480 357L480 357L478 357.9L476 358.9L475.9 359L474 360.1L472.7 361L472 361.4L470 362.9L469.9 363L468 364.4L467.2 365L466 365.9L464.6 367L464 367.5L462.3 369L462 369.2L460.1 371L460 371.1L458.1 373L458 373.1L456 375L456 375.1L454 377L454 377L452.1 379L452 379.1L450.4 381L450 381.6L448.8 383L448 384.1L447.1 385L446 386.3L445.3 387L444 388.3L443.2 389L442 390.2L440.9 391L440 391.8L438.1 393L438 393L436 393.1L435.6 393L434 392.2L432 391.2L431.6 391L430 389.9L428.1 389L428 388.9L426 387.6L424.8 387L424 386.4L422 385.1L421.9 385L420 383.4L419.6 383L418 381.5L417.4 381L416 379.7L415.2 379L414 377.9L412.9 377L412 376.2L410.6 375L410 374.5L408.2 373L408 372.9L406 371.1L405.8 371L404 369.5L403.4 369L402 368L400.9 367L400 366.3L398.7 365L398 364.3L396.9 363L396 362L395.2 361L394 359.7L393.4 359L392 357.4L391.7 357L390 355.1L389.9 355L388.1 353L388 352.9L386.5 351L386 350.3L385.1 349L384 347.2L383.9 347L382.9 345L382 343.6L381.7 343L380.3 341L380 340.7L379 339L378 337.7L377.6 337L376 335L376 335L374.8 333L374 332L373.4 331L372 329.2L371.9 329L370.6 327L370 326.3L369.2 325L368 323.4L367.8 323L366.4 321L366 320.5L365.2 319L364 317.4L363.7 317L362.4 315L362 314.5L361.2 313L360 311.4L359.7 311L358.4 309L358 308.5L357.2 307L356 305.4L355.8 305L355.1 303L356 301.6L356.7 301L358 300.5L360 299.6L361.1 299L362 298.7L364 297.9L366 297.1L366.2 297L368 296.4L370 295.7L371.6 295L372 294.9L374 294.2L376 293.5L377.4 293L378 292.8L380 292.3L382 292L384 291.9L386 291.9L388 291.6L390 291L390.3 291L392 290.7L394 290.7L395.5 291L396 291.1L398 291.9L400 293L400 293L401.9 295L402 295.2L403.3 297L404 298L404.8 299L406 300.7L406.3 301L408 302.5L409.3 303L410 303.2L412 303.2L413.6 303L414 303L416 302.5L418 302L420 301.5L421.5 301L422 300.9L424 300.3L426 299.7L428 299L428.1 299L430 298.5L432 297.8L434 297.1L434.3 297L436 296.5L438 296.1L440 295.8L442 295.5L444 295.2L445.8 295L446 295L448 294.7L450 294.4L452 294.2L454 293.9L456 293.6L458 293.3L460 293.1L460.5 293L462 292.8L464 292.5L466 292.1L468 291.7L470 291.2L470.4 291L472 290.4L474 289.5L475.1 289L476 288.6L478 288.1L480 288L482 288.2L484 288.4L486 288.7L488 288.9L488.8 289L490 289.1L492 289.3L494 289.6L496 289.8L498 290L500 290.2L502 290.4L504 290.6L506 290.8L508 291L508.5 291L510 291.2L512 291.4L514 291.6L516 291.8L518 292.2L520 293L520 293L522 294.2L523 295L524 295.8L525.6 297L526 297.2L528 297.8L530 297.4L530.7 297L532 296.3L533.8 295L534 294.8L536 293.3L536.3 293L538 291.6L538.7 291L540 289.4L540.4 289L541.4 287L541.8 285L541.7 283L541.5 281L541.3 279L541.1 277L540.8 275L540.4 273L540 271L540 270.8L539.8 269L539.6 267L539.5 265L539.5 263L539.7 261L539.8 259L540 257.1L540 257L540.3 255L540.5 253L540.7 251L540.8 249L540.8 247L540.7 245L540.3 243L540 241.7L539.8 241L539.4 239L539.2 237L539.1 235L538.9 233L538.8 231L538.7 229L538.6 227L538.5 225L538.3 223L538.2 221L538.3 219L539 217L540 215L540 215L541.8 213L542 212.9L544 211.9L545.8 211L546 210.9L548 210.1L550 209.1L550.3 209L552 208.3L554 207.4L554.8 207L556 206.5L558 205.6L559.5 205L560 204.8L562 204.2L564 203.6L566 203.1L566.3 203L568 202.6L570 202.1L572 201.6L574 201.1L574.4 201L576 200.7L578 200.4L580 200.3L582 200.7L582.8 201L584 201.5L586 202.4L587.1 203L588 203.5L590 204.6L590.9 205L592 205.6L594 206.5L595.4 207L596 207.2L598 208L600 208.7L600.7 209L602 209.5L604 210.3L606 211L606 211L608 211.9L610 212.8L610.5 213L612 213.8L614 214.8L614.5 215L616 215.8L618 216.8L618.5 217L620 217.7L622 218.6L623.3 219L624 219.3L626 219.7L628 219.9L630 220L632 220L634 220L636 220L638 220L640 220L642 220L644 220L646 220.1L648 220.3L650 220.6M488 202.6L490 202.1L492 202.4L493.4 203L494 203.3L496 204.7L496.5 205L498 206.2L499 207L500 208.3L500.7 209L501.4 211L500.7 213L500 213.8L499 215L498 216L496.9 217L496 217.6L494 218.2L492 217.9L490 217.2L489.6 217L488 216.2L486 215.1L485.7 215L484 213.9L482.5 213L482 212.4L480.4 211L480.5 209L482 207.1L482.1 207L484 205.3L484.3 205L486 203.7L487.2 203ZM334 359.7L336 360.6L336.6 361L336.3 363L336 363.2L335.1 363L334 362.6L333.2 361ZM504 432.7L506 431.7L508 431.5L510 431.9L512 432.8L512.4 433L514 434.2L514.9 435L516 436.5L516.4 437L517.3 439L517.7 441L517.6 443L517.1 445L516.8 447L516.8 449L516.7 451L516 451.9L514 452L512 451.3L511.4 451L510 450.4L508 449.3L507.5 449L506 448.1L504.8 447L504 446.1L503.2 445L502.2 443L502 442.4L501.5 441L501.1 439L501.3 437L502 435.3L502.1 435L503.7 433ZM542 454.9L542.1 455L544 455.7L546 456.9L546.2 457L548 458.6L548.5 459L548.4 461L548 461.3L546 462.9L545.9 463L544 464.3L542.1 465L542 465L541.7 465L540 464.8L538 463.7L537.2 463L536 461.5L535.7 461L535.7 459L536 458.6L537.2 457L538 456.3L540 455.1L541.1 455ZM470 458.6L472 458L474 457.9L476 458.1L478 458.4L480 458.7L481.6 459L482 459.1L484 459.7L486 460.6L486.8 461L488 461.8L489.5 463L490 463.5L491.7 465L492 465.3L493.8 467L494 467.2L495.7 469L496 469.6L497.5 471L498 471.5L500 471.6L502 471.7L504 471.9L506 472.2L508 472.8L508.7 473L510 473.5L512 474.2L513.8 475L514 475.2L516 477L516 477L516 477L514 477.8L512 478.6L510.7 479L510 479.1L508 479.3L506 479.5L504 479.7L502 479.8L500 479.5L499.1 479L498 477.6L497.7 477L497.1 475L496 473.3L494 473.6L492 474.4L490.7 475L490 475.2L488 476L486 476.8L485.6 477L484 477.6L482 478.5L480.9 479L480 479.4L478 480.4L476.9 481L476 481.5L474 482.4L472.6 483L472 483.3L470 483.7L468 483.8L466 483.6L464 483.2L463.2 483L462 482.7L460 482.3L458 481.9L456 481.8L454 481.6L452 481.2L451.6 481L450 480.2L448.2 479L448 478.9L446.1 477L446 476.4L445.8 475L446 474.8L447.4 473L448 472.6L450 471.3L450.5 471L452 470.3L454 469.5L455.1 469L456 468.6L458 467.7L459.5 467L460 466.7L462 465.6L463 465L464 464.2L465.5 463L466 462.5L467.4 461L468 460.3L469.5 459ZM320 470.8L320.6 471L321 473L320 474.4L319.4 473L319.7 471ZM578 240.7L580 240.5L582 240.5L584 240.6L586 240.8L586.5 241L588 241.1L590 241.5L592 242.2L593.8 243L594 243L596 243.7L598 244.5L599.3 245L600 245.2L602 245.8L604 246.4L605.9 247L606 247L608 247.6L610 248.3L612 248.9L612.3 249L614 249.7L616 250.8L616.3 251L618 252.2L619 253L620 253.8L621.5 255L622 255.4L623.9 257L624 257.1L626 258.7L626.4 259L628 260.2L629.1 261L630 261.7L631.7 263L632 263.3L634 264.9L634.1 265L636 266.5L636.6 267L638 268.2L638.9 269L640 269.9L641 271L642 272.2L642.4 273L643.3 275L643.9 277L644 277.4L644.2 279L644.5 281L644.7 283L644.9 285L645.1 287L645.3 289L645.5 291L645.7 293L645.9 295L646 296L646.1 297L646.3 299L646.5 301L646.7 303L647 305L647.2 307L647.4 309L647.7 311L647.9 313L648 313.8L648.2 315L648.5 317L648.8 319L649.1 321L649.5 323L649.6 325L648.2 327L648 327.1L646 327.9L644 328.7L643.3 329L642 329.3L640 329.8L638 330.3L636 330.9L635.8 331L634 331.3L632 331.7L630 332.2L628 332.6L626 332.9L625.5 333L624 333.1L622 333.3L620 333.5L618 333.7L616 333.8L614 334.1L612 334.4L610.1 335L610 335L608 335.7L606 336.6L605.1 337L604 337.4L602 338.2L600.1 339L600 339L598 339.8L596 340.5L594.8 341L594 341.3L592 342L590 342.7L589.3 343L588 343.4L586 344L584 344.4L582 344.7L580 345L580 345L578 345.3L576 345.5L574 345.8L572 346.1L570 346.4L568 346.7L566 347L565.9 347L564 347.3L562 347.5L560 347.8L558 348.1L556 348.3L554 348.4L552 348.2L550 347.7L548 347.3L546.4 347L546 346.9L544 346.6L542 346.4L540 346.2L538 346L536 345.9L534 345.9L532 345.9L530 345.8L528 345.6L526 345.5L524 345.3L522 345.3L520 345.5L518 345.9L516 346.2L514 346.5L512 346.7L510 346.8L508 347L507.5 347L506 347.1L504 347.2L502 347.3L500 347.3L498 347.4L496 347.4L494 347.5L492 347.7L490 348.5L489.3 349L488 349.7L486.1 351L486 351.1L484 352.1L482.7 353L482 353.3L480 354.4L479 355L478 355.5L476 356.5L475.2 357L474 357.7L472.1 359L472 359.1L470 360.5L469.3 361L468 361.9L466.6 363L466 363.5L464 365L464 365L462 366.6L461.5 367L460 368.2L459.1 369L458 370L456.7 371L456 371.6L454.3 373L454 373.2L452 374.6L451.2 375L450 375.7L448 376L446.4 375L446 374.6L444.8 373L444 371.7L443.5 371L442.2 369L442 368.8L440.8 367L440 365.9L439.4 365L438.1 363L438 362.9L436.7 361L436 360L435.3 359L434.1 357L434 356.9L432.9 355L432 353L432 353L431.4 351L431.2 349L431.3 347L431.7 345L432 343.8L432.2 343L432.8 341L433.4 339L434 337.3L434.1 337L434.8 335L435.5 333L436 331.5L436.2 331L436.8 329L437.5 327L438 325.6L438.2 325L438.9 323L439.6 321L440 319.8L440.3 319L441 317L441.7 315L442 314L442.4 313L443.2 311L444 309.6L444.4 309L446 307.2L446.2 307L448 305.5L448.7 305L450 304.2L451.9 303L452 303L454 302.2L456 301.5L457.5 301L458 300.9L460 300.5L462 300.1L464 299.7L466 299.3L467.8 299L468 299L470 298.6L472 298.2L474 297.7L476 297.2L478 297L480 297.1L482 297.3L484 297.5L486 297.7L488 297.9L490 298.1L492 298.3L494 298.5L496 298.7L498 298.9L498.8 299L500 299.1L502 299.3L504 299.5L506 299.7L508 299.9L510 300.1L512 300.3L514 300.5L516 300.7L518 301L518.3 301L520 301.3L522 301.9L524 302.6L526 303L528 302.8L530 302.2L532 301.3L532.7 301L534 300.5L536 299.8L538 299.6L540 299.5L542 299.5L544 299.2L544.7 299L546 298.4L547 297L547.9 295L548 294.6L548.4 293L549.5 291L550 290.5L551.9 289L552 288.9L554 287.8L556 287L556 287L558 285.8L559.6 285L560 284.4L561.4 283L562 281.2L562.1 281L562.8 279L563.4 277L563.9 275L564 273.9L564.3 273L564.9 271L565.5 269L565.9 267L566 265.6L566.2 265L566.8 263L567.7 261L568 259L568 258.9L569.2 257L569.9 255L570 253L570 251L570 249L570 249L572 247L572 247L574 245L574 245L574 243L576 241L576 241ZM406 317L408 316.7L410 316.5L412 316.4L414 316.2L416 316.1L418 316L420 315.9L422 316L423.6 317L424 317.3L424.6 319L425 321L425.1 323L425.1 325L425.1 327L425 329L425 331L424.9 333L424.8 335L424.7 337L424.5 339L424.4 341L424.3 343L424 344.7L424 345L423.4 347L422 348.5L421.5 349L420 349.9L418 350.9L417.7 351L416 351.8L414 352.7L413.1 353L412 353.5L410 354L408 354.2L406 353.5L405.4 353L404 351.7L403.4 351L402 349.4L401.7 349L400.3 347L400 346.3L399.5 345L399.3 343L399.4 341L399.6 339L399.9 337L400 336.2L400.2 335L400.4 333L400.7 331L400.9 329L401.2 327L401.5 325L401.8 323L402 322.2L402.3 321L403.3 319L404 318L406 317ZM506 434.1L508 433.4L510 433.7L512 434.7L512.4 435L514 436.9L514.1 437L514.8 439L514.9 441L514.5 443L514 444.8L513.9 445L512.9 447L512 447.8L510 447.8L508 447.1L507.8 447L506 445.8L505.2 445L504 443.2L503.9 443L503.3 441L503.1 439L503.6 437L504 436.3L505 435ZM540 457.9L542 457.9L543.5 459L543.2 461L542 461.8L540 461.8L538.9 461L538.8 459ZM472 460.9L474 460.5L476 460.6L478 460.9L478.3 461L480 461.5L482 462.4L483.1 463L484 463.8L485.3 465L486 466.4L486.4 467L486 468.3L485.5 469L484 470L482 470.7L480.9 471L481.7 473L481.2 475L480 475.8L478.7 477L478 477.3L476 478.5L475 479L474 479.4L472 480L470 480.2L468 480L466 479.6L464 479.1L463.4 479L462 478.7L460 478.2L458 477.8L456 477.4L454.1 477L454 477L452 476.2L450.5 475L451.2 473L452 472.6L454 471.4L454.7 471L456 470.5L458 469.8L459.6 469L460 468.9L462 468.1L463.9 467L464 467L466 465.8L467 465L468 464.1L469.2 463L470 462.2L471.8 461ZM592 300.7L594 300.6L596 300.7L596.7 301L598 301.9L598.8 303L599.4 305L599.5 307L599.4 309L599.1 311L598.7 313L598 314.6L597.8 315L596.5 317L596 317.6L594.7 319L594 319.5L592 320L590 319.8L588 319.4L586.5 319L586 318.9L584 318.5L582 318.2L580 317.6L578.4 317L578 316.8L576 315.6L575.1 315L574 314.1L572.6 313L572 312.1L571.2 311L570.7 309L570.8 307L571.7 305L572 304.7L574 303.8L576 303.5L578 303.2L579.5 303L580 302.9L582 302.6L584 302.2L586 301.8L588 301.4L590 301L590.3 301ZM492 318.8L494 318.8L496 319L496.1 319L498 319.2L500 319.4L502 319.6L504 319.8L506 320L508 320.2L510 320.6L510.8 321L512 322L512.5 323L512.7 325L512.5 327L512.1 329L512 329.5L511.6 331L511.1 333L510.6 335L510.1 337L510 337.2L509.1 339L508 339.8L506 340.4L504 340.7L502 340.7L500 340.5L498 340L496 339.1L495.8 339L494 337.9L492.6 337L492 336.5L490 335.2L489.7 335L488 333.7L486.9 333L486 332.1L484.6 331L484 330.2L483 329L482.6 327L483.5 325L484 324.3L484.9 323L486 321.7L486.7 321L488 319.9L490 319L490.3 319ZM500 330.9L502 330.9L502.2 331L503.6 333L502.4 335L502 335.2L500 335L500 335L498.3 333L499.7 331Z"/><path stroke-width="2" d="M650 531.9L648 531.8L646 531.7L644 531.6L642 531.5L640 531.4L638 531.3L636 531.2L634 531.2L632 531.1L630.3 531L630 531L628 530.8L626 530.5L624 530.3L622 530L620 529.8L618 529.5L616 529.3L614 529.1L613.6 529L612 528.8L610 528.5L608 528.1L606 527.7L604 527.3L602.6 527L602 526.9L600 526.5L598 526.1L596 525.8L594 525.4L592.3 525L592 524.9L590 524.5L588 524.2L586 523.9L584 523.6L582 523.4L580 523.1L578.8 523L578 522.9L576 522.7L574 522.5L572 522.3L570 522.2L568 522.2L566 522.3L564 522.4L562 522.4L560 522.4L558 522.4L556 522.3L554 522.3L552 522.4L550 522.8L549.3 523L548 523.4L546 524.4L544.8 525L544 525.3L542 526.4L540.8 527L540 527.4L538 528.4L536.8 529L536 529.4L534 530.4L533 531L532 531.7L530.4 533L530 533.3L528.2 535L528 535.2L526.1 537L526 537.1L524 539L524 539L522 540.5L520.5 541L520 541.2L518.1 541L518 541L516 540.3L514 539.8L512 540L510 540.5L508.1 541L508 541L506 541.8L504 542.6L502.8 543L502 543.6L500 544.7L499.2 545L498 546.1L496 546.7L494 546.9L492.8 547L492 547.1L490 547.3L488 547.5L486 547.6L484 547.8L482 547.9L480 548.1L478 548.3L476 548.5L474 548.5L472 548.6L470 548.6L468 548.7L466 548.7L464 548.7L462 548.8L460 548.9L458 548.9L456.5 549L456 549L454 549.1L452 549.2L450 549.2L448 549.3L446 549.3L444 549.3L442 549.3L440 549.3L438 549.3L436 549.3L434 549.3L432 549.3L430 549.3L428 549.3L426 549.3L424 549.3L422 549.3L420 549.2L418 549.1L416.2 549L416 549L414 548.9L412 548.8L410 548.7L408 548.6L406 548.5L404 548.4L402 548.3L400 548.2L398 548.1L396 548L394 547.9L392 547.8L390 547.7L388 547.6L386 547.5L384 547.4L382 547.3L380 547.2L378 547.2L376 547.2L374 547.3L372 547.5L370 547.6L368 547.8L366 548L364 548.2L362 548.4L360 548.6L358 548.8L356.2 549L356 549L354 549.3L352 549.6L350 549.9L348 550.2L346 550.4L344 550.6L342 550.9L341 551L340 551.2L338 551.5L336 551.8L334 552.1L332 552.3L330 552.6L328 552.8L326.5 553L326 553.1L324 553.3L322 553.5L320 553.6L318 553.8L316 554L314 554.2L312 554.4L310 554.6L308 554.8L306 554.9L304 554.9L302 554.8L300 554.8L298 554.7L296 554.7L294 554.6L292 554.5L290 554.5L288 554.4L286 554.2L284 554L282 553.6L280 553L279.8 553L278 552.5L276 552L274 551.4L272.9 551L272 550.8L270 550.2L268 549.3L267.6 549L266 548.2L264.5 547L264 546.7L262 545.3L261.5 545L260 544L258.4 543L258 542.7L256 541.3L255.6 541L254 539.7L253.2 539L252 537.9L250.9 537L250 536.3L248.4 535L248 534.6L246 533L246 533L244.1 531L244 530.8L243 529L242.3 527L242 526L241.7 525L241.1 523L240.4 521L240 519.7L239.8 519L239.1 517L238.5 515L238 513L238 512.7L237.7 511L237.6 509L237.5 507L237.4 505L237.3 503L237.2 501L237.1 499L236.9 497L236.8 495L236.7 493L236.6 491L236.5 489L236.2 487L236 485.9L235.8 485L235.4 483L234.8 481L234.3 479L234 477.5L233.9 477L233.5 475L233 473L232.5 471L232 469L232 468.9L231.6 467L231.1 465L230.8 463L230.8 461L231 459L231.4 457L231.9 455L232 454.3L232.4 453L232.9 451L233.5 449L233.8 447L233.9 445L233.7 443L233.5 441L233.3 439L233.3 437L233.6 435L233.8 433L233.9 431L233.7 429L233.3 427L232.9 425L232.4 423L232 421.3L231.9 421L231.4 419L230.9 417L230.4 415L230 413.2L230 413L229.4 411L228.8 409L228.1 407L228 406.8L227.4 405L226.6 403L226 401.4L225.9 401L225.1 399L224.4 397L224 395.9L223.7 395L223.2 393L222.9 391L222.8 389L222.8 387L222.8 385L222.8 383L222.8 381L222.8 379L222.7 377L222.7 375L222.7 373L222.7 371L222.8 369L223 367L223.2 365L223.5 363L223.7 361L223.9 359L224 358.5L224.2 357L224.4 355L224.7 353L224.9 351L225.2 349L225.5 347L226 345L226 345L226.6 343L227.2 341L227.9 339L228 338.6L228.5 337L229.1 335L229.8 333L230 332.5L230.4 331L231 329L231.5 327L231.8 325L232 323.8L232.1 323L232.3 321L232.6 319L232.8 317L233.1 315L233.3 313L233.5 311L233.6 309L233.6 307L233.4 305L233.2 303L233 301L232.7 299L232.5 297L232.3 295L232.1 293L232 291.8L231.9 291L231.9 289L232 288.4L232.1 287L232.4 285L232.7 283L232.9 281L233 279L232.7 277L232 275L232 275L230.8 273L230 271.6L229.6 271L228.1 269L228 268.9L226 267.2L225.8 267L224 265.9L222.8 265L222 264.6L220 263.3L219.5 263L218 262.2L216 261.1L215.8 261L214 260.2L212 259.3L211.4 259L210 258.4L208 257.4L207.3 257L206 256.2L204.4 255L204 254.7L202 253L202 253L200 251.2L199.8 251L198 249.3L197.6 249L196 247.5L195.5 247L194 245.7L193.3 245L192 243.8L191.2 243L190 241.9L189.1 241L188 239.9L187.1 239L186 237.9L185.1 237L184 235.9L183.1 235L182 233.9L181.1 233L180 231.9L179.1 231L178 229.8L177.3 229L176 227.5L175.5 227L174 225.2L173.8 225L172.1 223L172 222.9L170.4 221L170 220.6L168.6 219L168 218.2L166.9 217L166 215.9L165.2 215L164 213.6L163.5 213L162 211.4L161.7 211L160 209.2L159.9 209L158 207L158 207L156.2 205L156 204.8L154.4 203L154 202.6L152.4 201L152 200.6L150 199.0M650 520L648 519.9L646 519.8L644 519.6L642 519.5L640 519.4L638 519.2L636 519.1L634.8 519L634 518.9L632 518.8L630 518.5L628 518.3L626 518.1L624 517.8L622 517.6L620 517.3L618 517.1L617.5 517L616 516.8L614 516.5L612 516.2L610 515.9L608 515.5L606 515.2L605.2 515L604 514.8L602 514.4L600 514L598 513.7L596 513.3L594.4 513L594 512.9L592 512.6L590 512.3L588 512L586 511.8L584 511.4L582.2 511L582 510.9L580 510.4L578 509.7L576.1 509L576 509L574 508.4L572 508L570 507.9L568 507.9L566 508.1L564 508.6L563.1 509L562 509.5L560 510.6L558.7 511L558 511.1L556 511.3L554 511.2L552 511.2L550 511.5L548 512.3L546.8 513L546 513.5L544 514.8L543.6 515L542 516.1L540.6 517L540 517.4L538 518.7L537.6 519L536 520L534.5 521L534 521.3L532 522.8L531.8 523L530 524.6L529.6 525L528 526.5L527.5 527L526 528.5L525.5 529L524 530.4L523.3 531L522 532.1L520 532.9L518.1 533L518 533L517.7 533L516 533L515.9 533L514 533.3L512 533.7L510 534.3L508 535L508 535L506 535.6L504 536.3L502 536.9L501.5 537L500 537.4L498 537.7L496 537.8L494 538L492 538.1L490 538.3L488 538.4L486 538.6L484 538.9L483 539L482 539.1L480 539.4L478 539.7L476 539.9L474 540L472 540L470 539.9L468 539.9L466 539.8L464 539.8L462 539.8L460 539.9L458 540L456 540.2L454 540.4L452 540.5L450 540.7L448 540.7L446 540.7L444 540.7L442 540.7L440 540.7L438 540.7L436 540.7L434 540.7L432 540.7L430 540.7L428 540.7L426 540.7L424 540.7L422 540.6L420 540.5L418 540.4L416 540.3L414 540.2L412 540.1L410 540L408 539.9L406 539.8L404 539.7L402 539.6L400 539.5L398 539.4L396 539.3L394 539.2L392 539.1L390.7 539L390 539L388 538.8L386 538.7L384 538.5L382 538.3L380 538.1L378 537.9L376 537.8L374 537.7L372 537.7L370 537.8L368 537.8L366 537.8L364 537.9L362 537.9L360 538L358 538L356 538.1L354 538.1L352 538.2L350 538.3L348 538.5L346 538.7L344 538.9L343.5 539L342 539.2L340 539.4L338 539.6L336 539.8L334 540L332 540.2L330 540.4L328 540.7L326 540.9L325.4 541L324 541.2L322 541.5L320 541.8L318 542L316 542.3L314 542.5L312 542.8L310 543L309.8 543L308 543.2L306 543.5L304 543.7L302 543.9L300 544L298 544.2L296 544.3L294 544.4L292 544.5L290 544.5L288 544.5L286 544.3L284 543.9L282 543.4L280.6 543L280 542.8L278 542.2L276 541.5L274.6 541L274 540.8L272 539.9L270.5 539L270 538.7L268.3 537L268 536.6L266.8 535L266 533.7L265.6 533L264.3 531L264 530.5L263 529L262 527.5L261.6 527L260.2 525L260 524.8L258.7 523L258 522L257.2 521L256 519.1L256 519L255 517L254.7 515L254.8 513L255.3 511L255.8 509L256 508L256.2 507L256.7 505L257.2 503L257.7 501L258 500L258.2 499L258.7 497L259.1 495L259.5 493L259.9 491L260 489.5L260 489L260 487L260 486.6L259.8 485L259.5 483L259.1 481L258.7 479L258.3 477L258 475.4L257.9 475L257.5 473L257 471L256.5 469L256.1 467L256 466.8L255.5 465L254.9 463L254.3 461L254 459L254.2 457L254.8 455L255.5 453L256 451.2L256.1 451L256.6 449L257.1 447L257.6 445L258 443.2L258 443L258.3 441L258.4 439L258.1 437L258 436.7L256.7 435L256 434.4L254 433.1L253.9 433L252 431.1L251.9 431L250.9 429L250.2 427L250 426.2L249.7 425L249.3 423L248.9 421L248.6 419L248.3 417L248 415.4L247.9 415L247.6 413L247.3 411L247 409L246.7 407L246.4 405L246.1 403L246 402.6L245.7 401L245.3 399L244.8 397L244.3 395L244 393.5L243.9 393L243.8 391L243.8 389L243.8 387L244 385L244 384.5L244.1 383L244.3 381L244.4 379L244.6 377L244.7 375L244.9 373L245 371L245.2 369L245.3 367L245.5 365L245.7 363L245.9 361L246 359.3L246 359L246.1 357L246.1 355L246.1 353L246.1 351L246 349L246 347L246 345L246 345L246 343L246 341L245.9 339L245.9 337L245.9 335L246 333L246 332.4L246.1 331L246.4 329L246.7 327L247.1 325L247.6 323L247.9 321L248 320.4L248.6 319L250 317.4L250.9 319L252 319.6L254 320.3L256 320.3L258 319.8L260 319.1L260.3 319L262 318.4L264 317.6L265.2 317L266 316.7L268 315.6L269 315L270 314.2L271.3 313L272 312.1L272.9 311L274 309.2L274.1 309L275 307L275.2 305L274.8 303L274 301L274 300.9L273.1 299L272.2 297L272 296.6L271.2 295L270.3 293L270 292.3L269.2 291L268.2 289L268 288.1L267.6 287L267.5 285L267.4 283L267.3 281L267.2 279L267.1 277L267 275L266.9 273L266.8 271L266.7 269L266.6 267L266.6 265L266.6 263L266.6 261L266.8 259L267 257L267.2 255L267.3 253L267.3 251L267.2 249L266.9 247L266.5 245L266.1 243L266 242.5L265.6 241L264.9 239L264 237.6L263.6 237L262 235.2L261.9 235L260.2 233L260 232.8L258.5 231L258 230.4L256.9 229L256 228L255.3 227L254 225.6L253.6 225L252 223.1L251.9 223L250.3 221L250 220.5L248.9 219L248 217.3L247.8 217L246.8 215L246 213.4L244.4 213L244 213L242 212.9L240 212.8L238 212.7L236 212.6L234 212.4L232 212.1L230 211.6L228.2 211L228 210.9L226 210.3L224 209.6L222.2 209L222 208.9L220 208.3L218 207.7L216.1 207L216 207L214 206.3L212 205.6L210.2 205L210 204.9L208 204.3L206 203.8L204 203.4L202 203.2L200.4 203L200 203L198 202.6L196 201.8L194.3 201L194 200.8L192 199.8L190.7 199L190 198.6L188 197.2L187.7 197L186 195.6L185.4 195L184 193.6L183.4 193L182 191.6L181.4 191L180 189.6L179.4 189L178 187.6L177.4 187L176 185.5L175.5 185L174 183L174 183L172.8 181L172 179.7L171.6 179L170.5 177L170 176.1L169.4 175L168.3 173L168 172.5L167.2 171L166.1 169L166 168.9L164.9 167L164 165.3L163.8 165L162.7 163L162 161.7L161.6 161L160.6 159L160 157.8L159.6 157L158.6 155L158 153.8L157.6 153L156.6 151L156 149.8L155.6 149L154.5 147L154 145.9L153.5 145L152.4 143L152 142.2L151.1 141L150 139.2M264 360.7L262.8 361L262 361.3L260 362.2L258.6 363L258 363.7L257 365L256.4 367L256.2 369L256.1 371L256 372.4L256 373L255.8 375L255.7 377L255.7 379L255.7 381L255.8 383L256 384.4L256.1 385L256.5 387L257 389L257.7 391L258 392L258.4 393L259.2 395L260 396.7L260.2 397L261.4 399L262 399.9L263.5 401L264 401.4L264.4 401L265.6 399L266 397L266 396.5L266 395L266.1 393L266.2 391L266.3 389L266.4 387L266.6 385L266.7 383L266.9 381L267.1 379L267.3 377L267.5 375L267.6 373L267.8 371L268 369L268 368.9L268.1 367L268.1 365L268 363.5L267.9 363L266.4 361L266 360.8ZM532 370.5L530.2 371L530 371.7L528 372.5L526 372.6L524 372.5L522 372.4L520 372.3L518 372.2L516 372.2L514 372.1L512 372.1L510 372.1L508 372.2L506 372.4L504 372.6L502 372.8L500 372.9L499 373L498 373.1L496 373.4L494 373.7L492 374.1L490 374.7L488.6 375L488 375.3L486 376.1L484 376.8L483.2 377L482 377.7L480 378.7L479.5 379L478 380.4L477.3 381L476 382.4L475.4 383L474 384.5L473.5 385L472 386.5L471.5 387L470 388.7L469.8 389L468.5 391L468 391.6L467.3 393L466 394.8L465.9 395L464.7 397L464 398.2L463.6 399L463.2 401L464 402.3L464.8 403L466 403.5L468 404.2L470 405L470 405L472 405.7L474 406.6L474.5 407L476 408.7L476.2 409L476.8 411L477 413L477 415L477 417L477 419L477.1 421L477.2 423L477.8 425L478 425.2L480 425.4L480.4 425L482 423.6L482.4 423L484 421.2L484.1 421L485.6 419L486 418.6L487.2 417L488 416.2L489.3 415L490 414.5L492 413.7L494 413.5L496 413.6L498 413.8L500 414.2L502 414.8L502.8 415L504 415.2L506 415.6L508 416L510 416.5L511.2 417L512 417.2L514 418L515.6 419L516 419.2L518 420.3L519 421L520 421.6L522 423L522 423L524 424.1L525.3 425L526 425.4L528 426.7L528.4 427L530 427.9L531.5 429L532 429.3L534 430.3L536 429.6L536.3 429L536.7 427L536.8 425L536.8 423L536.8 421L536.9 419L536.9 417L537 415L537.1 413L537.2 411L537.4 409L537.5 407L537.5 405L537.4 403L537.3 401L537.2 399L537 397L536.4 395L536 393.5L535.8 393L535 391L534.4 389L534 387.9L533.6 387L532.8 385L532.1 383L532 382.8L531 381L530.2 379L530 378L529.5 377L529.2 375L530 373.8L531.6 373L532 372.9L534 372L535.8 371L534 370.2ZM650 364.7L648 365L647.7 365L646 365.3L644 365.7L642 366L640 366.4L638 366.8L636.9 367L636 367.2L634 367.6L632 367.9L630 368.2L628 368.5L626 368.8L624.4 369L624 369.1L622 369.3L620 369.6L618 369.8L616 370.1L614 370.3L612 370.5L610 370.6L608 370.6L606 370.5L604 370.4L602 370.3L600 370.2L598 370.1L596 370L594 370.1L592 370.3L590 370.6L588 370.9L586.4 371L586 371L584 371.2L582 371.3L580 371.4L578 371.6L576 371.7L574 371.9L572 372L570 372.1L568 372.1L566 371.8L564 371.2L563.3 371L562 370.6L560 370L558 369.2L557.4 369L556 368.5L554 367.8L552 367.1L551.9 367L550 366.3L548 365.3L547.6 365L546 364L544.5 363L544 362.7L542 361.6L540.1 361L540 361L538 360.7L536 360.7L534 360.6L532 360.5L530 360.5L528 360.4L526 360.4L524 360.4L522 360.4L520 360.4L518 360.4L516 360.5L514 360.5L512 360.6L510 360.8L508 360.9L506.9 361L506 361.1L504 361.3L502 361.5L500 361.8L498 362.1L496 362.4L494 362.8L493.3 363L492 363.3L490 364L488 364.9L487.7 365L486 365.7L484 366.5L482.7 367L482 367.3L480 368L478 368.8L477.6 369L476 369.9L474.3 371L474 371.2L472 372.8L471.7 373L470 374.6L469.5 375L468 376.5L467.5 377L466 378.5L465.5 379L464 380.6L463.6 381L462 382.8L461.8 383L460.3 385L460 385.5L459.1 387L458 388.8L457.8 389L456.6 391L456 392.1L455.5 393L454.5 395L454 395.9L453.5 397L452.5 399L452 399.9L451.3 401L450 402.8L449.8 403L448 404.7L447.5 405L446 406L444.5 407L444 407.3L442 408.4L440.3 409L440 409.1L438 409.3L436.3 409L436 409L434 408.4L432 407.8L430 407L430 407L428 406.2L426 405.2L425.6 405L424 404.2L422 403.1L421.8 403L420 402.1L418 401.1L417.9 401L416 400.1L414 399L414 399L412 397.9L410.6 397L410 396.6L408 395.1L407.9 395L406 393.4L405.5 393L404 391.7L403.2 391L402 390L400.9 389L400 388.3L398.6 387L398 386.5L396.3 385L396 384.8L394 383L394 383L392.1 381L392 380.9L390.3 379L390 378.6L388.7 377L388 376.1L387.1 375L386 373.6L385.5 373L384 371.2L383.9 371L382.2 369L382 368.7L380.6 367L380 366.3L378.8 365L378 364L377.2 363L376 361.5L375.6 361L374.2 359L374 358.7L372.8 357L372 355.8L371.4 355L370.1 353L370 352.9L368.7 351L368 350L367.3 349L366 347.1L366 347L364.5 345L364 344.2L363.1 343L362 341.3L361.8 341L360.5 339L360 338.3L359.2 337L358 335.1L357.9 335L356.6 333L356 332.1L355.3 331L354 329L354 329L352.6 327L352 326.3L350.6 325L350 324.5L348 324.1L346 324.8L345.7 325L344.1 327L344 328.2L343.9 329L344 329.3L344.3 331L345 333L346 335L346 335L348 337L348 337L350 338.5L350.4 339L352 340.7L352.2 341L353.7 343L354 343.5L355 345L356 346.5L356.3 347L357.6 349L358 349.6L359 351L360 352.6L360.3 353L361.7 355L362 355.5L363.1 357L364 358.4L364.4 359L365.7 361L366 361.6L366.8 363L367.5 365L367.9 367L367.9 369L367.8 371L368 373L368 373.2L368.5 375L369.5 377L370 378L370.6 379L371.8 381L372 381.4L373 383L374 384.8L374.1 385L375.2 387L375.9 389L375.9 391L374.9 393L374 394.1L373.2 395L372 396.2L371.3 397L370 398.3L369.3 399L368 400.3L367.3 401L366 402.4L365.4 403L364 404.6L363.7 405L362.6 407L362 409L362 409L361.8 411L362 412.4L362.1 413L362.7 415L363.4 417L364 418.6L364.1 419L364.9 421L365.7 423L366 423.9L366.4 425L367 427L367.6 429L368 430.9L368 431L368.2 433L368.3 435L368.2 437L368 438.6L368 439L367.6 441L367.2 443L366.7 445L366.2 447L366 447.7L365.7 449L365.2 451L364.7 453L364.1 455L364 455.4L363.6 457L363.1 459L362.6 461L362 462.5L361.8 463L360.7 465L360 465.8L358.8 467L358 467.8L356.5 469L356 469.5L354.2 471L354 471.2L352 472.9L351.9 473L350 474.7L349.6 475L348 476.6L347.5 477L346 478.6L345.6 479L344.2 481L344.2 483L345.9 485L346 485L348 486.5L348.7 487L350 487.8L351.7 489L352 489.2L354 490.5L354.8 491L356 491.7L358 493L358 493L360 494.2L361.2 495L362 495.5L364 497L364 497L365.2 499L365.2 501L364.4 503L364 503.8L363.4 505L362.2 507L362 507.2L360.9 509L360 510.4L359.6 511L358.3 513L358 513.5L357.1 515L356 516.8L355.9 517L354.8 519L354 520.5L353.7 521L352.7 523L352 524.1L351.3 525L350 525.8L348 526.6L346.7 527L346 527.2L344 527.6L342 528L340 528.4L338 528.9L337.4 529L336 529.3L334 529.7L332 530.1L330 530.5L328 530.9L327.4 531L326 531.2L324 531.5L322 531.9L320 532.2L318 532.6L316 532.8L314.2 533L314 533L312.6 533L312 533L310 532.8L308 532.5L306 532.3L304 532.3L302 532.6L300.1 533L300 533L298 533.4L296 534.2L294 534.9L293.7 535L292 535.1L290 535.1L289.6 535L288 534.7L286 534.3L284 533.7L282 533.2L281.6 533L280 532.3L278.2 531L278 530.9L276.1 529L276 528.9L274.3 527L274 526.7L272.6 525L272 524.1L271.3 523L270.3 521L270 519.4L269.9 519L269.8 517L269.9 515L269.9 513L269.9 511L269.9 509L269.8 507L269.8 505L269.7 503L269.7 501L269.6 499L269.5 497L269.4 495L269.3 493L269.2 491L269.1 489L269 487L269.1 485L269.2 483L269.4 481L269.4 479L269.5 477L269.6 475L269.7 473L269.8 471L269.9 469L270 467L270 466.4L270 465L270 463.5L270 463L269.8 461L269.4 459L269.1 457L268.7 455L268.4 453L268 451L268 450.7L267.8 449L267.7 447L267.7 445L267.7 443L267.7 441L267.8 439L267.9 437L268 436.7L268.3 435L268.7 433L269.2 431L269.7 429L270 427.9L270.3 427L271 425L271.7 423L272 422.4L272.6 421L273.5 419L274 417.7L274.3 417L274.8 415L275.2 413L275.5 411L275.7 409L275.8 407L275.7 405L275.5 403L275.3 401L275 399L274.7 397L274.4 395L274.1 393L274 392.5L273.8 391L273.6 389L273.4 387L273.2 385L273.1 383L273.1 381L273.1 379L273.1 377L273.2 375L273.3 373L273.4 371L273.5 369L273.6 367L273.6 365L273.5 363L273.4 361L273.1 359L272.5 357L272 356.1L270.8 355L270 354.5L268 354L266 353.6L264.6 353L264 352L263.6 351L263.4 349L263.4 347L263.3 345L263.3 343L263.4 341L263.7 339L264 337.9L264.4 337L266 335L266 335L268 333.4L268.5 333L270 331.9L271.3 331L272 330.5L274 329.5L276 329.1L278 329.5L280 330.4L281.1 331L282 331.5L284 332.6L284.7 333L286 333.8L287.7 335L288 335.3L289.3 337L290 338.6L290.2 339L290.8 341L291.3 343L291.8 345L292 345.9L292.3 347L292.8 349L293.3 351L293.8 353L294 353.5L294.6 355L295.6 357L296 357.6L297 359L298 360.3L298.7 361L300 363L300 363.1L301.3 365L301.8 367L302 369L302 369.3L302.8 371L303.2 373L303.6 375L303.8 377L304 379L304 379.1L304.8 381L305.2 383L305.6 385L305.7 387L305.9 389L306 390.7L306.1 391L306.7 393L307.2 395L307.6 397L307.9 399L308 399.2L308.9 401L309.6 403L310 405L310 405L311.5 407L312 408.9L312.4 407L312.4 405L312.3 403L312.2 401L312 399.3L312 399L311.6 397L311.3 395L310.9 393L310.3 391L310 390.2L309.3 389L308.5 387L308 385.1L308 385L307.2 383L306.8 381L306.5 379L306.2 377L306 376L305.5 375L305.1 373L304.8 371L304.4 369L304.1 367L304 366.4L303.5 365L303.2 363L302.9 361L302.6 359L302.2 357L302 356.2L301.7 355L301.2 353L300.7 351L300.2 349L300 348.1L299.7 347L299.2 345L298.7 343L298.2 341L298 339.9L297.8 339L297.4 337L297.1 335L297 333L297 331L296.9 329L296.8 327L296.7 325L296.5 323L296.4 321L296.2 319L296 317L296 316.7L295.9 315L295.7 313L295.5 311L295.4 309L295.4 307L295.7 305L296 304.1L296.4 303L297.5 301L298 300.2L298.7 299L299.9 297L300 296.9L301.1 295L302 293.5L302.3 293L303.3 291L304 289.5L304.2 289L304.8 287L305 285L304.9 283L304.7 281L304.7 279L304.8 277L305 275L305.5 273L306 271.3L306.1 271L306.7 269L307.3 267L308 265.1L308 265L308.6 263L309.3 261L310 259.3L310.1 259L310.9 257L311.7 255L312 254.4L312.5 253L313.3 251L314 249.3L314.1 249L314.6 247L315 245L315.1 243L315.1 241L314.9 239L314.8 237L314.6 235L314.1 233L314 232.9L313 231L312 229.6L311.6 229L310.1 227L310 226.9L308.6 225L308 224.2L307.2 223L306 221.1L305.9 221L304.9 219L304 217.4L303.8 217L302.8 215L302 213.4L301.8 213L300.9 211L300 209.1L300 209L299.5 207L299.4 205L299.6 203L299.9 201L300 200L300.2 199L300.6 197L300.8 195L300.9 193L300.7 191L300.1 189L300 188.6L299.4 187L298.4 185L298 183.5L297.6 183L296.6 181L296 179.1L295.9 179L294.5 177L294 176.1L292.9 175L292 173.6L291.3 173L290 171.3L289.6 171L288 169.1L287.9 169L286 167L286 167L284 165L284 165L282 163L282 163L280 161.1L279.7 161L278 160.8L276 160.8L274 160.8L272 160.8L270 160.9L269.5 161L268 161.1L266 161.5L264 162.2L262.9 163L262 163.4L260 164.9L259.9 165L258 166.5L257.4 167L256 168.1L254.9 169L254 169.6L252.2 171L252 171.1L250 172.2L248.6 173L248 173.3L246 174.1L244.1 175L244 175L242 175.8L240 176.6L238.8 177L238 177.2L236 177.5L234 177.6L232 177.6L230 177.7L228 177.7L226 177.7L224 177.8L222 177.8L220 177.9L218 177.7L216 177.5L214 177.3L212.1 177L212 177L210 176.7L208 176.4L206 176.1L204 175.6L202.3 175L202 174.9L200 173.7L199 173L198 172.3L196.1 171L196 171L194 169.5L193.3 169L192 168L190.9 167L190 166.1L189.1 165L188 163.5L187.6 163L186.2 161L186 160.7L184.8 159L184 157.8L183.4 157L182 155.1L182 155L180.5 153L180 152.3L179.1 151L178 149.3L177.8 149L176.7 147L176 145.4L175.8 145L174.9 143L174 141L174 141L173.1 139L172.1 137L172 136.8L171.1 135L170.1 133L170 132.8L169.2 131L168.4 129L168 128.1L167.6 127L167 125L166.3 123L166 122L165.7 121L165.1 119L164.4 117L164 116L163.7 115L163.1 113L162.4 111L162 109.8L161.8 109L161.3 107L160.8 105L160.2 103L160 102.1L159.7 101L159.2 99L158.5 97L158 95.7L157.6 95L156.2 93L156 92.7L154 91.1L153.1 91L152 90.1L150 89.4M622 380.8L624 380.3L626 380.2L628 380.4L630 380.9L630.4 381L632 381.5L634 382.1L636 382.6L638 382.9L639.6 383L640 383L641.2 383L642 383L642.2 383L644 383.2L645.8 385L646 385.3L646.5 387L646.9 389L647.2 391L647.3 393L647.4 395L647.5 397L647.6 399L647.6 401L647.7 403L647.7 405L647.8 407L647.8 409L647.9 411L647.9 413L648 415L648 415.1L648 417L648.1 419L648.1 421L648.2 423L648.2 425L648.3 427L648.3 429L648.3 431L648.4 433L648.4 435L648.5 437L648.5 439L648.6 441L648.6 443L648.7 445L648.8 447L648.8 449L648.9 451L649 453L649 455L649.1 457L649.1 459L649.2 461L649.2 463L649.3 465L649.3 467L649.3 469L649.3 471L649.3 473L649.3 475L649.3 477L649.2 479L649.1 481L648.8 483L648 484.8L647.3 483L646.1 481L646 480.9L645.7 479L645.3 477L644.7 475L644 473L644 473L643.6 471L643.2 469L642.7 467L642.1 465L642 464.6L641.6 463L640.9 461L640.1 459L640 458.7L638 457.2L637.1 459L636.1 461L636 461.2L635.3 463L634.3 465L634 465.6L633.1 467L632 469L632 469.1L630.7 471L630 472.6L629.6 473L628.4 475L628 476L626.7 477L626 479L625.5 477L624.7 475L624.3 473L624 471L624 470.6L623.9 469L623.6 467L623 465L622 463.8L621.4 463L620 462.2L618 461.1L617.8 461L616 460.3L614 459.6L612.2 459L612 458.9L610 458.3L608 457.7L606 457.2L605.5 457L604 456.6L602 456L600 455.4L598.1 455L598 455L596 454.9L595.8 455L594 455.9L593.2 457L592.2 459L592 459.4L591.4 461L590.6 463L590 465L590 465.4L589.9 467L590 467.3L592 468.6L594 468.6L596 468.4L598 468.2L600 468.4L601.8 469L602 469.1L604 470.2L605.3 471L606 471.4L608 472.7L608.4 473L610 474L611.6 475L612 475.3L614 476.4L615 477L616 477.5L618 478.6L619 479L620 479.4L622 479.9L624 479.8L626 479L628 480.6L628.2 481L630 482.2L630.7 483L632 484.3L632.6 485L634 486.8L634.1 487L635.6 489L636 489.5L637.1 491L638 492.3L638.6 493L640 495L640 495L641.5 497L642 497.7L643.1 499L644 500.4L644.6 501L645.7 503L644.3 505L644 505.1L642 505.2L640 505.2L638 505.2L636 505L635.4 505L634 504.8L632 504.5L630 504.2L628 503.9L626 503.7L624 503.5L622 503.3L620 503.1L618.5 503L618 502.9L616 502.7L614 502.5L612 502.2L610 501.9L608 501.6L606 501.3L604.3 501L604 500.9L602 500.5L600 500.1L598 499.7L596 499.4L594 499L593.9 499L592 498.4L590 497.8L588 497.2L587.5 497L586 496.4L584 495.7L582 495L582 495L580 494.2L578 493.5L576 493L575.9 493L574 492.7L572 492.6L570 492.7L568 492.8L566 492.9L564.8 493L564 493L562 493.2L560 493.4L558 493.8L556 494.5L555.2 495L554 495.9L552.8 497L552 497.9L550.5 499L550 499.4L548 500.1L546 500.4L544 500.4L542 500.3L540 500.2L539.2 501L538 502.1L537.8 503L536.6 505L536 505.6L535.4 507L534 508.8L533.9 509L532 510.6L531.5 511L530 511.9L528.2 513L528 513.2L526 514.2L524.3 515L524 515.2L522 516.3L520.2 517L520 517.2L518 518.1L516.6 517L516 516.7L515.6 515L514.5 513L514 512.7L512.9 511L512 510.3L510.8 509L510 508.5L508.1 507L508 506.9L506 505.5L505.4 505L504 504L502.5 503L502 502.7L500 501.6L498.6 501L498 500.8L496 500.3L494 500L492 499.8L490 499.7L488 499.9L486 500.4L484.6 501L484 501.2L482 502.1L480.2 503L480 503.1L478 504.1L476.5 505L476 505.4L474.4 507L474 508.1L473.7 509L473.6 511L473.7 513L473.9 515L474 517L474 517.3L474.1 519L474.2 521L474.2 523L474.2 525L474.2 527L474 528.1L473.4 529L472 529.4L470 529.5L468 529.4L466 529.4L464 529.3L462 529.2L460 529.1L458 529L456.7 529L456 529L454 528.8L452 528.7L450 528.1L448.9 527L448 525.5L447.8 525L446.8 523L446 521.7L445.7 521L444.5 519L444 518.3L443.2 517L442 515L442 515L440.7 513L440 511.8L439.5 511L438.2 509L438 508.6L437 507L436 505.4L435.7 505L434.5 503L434 502.2L433.2 501L432 499L432 499L430.7 497L430 495.8L429.5 495L428.1 493L428 492.8L426.6 491L426 490.2L424.9 489L424 487.8L423.1 487L422 485.3L421.5 485L420 483.2L419.2 483L418 482.8L416 482.7L414 482.8L412 482.8L410 482.8L408 482.8L406 482.9L404 482.9L402 482.9L400 482.9L398 482.9L396 483L394.8 483L394 483L392 483L391.1 483L390 483L388 482.6L386 481.7L385.2 481L384 479.9L383.2 479L382 477.8L381.3 477L380 475.7L379.3 475L378 473.7L377.3 473L376 471.7L375.3 471L374 469.8L373.2 469L372 467.7L371.4 467L370.3 465L370.1 463L370.5 461L371.1 459L372 457L372 457L372.8 455L373.8 453L374 452.5L374.8 451L375.9 449L376 448.7L377.1 447L378 445.7L378.6 445L380 443.9L382 443.1L384 443L386 443.1L388 443.1L389.2 443L390 442.9L392 442.6L394 442.1L396 441.6L398 441L398.1 441L400 440.5L402 439.9L404 439.4L405.5 439L406 438.9L408 438.3L410 437.8L412 437.3L413.1 437L414 436.8L416 436.3L418 436L420 436L422 436.4L424 437L424.2 437L426 437.3L426.6 437L428 436.2L428.9 435L430 434L431.3 433L432 432.7L434 432.1L436 431.7L438 431.7L440 431.9L442 432.5L443.4 433L444 433.2L446 434.1L447.7 435L448 435.2L450 436.5L450.6 437L452 438L453.4 439L454 439.3L456 440.2L458 441L458 441L460 441.4L462 441.7L464 441.8L466 441.7L468 441.5L470 441.3L472 441.3L474 441.4L476 441.7L478 441.9L480 442.2L482 442.5L484 442.8L485.8 443L486 443L488 443.1L488.7 443L490 442.6L490.7 441L490.6 439L490.3 437L490 435.7L489.8 435L489.6 433L489.7 431L490 430.2L490.5 429L491.8 427L492 426.7L493.3 425L494 424.1L495 423L496 422.2L498 421.3L500 421.2L502 421.4L504 421.8L506 422.2L508 422.6L509.3 423L510 423.2L512 424L514 425L514 425L516 426.2L517.3 427L518 427.4L520 428.7L520.5 429L522 430L523.4 431L524 431.4L526 433L526 433L527.8 435L528 435.3L529.1 437L530 438.4L530.4 439L531.7 441L532 441.5L533.5 443L534 443.4L536 443.3L536.4 443L538 441.7L538.7 441L540 439.3L540.3 439L541.6 437L542 436.2L542.9 435L544 433L544 433L545.7 431L546 430.6L548 429.3L549.1 429L550 428.6L552 427.8L553.9 427L554 426.9L556 425.2L556.2 425L558 423L558 423L559.6 421L560 420.5L561.3 419L562 418.1L562.9 417L564 415.7L564.6 415L566 413.2L566.2 413L567.8 411L568 410.7L569.3 409L570 408.1L570.9 407L572 405.6L572.5 405L574 403.4L574.4 403L576 401.6L576.8 401L578 400.1L580 399L580 399L582 398.1L584 397.2L584.4 397L586 396.3L588 395.3L588.6 395L590 394.2L591.9 393L592 392.9L594 391.9L596 391.5L598 391.2L599.3 391L600 390.9L602 390.6L604 390.2L606 389.9L608 389.5L609.5 389L610 388.9L612 387.9L613.2 387L614 386.4L615.6 385L616 384.6L617.9 383L618 382.9L620 381.6L621.3 381ZM650 344.7L648 344.9L647.5 345L646 345.3L644 345.6L642 346L640 346.4L638 346.7L636.7 347L636 347.1L634 347.5L632 347.9L630 348.2L628 348.5L626 348.7L624 349L624 349L622 349.2L620 349.5L618 349.7L616 350L614 350.2L612 350.5L610 350.6L608 350.6L606 350.6L604 350.6L602 350.9L601.5 351L600 351.3L598 351.9L596 352.6L594.9 353L594 353.3L592 354L590 354.7L589 355L588 355.3L586 355.7L584 355.9L582 356.1L580 356.2L578 356.4L576 356.7L574 356.9L573.5 357L572 357.2L570 357.5L568 357.8L566 358.1L564 358.3L562 358.5L560 358.5L558 358.3L556 357.9L554 357.3L553.1 357L552 356.6L550 355.8L548.4 355L548 354.8L546 354L544 353.5L542 353.2L540 353.1L538 353L537.4 353L536 352.9L534 352.9L532 352.8L530 352.7L528 352.6L526 352.5L524 352.5L522 352.5L520 352.5L518 352.5L516 352.6L514 352.7L512 352.8L510 353L509.8 353L508 353.1L506 353.3L504 353.4L502 353.6L500 353.8L498 354L496 354.3L494 354.8L493.5 355L492 355.5L490 356.3L488.5 357L488 357.2L486 358.2L484.2 359L484 359.1L482 360L480 360.9L479.7 361L478 361.7L476 362.7L475.5 363L474 363.9L472.4 365L472 365.3L470 366.8L469.7 367L468 368.3L467.2 369L466 370L464.8 371L464 371.8L462.8 373L462 373.8L460.8 375L460 375.8L458.8 377L458 377.9L456.9 379L456 380.1L455.2 381L454 382.7L453.8 383L452.5 385L452 385.8L451.2 387L450 389L450 389L448.6 391L448 391.8L447 393L446 394.1L445.2 395L444 396.4L443.4 397L442 398.3L441 399L440 399.7L438 400.3L436 400.2L434 399.6L432.7 399L432 398.7L430 397.6L429 397L428 396.4L426 395.3L425.5 395L424 394.1L422 393.1L421.9 393L420 392L418.3 391L418 390.8L416 389.5L415.4 389L414 387.9L412.9 387L412 386.2L410.6 385L410 384.4L408.3 383L408 382.7L406 381L406 381L404 379.2L403.8 379L402 377.5L401.5 377L400 375.7L399.3 375L398 373.8L397.3 373L396 371.6L395.5 371L394 369.2L393.8 369L392.1 367L392 366.8L390.4 365L390 364.5L388.7 363L388 362.2L386.9 361L386 359.9L385.2 359L384 357.7L383.4 357L382 355.3L381.8 355L380.2 353L380 352.8L378.8 351L378 349.9L377.3 349L376 347.1L375.9 347L374.6 345L374 344.2L373.2 343L372 341.4L371.8 341L370.4 339L370 338.5L369 337L368 335.6L367.6 335L366.2 333L366 332.8L364.8 331L364 329.8L363.5 329L362.1 327L362 326.8L360.8 325L360 323.7L359.5 323L358.2 321L358 320.7L356.9 319L356 317.7L355.5 317L354.1 315L354 314.8L352.6 313L352 312.3L350.4 311L350 310.6L348 310.2L346 310.7L345.2 311L344 311.5L342 312.3L340.4 313L340 313.2L338 314L336 314.9L335.7 315L334 315.7L332 316.7L331.5 317L330 318.3L329.4 319L328.9 321L329.1 323L329.7 325L330 326L330.3 327L330.9 329L331.5 331L332 332.5L332.1 333L332.7 335L333.3 337L333.9 339L334 339.2L334.5 341L335.1 343L335.8 345L336 345.7L336.5 347L337.6 349L338 349.6L339.9 351L340 351.1L342 351.7L344 352.1L346 352.5L347.4 353L348 353.2L350 354.5L350.5 355L352 356.8L352.2 357L353.4 359L354 360.4L354.3 361L354.6 363L354.6 365L354.3 367L354 369L354 369.2L353.7 371L353.4 373L353 375L352.7 377L352.4 379L352.1 381L352 382.3L351.9 383L351.7 385L351.5 387L351 389L350.4 391L350 392.9L350 393L349.5 395L349.1 397L348.7 399L348.4 401L348 403L348 403L346.8 405L346 406L344.6 405L344 404.6L342.9 403L342 401.9L341.5 401L340.2 399L340 398.7L339 397L338 395.3L337.8 395L336.8 393L336 391L336 391L335.3 389L334.4 387L334 386.2L333.3 385L332.1 383L332 382.9L330.8 381L330 379.8L329.4 379L328.1 377L328 376.8L326.8 375L326 373.7L325.6 373L324.5 371L324 369.7L323.7 369L323.1 367L322.7 365L322.2 363L322 362L321.8 361L321.3 359L320.8 357L320.4 355L320 353.2L320 353L319.6 351L319.4 349L319.4 347L319.4 345L319.4 343L319.5 341L319.6 339L319.7 337L319.8 335L319.8 333L319.9 331L320 329L320 328.7L320.1 327L320.2 325L320.2 323L320.3 321L320.3 319L320.4 317L320.8 315L321.5 313L322 312.1L322.7 311L324 309.1L324.1 309L325.5 307L326 306.3L327 305L328 303.6L328.4 303L329.9 301L330 300.9L331.4 299L332 298.1L332.8 297L334 295.4L334.3 295L335.8 293L336 292.7L337.2 291L338 289.7L338.5 289L339.2 287L338.8 285L338 284L337.4 283L336 281.3L335.8 281L334.3 279L334 278.6L333 277L332 275L332 275L331.2 273L330.5 271L330 269.5L329.8 269L329.2 267L328.6 265L328.3 263L328.3 261L328.4 259L328.7 257L328.9 255L329.2 253L329.7 251L330 250.2L330.6 249L332 247L332 247L333.7 245L334 244.6L335.5 243L336 242.5L337.9 241L338 240.9L340 240.3L342 240.1L344 240.1L346 240.2L348 240.3L350 240.8L350.4 241L352 241.8L353.5 243L354 243.3L356 244.9L356.1 245L357.9 247L358 247.2L358.8 249L359.4 251L359.8 253L360 254.2L360.1 255L360.5 257L360.9 259L361.3 261L361.9 263L362 263.5L362.5 265L363.1 267L363.6 269L364 271L364 271L364.5 273L365.9 275L366 275.1L368 276.8L368.2 277L370 278.3L371 279L372 279.6L374 280.6L374.9 281L376 281.4L378 282.2L379.8 283L380 283.1L382 284L384 284.6L386 284.6L388 283.8L389.4 283L390 282.6L392 281.5L392.9 281L394 280.4L396 279.7L398 279.1L399.6 279L400 279L401.1 279L402 279L404 279.2L406 279.4L408 279.6L410 279.9L412 280.1L414 280.3L416 280.5L418 280.7L420 281L420.3 281L422 281.2L424 281.5L426 281.9L428 282.3L430 282.6L432 282.5L434 281.7L435.5 281L436 280.8L438 280L440 279.6L442 279.4L444 279.3L446 279.3L448 279.3L450 279.1L450.6 279L452 278.2L453 277L452.8 275L452.2 273L452 272.5L451.4 271L450.6 269L450 267.3L449.9 267L449.3 265L449 263L448.9 261L448.9 259L449 257L449.1 255L449.2 253L449.3 251L449.4 249L449.6 247L449.9 245L450 244.2L450.5 243L451.4 241L450.5 239L450 238.7L448.6 237L448 236.4L447 235L446 233.6L445.7 233L444.6 231L444 229.7L443.7 229L443.2 227L443.2 225L443.6 223L444 221.7L444.2 221L444.9 219L445.7 217L446 216.3L446.5 215L447.5 213L448 212.1L448.6 211L449.7 209L450 208.6L450.9 207L452 205.2L452.1 205L453.5 203L454 202.4L455.2 201L456 200.2L457.3 199L458 198.3L459.5 197L460 196.6L462 195L462 195L464 193.5L464.6 193L466 192.1L467.6 191L468 190.8L470 189.6L471.2 189L472 188.6L474 188L476 187.8L478 187.8L480 187.9L482 187.8L484 187.4L485.5 187L486 186.9L488 186.6L490 186.5L492 186.4L494 186.4L496 186.4L498 186.4L500 186.3L502 186.2L504 185.9L506 185.4L507.3 185L508 184.8L510 184.3L512 183.9L514 183.7L516 183.6L518 183.6L520 183.5L522 183.4L524 183.2L526 183L526.1 183L528 182.8L530 182.5L532 182.3L534 182L536 181.8L538 181.5L540 181.3L542 181.1L542.6 181L544 180.9L546 180.8L548 180.6L550 180.3L552 179.7L553.6 179L554 178.8L556 177.9L557.7 177L558 176.9L560 175.9L561.7 175L562 174.8L564 173.8L565.5 173L566 172.7L568 171.5L569.1 171L570 170.4L572 169.3L572.6 169L574 168.3L576 167.3L576.6 167L578 166.3L580 165.3L580.6 165L582 164.3L584 163.3L584.6 163L586 162.3L588 161.3L588.8 161L590 160.5L592 159.8L594 159.8L596 160.2L598 160.8L598.7 161L600 161.4L602 161.9L604 162.5L605.6 163L606 163.1L608 163.7L610 164.3L612 164.9L612.5 165L614 165.4L616 165.9L618 166.4L620 166.9L620.3 167L622 167.4L624 167.9L626 168.4L628 168.8L629.5 169L630 169.1L632 169.2L634 169.2L636 169.3L638 169.3L640 169.3L642 169.3L644 169.3L646 169.3L648 169.3L650 169.3M484 228.8L483.7 229L482 230.4L481.7 231L481.4 233L481.9 235L482 235.2L483.4 237L484 237.6L485.3 239L486 239.8L487 241L488 243L488 243L488.4 245L488.1 247L488 247.3L487 249L486 250.7L485.7 251L484 252.9L483.6 253L482 253.6L481.2 253L480 251.8L479.5 251L478.4 249L478 248.5L476.4 247L476 246.7L474 245.7L472.9 245L472 244.5L470 243.1L469.8 243L468 241.9L466.3 241L466 240.8L464 240.3L462 240.1L460 239.9L458 239.7L456 239.6L454 240.2L452.6 241L453.9 243L454 243.1L455.1 245L456 246.1L456.4 247L457.6 249L458 249.6L458.8 251L460 253L460 253L461.1 255L462 256.4L462.4 257L463.7 259L464 259.4L465.3 261L466 261.9L467 263L468 264.1L468.9 265L470 266.3L470.9 267L472 268.4L472.9 269L474 269.9L476 269.9L478 269.3L479.3 269L480 268.7L482 268.9L482.3 269L484 269.4L486 269.9L488 270.3L490 270.7L492 271L492 271L494 271.3L496 271.5L498 271.8L500 272.1L502 272.3L504 272.6L506 272.8L507.9 273L508 273L510 273.2L512 273.6L514 274.2L515.4 275L516 275.3L518 276.8L518.2 277L520 278.6L520.4 279L522 280.5L522.5 281L524 282.5L524.5 283L526 284.5L526.5 285L528 286.4L528.6 287L530 288.1L532 288.6L534 287.6L534.4 287L535 285L534.9 283L534.5 281L534.2 279L534 278L533.8 277L533.4 275L532.9 273L532.3 271L532 270.2L531.4 269L530.6 267L530 265.3L529.9 265L529.4 263L529.2 261L528.7 259L528 257.7L526.7 257L526 256.8L524 256.7L522 256.8L520 257L519.7 257L518 257.1L516 257.3L514 257.3L512 257.1L511.7 257L510 256.5L508 255.6L507.1 255L506 254L505.2 253L504 251L504 250.9L503 249L502 247.5L501.7 247L500.2 245L500 244.8L498.5 243L498 242.4L496.8 241L496 240L495.1 239L494 237.7L493.4 237L492 235.2L491.8 235L490.2 233L490 232.8L488.3 231L488 230.7L486 229.2L484.8 229ZM282 359.4L284 360.2L285.3 361L286 361.4L288 362.8L288.2 363L290 364.4L290.6 365L292 366.6L292.2 367L293 369L293.5 371L294 372.9L294 373L294.3 375L294.6 377L294.8 379L295.1 381L295.5 383L295.9 385L296 385.7L296.1 387L296.4 389L296.6 391L297 393L297.4 395L297.8 397L298 397.7L298.2 399L298.5 401L298.9 403L299.4 405L299.9 407L300 407.6L300.2 409L300.6 411L301.1 413L301.7 415L302 415.7L302.3 417L303.1 419L304 420.8L304.1 421L304.9 423L305.8 425L306 425.3L306.7 427L307.6 429L308 429.9L308.5 431L309.3 433L310 434.4L310.2 435L310.9 437L311.2 439L311.1 441L310.6 443L310 444.9L310 445L309.2 447L308.5 449L308 450.7L307.9 451L307.6 453L308 454.3L308.3 455L310 456.4L311 457L312 457.5L314 458.3L315.9 459L316 459L318 459.8L320 460.4L322 460.8L324 460.6L326 459.7L327.1 459L328 458.4L330 457L330 457L332 455.6L332.9 455L334 454.2L335.5 453L336 452.5L337.4 451L338 449.8L338.5 449L339.3 447L339.8 445L340 444.2L340.5 443L341.2 441L341.8 439L342 438.2L343.1 437L343.9 435L344 434.5L344.2 435L344.6 437L344.7 439L344.8 441L344.8 443L344.7 445L344.6 447L344.4 449L344 451L344 451L343.2 453L342 455L342 455L340.4 457L340 457.4L338.9 459L338 460.3L337.5 461L336.3 463L336 463.5L335.1 465L334 466.8L333.9 467L332.7 469L332 470.1L331.5 471L330.4 473L330 473.9L329.5 475L328.9 477L328.5 479L328.1 481L328 481.6L327.7 483L327.4 485L327 487L326.6 489L326.3 491L326 492.8L326 493L325.7 495L325.5 497L325.5 499L325.9 501L326 501.3L326.8 503L327.8 505L328 506L328.3 507L328 507.7L327.3 509L326 509.8L324 510.8L323.5 511L322 511.4L320 511.6L318 511.2L317.7 511L316 509.9L315.1 509L314 507.8L313.3 507L312 505.2L311.9 505L310.5 503L310 502.2L309.2 501L308 499.1L308 499L306.7 497L306 495.9L305.4 495L304.2 493L304 492.7L302.9 491L302 489.6L301.4 489L300 487.3L299.4 487L298 485.8L296 485.6L294 486.1L292.1 487L292 487L290 487.4L288 487.9L286 488.3L284 488.8L283.1 489L282 489.2L280 489.1L279.9 489L279.4 487L279.7 485L280 484.3L280.8 483L281.8 481L282 480.6L283.2 479L284 477.5L284.5 477L285.9 475L286 474.7L287.4 473L287.9 471L288 470.5L288.5 469L289.4 467L290 466.1L290.7 465L292 463.2L292.1 463L293.7 461L294 460.5L294.8 459L295.2 457L294.5 455L294 454.4L292.9 453L292 452.1L290.8 451L290 450.3L288.5 449L288 448.6L286.1 447L286 446.9L284 445.2L283.8 445L282 443.5L281.4 443L280 441.8L279.2 441L278 439.6L277.7 439L277.2 437L277.4 435L278 433L278 432.9L278.9 431L279.8 429L280 428.4L280.7 427L281.6 425L282 424.1L282.6 423L283.5 421L284 419.7L284.3 419L285 417L285.3 415L285.4 413L285.2 411L285 409L284.7 407L284.3 405L284 403.4L283.9 403L283.7 401L283.4 399L283.1 397L282.8 395L282.4 393L282.1 391L282 390.7L281.8 389L281.5 387L281.2 385L280.9 383L280.6 381L280.3 379L280 377L280 376.7L279.8 375L279.7 373L279.6 371L279.6 369L279.6 367L279.7 365L279.9 363L280 361.9L280.3 361ZM502 428.7L504 428.1L506 428L508 428.3L510 428.9L510.4 429L512 429.7L514 430.8L514.3 431L516 432.2L517.1 433L518 433.8L519.2 435L520 436L520.7 437L521.8 439L522 439.5L522.6 441L523.1 443L523.2 445L523.1 447L523.3 449L523.9 451L524 451.4L524.5 453L525.3 455L526 456.3L526.7 457L528 458.1L530 457.8L531 457L532 456.6L534 455.2L534.2 455L536 453.6L536.7 453L538 451.9L539.5 451L540 450.7L542 450.5L543.6 451L544 451.1L546 452.1L547.9 453L548 453.1L550 454L552 454.9L552.2 455L554 455.8L556 456.5L557.5 457L558 457.2L560 457.7L562 457.7L564 457.6L566 457.6L568 458.7L568.2 459L568.2 461L568 461.3L566 462.3L564 461.8L562 461.4L560 461.3L558 461.6L556 462.3L554.8 463L554 463.3L552 464.4L551.1 465L550 465.7L548.3 467L548 467.3L546 468.8L545.7 469L544 469.9L542 470.1L540 469.3L539.6 469L538 467.9L537 467L536 466.1L534.8 465L534 464.2L532.6 463L532 462.4L530 461.3L528 461.4L526.7 463L526.2 465L526.3 467L526.7 469L527.2 471L527.9 473L528 473.2L528.7 475L529.5 477L529.9 479L529.3 481L528 482.8L527.8 483L526 484.8L525.6 485L524 485.9L522 486L520 485.6L518 485.1L517.5 485L516 484.7L514 484.3L512 484.1L510 483.9L508 483.8L506 483.8L504 483.7L502 483.7L500 483.7L498 483.5L496 483.1L495.8 483L494 482.2L492 481.2L490 481L488 481.4L486 482L484 482.7L483.4 483L482 483.7L480 484.7L479.5 485L478 485.8L476 486.9L475.8 487L474 488L472.1 489L472 489.1L470 490L468 490.7L466.4 491L466 491.1L464 491L463.5 491L462 490.8L460 490.8L459.4 491L458 491.4L456 492L454 491.6L452.9 491L452 490.5L450 489.1L449.9 489L448 487.6L447.2 487L446 486.1L444.6 485L444 484.5L442.1 483L442 483L440 481.2L439.8 481L438.5 479L438.5 477L439.7 475L440 474.7L441.9 473L442 472.9L444 471.6L444.9 471L446 470.4L448 469.3L448.6 469L450 468.3L452 467.4L452.9 467L454 466.4L456 465.3L456.5 465L458 463.8L459 463L460 461.9L460.8 461L462 459.5L462.4 459L463.9 457L464 456.9L465.6 455L466 454.6L468 453.2L468.8 453L470 452.8L472 452.8L473.8 453L474 453L476 453.3L478 453.6L480 453.9L482 454.1L484 454.4L486 454.8L487.4 455L488 455.1L490 455.6L492 456.3L493.6 457L494 457.2L496 458.6L496.6 459L498 460L499.9 461L500 461L502 461.4L504 461.3L506 461L506.1 461L508 460.6L510 460L511.8 459L511.3 457L510 455.8L509.3 455L508 454.1L506.7 453L506 452.5L504.1 451L504 450.9L502.1 449L502 448.9L500.9 447L500 445.1L499.9 445L499.1 443L498.3 441L498 439.9L497.7 439L497.3 437L497.4 435L498 433.5L498.3 433L499.6 431L500 430.5L501.6 429ZM600 288.7L602 288.2L604 287.7L606 287.3L608 287.1L610 287.7L611.5 289L612 289.6L612.9 291L613.8 293L614 293.4L614.7 295L615.3 297L615.6 299L615.5 301L615.4 303L615.1 305L614.9 307L614.6 309L614.4 311L614 313L614 313.1L613.6 315L612.6 317L612 317.6L611 319L610 319.9L609.1 321L608 322.2L607.3 323L606 324.5L605.6 325L604 326.9L603.9 327L602.1 329L602 329.1L600 330.4L598 330.6L596 329.9L594.8 329L594 328.6L592 327.5L591 327L590 326.5L588 325.8L586 325.3L584 325.1L582.7 325L582 324.9L580 324.8L578 324.6L576 324.2L574 323.6L572.8 323L572 322.6L570 321.4L569.3 321L568 320.2L566 319L566 319L564 317.9L562.3 317L562 316.8L560 315.9L558.4 315L558 314.7L556.3 313L556 312.3L555.5 311L555.7 309L556 307.1L556 307L556.3 305L556.6 303L556.9 301L557.2 299L557.6 297L558 295.9L558.7 295L560 294.3L562 294.1L564 294.2L566 294.5L568 294.6L570 294.7L572 294.5L574 294.2L576 293.8L578 293.4L580 293L580 293L582 292.6L584 292.2L586 291.8L588 291.4L589.8 291L590 291L592 290.5L594 290.1L596 289.6L598 289.2L598.9 289ZM478 308.5L480 307.5L482 307.2L484 307.2L486 307.4L488 307.6L490 307.8L492 308L494 308.2L496 308.4L498 308.6L500 308.8L502 309L502.4 309L504 309.2L506 309.4L508 309.6L510 309.8L512 310L514 310.2L516 310.4L518 310.8L518.6 311L520 311.8L520.9 313L521.2 315L521.1 317L520.8 319L520.3 321L520 322.1L519.8 323L519.3 325L518.7 327L518.2 329L518 329.6L517.6 331L517.1 333L516.6 335L516.1 337L516 337.3L515.7 339L515.4 341L514.1 343L514 343.1L512 343.7L510 344L508 344.2L506 344.3L504 344.3L502 344.4L500 344.3L498 344.1L496 343.7L494.4 343L494 342.8L492 341.7L490.9 341L490 340.5L488 339.3L487.6 339L486 338.1L484.2 337L484 336.9L482 335.8L480.7 335L480 334.6L478 333.5L477.2 333L476 332.4L474 331.3L473.3 331L472 330.4L470 329.5L468.7 329L468 328.6L466 327.8L465.3 327L464.9 325L465.7 323L466 322.7L467.1 321L468 320L468.8 319L470 317.7L470.5 317L472 315.3L472.2 315L473.9 313L474 312.8L475.5 311L476 310.4L477.3 309ZM508 436.1L510 436.2L511 437L512 438.8L512.1 439L512 440.3L512 441L511.1 443L510 444.3L508 444.4L506.2 443L506 442.8L505.4 441L505.4 439L506 437.8L506.6 437Z"/><path stroke-width="2" stroke-dasharray="7 3" d="M650 550.6L648 550.1L646 549.8L644 549.9L642 550L640 550.1L638 550.3L636 550.5L634 550.7L632 550.9L630 550.9L628 550.9L626 550.6L624 550.4L622 550.1L620 549.9L618 549.7L616 549.4L614 549.2L612.8 549L612 548.9L610 548.7L608 548.3L606 547.6L604.2 547L604 546.9L602 546.4L600 545.8L598 545.2L597.4 545L596 544.6L594 544.1L592 543.3L591.3 543L590 542.5L588 541.4L587.3 541L586 540.4L584 539.6L582 539.3L580 539.3L578 539.5L576 539.7L574 539.9L572 540.1L570 540.2L568 540.4L566 540.6L564 540.8L562 541L561.7 541L560 541.3L558 541.6L556 541.9L554 542.1L552 542.5L550.4 543L550 543.2L548 544.3L546.8 545L546 545.4L544 546.6L543.2 547L542 547.8L540 549L539.9 549L538 550.3L536.9 551L536 551.6L534 552.9L533.9 553L532 554.3L530.8 555L530 555.5L528 556.7L527.5 557L526 557.9L524 559L523.9 559L522 560.2L520.5 561L520 561.4L518 563L518 563L516.8 565L516.1 567L516 567.2L515.5 569L514.7 571L514 571.9L512.8 573L512 573.5L510 574.2L508 574.5L506 574.7L504 574.8L502 575L500.6 575L500 575L498 575L496 575L495 575L494 575L492 574.9L490 574.8L488 574.7L486 574.6L484 574.6L482 574.5L480 574.4L478 574.4L476 574.5L474.2 575L474 575L472 576L470 576.9L469.6 577L468 577.7L466 578.2L464 578.4L462 578.3L460 578L458 577.5L456 577.1L455.4 577L454 576.8L452 576.7L450 576.6L448 576.5L446 576.4L444 576.2L442 576L440 575.9L438 575.8L436 575.9L434 576.3L432 576.9L431.7 577L430 577.7L428 578.5L426.5 579L426 579.2L424 579.9L422 580.5L420 581L419.9 581L418 581.6L416 582.2L414 582.7L412.9 583L412 583.3L410 583.9L408 584.4L406 584.8L405 585L404 585.2L402 585.7L400 586.1L398 586.6L396.4 587L396 587.1L394 587.6L392 588.1L390 588.6L388.6 589L388 589.2L386 589.9L384 590.8L383.7 591L382 592.1L380.7 593L380 593.5L378 595L378 595L376 596.5L375.4 597L374 598L372.7 599L372 599.5L370 601L370 601L368 602.5L367.2 603L366 603.7L364 604.8L363.5 605L362 605.7L360 606.5L358.8 607L358 607.3L356 608.2L354 609L354 609L352 609.8L350 610.5L348 610.9L346 610.9L344 610.9L342 610.8L340 610.6L338 610.5L336 610.4L334 610.2L332 609.8L330 609.2L329.5 609L328 608.4L326 607.6L324.4 607L324 606.9L322 606.1L320 605.3L319.1 605L318 604.6L316 603.8L314 603.1L313.7 603L312 602.4L310 601.7L308 601L308 601L306 600.3L304 599.6L302.5 599L302 598.8L300 598L298 597.2L297.6 597L296 595.9L294.8 595L294 593.9L293.1 593L292 591.2L291.8 591L290.4 589L290 588.2L288.7 587L288 586.3L286.5 585L286 584.6L284 583L284 583L282 582.3L280 581.7L278 581.3L276.5 581L276 581L274 580.7L272 580.4L270 579.8L268 579.1L267.7 579L266 578.5L264 577.9L262 577.1L261.7 577L260 576.5L258 575.8L256.3 575L256 574.8L254 573.4L253.5 573L252.6 571L252.4 569L252.2 567L252 566L251.7 565L250 563.1L249.9 563L248 562.2L246 561.5L245 561L244 560.7L242 559.6L241.2 559L240 557.9L239.3 557L238 555.2L237.8 555L236.4 553L236 552.5L234.7 551L234 550.3L232.3 549L232 548.8L230 548.3L228 548.5L226 549L225.8 549L224 549.6L222 550.2L220 550.6L218.2 549L218 548.8L217.1 547L216 545.1L216 545L214.9 543L214 541.1L214 541L213.3 539L212.6 537L212 535L212 535L211.4 533L211 531L210.9 529L210.9 527L211.1 525L211.3 523L211.6 521L211.8 519L211.9 517L211.7 515L211.2 513L210.6 511L210 509L210 509L209.3 507L208.6 505L208 503L208 502.9L207.3 501L206.6 499L206 498L205.3 497L204 495.6L203.4 495L202 493.7L201.2 493L200 491.9L199 491L198 489.9L197.1 489L196 487.3L195.7 487L194.6 485L194 483.4L193.8 483L192.7 481L192 480.1L190.8 479L190 478.6L188.1 477L188 476.9L186.6 475L186 474.2L185.3 473L184.2 471L184 470.7L183.1 469L182.2 467L182 465.9L181.8 465L181.8 463L181.9 461L182 459.9L182 459L182 458.2L181.9 457L181.5 455L180.8 453L180 451L180 451L179.1 449L178.2 447L178 446.6L177.1 445L176.2 443L176 442.4L175.1 441L174.3 439L174 437.6L173.4 437L172.6 435L172.3 433L172.6 431L173.1 429L173.6 427L173.9 425L174 423.9L174.1 423L174.4 421L175.1 419L175.9 417L176 416.8L178 415.4L178.1 415L180 414.6L182 413.3L182.2 413L184 412.4L186 411.1L186.1 411L188 410.1L189.3 409L190 408.5L191.3 407L192 406.2L192.9 405L194 403.4L194.3 403L195.7 401L196 400.5L196.9 399L197.9 397L198 396.7L198.5 395L199.1 393L199.7 391L200 390.1L200.3 389L200.9 387L201.5 385L201.9 383L202 382.4L202.1 381L202.1 379L202.1 377L202.1 375L202.1 373L202.1 371L202.1 369L202.1 367L202.1 365L202.1 363L202 361L202 360.3L202 359L201.9 357L201.9 355L201.8 353L201.8 351L201.7 349L201.6 347L201.6 345L201.5 343L201.4 341L201.3 339L201.2 337L201.1 335L201 333L200.8 331L200.7 329L200.5 327L200.4 325L200.2 323L200 321L200 320.7L199.7 319L199.1 317L198.3 315L198 314.3L197.2 313L196.1 311L196 310.8L194.9 309L194 307.2L193.9 307L192.8 305L192 303.4L191.8 303L190.7 301L190 300L189.2 299L188 297.5L187.5 297L186 295.4L185.6 295L184 293.3L183.7 293L182 291.2L181.8 291L180 289.2L179.8 289L178 287.2L177.9 287L176.3 285L176 284.5L175.1 283L174 281.1L173.9 281L172.7 279L172 277.7L171.6 277L170.5 275L170 274.2L169.3 273L168.2 271L168 270.7L167 269L166 267.2L165.9 267L164.7 265L164 263.8L163.5 263L162.3 261L162 260.5L161.1 259L160 257.1L160 257L158.7 255L158 253.6L157.6 253L156.4 251L156 250.2L155.1 249L154 247.1L153.9 247L152.1 245L152 244.9L150 243.5"/></g>
<g shape-rendering="crispEdges">
<g stroke="#fff" stroke-width="1.2" fill="none"><line x1="173" y1="87" x2="190" y2="687"/><line x1="264" y1="87" x2="275.5" y2="687"/><line x1="355.5" y1="87" x2="361.5" y2="687"/><line x1="446.5" y1="87" x2="446.5" y2="687"/><line x1="537" y1="87" x2="531" y2="687"/><line x1="627.5" y1="87" x2="617" y2="687"/><polyline points="150,116 275,115 400,112 525,112.5 649,114.5"/><polyline points="150,220.5 275,217.5 400,216.5 525,218 649,219.5"/><polyline points="150,325.5 275,323.25 400,322 525,323 649,324.5"/><polyline points="150,431 275,429 400,427.3 525,427.6 649,429.5"/><polyline points="150,535.5 275,533.5 400,531 525,532 649,534"/><polyline points="150,640 275,638 400,636 525,636 649,638"/></g>
<rect x="207" y="144" width="385" height="487" fill="none" stroke="#fff" stroke-width="2" stroke-dasharray="10.5 4.5"/>
<rect x="150.5" y="87.5" width="498" height="600" fill="none" stroke="#000" stroke-width="1"/>
</g>
<g font-size="10.8" fill="#000" stroke="#000" stroke-width="0.2"><text x="172" y="85" text-anchor="middle">18E</text><text x="190" y="702" text-anchor="middle">18E</text><text x="263" y="80.5" text-anchor="middle">19E</text><text x="275.6" y="700" text-anchor="middle">19E</text><text x="355" y="79.5" text-anchor="middle">20E</text><text x="360" y="698.8" text-anchor="middle">20E</text><text x="444.5" y="79.5" text-anchor="middle">21E</text><text x="444.5" y="698.8" text-anchor="middle">21E</text><text x="535" y="80.5" text-anchor="middle">22E</text><text x="528.8" y="700" text-anchor="middle">22E</text><text x="626" y="82" text-anchor="middle">23E</text><text x="616" y="702" text-anchor="middle">23E</text><text x="154.5" y="120.6" text-anchor="middle">30S</text><text x="652.5" y="119.15" text-anchor="middle">30S</text><text x="157" y="225.6" text-anchor="middle">31S</text><text x="650" y="224.20000000000002" text-anchor="middle">31S</text><text x="160" y="330.6" text-anchor="middle">32S</text><text x="647.6" y="328.4" text-anchor="middle">32S</text><text x="133" y="435.6" text-anchor="middle">33S</text><text x="646" y="433.4" text-anchor="middle">33S</text><text x="134" y="540.6" text-anchor="middle">34S</text><text x="645" y="538.4" text-anchor="middle">34S</text><text x="139.5" y="645.6" text-anchor="middle">35S</text><text x="642" y="642.8" text-anchor="middle">35S</text></g>
<text x="302" y="25" font-size="19.6" font-weight="bold" textLength="132" lengthAdjust="spacingAndGlyphs">Cu Cloudbase</text>
<text x="438.5" y="24" font-size="12" font-weight="bold" textLength="59" lengthAdjust="spacingAndGlyphs">(Sfc. LCL)</text>
<text x="224.5" y="48" font-size="16.4" textLength="300" lengthAdjust="spacingAndGlyphs" stroke="#000" stroke-width="0.3">Valid 1400 LST [1200Z] FRI 16 Dec 2005</text>
<text x="527.5" y="46" font-size="10" textLength="47.5" lengthAdjust="spacingAndGlyphs">(18hrFcst)</text>
<text x="303.5" y="68.5" font-size="13" textLength="191.5" lengthAdjust="spacingAndGlyphs" stroke="#000" stroke-width="0.25">RASP BLIPMAP - WRF Forecast</text>
<text x="591.5" y="716" font-size="11" textLength="113" lengthAdjust="spacingAndGlyphs">Terrain contours: 250 ft</text>
<g shape-rendering="crispEdges">
<rect x="120.50" y="724.5" width="30.69" height="15" fill="#0000ff" stroke="#000" stroke-width="1"/><rect x="151.19" y="724.5" width="30.69" height="15" fill="#0055ff" stroke="#000" stroke-width="1"/><rect x="181.89" y="724.5" width="30.69" height="15" fill="#00aaff" stroke="#000" stroke-width="1"/><rect x="212.58" y="724.5" width="30.69" height="15" fill="#00ffff" stroke="#000" stroke-width="1"/><rect x="243.28" y="724.5" width="30.69" height="15" fill="#00e6aa" stroke="#000" stroke-width="1"/><rect x="273.97" y="724.5" width="30.69" height="15" fill="#00cc55" stroke="#000" stroke-width="1"/><rect x="304.67" y="724.5" width="30.69" height="15" fill="#00b30a" stroke="#000" stroke-width="1"/><rect x="335.36" y="724.5" width="30.69" height="15" fill="#55cc0a" stroke="#000" stroke-width="1"/><rect x="366.06" y="724.5" width="30.69" height="15" fill="#aae00a" stroke="#000" stroke-width="1"/><rect x="396.75" y="724.5" width="30.69" height="15" fill="#ffff00" stroke="#000" stroke-width="1"/><rect x="427.44" y="724.5" width="30.69" height="15" fill="#ffe000" stroke="#000" stroke-width="1"/><rect x="458.14" y="724.5" width="30.69" height="15" fill="#ffc000" stroke="#000" stroke-width="1"/><rect x="488.83" y="724.5" width="30.69" height="15" fill="#ffa000" stroke="#000" stroke-width="1"/><rect x="519.53" y="724.5" width="30.69" height="15" fill="#ff7000" stroke="#000" stroke-width="1"/><rect x="550.22" y="724.5" width="30.69" height="15" fill="#ff4000" stroke="#000" stroke-width="1"/><rect x="580.92" y="724.5" width="30.69" height="15" fill="#ff0000" stroke="#000" stroke-width="1"/><rect x="611.61" y="724.5" width="30.69" height="15" fill="#cc0033" stroke="#000" stroke-width="1"/><rect x="642.31" y="724.5" width="30.69" height="15" fill="#990066" stroke="#000" stroke-width="1"/><text x="120.5" y="758.5" text-anchor="middle" font-size="15.9" stroke="#000" stroke-width="0.3">0</text><text x="212.6" y="758.5" text-anchor="middle" font-size="15.9" stroke="#000" stroke-width="0.3">3000</text><text x="304.7" y="758.5" text-anchor="middle" font-size="15.9" stroke="#000" stroke-width="0.3">6000</text><text x="396.8" y="758.5" text-anchor="middle" font-size="15.9" stroke="#000" stroke-width="0.3">9000</text><text x="488.8" y="758.5" text-anchor="middle" font-size="15.9" stroke="#000" stroke-width="0.3">12000</text><text x="580.9" y="758.5" text-anchor="middle" font-size="15.9" stroke="#000" stroke-width="0.3">15000</text><text x="673.0" y="758.5" text-anchor="middle" font-size="15.9" stroke="#000" stroke-width="0.3">18000</text><text x="400" y="785" text-anchor="middle" font-size="15.5" stroke="#000" stroke-width="0.3">(ft)</text>
</g>
</svg>
</body></html>
